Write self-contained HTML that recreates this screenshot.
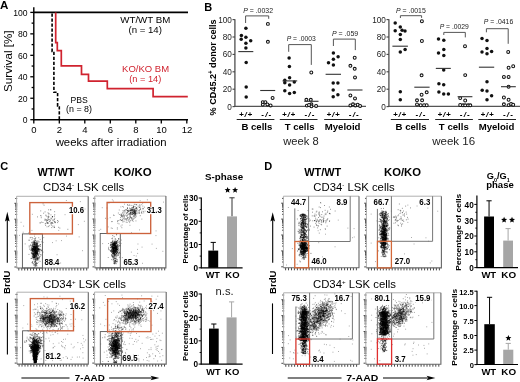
<!DOCTYPE html>
<html><head><meta charset="utf-8"><style>
html,body{margin:0;padding:0;background:#fff;}
svg{display:block;font-family:"Liberation Sans", sans-serif;filter:blur(0.3px);}
</style></head><body>
<svg width="520" height="382" viewBox="0 0 520 382">
<rect width="520" height="382" fill="#fff"/>
<text x="0.10" y="8.70" font-size="11.6" font-weight="bold">A</text>
<line x1="33.80" y1="7.30" x2="33.80" y2="120.30" stroke="#000" stroke-width="1.4"/>
<line x1="33.20" y1="119.70" x2="188.00" y2="119.70" stroke="#000" stroke-width="1.4"/>
<line x1="30.30" y1="119.70" x2="33.80" y2="119.70" stroke="#000" stroke-width="1.3"/>
<text x="27.60" y="123.20" font-size="8.6" text-anchor="end">0</text>
<line x1="31.60" y1="108.97" x2="33.80" y2="108.97" stroke="#000" stroke-width="1.3"/>
<line x1="30.30" y1="98.24" x2="33.80" y2="98.24" stroke="#000" stroke-width="1.3"/>
<text x="27.60" y="101.74" font-size="8.6" text-anchor="end">20</text>
<line x1="31.60" y1="87.51" x2="33.80" y2="87.51" stroke="#000" stroke-width="1.3"/>
<line x1="30.30" y1="76.78" x2="33.80" y2="76.78" stroke="#000" stroke-width="1.3"/>
<text x="27.60" y="80.28" font-size="8.6" text-anchor="end">40</text>
<line x1="31.60" y1="66.05" x2="33.80" y2="66.05" stroke="#000" stroke-width="1.3"/>
<line x1="30.30" y1="55.32" x2="33.80" y2="55.32" stroke="#000" stroke-width="1.3"/>
<text x="27.60" y="58.82" font-size="8.6" text-anchor="end">60</text>
<line x1="31.60" y1="44.59" x2="33.80" y2="44.59" stroke="#000" stroke-width="1.3"/>
<line x1="30.30" y1="33.86" x2="33.80" y2="33.86" stroke="#000" stroke-width="1.3"/>
<text x="27.60" y="37.36" font-size="8.6" text-anchor="end">80</text>
<line x1="31.60" y1="23.13" x2="33.80" y2="23.13" stroke="#000" stroke-width="1.3"/>
<line x1="30.30" y1="12.40" x2="33.80" y2="12.40" stroke="#000" stroke-width="1.3"/>
<text x="27.60" y="15.90" font-size="8.6" text-anchor="end">100</text>
<line x1="33.80" y1="119.70" x2="33.80" y2="123.40" stroke="#000" stroke-width="1.3"/>
<text x="34.00" y="133.20" font-size="9.5" text-anchor="middle">0</text>
<line x1="59.30" y1="119.70" x2="59.30" y2="123.40" stroke="#000" stroke-width="1.3"/>
<text x="59.50" y="133.20" font-size="9.5" text-anchor="middle">2</text>
<line x1="84.80" y1="119.70" x2="84.80" y2="123.40" stroke="#000" stroke-width="1.3"/>
<text x="85.00" y="133.20" font-size="9.5" text-anchor="middle">4</text>
<line x1="110.30" y1="119.70" x2="110.30" y2="123.40" stroke="#000" stroke-width="1.3"/>
<text x="110.50" y="133.20" font-size="9.5" text-anchor="middle">6</text>
<line x1="135.80" y1="119.70" x2="135.80" y2="123.40" stroke="#000" stroke-width="1.3"/>
<text x="136.00" y="133.20" font-size="9.5" text-anchor="middle">8</text>
<line x1="161.30" y1="119.70" x2="161.30" y2="123.40" stroke="#000" stroke-width="1.3"/>
<text x="161.50" y="133.20" font-size="9.5" text-anchor="middle">10</text>
<line x1="186.80" y1="119.70" x2="186.80" y2="123.40" stroke="#000" stroke-width="1.3"/>
<text x="187.00" y="133.20" font-size="9.5" text-anchor="middle">12</text>
<text x="111.10" y="145.60" font-size="11.4" text-anchor="middle" textLength="110.8" lengthAdjust="spacingAndGlyphs">weeks after irradiation</text>
<text x="12.00" y="61.20" font-size="10.8" text-anchor="middle" textLength="61.4" lengthAdjust="spacingAndGlyphs" transform="rotate(-90 12.00 61.20)">Survival [%]</text>
<line x1="33.80" y1="12.40" x2="188.00" y2="12.40" stroke="#000" stroke-width="1.6"/>
<path d="M55.7 12.4 V42.7 H57.3 V50.6 H61.3 V65.8 H81.5 V74.4 H88.5 V81.1 H107.3 V88.7 H153.1 V96.7 H187.8" stroke="#d0232f" stroke-width="1.7" fill="none"/>
<path d="M52.1 12.4 V51.4 H53.9 V92.3 H57.6 V105.9 H59.3 V119.7" stroke="#000" stroke-width="1.6" fill="none" stroke-dasharray="3.3 1.7" stroke-dashoffset="3.9"/>
<text x="145.30" y="23.30" font-size="9.6" text-anchor="middle" textLength="50" lengthAdjust="spacingAndGlyphs">WT/WT BM</text>
<text x="145.20" y="32.80" font-size="9.6" text-anchor="middle" textLength="33.5" lengthAdjust="spacingAndGlyphs">(n = 14)</text>
<text x="145.60" y="71.70" font-size="9.6" text-anchor="middle" fill="#d0232f" textLength="47" lengthAdjust="spacingAndGlyphs">KO/KO BM</text>
<text x="145.30" y="81.90" font-size="9.6" text-anchor="middle" fill="#d0232f" textLength="32" lengthAdjust="spacingAndGlyphs">(n = 14)</text>
<text x="79.10" y="103.00" font-size="9.1" text-anchor="middle" textLength="17.3" lengthAdjust="spacingAndGlyphs">PBS</text>
<text x="79.00" y="112.40" font-size="9.1" text-anchor="middle" textLength="26" lengthAdjust="spacingAndGlyphs">(n = 8)</text>
<text x="204.20" y="10.50" font-size="11" font-weight="bold">B</text>
<text x="216.50" y="67.40" font-size="9.6" font-weight="bold" text-anchor="middle" textLength="96" lengthAdjust="spacingAndGlyphs" transform="rotate(-90 216.50 67.40)">% CD45.2<tspan font-size="6.5" dy="-3.5">+</tspan><tspan dy="3.5"> donor cells</tspan></text>
<line x1="234.90" y1="19.20" x2="234.90" y2="107.00" stroke="#555" stroke-width="1.35"/>
<line x1="234.30" y1="106.30" x2="366.00" y2="106.30" stroke="#555" stroke-width="1.35"/>
<line x1="232.50" y1="106.60" x2="234.90" y2="106.60" stroke="#444" stroke-width="1.1"/>
<text x="231.90" y="109.60" font-size="8.2" text-anchor="end" fill="#222">0</text>
<line x1="232.50" y1="89.20" x2="234.90" y2="89.20" stroke="#444" stroke-width="1.1"/>
<text x="231.90" y="92.20" font-size="8.2" text-anchor="end" fill="#222">20</text>
<line x1="232.50" y1="71.80" x2="234.90" y2="71.80" stroke="#444" stroke-width="1.1"/>
<text x="231.90" y="74.80" font-size="8.2" text-anchor="end" fill="#222">40</text>
<line x1="232.50" y1="54.40" x2="234.90" y2="54.40" stroke="#444" stroke-width="1.1"/>
<text x="231.90" y="57.40" font-size="8.2" text-anchor="end" fill="#222">60</text>
<line x1="232.50" y1="37.00" x2="234.90" y2="37.00" stroke="#444" stroke-width="1.1"/>
<text x="231.90" y="40.00" font-size="8.2" text-anchor="end" fill="#222">80</text>
<line x1="232.50" y1="19.60" x2="234.90" y2="19.60" stroke="#444" stroke-width="1.1"/>
<text x="231.90" y="22.60" font-size="8.2" text-anchor="end" fill="#222">100</text>
<line x1="388.90" y1="19.20" x2="388.90" y2="107.00" stroke="#555" stroke-width="1.35"/>
<line x1="388.30" y1="106.30" x2="520.00" y2="106.30" stroke="#555" stroke-width="1.35"/>
<line x1="386.50" y1="106.60" x2="388.90" y2="106.60" stroke="#444" stroke-width="1.1"/>
<text x="385.90" y="109.60" font-size="8.2" text-anchor="end" fill="#222">0</text>
<line x1="386.50" y1="89.20" x2="388.90" y2="89.20" stroke="#444" stroke-width="1.1"/>
<text x="385.90" y="92.20" font-size="8.2" text-anchor="end" fill="#222">20</text>
<line x1="386.50" y1="71.80" x2="388.90" y2="71.80" stroke="#444" stroke-width="1.1"/>
<text x="385.90" y="74.80" font-size="8.2" text-anchor="end" fill="#222">40</text>
<line x1="386.50" y1="54.40" x2="388.90" y2="54.40" stroke="#444" stroke-width="1.1"/>
<text x="385.90" y="57.40" font-size="8.2" text-anchor="end" fill="#222">60</text>
<line x1="386.50" y1="37.00" x2="388.90" y2="37.00" stroke="#444" stroke-width="1.1"/>
<text x="385.90" y="40.00" font-size="8.2" text-anchor="end" fill="#222">80</text>
<line x1="386.50" y1="19.60" x2="388.90" y2="19.60" stroke="#444" stroke-width="1.1"/>
<text x="385.90" y="22.60" font-size="8.2" text-anchor="end" fill="#222">100</text>
<circle cx="245.90" cy="28.20" r="1.75" fill="#111" stroke="none" stroke-width="1"/>
<circle cx="241.40" cy="35.40" r="1.75" fill="#111" stroke="none" stroke-width="1"/>
<circle cx="241.20" cy="39.20" r="1.75" fill="#111" stroke="none" stroke-width="1"/>
<circle cx="245.90" cy="37.30" r="1.75" fill="#111" stroke="none" stroke-width="1"/>
<circle cx="250.70" cy="40.70" r="1.75" fill="#111" stroke="none" stroke-width="1"/>
<circle cx="245.90" cy="43.20" r="1.75" fill="#111" stroke="none" stroke-width="1"/>
<circle cx="245.90" cy="48.10" r="1.75" fill="#111" stroke="none" stroke-width="1"/>
<circle cx="246.20" cy="62.40" r="1.75" fill="#111" stroke="none" stroke-width="1"/>
<circle cx="246.20" cy="87.10" r="1.75" fill="#111" stroke="none" stroke-width="1"/>
<circle cx="246.20" cy="96.90" r="1.75" fill="#111" stroke="none" stroke-width="1"/>
<circle cx="267.90" cy="23.90" r="1.45" fill="#fff" stroke="#111" stroke-width="1.05"/>
<circle cx="267.90" cy="41.80" r="1.45" fill="#fff" stroke="#111" stroke-width="1.05"/>
<circle cx="272.60" cy="97.90" r="1.45" fill="#fff" stroke="#111" stroke-width="1.05"/>
<circle cx="262.80" cy="102.10" r="1.45" fill="#fff" stroke="#111" stroke-width="1.05"/>
<circle cx="265.40" cy="102.10" r="1.45" fill="#fff" stroke="#111" stroke-width="1.05"/>
<circle cx="262.80" cy="104.60" r="1.45" fill="#fff" stroke="#111" stroke-width="1.05"/>
<circle cx="267.40" cy="104.40" r="1.45" fill="#fff" stroke="#111" stroke-width="1.05"/>
<circle cx="270.60" cy="105.40" r="1.45" fill="#fff" stroke="#111" stroke-width="1.05"/>
<line x1="238.30" y1="51.60" x2="253.30" y2="51.60" stroke="#333" stroke-width="1.1"/>
<line x1="260.20" y1="90.50" x2="275.20" y2="90.50" stroke="#333" stroke-width="1.1"/>
<circle cx="289.10" cy="58.00" r="1.75" fill="#111" stroke="none" stroke-width="1"/>
<circle cx="289.40" cy="66.50" r="1.75" fill="#111" stroke="none" stroke-width="1"/>
<circle cx="289.60" cy="77.70" r="1.75" fill="#111" stroke="none" stroke-width="1"/>
<circle cx="284.80" cy="80.30" r="1.75" fill="#111" stroke="none" stroke-width="1"/>
<circle cx="284.80" cy="82.70" r="1.75" fill="#111" stroke="none" stroke-width="1"/>
<circle cx="294.30" cy="82.10" r="1.75" fill="#111" stroke="none" stroke-width="1"/>
<circle cx="289.60" cy="85.00" r="1.75" fill="#111" stroke="none" stroke-width="1"/>
<circle cx="284.80" cy="90.70" r="1.75" fill="#111" stroke="none" stroke-width="1"/>
<circle cx="289.60" cy="93.50" r="1.75" fill="#111" stroke="none" stroke-width="1"/>
<circle cx="294.30" cy="92.40" r="1.75" fill="#111" stroke="none" stroke-width="1"/>
<circle cx="311.30" cy="72.50" r="1.45" fill="#fff" stroke="#111" stroke-width="1.05"/>
<circle cx="306.40" cy="99.80" r="1.45" fill="#fff" stroke="#111" stroke-width="1.05"/>
<circle cx="310.80" cy="99.80" r="1.45" fill="#fff" stroke="#111" stroke-width="1.05"/>
<circle cx="306.90" cy="105.60" r="1.45" fill="#fff" stroke="#111" stroke-width="1.05"/>
<circle cx="311.40" cy="104.30" r="1.45" fill="#fff" stroke="#111" stroke-width="1.05"/>
<circle cx="311.40" cy="106.30" r="1.45" fill="#fff" stroke="#111" stroke-width="1.05"/>
<circle cx="316.10" cy="105.90" r="1.45" fill="#fff" stroke="#111" stroke-width="1.05"/>
<circle cx="309.00" cy="105.00" r="1.45" fill="#fff" stroke="#111" stroke-width="1.05"/>
<line x1="282.50" y1="80.90" x2="297.20" y2="80.90" stroke="#333" stroke-width="1.1"/>
<line x1="304.30" y1="101.30" x2="318.50" y2="101.30" stroke="#333" stroke-width="1.1"/>
<circle cx="333.40" cy="53.10" r="1.75" fill="#111" stroke="none" stroke-width="1"/>
<circle cx="338.10" cy="56.70" r="1.75" fill="#111" stroke="none" stroke-width="1"/>
<circle cx="333.40" cy="59.30" r="1.75" fill="#111" stroke="none" stroke-width="1"/>
<circle cx="328.50" cy="62.70" r="1.75" fill="#111" stroke="none" stroke-width="1"/>
<circle cx="333.40" cy="64.90" r="1.75" fill="#111" stroke="none" stroke-width="1"/>
<circle cx="333.20" cy="82.90" r="1.75" fill="#111" stroke="none" stroke-width="1"/>
<circle cx="337.90" cy="82.90" r="1.75" fill="#111" stroke="none" stroke-width="1"/>
<circle cx="333.20" cy="90.10" r="1.75" fill="#111" stroke="none" stroke-width="1"/>
<circle cx="337.90" cy="94.70" r="1.75" fill="#111" stroke="none" stroke-width="1"/>
<circle cx="333.20" cy="96.80" r="1.75" fill="#111" stroke="none" stroke-width="1"/>
<circle cx="354.70" cy="57.70" r="1.45" fill="#fff" stroke="#111" stroke-width="1.05"/>
<circle cx="350.40" cy="65.80" r="1.45" fill="#fff" stroke="#111" stroke-width="1.05"/>
<circle cx="354.70" cy="68.80" r="1.45" fill="#fff" stroke="#111" stroke-width="1.05"/>
<circle cx="355.00" cy="77.40" r="1.45" fill="#fff" stroke="#111" stroke-width="1.05"/>
<circle cx="350.40" cy="95.40" r="1.45" fill="#fff" stroke="#111" stroke-width="1.05"/>
<circle cx="355.00" cy="98.40" r="1.45" fill="#fff" stroke="#111" stroke-width="1.05"/>
<circle cx="350.40" cy="105.40" r="1.45" fill="#fff" stroke="#111" stroke-width="1.05"/>
<circle cx="353.00" cy="104.30" r="1.45" fill="#fff" stroke="#111" stroke-width="1.05"/>
<circle cx="355.40" cy="105.40" r="1.45" fill="#fff" stroke="#111" stroke-width="1.05"/>
<circle cx="357.70" cy="104.70" r="1.45" fill="#fff" stroke="#111" stroke-width="1.05"/>
<circle cx="360.10" cy="105.90" r="1.45" fill="#fff" stroke="#111" stroke-width="1.05"/>
<line x1="325.60" y1="74.30" x2="341.00" y2="74.30" stroke="#333" stroke-width="1.1"/>
<line x1="347.40" y1="90.00" x2="362.50" y2="90.00" stroke="#333" stroke-width="1.1"/>
<circle cx="395.20" cy="23.00" r="1.75" fill="#111" stroke="none" stroke-width="1"/>
<circle cx="400.30" cy="27.10" r="1.75" fill="#111" stroke="none" stroke-width="1"/>
<circle cx="395.20" cy="30.70" r="1.75" fill="#111" stroke="none" stroke-width="1"/>
<circle cx="402.10" cy="30.20" r="1.75" fill="#111" stroke="none" stroke-width="1"/>
<circle cx="405.00" cy="31.00" r="1.75" fill="#111" stroke="none" stroke-width="1"/>
<circle cx="400.30" cy="34.60" r="1.75" fill="#111" stroke="none" stroke-width="1"/>
<circle cx="400.30" cy="39.60" r="1.75" fill="#111" stroke="none" stroke-width="1"/>
<circle cx="400.30" cy="52.10" r="1.75" fill="#111" stroke="none" stroke-width="1"/>
<circle cx="405.10" cy="49.50" r="1.75" fill="#111" stroke="none" stroke-width="1"/>
<circle cx="400.30" cy="91.80" r="1.75" fill="#111" stroke="none" stroke-width="1"/>
<circle cx="400.30" cy="99.80" r="1.75" fill="#111" stroke="none" stroke-width="1"/>
<circle cx="421.90" cy="21.30" r="1.45" fill="#fff" stroke="#111" stroke-width="1.05"/>
<circle cx="421.90" cy="41.00" r="1.45" fill="#fff" stroke="#111" stroke-width="1.05"/>
<circle cx="421.60" cy="75.30" r="1.45" fill="#fff" stroke="#111" stroke-width="1.05"/>
<circle cx="426.70" cy="92.30" r="1.45" fill="#fff" stroke="#111" stroke-width="1.05"/>
<circle cx="421.60" cy="94.70" r="1.45" fill="#fff" stroke="#111" stroke-width="1.05"/>
<circle cx="417.00" cy="100.30" r="1.45" fill="#fff" stroke="#111" stroke-width="1.05"/>
<circle cx="422.10" cy="100.30" r="1.45" fill="#fff" stroke="#111" stroke-width="1.05"/>
<circle cx="417.00" cy="104.50" r="1.45" fill="#fff" stroke="#111" stroke-width="1.05"/>
<circle cx="420.70" cy="105.20" r="1.45" fill="#fff" stroke="#111" stroke-width="1.05"/>
<circle cx="424.10" cy="105.20" r="1.45" fill="#fff" stroke="#111" stroke-width="1.05"/>
<circle cx="426.70" cy="105.20" r="1.45" fill="#fff" stroke="#111" stroke-width="1.05"/>
<line x1="392.40" y1="46.20" x2="407.90" y2="46.20" stroke="#333" stroke-width="1.1"/>
<line x1="414.30" y1="87.20" x2="429.60" y2="87.20" stroke="#333" stroke-width="1.1"/>
<circle cx="438.50" cy="39.10" r="1.75" fill="#111" stroke="none" stroke-width="1"/>
<circle cx="443.80" cy="40.30" r="1.75" fill="#111" stroke="none" stroke-width="1"/>
<circle cx="443.80" cy="49.40" r="1.75" fill="#111" stroke="none" stroke-width="1"/>
<circle cx="438.50" cy="52.90" r="1.75" fill="#111" stroke="none" stroke-width="1"/>
<circle cx="443.80" cy="55.40" r="1.75" fill="#111" stroke="none" stroke-width="1"/>
<circle cx="443.70" cy="70.10" r="1.75" fill="#111" stroke="none" stroke-width="1"/>
<circle cx="438.90" cy="83.80" r="1.75" fill="#111" stroke="none" stroke-width="1"/>
<circle cx="443.70" cy="84.80" r="1.75" fill="#111" stroke="none" stroke-width="1"/>
<circle cx="438.90" cy="92.10" r="1.75" fill="#111" stroke="none" stroke-width="1"/>
<circle cx="443.70" cy="94.10" r="1.75" fill="#111" stroke="none" stroke-width="1"/>
<circle cx="448.40" cy="94.10" r="1.75" fill="#111" stroke="none" stroke-width="1"/>
<circle cx="465.00" cy="46.20" r="1.45" fill="#fff" stroke="#111" stroke-width="1.05"/>
<circle cx="465.20" cy="75.10" r="1.45" fill="#fff" stroke="#111" stroke-width="1.05"/>
<circle cx="460.20" cy="98.10" r="1.45" fill="#fff" stroke="#111" stroke-width="1.05"/>
<circle cx="465.20" cy="100.50" r="1.45" fill="#fff" stroke="#111" stroke-width="1.05"/>
<circle cx="460.20" cy="105.00" r="1.45" fill="#fff" stroke="#111" stroke-width="1.05"/>
<circle cx="463.00" cy="105.30" r="1.45" fill="#fff" stroke="#111" stroke-width="1.05"/>
<circle cx="465.20" cy="105.30" r="1.45" fill="#fff" stroke="#111" stroke-width="1.05"/>
<circle cx="468.10" cy="105.30" r="1.45" fill="#fff" stroke="#111" stroke-width="1.05"/>
<circle cx="470.30" cy="105.30" r="1.45" fill="#fff" stroke="#111" stroke-width="1.05"/>
<line x1="435.80" y1="68.40" x2="450.80" y2="68.40" stroke="#333" stroke-width="1.1"/>
<line x1="457.60" y1="96.70" x2="472.40" y2="96.70" stroke="#333" stroke-width="1.1"/>
<circle cx="482.00" cy="38.50" r="1.75" fill="#111" stroke="none" stroke-width="1"/>
<circle cx="487.00" cy="40.40" r="1.75" fill="#111" stroke="none" stroke-width="1"/>
<circle cx="487.00" cy="48.60" r="1.75" fill="#111" stroke="none" stroke-width="1"/>
<circle cx="482.00" cy="52.10" r="1.75" fill="#111" stroke="none" stroke-width="1"/>
<circle cx="491.60" cy="51.60" r="1.75" fill="#111" stroke="none" stroke-width="1"/>
<circle cx="487.00" cy="53.80" r="1.75" fill="#111" stroke="none" stroke-width="1"/>
<circle cx="487.00" cy="81.70" r="1.75" fill="#111" stroke="none" stroke-width="1"/>
<circle cx="482.20" cy="90.30" r="1.75" fill="#111" stroke="none" stroke-width="1"/>
<circle cx="487.00" cy="91.00" r="1.75" fill="#111" stroke="none" stroke-width="1"/>
<circle cx="491.60" cy="95.80" r="1.75" fill="#111" stroke="none" stroke-width="1"/>
<circle cx="487.00" cy="99.70" r="1.75" fill="#111" stroke="none" stroke-width="1"/>
<circle cx="508.20" cy="51.90" r="1.45" fill="#fff" stroke="#111" stroke-width="1.05"/>
<circle cx="508.60" cy="67.70" r="1.45" fill="#fff" stroke="#111" stroke-width="1.05"/>
<circle cx="513.20" cy="66.20" r="1.45" fill="#fff" stroke="#111" stroke-width="1.05"/>
<circle cx="503.90" cy="76.90" r="1.45" fill="#fff" stroke="#111" stroke-width="1.05"/>
<circle cx="508.60" cy="76.90" r="1.45" fill="#fff" stroke="#111" stroke-width="1.05"/>
<circle cx="508.60" cy="86.70" r="1.45" fill="#fff" stroke="#111" stroke-width="1.05"/>
<circle cx="503.90" cy="97.50" r="1.45" fill="#fff" stroke="#111" stroke-width="1.05"/>
<circle cx="508.60" cy="99.70" r="1.45" fill="#fff" stroke="#111" stroke-width="1.05"/>
<circle cx="503.90" cy="104.30" r="1.45" fill="#fff" stroke="#111" stroke-width="1.05"/>
<circle cx="508.60" cy="105.10" r="1.45" fill="#fff" stroke="#111" stroke-width="1.05"/>
<circle cx="511.10" cy="104.00" r="1.45" fill="#fff" stroke="#111" stroke-width="1.05"/>
<circle cx="513.20" cy="104.70" r="1.45" fill="#fff" stroke="#111" stroke-width="1.05"/>
<line x1="478.90" y1="67.20" x2="494.20" y2="67.20" stroke="#333" stroke-width="1.1"/>
<line x1="501.00" y1="86.70" x2="515.80" y2="86.70" stroke="#333" stroke-width="1.1"/>
<path d="M245.6 23.0 V15.9 H268.7 V18.8" stroke="#555" stroke-width="1.0" fill="none"/>
<text x="243.20" y="12.70" font-size="7.2" fill="#1a1a1a" textLength="29.8" lengthAdjust="spacingAndGlyphs"><tspan font-style="italic">P</tspan> = .0032</text>
<path d="M288.7 51.8 V44.6 H311.3 V64.9" stroke="#555" stroke-width="1.0" fill="none"/>
<text x="286.70" y="41.40" font-size="7.2" fill="#1a1a1a" textLength="29.2" lengthAdjust="spacingAndGlyphs"><tspan font-style="italic">P</tspan> = .0003</text>
<path d="M333.4 46.0 V39.1 H355.3 V50.1" stroke="#555" stroke-width="1.0" fill="none"/>
<text x="332.00" y="35.50" font-size="7.2" fill="#1a1a1a" textLength="26.2" lengthAdjust="spacingAndGlyphs"><tspan font-style="italic">P</tspan> = .059</text>
<path d="M400.4 18.0 V15.7 H421.6 V17.9" stroke="#555" stroke-width="1.0" fill="none"/>
<text x="396.10" y="12.70" font-size="7.2" fill="#1a1a1a" textLength="29.7" lengthAdjust="spacingAndGlyphs"><tspan font-style="italic">P</tspan> = .0015</text>
<path d="M443.8 35.0 V32.4 H465.3 V37.4" stroke="#555" stroke-width="1.0" fill="none"/>
<text x="439.70" y="28.50" font-size="7.2" fill="#1a1a1a" textLength="29.2" lengthAdjust="spacingAndGlyphs"><tspan font-style="italic">P</tspan> = .0029</text>
<path d="M486.4 32.3 V28.7 H508.2 V43.8" stroke="#555" stroke-width="1.0" fill="none"/>
<text x="483.70" y="24.40" font-size="7.2" fill="#1a1a1a" textLength="29.5" lengthAdjust="spacingAndGlyphs"><tspan font-style="italic">P</tspan> = .0416</text>
<line x1="236.70" y1="119.50" x2="274.40" y2="119.50" stroke="#222" stroke-width="1.0"/>
<text x="256.90" y="130.00" font-size="9.6" font-weight="bold" text-anchor="middle">B cells</text>
<text x="238.90" y="116.70" font-size="8.0" font-weight="bold" font-style="italic" letter-spacing="0.85">+/+</text>
<text x="261.30" y="116.70" font-size="8.0" font-weight="bold" font-style="italic" letter-spacing="1.2">-/-</text>
<line x1="279.80" y1="119.50" x2="317.50" y2="119.50" stroke="#222" stroke-width="1.0"/>
<text x="299.60" y="130.00" font-size="9.6" font-weight="bold" text-anchor="middle">T cells</text>
<text x="282.00" y="116.70" font-size="8.0" font-weight="bold" font-style="italic" letter-spacing="0.85">+/+</text>
<text x="304.40" y="116.70" font-size="8.0" font-weight="bold" font-style="italic" letter-spacing="1.2">-/-</text>
<line x1="324.20" y1="119.50" x2="361.90" y2="119.50" stroke="#222" stroke-width="1.0"/>
<text x="342.60" y="130.00" font-size="9.6" font-weight="bold" text-anchor="middle">Myeloid</text>
<text x="326.40" y="116.70" font-size="8.0" font-weight="bold" font-style="italic" letter-spacing="0.85">+/+</text>
<text x="348.80" y="116.70" font-size="8.0" font-weight="bold" font-style="italic" letter-spacing="1.2">-/-</text>
<line x1="390.80" y1="119.50" x2="429.00" y2="119.50" stroke="#222" stroke-width="1.0"/>
<text x="411.00" y="130.00" font-size="9.6" font-weight="bold" text-anchor="middle">B cells</text>
<text x="393.00" y="116.70" font-size="8.0" font-weight="bold" font-style="italic" letter-spacing="0.85">+/+</text>
<text x="415.40" y="116.70" font-size="8.0" font-weight="bold" font-style="italic" letter-spacing="1.2">-/-</text>
<line x1="435.20" y1="119.50" x2="472.90" y2="119.50" stroke="#222" stroke-width="1.0"/>
<text x="453.80" y="130.00" font-size="9.6" font-weight="bold" text-anchor="middle">T cells</text>
<text x="437.40" y="116.70" font-size="8.0" font-weight="bold" font-style="italic" letter-spacing="0.85">+/+</text>
<text x="459.80" y="116.70" font-size="8.0" font-weight="bold" font-style="italic" letter-spacing="1.2">-/-</text>
<line x1="478.30" y1="119.50" x2="516.00" y2="119.50" stroke="#222" stroke-width="1.0"/>
<text x="496.50" y="130.00" font-size="9.6" font-weight="bold" text-anchor="middle">Myeloid</text>
<text x="480.50" y="116.70" font-size="8.0" font-weight="bold" font-style="italic" letter-spacing="0.85">+/+</text>
<text x="502.90" y="116.70" font-size="8.0" font-weight="bold" font-style="italic" letter-spacing="1.2">-/-</text>
<text x="301.00" y="144.80" font-size="11" text-anchor="middle" fill="#222" textLength="35.4" lengthAdjust="spacingAndGlyphs">week 8</text>
<text x="453.70" y="144.80" font-size="11" text-anchor="middle" fill="#222" textLength="43.0" lengthAdjust="spacingAndGlyphs">week 16</text>
<text x="0.30" y="170.40" font-size="11" font-weight="bold">C</text>
<text x="56.00" y="175.80" font-size="10.4" font-weight="bold" text-anchor="middle" textLength="37" lengthAdjust="spacingAndGlyphs">WT/WT</text>
<text x="132.80" y="175.80" font-size="10.4" font-weight="bold" text-anchor="middle" textLength="37.5" lengthAdjust="spacingAndGlyphs">KO/KO</text>
<text x="43.00" y="191.20" font-size="11" textLength="81.3" lengthAdjust="spacingAndGlyphs">CD34<tspan font-size="6" dy="-4">-</tspan><tspan dy="4"> LSK cells</tspan></text>
<text x="43.00" y="287.80" font-size="11" textLength="83" lengthAdjust="spacingAndGlyphs">CD34<tspan font-size="6" dy="-4">+</tspan><tspan dy="4"> LSK cells</tspan></text>
<line x1="7.30" y1="262.80" x2="7.30" y2="219.00" stroke="#000" stroke-width="1.1"/>
<path d="M7.3 211.8 L9.6 221.5 L7.3 220 L5.0 221.5 Z" stroke="none" stroke-width="0" fill="#000"/>
<text x="10.30" y="282.20" font-size="9.6" font-weight="bold" text-anchor="middle" textLength="23.4" lengthAdjust="spacingAndGlyphs" transform="rotate(-90 10.30 282.20)">BrdU</text>
<line x1="7.40" y1="302.80" x2="7.40" y2="354.50" stroke="#000" stroke-width="1.1"/>
<line x1="21.40" y1="378.00" x2="69.50" y2="378.00" stroke="#000" stroke-width="1.1"/>
<text x="89.80" y="381.20" font-size="9.6" font-weight="bold" text-anchor="middle" textLength="30" lengthAdjust="spacingAndGlyphs">7-AAD</text>
<line x1="109.10" y1="378.00" x2="153.00" y2="378.00" stroke="#000" stroke-width="1.1"/>
<path d="M159.4 378 L150.5 375.7 L152.5 378 L150.5 380.3 Z" stroke="none" stroke-width="0" fill="#000"/>
<path d="M18.8 268.0v2.5M21.8 268.0v2.5M24.7 268.0v2.5M27.6 268.0v2.5M30.6 268.0v2.5M33.5 268.0v2.5M36.5 268.0v2.5M39.5 268.0v2.5M42.4 268.0v2.5M45.4 268.0v2.5M48.3 268.0v2.5M51.3 268.0v2.5M54.2 268.0v2.5M57.2 268.0v2.5M60.1 268.0v2.5M63.1 268.0v2.5M66.0 268.0v2.5M69.0 268.0v2.5M71.9 268.0v2.5M74.9 268.0v2.5M77.8 268.0v2.5M80.8 268.0v2.5M83.7 268.0v2.5M86.7 268.0v2.5M17.2 267.0h-2.8M17.2 262.2h-2.0M17.2 259.4h-2.0M17.2 257.4h-2.0M17.2 255.9h-2.0M17.2 254.6h-2.0M17.2 253.5h-2.0M17.2 252.6h-2.0M17.2 251.8h-2.0M17.2 251.1h-2.8M17.2 246.3h-2.0M17.2 243.5h-2.0M17.2 241.5h-2.0M17.2 239.9h-2.0M17.2 238.7h-2.0M17.2 237.6h-2.0M17.2 236.7h-2.0M17.2 235.9h-2.0M17.2 235.1h-2.8M17.2 230.3h-2.0M17.2 227.5h-2.0M17.2 225.5h-2.0M17.2 224.0h-2.0M17.2 222.7h-2.0M17.2 221.7h-2.0M17.2 220.7h-2.0M17.2 219.9h-2.0M17.2 219.2h-2.8M17.2 214.4h-2.0M17.2 211.6h-2.0M17.2 209.6h-2.0M17.2 208.1h-2.0M17.2 206.8h-2.0M17.2 205.7h-2.0M17.2 204.8h-2.0M17.2 204.0h-2.0M17.2 203.3h-2.8M17.2 198.5h-2.0" stroke="#333" stroke-width="0.9"/>
<path d="M16.6 268.0V196.3H88.2" stroke="#b0b0b0" stroke-width="1.0" fill="none"/>
<path d="M88.2 196.3V268.0H16.6" stroke="#666" stroke-width="1.1" fill="none"/>
<g stroke="#000" stroke-width="0.9" stroke-opacity="0.55"><path d="M32.6 251.9h0.9M36.6 248.7h0.9M32.4 250.3h0.9M35.7 254.5h0.9M32.6 245.8h0.9M36.1 252.2h0.9M37.6 254.0h0.9M34.6 249.5h0.9M39.4 249.5h0.9M33.4 246.4h0.9M35.0 251.0h0.9M34.2 250.3h0.9M35.3 253.0h0.9M36.8 251.3h0.9M31.6 253.0h0.9M32.2 249.9h0.9M32.1 250.5h0.9M33.4 251.3h0.9M40.7 250.3h0.9M36.3 245.7h0.9M34.3 252.9h0.9M34.6 251.8h0.9M35.0 246.9h0.9M35.8 247.6h0.9M38.2 248.7h0.9M36.0 250.5h0.9M36.5 248.3h0.9M36.6 250.1h0.9M37.1 252.7h0.9M35.1 247.7h0.9M36.2 252.2h0.9M37.8 249.1h0.9M35.8 252.3h0.9M35.3 251.3h0.9M35.1 248.3h0.9M33.0 249.1h0.9M35.9 255.9h0.9M36.6 254.3h0.9M36.2 253.0h0.9M35.1 253.3h0.9M38.0 249.3h0.9M33.6 257.6h0.9M35.2 254.0h0.9M36.4 246.4h0.9M39.2 256.9h0.9M35.1 253.2h0.9M35.0 247.3h0.9M34.6 251.8h0.9M36.8 253.1h0.9M34.9 255.4h0.9M33.4 253.4h0.9M36.8 249.4h0.9M31.6 247.2h0.9M35.2 252.4h0.9M37.6 246.9h0.9M34.8 252.8h0.9M34.5 242.0h0.9M36.3 258.8h0.9M36.6 247.2h0.9M34.1 251.3h0.9M39.3 252.7h0.9M35.0 256.1h0.9M34.7 257.2h0.9M33.6 248.8h0.9M36.1 255.6h0.9M36.0 251.6h0.9M31.5 247.9h0.9M33.7 248.6h0.9M35.9 249.3h0.9M36.2 250.8h0.9"/><path d="M34.2 250.9h0.9M35.6 253.6h0.9M33.9 249.7h0.9M32.3 256.3h0.9M37.4 249.9h0.9M33.9 246.1h0.9M35.1 251.2h0.9M38.7 251.4h0.9M33.4 241.7h0.9M37.3 251.2h0.9M31.9 251.1h0.9M31.9 263.0h0.9M36.8 252.6h0.9M34.5 242.8h0.9M34.6 244.9h0.9M35.9 242.8h0.9M33.2 254.9h0.9M37.8 246.2h0.9M32.0 253.7h0.9M36.3 246.9h0.9M33.6 248.0h0.9M32.7 248.1h0.9M37.1 253.0h0.9M38.5 250.2h0.9M34.6 247.0h0.9M34.6 245.8h0.9M31.6 253.0h0.9M37.4 253.5h0.9M37.2 251.4h0.9M33.5 250.8h0.9M34.1 246.5h0.9M31.8 245.2h0.9M34.8 251.0h0.9M33.9 255.6h0.9M35.1 252.6h0.9M37.0 247.5h0.9M31.3 253.2h0.9M33.6 255.2h0.9M35.4 254.1h0.9M36.2 243.0h0.9M36.1 248.1h0.9M33.4 248.9h0.9M36.2 253.7h0.9M36.6 244.5h0.9M33.7 241.9h0.9M34.6 252.7h0.9M33.4 251.4h0.9M35.2 254.1h0.9M33.3 247.5h0.9M33.4 256.8h0.9M36.8 250.1h0.9M35.2 250.9h0.9M35.2 249.7h0.9M34.2 246.0h0.9M33.6 256.4h0.9M35.8 250.7h0.9M34.4 250.7h0.9M35.4 248.2h0.9M35.2 251.4h0.9M33.5 247.7h0.9M33.0 246.7h0.9M36.4 242.0h0.9M34.3 248.3h0.9M33.7 250.9h0.9M36.8 250.8h0.9M34.5 248.3h0.9M34.6 253.8h0.9M34.1 246.4h0.9M32.5 246.5h0.9M32.3 254.5h0.9"/><path d="M35.4 249.6h0.9M37.4 248.1h0.9M36.2 253.4h0.9M32.0 244.9h0.9M33.1 253.8h0.9M37.1 246.1h0.9M36.7 249.1h0.9M34.1 248.5h0.9M34.2 244.0h0.9M33.0 246.1h0.9M35.7 258.0h0.9M39.7 249.3h0.9M31.7 249.0h0.9M33.1 257.6h0.9M35.8 247.9h0.9M36.5 252.4h0.9M31.9 248.6h0.9M34.4 250.6h0.9M35.0 249.3h0.9M35.1 248.4h0.9M33.2 256.0h0.9M35.4 252.1h0.9M31.9 249.9h0.9M36.3 245.9h0.9M36.8 249.1h0.9M35.5 250.0h0.9M35.2 254.8h0.9M34.1 256.1h0.9M33.4 247.1h0.9M36.1 246.7h0.9M34.1 253.8h0.9M37.0 244.1h0.9M35.7 257.3h0.9M37.0 249.6h0.9M33.7 249.4h0.9M32.7 249.5h0.9M34.5 250.0h0.9M36.9 249.7h0.9M32.2 254.3h0.9M32.9 248.9h0.9M34.6 249.3h0.9M33.0 249.6h0.9M38.7 248.3h0.9M34.6 254.5h0.9M36.1 253.2h0.9M36.4 243.4h0.9M33.2 251.0h0.9M35.7 255.2h0.9M35.6 249.6h0.9M34.9 249.7h0.9M35.2 252.9h0.9M34.2 247.6h0.9M33.3 254.4h0.9M37.1 254.1h0.9M36.3 253.5h0.9M34.8 252.9h0.9M32.9 249.8h0.9M33.5 253.1h0.9M33.8 250.1h0.9M35.5 255.4h0.9M33.4 247.1h0.9M36.3 246.5h0.9M35.6 248.4h0.9M34.6 243.9h0.9M36.1 248.7h0.9M33.2 258.0h0.9M36.1 263.1h0.9M35.5 249.2h0.9M35.0 256.3h0.9M34.8 252.1h0.9"/><path d="M35.7 247.2h0.9M35.0 248.7h0.9M32.6 253.6h0.9M36.0 250.8h0.9M33.2 243.3h0.9M35.7 250.1h0.9M31.8 250.3h0.9M32.1 250.4h0.9M35.1 251.8h0.9M35.2 251.1h0.9M32.7 249.1h0.9M33.9 249.7h0.9M35.3 252.7h0.9M37.7 241.3h0.9M35.5 249.8h0.9M38.9 253.9h0.9M31.8 251.9h0.9M33.9 254.1h0.9M32.9 250.1h0.9M34.6 250.2h0.9M33.7 243.9h0.9M35.6 254.1h0.9M34.7 246.8h0.9M35.2 252.5h0.9M34.5 250.4h0.9M37.3 246.5h0.9M33.8 243.6h0.9M33.5 247.8h0.9M33.1 248.0h0.9M38.0 249.8h0.9M34.6 258.4h0.9M34.7 244.3h0.9M35.5 247.1h0.9M37.7 246.0h0.9M33.8 244.7h0.9M35.0 246.8h0.9M34.7 249.1h0.9M33.7 253.9h0.9M36.5 250.7h0.9M33.2 246.6h0.9M35.3 259.1h0.9M34.0 247.7h0.9M33.5 246.6h0.9M33.0 249.8h0.9M37.4 250.5h0.9M33.9 244.7h0.9M35.2 250.4h0.9M32.6 246.6h0.9M34.7 254.1h0.9M35.9 251.2h0.9"/></g>
<g stroke="#000" stroke-width="0.9" stroke-opacity="0.5"><path d="M34.0 252.8h0.9M34.8 263.0h0.9M32.0 249.0h0.9M38.0 249.5h0.9M38.4 250.8h0.9M35.2 249.0h0.9M31.3 245.7h0.9M40.3 254.5h0.9M36.3 256.2h0.9M36.2 256.6h0.9M34.1 249.8h0.9M37.3 249.1h0.9M31.5 249.8h0.9M33.4 254.4h0.9M33.0 245.2h0.9M34.0 259.5h0.9M34.7 251.9h0.9M34.8 252.6h0.9M37.1 258.7h0.9M30.7 258.5h0.9M34.8 249.2h0.9M40.8 250.1h0.9M39.7 256.3h0.9M32.2 253.7h0.9M36.6 250.3h0.9M29.0 249.1h0.9M34.3 244.9h0.9M39.4 249.7h0.9M33.8 249.4h0.9M32.8 246.7h0.9M35.0 252.7h0.9M33.5 250.5h0.9M31.3 253.9h0.9M32.9 252.2h0.9M32.5 248.2h0.9M35.3 244.3h0.9M41.0 250.8h0.9M34.6 247.0h0.9M38.8 258.6h0.9M35.5 243.5h0.9M33.5 254.4h0.9M33.5 244.5h0.9M31.8 246.8h0.9M34.8 247.4h0.9M34.8 266.4h0.9M39.2 245.3h0.9M35.7 251.5h0.9M34.5 256.7h0.9M34.0 249.2h0.9M33.9 250.4h0.9M38.0 255.3h0.9M31.4 248.6h0.9M32.8 255.5h0.9M35.4 255.9h0.9M34.6 240.5h0.9M35.9 252.3h0.9M36.1 243.8h0.9M35.0 247.2h0.9M33.1 252.9h0.9M35.7 246.1h0.9M30.5 237.4h0.9M33.4 257.2h0.9M34.7 238.6h0.9M32.6 253.3h0.9M39.0 257.4h0.9M35.7 252.1h0.9M32.2 248.5h0.9M34.0 246.7h0.9M35.0 248.8h0.9M35.6 258.9h0.9"/><path d="M36.7 253.3h0.9M34.2 242.6h0.9M34.5 254.0h0.9M32.3 257.9h0.9M34.0 253.0h0.9M34.0 244.1h0.9M40.0 244.6h0.9M37.1 247.9h0.9M35.5 246.6h0.9M33.8 256.1h0.9M39.7 246.3h0.9M34.8 256.2h0.9M33.2 254.9h0.9M32.8 254.3h0.9M35.9 257.7h0.9M35.7 244.4h0.9M36.5 244.9h0.9M36.7 259.3h0.9M36.3 248.0h0.9M37.8 251.9h0.9M31.7 249.0h0.9M38.3 249.3h0.9M35.1 249.1h0.9M30.6 248.2h0.9M35.7 252.1h0.9M34.4 239.3h0.9M37.9 255.0h0.9M37.4 258.2h0.9M33.7 247.7h0.9M35.6 260.2h0.9M30.6 249.7h0.9M33.0 254.1h0.9M38.5 249.4h0.9M31.7 251.3h0.9M34.1 242.5h0.9M37.0 248.1h0.9M36.5 243.8h0.9M37.5 243.1h0.9M37.4 241.0h0.9M38.2 248.9h0.9M30.9 249.7h0.9M35.6 245.6h0.9M33.6 252.5h0.9M34.4 234.1h0.9M33.7 253.3h0.9M35.5 256.5h0.9M33.1 265.0h0.9M36.8 252.7h0.9M37.5 256.2h0.9M35.1 247.6h0.9M37.4 253.3h0.9M30.1 244.9h0.9M36.0 251.6h0.9M35.5 254.5h0.9M35.2 259.7h0.9M33.3 248.8h0.9M35.6 255.1h0.9M36.8 259.2h0.9M33.6 257.4h0.9M36.0 245.3h0.9M34.5 262.5h0.9M36.8 248.4h0.9M28.8 247.0h0.9M33.0 251.4h0.9M40.6 255.1h0.9M35.6 245.9h0.9M31.8 249.9h0.9M33.6 267.5h0.9M33.8 247.6h0.9M37.6 251.4h0.9"/><path d="M31.7 258.1h0.9M34.0 243.7h0.9M35.6 253.7h0.9M34.0 254.8h0.9M36.9 246.1h0.9M29.7 237.8h0.9M34.5 257.8h0.9M37.3 258.7h0.9M39.4 251.1h0.9M37.4 242.6h0.9M36.5 253.2h0.9M34.6 248.6h0.9M32.0 251.8h0.9M38.0 249.0h0.9M36.1 247.3h0.9M35.4 245.5h0.9M35.7 249.8h0.9M35.6 247.7h0.9M31.9 249.2h0.9M37.4 259.7h0.9M34.0 255.4h0.9M36.7 253.2h0.9M30.9 252.8h0.9M32.4 257.5h0.9M36.8 254.4h0.9M28.5 254.4h0.9M36.5 244.0h0.9M37.2 251.4h0.9M34.3 247.1h0.9M32.3 248.6h0.9M42.5 252.1h0.9M35.3 247.4h0.9M33.3 248.0h0.9M32.6 255.8h0.9M34.1 255.8h0.9M31.9 256.1h0.9M34.7 254.7h0.9M34.5 246.1h0.9M37.8 248.6h0.9M34.4 246.1h0.9M35.3 248.9h0.9M35.5 252.9h0.9M33.1 243.2h0.9M35.9 256.0h0.9M36.5 244.7h0.9M36.3 253.1h0.9M35.5 253.4h0.9M34.0 252.2h0.9M37.1 248.2h0.9M31.2 250.4h0.9M35.3 240.9h0.9M33.1 254.2h0.9M34.4 251.5h0.9M31.7 256.0h0.9M39.2 249.9h0.9M33.0 244.6h0.9M37.0 251.6h0.9M32.8 257.7h0.9M36.7 254.3h0.9M30.4 250.4h0.9M36.4 244.3h0.9M37.1 258.9h0.9M37.4 247.0h0.9M33.0 256.2h0.9M37.3 257.8h0.9M37.8 250.5h0.9M33.8 240.8h0.9M36.8 263.5h0.9M33.6 248.4h0.9M36.4 253.1h0.9"/><path d="M31.4 247.1h0.9M32.1 262.1h0.9M33.0 255.7h0.9M39.6 261.4h0.9M38.4 260.0h0.9M31.7 249.1h0.9M33.0 249.4h0.9M41.4 241.8h0.9M36.2 244.2h0.9M38.1 258.1h0.9"/></g>
<g stroke="#000" stroke-width="0.9" stroke-opacity="0.45"><path d="M33.4 249.6h0.9M35.2 247.2h0.9M36.0 241.2h0.9M33.8 242.6h0.9M37.0 243.4h0.9M42.6 242.4h0.9M33.5 240.7h0.9M32.5 238.4h0.9M31.8 245.9h0.9M35.2 242.5h0.9M36.1 246.4h0.9M37.0 245.5h0.9M33.2 242.2h0.9M32.5 242.7h0.9M32.4 241.8h0.9M34.4 242.3h0.9M34.1 241.4h0.9M39.2 241.9h0.9M31.8 243.6h0.9M31.5 239.6h0.9M35.3 237.7h0.9M24.7 243.9h0.9M38.3 237.7h0.9M32.1 244.8h0.9M28.6 240.2h0.9M31.1 242.4h0.9M28.7 245.9h0.9M34.5 244.0h0.9M34.0 236.2h0.9M34.5 238.7h0.9M35.0 240.3h0.9M34.0 242.3h0.9M37.5 245.5h0.9M31.8 242.9h0.9M39.7 244.6h0.9M32.7 242.6h0.9M33.9 246.0h0.9M35.1 244.2h0.9M42.1 238.6h0.9M31.8 237.5h0.9M29.9 245.7h0.9M35.9 248.2h0.9M28.7 240.2h0.9M39.6 246.3h0.9M37.8 245.8h0.9M35.1 243.0h0.9M35.1 245.7h0.9M34.5 244.0h0.9M39.7 239.4h0.9M32.6 244.8h0.9"/></g>
<g stroke="#000" stroke-width="0.9" stroke-opacity="0.45"><path d="M35.1 261.4h0.9M34.9 264.9h0.9M30.9 258.4h0.9M34.8 265.8h0.9M35.1 260.2h0.9M35.7 265.1h0.9M35.5 264.9h0.9M37.8 258.9h0.9M36.3 260.2h0.9M36.6 265.9h0.9M34.0 257.2h0.9M34.3 264.7h0.9M37.3 255.6h0.9M36.5 258.4h0.9M36.0 264.9h0.9M32.6 256.5h0.9M36.1 262.7h0.9M34.0 255.9h0.9M33.8 257.5h0.9M37.5 257.2h0.9M35.0 257.0h0.9M36.6 263.7h0.9M33.0 259.1h0.9M32.3 261.5h0.9M33.5 257.5h0.9M37.7 262.3h0.9M34.3 258.0h0.9M34.5 265.8h0.9M32.9 259.8h0.9M34.4 255.5h0.9M34.6 261.6h0.9M35.7 263.8h0.9M34.1 256.0h0.9M37.7 257.7h0.9M33.7 258.1h0.9M34.6 264.9h0.9M35.9 265.9h0.9M35.1 263.3h0.9M36.5 259.2h0.9M33.9 257.0h0.9M34.0 261.1h0.9M33.8 262.2h0.9M33.4 263.6h0.9M34.7 264.3h0.9M31.6 262.5h0.9M34.2 256.9h0.9M35.6 263.6h0.9M36.9 257.6h0.9M35.2 259.8h0.9M32.7 263.7h0.9M33.6 257.6h0.9M34.9 261.4h0.9M36.8 260.5h0.9M35.2 262.9h0.9M35.4 261.3h0.9M34.0 256.7h0.9M32.7 255.2h0.9M34.8 259.9h0.9M35.0 257.9h0.9M34.4 265.0h0.9"/></g>
<g stroke="#000" stroke-width="0.9" stroke-opacity="0.5"><path d="M43.2 213.2h0.9M50.5 214.9h0.9M52.4 223.5h0.9M54.1 221.5h0.9M44.6 211.9h0.9M48.8 225.7h0.9M58.2 227.3h0.9M51.5 223.1h0.9M54.0 227.5h0.9M54.2 211.7h0.9M54.7 222.7h0.9M47.0 220.5h0.9M51.1 218.8h0.9M40.2 215.6h0.9M52.6 219.4h0.9M40.8 217.7h0.9M53.5 221.0h0.9M51.8 217.4h0.9M45.9 220.1h0.9M47.5 218.8h0.9M67.4 229.3h0.9M50.2 209.7h0.9M50.0 223.0h0.9M45.6 215.7h0.9M37.1 216.9h0.9M46.2 221.1h0.9M57.0 220.5h0.9M54.9 222.0h0.9M48.4 216.5h0.9M44.8 223.9h0.9M54.3 214.7h0.9M54.1 216.2h0.9M41.2 222.1h0.9M42.5 222.5h0.9M50.6 224.0h0.9M52.3 226.1h0.9M51.4 222.5h0.9M50.9 225.2h0.9M47.3 223.4h0.9M57.8 221.3h0.9M51.9 216.5h0.9M47.9 219.4h0.9M47.6 212.8h0.9M49.3 219.5h0.9M51.3 223.2h0.9M39.7 222.7h0.9M48.6 213.8h0.9M47.5 220.2h0.9M54.3 218.3h0.9M50.4 209.9h0.9M50.4 218.2h0.9M47.1 222.6h0.9M59.4 228.1h0.9M45.2 225.4h0.9M47.7 217.6h0.9M46.3 219.8h0.9M52.5 220.5h0.9M48.3 217.3h0.9M47.3 223.1h0.9M46.6 216.6h0.9M48.3 213.9h0.9M48.2 209.8h0.9M51.7 222.4h0.9M47.9 226.6h0.9M45.0 219.9h0.9M52.1 216.5h0.9M48.2 223.0h0.9M49.8 220.2h0.9M57.2 222.6h0.9M40.3 210.9h0.9"/><path d="M54.1 219.5h0.9M43.6 205.2h0.9M51.3 227.6h0.9M42.6 203.8h0.9M52.2 216.5h0.9M47.9 216.1h0.9M44.6 219.1h0.9M54.5 222.5h0.9M46.5 223.1h0.9M48.9 221.5h0.9M44.4 220.2h0.9M53.6 227.3h0.9M49.7 221.0h0.9M46.4 222.2h0.9M53.7 226.2h0.9"/></g>
<g stroke="#000" stroke-width="0.9" stroke-opacity="0.4"><path d="M66.0 236.1h0.9M65.9 200.5h0.9M45.2 223.4h0.9M23.2 226.1h0.9M22.7 232.2h0.9M58.3 230.4h0.9M40.8 216.0h0.9M20.6 222.3h0.9M78.7 236.9h0.9M36.5 243.8h0.9M31.5 230.4h0.9M60.2 263.0h0.9M43.3 237.6h0.9M82.1 250.7h0.9M61.0 240.6h0.9M46.5 226.8h0.9M37.5 254.6h0.9M77.9 224.6h0.9M79.9 201.6h0.9M28.1 233.0h0.9M39.7 223.1h0.9M84.5 209.0h0.9M31.9 214.3h0.9M64.6 214.7h0.9M19.1 235.4h0.9M45.4 215.0h0.9M52.1 242.6h0.9M55.7 240.8h0.9M56.6 254.7h0.9M83.9 221.3h0.9"/></g>
<rect x="22.40" y="233.90" width="20.00" height="34.10" fill="none" stroke="#555" stroke-width="0.9"/>
<rect x="29.80" y="202.60" width="42.60" height="31.30" fill="none" stroke="#cc623c" stroke-width="1.35"/>
<rect x="68.70" y="206.80" width="15.70" height="7.40" fill="#fff" stroke="none" stroke-width="1"/>
<text x="69.00" y="213.40" font-size="8.5" font-weight="bold" textLength="15.0" lengthAdjust="spacingAndGlyphs">10.6</text>
<rect x="44.10" y="258.80" width="15.70" height="7.40" fill="#fff" stroke="none" stroke-width="1"/>
<text x="44.40" y="265.40" font-size="8.5" font-weight="bold" textLength="15.0" lengthAdjust="spacingAndGlyphs">88.4</text>
<path d="M96.9 267.9v2.5M99.9 267.9v2.5M102.8 267.9v2.5M105.8 267.9v2.5M108.7 267.9v2.5M111.7 267.9v2.5M114.6 267.9v2.5M117.6 267.9v2.5M120.5 267.9v2.5M123.5 267.9v2.5M126.4 267.9v2.5M129.4 267.9v2.5M132.3 267.9v2.5M135.2 267.9v2.5M138.2 267.9v2.5M141.1 267.9v2.5M144.1 267.9v2.5M147.0 267.9v2.5M150.0 267.9v2.5M152.9 267.9v2.5M155.9 267.9v2.5M158.8 267.9v2.5M161.8 267.9v2.5M164.7 267.9v2.5M95.3 266.9h-2.8M95.3 262.1h-2.0M95.3 259.3h-2.0M95.3 257.3h-2.0M95.3 255.7h-2.0M95.3 254.5h-2.0M95.3 253.4h-2.0M95.3 252.5h-2.0M95.3 251.7h-2.0M95.3 250.9h-2.8M95.3 246.1h-2.0M95.3 243.3h-2.0M95.3 241.3h-2.0M95.3 239.8h-2.0M95.3 238.5h-2.0M95.3 237.5h-2.0M95.3 236.5h-2.0M95.3 235.7h-2.0M95.3 235.0h-2.8M95.3 230.2h-2.0M95.3 227.4h-2.0M95.3 225.4h-2.0M95.3 223.8h-2.0M95.3 222.6h-2.0M95.3 221.5h-2.0M95.3 220.6h-2.0M95.3 219.8h-2.0M95.3 219.0h-2.8M95.3 214.2h-2.0M95.3 211.4h-2.0M95.3 209.4h-2.0M95.3 207.9h-2.0M95.3 206.6h-2.0M95.3 205.5h-2.0M95.3 204.6h-2.0M95.3 203.8h-2.0M95.3 203.1h-2.8M95.3 198.3h-2.0" stroke="#333" stroke-width="0.9"/>
<path d="M94.7 267.9V196.1H165.9" stroke="#b0b0b0" stroke-width="1.0" fill="none"/>
<path d="M165.9 196.1V267.9H94.7" stroke="#666" stroke-width="1.1" fill="none"/>
<g stroke="#000" stroke-width="0.9" stroke-opacity="0.6"><path d="M112.1 253.7h0.9M113.1 252.8h0.9M113.3 242.3h0.9M117.5 246.0h0.9M115.6 251.7h0.9M111.9 247.8h0.9M113.2 249.7h0.9M114.2 243.1h0.9M114.3 250.2h0.9M113.7 249.5h0.9M113.3 247.3h0.9M114.8 248.0h0.9M116.5 250.9h0.9M115.7 250.1h0.9M114.5 243.4h0.9M116.1 253.7h0.9M114.6 246.6h0.9M114.1 251.8h0.9M114.7 244.1h0.9M113.9 244.8h0.9M113.9 244.4h0.9M112.7 252.8h0.9M116.1 241.9h0.9M112.5 246.0h0.9M113.5 242.7h0.9M115.8 241.8h0.9M115.4 250.0h0.9M113.6 245.2h0.9M114.3 248.0h0.9M110.5 243.1h0.9M115.1 247.1h0.9M113.5 244.0h0.9M113.0 244.8h0.9M119.1 243.1h0.9M116.9 249.2h0.9M114.6 248.2h0.9M113.5 253.2h0.9M115.1 247.4h0.9M114.0 248.2h0.9M112.2 246.4h0.9M113.1 249.7h0.9M115.3 241.0h0.9M113.8 251.0h0.9M111.9 243.4h0.9M116.0 247.1h0.9M113.4 243.3h0.9M114.5 245.6h0.9M114.6 249.0h0.9M115.5 246.4h0.9M113.3 247.6h0.9M114.0 248.1h0.9M113.3 246.7h0.9M113.2 245.5h0.9M114.5 251.6h0.9M113.3 249.6h0.9M114.8 247.9h0.9M115.4 245.6h0.9M115.2 248.6h0.9M108.1 248.8h0.9M115.3 254.4h0.9M112.3 247.9h0.9M114.8 244.1h0.9M116.3 249.1h0.9M112.8 243.3h0.9M113.5 255.9h0.9M118.0 238.8h0.9M111.0 249.9h0.9M114.0 245.3h0.9M115.3 247.9h0.9M114.7 248.5h0.9"/><path d="M112.3 252.2h0.9M113.4 251.5h0.9M115.4 247.7h0.9M114.5 247.4h0.9M111.0 246.4h0.9M115.0 241.8h0.9M111.6 251.3h0.9M115.6 242.1h0.9M115.0 247.4h0.9M115.9 246.4h0.9M113.8 244.9h0.9M114.5 247.1h0.9M113.1 246.3h0.9M112.9 249.7h0.9M112.4 242.0h0.9M112.5 251.4h0.9M113.3 249.8h0.9M115.5 245.7h0.9M115.5 249.3h0.9M114.1 245.0h0.9M114.1 243.0h0.9M113.7 245.5h0.9M115.0 248.7h0.9M113.1 250.6h0.9M116.3 247.8h0.9M112.9 249.3h0.9M109.9 245.4h0.9M115.2 254.6h0.9M112.9 252.9h0.9M118.3 254.2h0.9M110.0 251.4h0.9M114.5 251.1h0.9M113.9 245.3h0.9M113.8 252.9h0.9M115.7 246.5h0.9M114.9 250.6h0.9M115.2 247.4h0.9M113.0 244.9h0.9M113.4 245.5h0.9M111.4 242.5h0.9M115.8 243.5h0.9M111.9 247.4h0.9M116.8 252.0h0.9M113.5 243.8h0.9M113.2 244.3h0.9M113.2 249.2h0.9M112.3 244.7h0.9M113.7 247.4h0.9M112.8 244.7h0.9M112.2 244.8h0.9M115.1 246.6h0.9M108.6 249.7h0.9M114.1 244.4h0.9M113.7 236.7h0.9M111.2 251.7h0.9M118.0 255.3h0.9M112.9 247.6h0.9M115.6 243.1h0.9M117.3 244.9h0.9M114.8 243.4h0.9M114.9 247.4h0.9M116.1 243.4h0.9M114.2 254.0h0.9M112.1 248.8h0.9M115.0 245.7h0.9M113.7 252.6h0.9M116.3 249.5h0.9M114.7 243.4h0.9M114.4 253.9h0.9M116.1 242.6h0.9"/><path d="M110.5 245.1h0.9M114.5 245.5h0.9M113.6 248.7h0.9M115.8 248.3h0.9M116.5 242.4h0.9M115.0 249.0h0.9M111.5 252.0h0.9M111.3 242.3h0.9M119.0 252.2h0.9M114.9 252.4h0.9M116.3 243.4h0.9M115.1 252.6h0.9M113.9 247.8h0.9M113.4 250.2h0.9M113.2 245.4h0.9M112.0 244.2h0.9M114.6 249.2h0.9M113.5 243.7h0.9M114.8 248.8h0.9M116.5 245.7h0.9M113.5 249.4h0.9M117.0 247.3h0.9M114.1 244.1h0.9M113.5 250.9h0.9M115.7 251.5h0.9M111.2 250.5h0.9M112.5 249.7h0.9M109.9 247.2h0.9M112.6 252.1h0.9M114.4 252.2h0.9M113.4 254.6h0.9M113.4 254.4h0.9M113.3 243.9h0.9M115.8 246.1h0.9M114.1 242.6h0.9M113.6 247.9h0.9M112.9 248.9h0.9M110.0 250.7h0.9M113.5 252.8h0.9M113.6 245.1h0.9M113.4 248.5h0.9M115.3 245.8h0.9M112.8 249.1h0.9M115.7 241.2h0.9M112.3 245.1h0.9M117.3 252.0h0.9M115.7 249.3h0.9M112.2 251.6h0.9M113.4 244.6h0.9M117.7 242.2h0.9M116.7 248.2h0.9M112.5 248.2h0.9M112.7 248.2h0.9M113.0 243.2h0.9M119.0 245.7h0.9M116.0 247.3h0.9M115.4 242.9h0.9M112.3 235.6h0.9M116.0 249.1h0.9M112.1 250.6h0.9M115.3 258.2h0.9M114.6 250.8h0.9M115.3 250.3h0.9M114.2 246.0h0.9M115.5 252.0h0.9M112.1 243.4h0.9M114.1 254.1h0.9M113.8 241.3h0.9M115.7 250.3h0.9M117.7 248.2h0.9"/><path d="M117.8 244.9h0.9M115.9 248.0h0.9M112.0 246.5h0.9M116.6 251.6h0.9M113.5 251.6h0.9M115.9 250.8h0.9M114.7 248.6h0.9M112.7 247.3h0.9M114.4 244.8h0.9M113.7 248.1h0.9M114.6 251.4h0.9M112.3 246.1h0.9M114.7 246.1h0.9M114.8 245.8h0.9M116.4 246.7h0.9M112.1 250.2h0.9M117.2 240.5h0.9M114.0 247.8h0.9M116.1 253.0h0.9M113.9 241.8h0.9M115.4 251.2h0.9M115.1 247.8h0.9M112.7 256.4h0.9M112.0 242.0h0.9M116.0 248.6h0.9M115.4 248.8h0.9M117.3 252.7h0.9M113.2 251.2h0.9M112.1 241.3h0.9M116.4 246.0h0.9M110.3 247.5h0.9M113.0 249.4h0.9M114.1 244.7h0.9M112.9 250.3h0.9M112.5 248.0h0.9M112.4 249.2h0.9M117.5 249.6h0.9M116.2 249.2h0.9M112.5 246.4h0.9M114.3 249.1h0.9M113.1 249.8h0.9M112.9 247.8h0.9M114.2 243.3h0.9M116.0 247.7h0.9M114.4 247.4h0.9M110.4 242.4h0.9M112.6 251.1h0.9M113.2 249.7h0.9M112.3 244.5h0.9M113.4 251.4h0.9M111.2 246.9h0.9M115.0 248.0h0.9M114.2 250.4h0.9M114.7 243.9h0.9M115.4 244.7h0.9M113.6 252.8h0.9M118.7 252.8h0.9M115.0 244.7h0.9M112.8 253.6h0.9M114.8 242.5h0.9M117.1 249.6h0.9M116.6 249.0h0.9M110.3 244.8h0.9M114.0 246.9h0.9M117.0 245.1h0.9M114.0 247.3h0.9M114.0 243.8h0.9M112.0 238.2h0.9M114.8 246.8h0.9M114.6 243.7h0.9"/><path d="M114.2 244.0h0.9M112.4 248.7h0.9M115.4 249.6h0.9M114.1 246.1h0.9M116.7 252.0h0.9M113.1 243.6h0.9M114.9 248.7h0.9M112.6 255.8h0.9M110.4 244.5h0.9M114.7 251.1h0.9M110.8 245.9h0.9M116.8 252.6h0.9M113.8 247.7h0.9M112.6 249.0h0.9M112.3 240.2h0.9M111.4 247.7h0.9M111.8 251.5h0.9M116.5 251.1h0.9M115.4 251.6h0.9M114.7 250.7h0.9"/></g>
<g stroke="#000" stroke-width="0.9" stroke-opacity="0.45"><path d="M115.5 253.4h0.9M111.8 245.4h0.9M111.8 253.6h0.9M115.6 244.7h0.9M111.8 245.8h0.9M116.5 248.4h0.9M113.7 245.2h0.9M114.0 257.9h0.9M112.6 247.1h0.9M118.6 253.0h0.9M111.4 255.1h0.9M111.1 252.1h0.9M108.0 243.5h0.9M116.6 245.7h0.9M112.5 249.3h0.9M114.3 246.4h0.9M112.6 259.0h0.9M118.1 250.9h0.9M111.4 246.1h0.9M113.6 251.7h0.9M118.4 246.2h0.9M114.7 246.7h0.9M114.7 245.2h0.9M115.3 255.5h0.9M113.3 247.2h0.9M114.6 241.8h0.9M118.9 241.6h0.9M113.4 244.1h0.9M118.1 246.3h0.9M113.0 259.5h0.9M114.0 244.7h0.9M114.3 250.1h0.9M112.4 248.0h0.9M113.8 253.0h0.9M116.3 253.7h0.9M114.0 253.5h0.9M113.8 255.5h0.9M115.3 246.7h0.9M117.4 240.7h0.9M111.9 244.6h0.9M114.0 242.2h0.9M111.3 238.6h0.9M114.6 244.8h0.9M119.8 253.3h0.9M111.4 256.4h0.9M114.6 255.0h0.9M111.5 255.5h0.9M117.1 246.7h0.9M112.2 246.9h0.9M115.0 262.4h0.9M118.9 257.3h0.9M113.8 247.2h0.9M115.2 247.5h0.9M113.1 247.9h0.9M116.4 248.7h0.9M114.9 247.6h0.9M113.8 247.2h0.9M117.5 250.3h0.9M118.1 248.1h0.9M117.0 241.4h0.9M113.3 248.7h0.9M112.7 248.4h0.9M112.0 248.1h0.9M112.6 249.0h0.9M113.6 243.5h0.9M113.3 249.2h0.9M111.1 249.6h0.9M117.5 247.8h0.9M115.7 252.5h0.9M112.3 256.4h0.9"/><path d="M120.6 243.4h0.9M119.7 245.1h0.9M118.0 239.0h0.9M117.2 249.8h0.9M111.1 244.5h0.9M111.7 244.1h0.9M115.3 248.0h0.9M108.0 247.3h0.9M115.5 249.5h0.9M118.6 238.9h0.9M114.9 249.2h0.9M116.1 241.6h0.9M111.0 248.1h0.9M114.5 239.0h0.9M115.2 249.0h0.9M116.2 234.6h0.9M115.6 244.1h0.9M113.1 253.4h0.9M118.6 249.9h0.9M114.0 256.3h0.9M112.1 248.2h0.9M113.0 243.6h0.9M114.8 260.3h0.9M114.9 251.8h0.9M114.2 255.3h0.9M114.8 244.2h0.9M114.6 257.0h0.9M114.1 255.7h0.9M114.1 260.3h0.9M115.0 252.7h0.9M113.6 253.7h0.9M113.7 240.9h0.9M115.1 242.4h0.9M118.0 253.4h0.9M114.4 252.9h0.9M107.8 257.5h0.9M112.7 252.7h0.9M120.8 240.1h0.9M113.3 250.9h0.9M115.4 239.7h0.9M112.0 257.3h0.9M112.8 252.1h0.9M110.9 244.0h0.9M109.7 250.5h0.9M117.2 249.6h0.9M113.6 250.4h0.9M115.5 247.4h0.9M115.7 259.8h0.9M119.9 245.9h0.9M111.1 259.6h0.9M116.8 255.8h0.9M115.8 247.8h0.9M116.8 255.2h0.9M117.3 243.0h0.9M116.9 247.1h0.9M113.4 251.0h0.9M113.4 261.9h0.9M115.7 250.5h0.9M113.8 250.4h0.9M113.7 252.3h0.9M116.5 253.7h0.9M111.2 247.2h0.9M114.5 242.3h0.9M115.3 248.3h0.9M114.5 251.2h0.9M112.8 257.7h0.9M116.9 246.0h0.9M115.5 253.2h0.9M112.4 247.1h0.9M116.1 234.8h0.9"/><path d="M111.0 250.9h0.9M115.9 243.9h0.9M116.5 261.3h0.9M114.9 248.8h0.9M114.5 243.5h0.9M115.7 250.1h0.9M116.2 257.0h0.9M114.4 250.1h0.9M115.1 258.7h0.9M110.7 249.0h0.9M112.8 249.8h0.9M116.4 249.4h0.9M116.2 250.1h0.9M112.5 245.4h0.9M110.9 250.3h0.9M113.3 253.7h0.9M116.8 244.2h0.9M111.6 252.4h0.9M112.1 250.2h0.9M115.9 246.9h0.9"/></g>
<g stroke="#000" stroke-width="0.9" stroke-opacity="0.45"><path d="M115.6 263.3h0.9M111.3 254.8h0.9M115.5 258.6h0.9M114.2 254.9h0.9M114.5 261.0h0.9M116.7 254.7h0.9M114.2 263.4h0.9M114.9 260.6h0.9M112.5 256.8h0.9M113.8 263.1h0.9M114.2 258.7h0.9M114.4 258.5h0.9M112.1 256.0h0.9M113.3 258.1h0.9M112.1 254.0h0.9M114.3 260.1h0.9M114.1 263.7h0.9M116.3 253.9h0.9M114.5 261.8h0.9M116.5 261.8h0.9M116.0 255.8h0.9M113.2 257.7h0.9M115.9 259.1h0.9M113.7 258.3h0.9M115.4 256.2h0.9M112.7 256.8h0.9M115.0 255.2h0.9M116.5 261.8h0.9M115.6 263.8h0.9M113.4 261.8h0.9M115.1 260.8h0.9M111.2 254.9h0.9M114.0 262.0h0.9M115.1 263.1h0.9M112.5 253.3h0.9M114.2 261.7h0.9M117.0 259.7h0.9M112.6 260.1h0.9M113.8 253.7h0.9M113.9 263.8h0.9M114.0 262.6h0.9M115.1 260.6h0.9M116.0 261.3h0.9M114.1 254.4h0.9M116.7 261.0h0.9M115.2 261.5h0.9M115.4 261.6h0.9M113.3 263.4h0.9M113.0 260.0h0.9M114.4 256.9h0.9"/></g>
<g stroke="#000" stroke-width="0.9" stroke-opacity="0.45"><path d="M134.4 212.9h0.9M131.5 210.6h0.9M122.6 210.5h0.9M126.9 210.3h0.9M127.6 217.8h0.9M134.2 218.2h0.9M123.0 207.1h0.9M121.7 225.0h0.9M135.3 210.5h0.9M140.0 209.1h0.9M142.6 208.3h0.9M127.0 217.9h0.9M121.4 216.1h0.9M144.6 211.2h0.9M121.7 215.6h0.9M129.8 210.9h0.9M133.1 218.2h0.9M130.4 217.6h0.9M132.2 213.9h0.9M124.4 219.8h0.9M140.2 208.9h0.9M123.4 218.3h0.9M130.8 218.4h0.9M133.7 212.3h0.9M119.6 219.9h0.9M130.7 208.5h0.9M118.8 210.0h0.9M134.7 210.7h0.9M105.0 218.3h0.9M125.2 215.1h0.9M130.3 212.5h0.9M135.6 216.5h0.9M128.3 221.1h0.9M129.0 210.7h0.9M131.2 207.7h0.9M127.7 210.3h0.9M126.8 215.9h0.9M111.6 221.5h0.9M131.9 212.5h0.9M135.4 213.7h0.9M127.2 210.7h0.9M135.5 215.4h0.9M118.9 214.5h0.9M121.1 220.3h0.9M125.7 210.2h0.9M141.3 212.3h0.9M131.7 214.5h0.9M128.6 214.6h0.9M136.7 213.7h0.9M126.5 215.5h0.9M144.0 207.2h0.9M120.1 217.6h0.9M121.4 227.7h0.9M134.7 214.9h0.9M132.7 221.3h0.9M122.3 216.2h0.9M117.4 223.2h0.9M129.4 221.5h0.9M127.9 210.3h0.9M124.7 219.0h0.9M123.8 217.1h0.9M124.5 212.8h0.9M125.7 222.1h0.9M121.8 217.9h0.9M136.0 208.9h0.9M118.6 223.9h0.9M143.0 208.8h0.9M120.9 220.5h0.9M129.6 210.6h0.9M127.0 204.9h0.9"/><path d="M123.8 210.9h0.9M120.0 219.6h0.9M131.9 220.4h0.9M109.7 217.7h0.9M123.6 221.6h0.9M137.7 212.0h0.9M130.6 210.6h0.9M126.0 213.4h0.9M110.8 228.0h0.9M135.5 220.9h0.9M139.2 213.1h0.9M136.2 204.9h0.9M122.2 220.0h0.9M127.0 208.1h0.9M129.8 208.6h0.9M129.9 220.5h0.9M121.3 214.8h0.9M134.0 212.5h0.9M131.3 210.0h0.9M127.3 204.8h0.9M128.5 219.8h0.9M121.4 215.9h0.9M135.2 217.4h0.9M138.7 207.4h0.9M126.7 222.4h0.9M126.3 216.3h0.9M123.4 213.2h0.9M107.3 218.9h0.9M113.2 215.0h0.9M122.4 222.0h0.9M135.6 213.8h0.9M125.9 209.4h0.9M133.5 209.3h0.9M129.0 218.2h0.9M128.4 214.3h0.9M122.3 220.8h0.9M133.9 215.7h0.9M142.2 203.2h0.9M130.0 216.6h0.9M132.3 214.4h0.9M133.4 206.4h0.9M129.2 219.0h0.9M129.4 213.3h0.9M136.2 204.5h0.9M132.8 219.4h0.9M127.9 211.1h0.9M133.8 210.8h0.9M123.6 216.6h0.9M117.2 220.8h0.9M120.7 214.6h0.9M135.3 212.1h0.9M131.8 219.1h0.9M141.4 219.1h0.9M125.6 219.2h0.9M117.2 221.4h0.9M139.7 207.7h0.9M133.3 216.4h0.9M128.6 211.7h0.9M141.3 204.7h0.9M131.1 217.6h0.9M131.6 220.1h0.9M141.1 212.3h0.9M143.3 212.8h0.9M120.4 215.6h0.9M131.9 214.1h0.9M116.9 227.8h0.9M117.9 213.0h0.9M133.2 213.7h0.9M141.5 211.2h0.9M132.7 216.1h0.9"/><path d="M124.2 210.3h0.9M126.3 219.4h0.9M127.7 219.9h0.9M125.6 218.5h0.9M130.0 217.4h0.9M129.9 214.8h0.9M126.3 220.4h0.9M129.6 216.2h0.9M134.8 208.6h0.9M123.5 215.8h0.9M139.5 206.4h0.9M122.1 212.3h0.9M126.9 210.4h0.9M123.6 218.2h0.9M121.6 216.6h0.9M120.9 216.0h0.9M133.8 204.3h0.9M130.3 214.8h0.9M129.4 215.2h0.9M133.0 207.5h0.9M128.9 217.0h0.9M139.7 205.1h0.9M125.3 209.7h0.9M129.7 209.5h0.9M122.4 219.6h0.9M146.9 199.8h0.9M142.4 206.1h0.9M135.0 213.8h0.9M139.2 210.1h0.9M123.6 215.7h0.9M135.9 208.3h0.9M133.0 213.0h0.9M131.2 213.6h0.9M134.4 215.9h0.9M127.7 213.2h0.9M113.6 215.5h0.9M118.3 220.5h0.9M121.7 213.7h0.9M133.9 216.9h0.9M139.1 207.4h0.9M131.7 217.9h0.9M123.5 215.1h0.9M120.6 214.2h0.9M135.3 212.6h0.9M127.1 212.5h0.9M141.4 213.5h0.9M120.5 226.1h0.9M126.8 214.3h0.9M126.2 212.8h0.9M134.7 206.4h0.9M130.1 212.5h0.9M143.1 211.4h0.9M133.2 215.1h0.9M134.4 213.1h0.9M111.4 221.7h0.9M127.5 217.7h0.9M132.3 210.9h0.9M123.2 211.9h0.9M132.1 212.8h0.9M123.2 214.6h0.9"/></g>
<g stroke="#000" stroke-width="0.9" stroke-opacity="0.5"><path d="M134.1 209.2h0.9M132.6 209.4h0.9M124.6 211.2h0.9M133.2 213.1h0.9M137.2 209.1h0.9M134.9 211.7h0.9M133.2 213.1h0.9M135.8 207.7h0.9M137.7 210.5h0.9M130.8 209.2h0.9M132.2 208.0h0.9M136.5 212.1h0.9M130.1 213.1h0.9M133.7 211.2h0.9M136.1 210.7h0.9M132.1 212.3h0.9M127.1 207.8h0.9M134.6 213.8h0.9M127.5 211.0h0.9M130.8 210.2h0.9M134.9 214.9h0.9M138.6 213.5h0.9M135.0 211.4h0.9M127.0 212.0h0.9M129.1 208.1h0.9M133.4 206.8h0.9M138.7 212.5h0.9M134.1 212.2h0.9M133.7 211.1h0.9M135.2 209.2h0.9M133.8 211.4h0.9M135.5 208.1h0.9M133.8 210.6h0.9M135.0 212.4h0.9M133.6 212.2h0.9M134.4 214.5h0.9M134.0 212.4h0.9M130.0 210.4h0.9M135.4 213.7h0.9M129.8 210.9h0.9M132.1 211.1h0.9M131.4 209.9h0.9M132.8 211.3h0.9M136.2 208.8h0.9M129.9 213.0h0.9M134.6 210.5h0.9M129.3 213.7h0.9M129.5 213.9h0.9M133.8 210.6h0.9M132.4 213.1h0.9M133.0 206.4h0.9M130.7 205.4h0.9M134.3 213.4h0.9M136.3 207.5h0.9M139.8 215.7h0.9M132.6 205.8h0.9M130.2 213.7h0.9M139.6 209.6h0.9M127.1 208.5h0.9M139.1 211.0h0.9M128.5 205.5h0.9M135.0 213.1h0.9M131.4 210.5h0.9M133.2 210.1h0.9M131.2 209.5h0.9M131.1 214.2h0.9M134.3 213.6h0.9M138.9 205.0h0.9M132.8 213.5h0.9M132.3 209.4h0.9"/><path d="M134.2 209.6h0.9M130.3 210.2h0.9M133.1 211.0h0.9M135.9 211.0h0.9M131.4 218.9h0.9M132.2 210.3h0.9M132.5 209.2h0.9M127.9 211.5h0.9M137.7 206.2h0.9M130.5 212.1h0.9M130.8 212.4h0.9M132.8 208.1h0.9M132.3 209.6h0.9M134.7 204.4h0.9M134.3 214.4h0.9M133.5 211.6h0.9M131.3 211.9h0.9M132.5 207.6h0.9M129.2 204.9h0.9M134.4 211.4h0.9"/></g>
<g stroke="#000" stroke-width="0.9" stroke-opacity="0.4"><path d="M100.3 229.3h0.9M151.6 244.1h0.9M133.6 255.5h0.9M122.2 206.5h0.9M139.7 200.7h0.9M112.9 201.0h0.9M108.5 203.2h0.9M132.6 207.5h0.9M137.2 253.4h0.9M120.4 206.9h0.9M141.6 247.1h0.9M155.5 235.6h0.9M135.8 256.0h0.9M142.0 263.3h0.9M116.7 250.1h0.9M139.1 229.9h0.9M98.7 230.4h0.9M115.1 238.7h0.9M131.1 232.7h0.9M101.8 207.7h0.9M137.5 244.0h0.9M162.4 251.3h0.9M116.9 229.1h0.9M130.9 252.1h0.9M123.6 259.8h0.9M129.5 225.3h0.9M129.2 222.6h0.9M163.0 202.1h0.9M124.0 204.2h0.9M142.1 208.9h0.9M107.7 226.9h0.9M137.1 249.4h0.9M126.9 218.5h0.9M121.9 257.6h0.9M111.9 199.8h0.9M155.6 230.9h0.9M106.6 208.0h0.9M155.9 248.4h0.9M102.2 243.6h0.9M111.9 228.4h0.9"/></g>
<rect x="100.20" y="233.50" width="20.10" height="34.40" fill="none" stroke="#555" stroke-width="0.9"/>
<rect x="107.10" y="202.40" width="43.60" height="31.10" fill="none" stroke="#cc623c" stroke-width="1.35"/>
<rect x="146.40" y="206.80" width="15.70" height="7.40" fill="#fff" stroke="none" stroke-width="1"/>
<text x="146.70" y="213.40" font-size="8.5" font-weight="bold" textLength="15.0" lengthAdjust="spacingAndGlyphs">31.3</text>
<rect x="123.10" y="258.40" width="15.70" height="7.40" fill="#fff" stroke="none" stroke-width="1"/>
<text x="123.40" y="265.00" font-size="8.5" font-weight="bold" textLength="15.0" lengthAdjust="spacingAndGlyphs">65.3</text>
<path d="M19.1 364.1v2.5M22.0 364.1v2.5M25.0 364.1v2.5M27.9 364.1v2.5M30.9 364.1v2.5M33.8 364.1v2.5M36.8 364.1v2.5M39.8 364.1v2.5M42.7 364.1v2.5M45.7 364.1v2.5M48.6 364.1v2.5M51.6 364.1v2.5M54.5 364.1v2.5M57.5 364.1v2.5M60.4 364.1v2.5M63.4 364.1v2.5M66.3 364.1v2.5M69.3 364.1v2.5M72.2 364.1v2.5M75.2 364.1v2.5M78.1 364.1v2.5M81.1 364.1v2.5M84.0 364.1v2.5M87.0 364.1v2.5M17.5 363.1h-2.8M17.5 358.3h-2.0M17.5 355.5h-2.0M17.5 353.5h-2.0M17.5 351.9h-2.0M17.5 350.7h-2.0M17.5 349.6h-2.0M17.5 348.7h-2.0M17.5 347.9h-2.0M17.5 347.1h-2.8M17.5 342.3h-2.0M17.5 339.5h-2.0M17.5 337.5h-2.0M17.5 336.0h-2.0M17.5 334.7h-2.0M17.5 333.6h-2.0M17.5 332.7h-2.0M17.5 331.9h-2.0M17.5 331.1h-2.8M17.5 326.3h-2.0M17.5 323.5h-2.0M17.5 321.5h-2.0M17.5 320.0h-2.0M17.5 318.7h-2.0M17.5 317.6h-2.0M17.5 316.7h-2.0M17.5 315.9h-2.0M17.5 315.2h-2.8M17.5 310.4h-2.0M17.5 307.5h-2.0M17.5 305.5h-2.0M17.5 304.0h-2.0M17.5 302.7h-2.0M17.5 301.7h-2.0M17.5 300.7h-2.0M17.5 299.9h-2.0M17.5 299.2h-2.8M17.5 294.4h-2.0" stroke="#333" stroke-width="0.9"/>
<path d="M16.9 364.1V292.2H88.3" stroke="#b0b0b0" stroke-width="1.0" fill="none"/>
<path d="M88.3 292.2V364.1H16.9" stroke="#666" stroke-width="1.1" fill="none"/>
<g stroke="#000" stroke-width="0.9" stroke-opacity="0.6"><path d="M34.1 344.9h0.9M37.0 344.4h0.9M37.7 349.6h0.9M35.4 346.0h0.9M33.0 342.7h0.9M38.7 342.4h0.9M35.0 346.4h0.9M32.4 343.5h0.9M32.9 351.8h0.9M35.8 349.7h0.9M40.3 348.5h0.9M38.4 344.2h0.9M32.9 349.9h0.9M38.7 342.5h0.9M37.9 346.4h0.9M37.0 348.4h0.9M39.9 343.6h0.9M34.8 349.3h0.9M34.1 347.2h0.9M34.6 340.4h0.9M33.3 348.2h0.9M33.4 340.9h0.9M33.5 345.8h0.9M36.2 346.5h0.9M36.3 342.4h0.9M33.2 343.2h0.9M33.7 346.9h0.9M38.4 344.9h0.9M37.7 348.9h0.9M31.8 343.1h0.9M35.3 341.4h0.9M39.9 339.9h0.9M31.5 347.9h0.9M32.8 347.7h0.9M32.2 348.7h0.9M33.3 347.7h0.9M37.6 341.1h0.9M32.5 340.3h0.9M31.9 348.3h0.9M34.8 348.1h0.9M38.7 348.7h0.9M36.8 344.3h0.9M33.8 346.5h0.9M37.2 348.8h0.9M35.7 344.7h0.9M34.7 350.6h0.9M35.6 351.6h0.9M33.0 348.2h0.9M35.5 347.9h0.9M32.9 346.6h0.9M34.7 344.8h0.9M31.7 341.4h0.9M34.0 347.2h0.9M35.6 346.3h0.9M35.8 341.6h0.9M37.8 345.8h0.9M32.9 344.0h0.9M37.6 346.2h0.9M30.4 351.9h0.9M30.9 350.7h0.9M37.2 342.6h0.9M38.2 349.4h0.9M37.7 347.6h0.9M35.8 346.3h0.9M33.5 346.4h0.9M38.3 345.3h0.9M40.2 341.0h0.9M35.0 341.2h0.9M30.2 346.4h0.9M34.0 344.0h0.9"/><path d="M32.1 344.9h0.9M30.6 345.0h0.9M33.5 341.9h0.9M36.0 340.1h0.9M36.1 346.4h0.9M36.3 346.0h0.9M37.0 344.8h0.9M32.0 346.8h0.9M32.8 344.5h0.9M35.2 342.9h0.9M37.6 341.0h0.9M38.2 345.5h0.9M39.5 348.9h0.9M36.7 346.5h0.9M35.2 341.5h0.9M33.4 342.8h0.9M33.0 345.2h0.9M32.8 346.0h0.9M34.2 344.2h0.9M36.0 347.0h0.9M31.3 344.7h0.9M42.8 345.7h0.9M36.1 343.0h0.9M37.5 350.2h0.9M36.5 345.2h0.9M35.0 340.0h0.9M36.5 344.7h0.9M36.0 346.7h0.9M35.5 351.9h0.9M37.4 343.7h0.9M36.6 347.5h0.9M35.0 349.8h0.9M33.9 340.4h0.9M32.0 346.8h0.9M32.3 346.1h0.9M30.9 346.8h0.9M34.2 342.9h0.9M33.4 344.8h0.9M37.4 346.3h0.9M34.4 346.1h0.9M37.3 347.0h0.9M39.6 343.5h0.9M37.1 346.0h0.9M33.2 347.4h0.9M37.1 348.5h0.9M36.2 343.0h0.9M35.4 346.8h0.9M39.4 346.0h0.9M35.3 350.3h0.9M35.1 344.3h0.9M35.7 347.9h0.9M35.3 340.6h0.9M33.8 348.6h0.9M32.9 348.2h0.9M35.4 343.3h0.9M37.1 339.2h0.9M29.3 341.0h0.9M36.3 344.8h0.9M36.6 345.4h0.9M35.3 344.1h0.9M33.9 348.6h0.9M37.0 341.7h0.9M36.4 351.6h0.9M36.9 342.8h0.9M36.9 346.3h0.9M34.1 348.5h0.9M38.2 344.1h0.9M35.2 344.5h0.9M34.9 350.4h0.9M33.8 347.3h0.9"/><path d="M35.6 345.9h0.9M31.9 347.5h0.9M32.0 347.8h0.9M34.7 346.0h0.9M33.7 343.1h0.9M32.2 345.7h0.9M34.7 346.5h0.9M34.1 347.9h0.9M35.3 346.0h0.9M34.3 345.6h0.9M36.6 343.5h0.9M31.7 346.8h0.9M36.0 345.7h0.9M35.6 341.8h0.9M32.3 345.6h0.9M34.8 342.0h0.9M36.1 340.0h0.9M38.2 342.5h0.9M33.4 342.5h0.9M31.3 344.7h0.9M29.9 344.6h0.9M35.4 344.7h0.9M34.8 341.3h0.9M30.0 341.7h0.9M37.7 346.5h0.9M30.1 350.7h0.9M36.6 348.8h0.9M37.6 349.5h0.9M30.4 345.8h0.9M32.8 351.3h0.9M36.7 345.6h0.9M34.2 339.4h0.9M35.2 343.1h0.9M38.5 347.8h0.9M34.7 344.4h0.9M37.8 344.0h0.9M37.8 346.2h0.9M34.1 346.7h0.9M39.5 340.9h0.9M36.9 347.8h0.9M34.2 349.9h0.9M36.7 347.2h0.9M32.2 347.3h0.9M31.5 347.1h0.9M40.6 343.0h0.9M39.0 342.4h0.9M35.1 347.7h0.9M31.0 346.6h0.9M32.8 343.8h0.9M37.1 345.4h0.9M36.0 345.7h0.9M35.9 350.2h0.9M35.2 344.8h0.9M35.0 347.7h0.9M36.1 339.3h0.9M34.7 346.9h0.9M41.8 343.8h0.9M34.2 342.2h0.9M34.7 340.4h0.9M32.7 345.4h0.9M30.9 344.8h0.9M33.1 349.3h0.9M39.1 351.9h0.9M35.3 347.6h0.9M41.2 343.7h0.9M39.4 342.9h0.9M37.7 341.0h0.9M33.8 345.0h0.9M34.2 339.8h0.9M35.2 344.7h0.9"/><path d="M38.9 347.3h0.9M29.1 346.0h0.9M37.7 345.3h0.9M33.0 341.5h0.9M33.9 342.8h0.9M34.2 344.6h0.9M38.3 342.7h0.9M35.8 342.3h0.9M35.6 348.7h0.9M33.4 342.1h0.9M35.0 345.7h0.9M33.2 346.8h0.9M35.1 347.6h0.9M31.2 347.8h0.9M38.3 343.2h0.9M40.2 346.3h0.9M31.4 342.4h0.9M32.9 343.7h0.9M34.2 346.5h0.9M34.3 344.6h0.9M32.3 339.5h0.9M33.0 341.9h0.9M37.2 338.4h0.9M37.9 337.1h0.9M34.4 345.6h0.9M31.9 342.7h0.9M37.2 342.4h0.9M34.6 345.7h0.9M36.6 341.8h0.9M38.4 345.1h0.9M37.6 341.4h0.9M37.8 345.3h0.9M37.0 343.7h0.9M37.2 345.7h0.9M29.8 353.0h0.9M33.1 347.0h0.9M34.4 344.2h0.9M33.9 348.3h0.9M37.4 348.4h0.9M30.5 348.0h0.9M30.8 352.5h0.9M35.9 349.0h0.9M34.9 346.0h0.9M33.0 351.5h0.9M34.0 348.9h0.9M32.7 345.1h0.9M33.8 345.3h0.9M33.5 347.5h0.9M36.7 340.8h0.9M33.7 341.7h0.9M37.8 341.8h0.9M36.1 346.0h0.9M34.7 339.8h0.9M39.5 345.2h0.9M36.7 348.7h0.9M32.2 342.6h0.9M39.5 351.4h0.9M32.7 345.3h0.9M37.4 345.1h0.9M38.4 347.4h0.9M34.7 347.6h0.9M33.6 349.4h0.9M33.1 349.5h0.9M41.7 340.3h0.9M39.5 341.2h0.9M34.7 351.1h0.9M37.8 347.6h0.9M35.9 346.1h0.9M36.1 345.0h0.9M34.1 341.9h0.9"/><path d="M39.6 345.5h0.9M40.0 347.8h0.9M36.1 342.3h0.9M34.2 345.7h0.9M34.6 344.7h0.9M28.7 344.4h0.9M34.2 344.2h0.9M34.0 340.9h0.9M32.6 350.0h0.9M32.3 344.0h0.9M32.7 345.1h0.9M33.5 351.6h0.9M32.1 349.7h0.9M33.6 346.9h0.9M41.7 345.6h0.9M34.9 337.0h0.9M34.0 344.9h0.9M35.2 346.3h0.9M31.9 342.8h0.9M37.0 344.8h0.9M35.0 347.6h0.9M35.2 346.1h0.9M32.0 345.6h0.9M30.3 350.9h0.9M32.8 350.7h0.9M33.6 345.2h0.9M38.4 346.3h0.9M35.4 344.8h0.9M34.2 343.4h0.9M32.8 340.3h0.9M34.5 343.3h0.9M38.7 352.0h0.9M40.1 342.1h0.9M34.0 345.3h0.9M30.8 350.3h0.9M36.9 346.5h0.9M40.2 347.1h0.9M34.1 346.5h0.9M33.7 347.1h0.9M31.4 347.2h0.9M34.1 344.4h0.9M33.9 345.3h0.9M30.2 347.5h0.9M34.4 351.1h0.9M34.9 348.5h0.9M34.9 345.3h0.9M31.6 344.3h0.9M33.4 338.4h0.9M34.1 343.5h0.9M35.8 348.8h0.9M34.1 349.2h0.9M38.3 348.0h0.9M34.1 346.0h0.9M39.4 350.3h0.9M38.1 340.5h0.9M28.8 351.0h0.9M36.9 349.7h0.9M36.5 344.8h0.9M36.2 345.5h0.9M39.0 348.2h0.9M32.4 343.4h0.9M37.7 348.3h0.9M35.7 346.7h0.9M31.6 343.1h0.9M36.4 340.2h0.9M36.3 347.4h0.9M36.7 348.2h0.9M40.1 346.6h0.9M32.8 340.5h0.9M28.9 346.0h0.9"/></g>
<g stroke="#000" stroke-width="0.9" stroke-opacity="0.6"><path d="M35.6 360.2h0.9M31.5 351.9h0.9M35.0 359.0h0.9M36.7 353.3h0.9M35.9 362.5h0.9M34.8 350.6h0.9M36.8 347.1h0.9M35.1 348.5h0.9M34.8 347.1h0.9M35.5 359.9h0.9M34.4 360.5h0.9M35.0 359.4h0.9M32.4 352.9h0.9M31.3 348.0h0.9M32.9 353.2h0.9M34.2 360.7h0.9M33.3 348.7h0.9M34.7 357.0h0.9M31.2 346.8h0.9M35.2 362.0h0.9M31.0 350.4h0.9M34.1 361.8h0.9M32.0 349.5h0.9M34.2 360.8h0.9M35.4 346.3h0.9M35.8 361.5h0.9M35.2 350.8h0.9M38.1 350.4h0.9M35.4 357.5h0.9M34.6 355.9h0.9M34.1 357.0h0.9M33.7 356.4h0.9M37.5 347.7h0.9M34.4 350.6h0.9M35.9 361.9h0.9M35.3 356.3h0.9M34.8 356.6h0.9M34.0 355.7h0.9M36.1 356.9h0.9M33.2 346.5h0.9M36.1 353.4h0.9M34.7 356.3h0.9M34.6 357.5h0.9M34.1 348.1h0.9M35.4 361.1h0.9M35.1 354.8h0.9M37.2 349.0h0.9M32.8 350.7h0.9M31.2 349.3h0.9M35.0 356.9h0.9M34.3 356.6h0.9M35.4 353.9h0.9M35.3 349.7h0.9M34.2 356.5h0.9M33.7 359.1h0.9M35.8 358.5h0.9M38.8 349.1h0.9M34.8 362.9h0.9M32.9 352.5h0.9M35.2 358.2h0.9M34.5 359.3h0.9M34.2 356.8h0.9M35.6 357.3h0.9M34.9 358.0h0.9M35.0 362.5h0.9M33.1 352.1h0.9M34.0 361.1h0.9M36.9 354.8h0.9M39.1 347.5h0.9M34.7 361.4h0.9"/><path d="M34.8 356.8h0.9M37.2 353.5h0.9M34.4 347.9h0.9M35.1 359.5h0.9M37.4 351.5h0.9M36.2 355.3h0.9M35.6 346.8h0.9M32.6 348.7h0.9M33.9 353.4h0.9M34.4 356.5h0.9M35.6 359.5h0.9M35.3 355.3h0.9M35.5 350.3h0.9M37.6 350.4h0.9M36.8 350.5h0.9M35.0 355.8h0.9M35.8 355.3h0.9M38.6 347.6h0.9M30.8 346.3h0.9M31.4 346.5h0.9M36.8 354.4h0.9M30.7 346.2h0.9M35.3 351.4h0.9M34.8 360.5h0.9M35.0 361.5h0.9M33.1 354.2h0.9M34.9 361.7h0.9M34.7 359.7h0.9M32.9 356.0h0.9M36.0 354.6h0.9M35.4 349.9h0.9M34.1 362.9h0.9M34.3 362.9h0.9M35.9 347.4h0.9M31.4 347.8h0.9M33.2 349.3h0.9M35.0 359.0h0.9M35.4 362.9h0.9M34.6 353.6h0.9M33.1 359.4h0.9M34.0 359.3h0.9M35.6 349.1h0.9M36.9 350.8h0.9M35.0 362.1h0.9M34.5 359.1h0.9M36.5 357.2h0.9M33.6 357.7h0.9M36.3 352.7h0.9M34.3 346.1h0.9M33.9 358.4h0.9M32.8 352.9h0.9M34.1 357.6h0.9M35.3 359.3h0.9M33.6 350.3h0.9M34.7 362.1h0.9M32.9 356.7h0.9M33.0 349.8h0.9M34.7 362.4h0.9M36.7 346.2h0.9M33.3 359.0h0.9M36.8 350.0h0.9M35.8 354.6h0.9M34.9 356.3h0.9M35.1 349.2h0.9M34.1 356.1h0.9M33.9 357.0h0.9M35.8 360.3h0.9M34.4 360.1h0.9M34.9 357.7h0.9M34.0 357.2h0.9"/><path d="M34.5 356.4h0.9M32.9 350.1h0.9M35.9 357.8h0.9M34.7 353.6h0.9M35.8 356.8h0.9M35.3 358.3h0.9M34.2 353.6h0.9M34.1 360.1h0.9M34.7 355.5h0.9M34.6 350.7h0.9M35.3 362.2h0.9M33.3 359.4h0.9M38.5 346.3h0.9M35.1 362.0h0.9M35.8 360.0h0.9M34.2 347.6h0.9M36.1 354.4h0.9M33.5 348.4h0.9M34.7 347.0h0.9M36.8 353.1h0.9M35.1 358.3h0.9M34.8 351.0h0.9M36.6 356.2h0.9M34.5 362.1h0.9M36.0 349.5h0.9M32.8 355.4h0.9M34.1 354.0h0.9M33.3 348.5h0.9M30.0 348.0h0.9M36.9 352.8h0.9M35.1 356.3h0.9M37.9 351.9h0.9M37.8 350.1h0.9M33.3 358.4h0.9M33.7 352.6h0.9M34.3 348.7h0.9M36.7 347.6h0.9M38.0 353.3h0.9M35.7 361.0h0.9M33.6 361.8h0.9M32.5 356.1h0.9M33.0 356.6h0.9M32.9 358.8h0.9M35.3 360.3h0.9M36.1 348.5h0.9M38.0 353.0h0.9M33.0 353.6h0.9M34.2 351.9h0.9M35.7 355.1h0.9M36.1 351.6h0.9M35.6 354.4h0.9M31.7 346.9h0.9M32.5 351.2h0.9M35.2 346.4h0.9M34.4 358.9h0.9M32.1 347.3h0.9M33.8 354.3h0.9M33.5 354.9h0.9M36.9 346.5h0.9M34.7 347.8h0.9M34.1 355.2h0.9M36.0 362.0h0.9M35.3 355.3h0.9M35.5 348.9h0.9M36.1 353.5h0.9M37.0 347.9h0.9M33.7 354.1h0.9M33.4 350.9h0.9M31.9 346.0h0.9M35.1 360.9h0.9"/><path d="M34.7 362.0h0.9M35.1 353.4h0.9M35.2 353.0h0.9M35.2 349.5h0.9M35.2 353.3h0.9M33.7 358.2h0.9M36.7 354.1h0.9M35.5 359.1h0.9M34.1 352.6h0.9M33.4 354.0h0.9M36.2 355.5h0.9M32.8 357.8h0.9M35.9 357.2h0.9M33.9 354.7h0.9M32.5 349.0h0.9M35.1 346.7h0.9M35.6 360.1h0.9M35.9 349.1h0.9M32.9 353.8h0.9M31.4 348.8h0.9M35.3 357.0h0.9M35.7 353.2h0.9M34.1 361.8h0.9M34.3 358.6h0.9M36.7 347.2h0.9M36.0 348.0h0.9M36.5 349.0h0.9M33.0 347.3h0.9M34.0 358.5h0.9M35.1 360.5h0.9M32.1 349.9h0.9M32.9 357.9h0.9M33.4 358.8h0.9M34.5 362.3h0.9M36.6 348.7h0.9M37.3 347.3h0.9M35.0 362.5h0.9M35.1 358.6h0.9M33.9 360.1h0.9M34.4 353.9h0.9M34.8 356.8h0.9M36.8 350.6h0.9M35.1 360.9h0.9M36.7 356.5h0.9M35.8 355.5h0.9M34.2 357.3h0.9M32.5 349.7h0.9M34.5 355.4h0.9M37.2 346.9h0.9M32.5 359.4h0.9M34.2 350.8h0.9M31.9 349.5h0.9M32.9 353.7h0.9M35.0 356.3h0.9M34.8 347.2h0.9M32.1 349.8h0.9M33.4 354.2h0.9M35.1 350.7h0.9M36.6 350.4h0.9M36.3 358.5h0.9M37.6 355.0h0.9M33.2 352.1h0.9M33.3 356.6h0.9M34.5 357.1h0.9M34.8 361.7h0.9M31.7 351.4h0.9M37.8 347.9h0.9M34.6 362.7h0.9M34.8 359.2h0.9M35.4 354.0h0.9"/><path d="M38.1 346.4h0.9M31.7 347.3h0.9M38.2 347.5h0.9M32.3 355.0h0.9M34.9 359.2h0.9M32.5 355.6h0.9M31.0 348.4h0.9M34.3 362.2h0.9M34.5 358.9h0.9M36.1 349.7h0.9M34.1 355.9h0.9M34.5 357.8h0.9M36.5 356.2h0.9M37.7 352.0h0.9M33.4 356.6h0.9M32.6 354.7h0.9M34.4 348.3h0.9M33.8 355.9h0.9M33.5 357.9h0.9M32.6 348.9h0.9M33.4 356.7h0.9M32.0 353.0h0.9M37.3 353.8h0.9M35.6 355.3h0.9M32.2 348.4h0.9M36.2 346.5h0.9M35.5 360.8h0.9M35.1 351.3h0.9M34.9 356.5h0.9M31.6 350.1h0.9M36.3 347.0h0.9M34.8 362.3h0.9M35.3 362.4h0.9M33.5 352.1h0.9M33.0 347.1h0.9M33.4 354.2h0.9M34.4 361.7h0.9M36.3 352.0h0.9M34.3 359.2h0.9M33.6 348.9h0.9M36.5 347.9h0.9M35.5 359.7h0.9M34.8 361.4h0.9M35.4 357.7h0.9M34.8 356.1h0.9M34.2 362.0h0.9M34.4 349.2h0.9M33.4 356.8h0.9M35.0 349.6h0.9M33.1 354.0h0.9M37.0 357.7h0.9M35.5 356.4h0.9M35.7 354.6h0.9M36.4 353.4h0.9M36.0 357.3h0.9M32.7 349.6h0.9M35.8 359.9h0.9M35.7 361.1h0.9M36.6 356.0h0.9M34.3 362.4h0.9M35.6 356.4h0.9M35.6 361.4h0.9M33.6 362.6h0.9M34.4 362.3h0.9M32.1 350.8h0.9M34.2 355.7h0.9M31.0 348.5h0.9M34.0 348.1h0.9M33.6 362.7h0.9M37.9 346.4h0.9"/><path d="M35.1 359.2h0.9M34.5 362.0h0.9M36.2 347.4h0.9M34.3 349.2h0.9M34.8 359.4h0.9M35.2 349.4h0.9M33.7 358.3h0.9M34.0 353.0h0.9M30.6 348.9h0.9M35.4 356.8h0.9M35.0 348.2h0.9M35.9 356.2h0.9M35.8 361.5h0.9M35.6 347.5h0.9M36.1 349.8h0.9M34.0 361.1h0.9M35.6 350.6h0.9M33.7 358.2h0.9M33.0 356.6h0.9M34.3 350.8h0.9M35.8 355.3h0.9M32.7 352.0h0.9M34.4 358.5h0.9M37.0 353.2h0.9M35.8 353.4h0.9M34.2 350.3h0.9M33.0 358.3h0.9M33.7 350.9h0.9M35.6 349.4h0.9M32.5 350.5h0.9M35.3 360.2h0.9M33.1 349.2h0.9M36.9 354.6h0.9M29.6 346.3h0.9M34.7 351.7h0.9M37.8 348.2h0.9M33.8 349.6h0.9M35.1 347.9h0.9M33.6 349.7h0.9M34.2 358.5h0.9M35.0 362.6h0.9M34.8 346.8h0.9M37.5 354.3h0.9M38.2 350.1h0.9M33.1 356.4h0.9M36.6 359.5h0.9M33.3 357.3h0.9M34.7 359.1h0.9M35.7 354.3h0.9M36.3 352.7h0.9M33.5 349.0h0.9M31.9 352.8h0.9M34.9 362.5h0.9M36.6 350.5h0.9M31.4 351.0h0.9M34.0 348.1h0.9M34.5 355.5h0.9M37.3 350.3h0.9M38.0 347.3h0.9M35.6 359.9h0.9M38.3 348.2h0.9M35.2 359.4h0.9M33.8 355.6h0.9M36.8 359.3h0.9M35.2 347.2h0.9M37.9 346.4h0.9M35.0 359.3h0.9M34.1 359.8h0.9M34.2 358.3h0.9M36.5 356.7h0.9"/><path d="M33.8 349.3h0.9M36.7 358.8h0.9M36.1 361.5h0.9M33.3 358.5h0.9M35.5 352.9h0.9M33.8 352.3h0.9M34.4 347.4h0.9M35.5 356.8h0.9M30.9 348.7h0.9M34.1 354.4h0.9M37.4 353.0h0.9M34.3 359.5h0.9M34.0 351.6h0.9M36.0 347.6h0.9M34.1 358.1h0.9M32.6 356.6h0.9M34.7 351.4h0.9M34.7 346.6h0.9M34.4 360.7h0.9M32.5 349.9h0.9M36.4 347.3h0.9M35.8 356.0h0.9M33.2 360.4h0.9M35.8 362.0h0.9M34.4 356.7h0.9M35.9 349.9h0.9M35.2 357.1h0.9M31.7 349.5h0.9M36.4 352.3h0.9M33.8 349.1h0.9"/></g>
<g stroke="#000" stroke-width="0.9" stroke-opacity="0.6"><path d="M34.2 359.0h0.9M32.8 356.8h0.9M36.8 352.4h0.9M35.0 362.0h0.9M34.4 357.4h0.9M33.3 351.1h0.9M35.9 350.4h0.9M36.7 354.6h0.9M35.1 358.7h0.9M32.6 354.7h0.9M33.1 354.8h0.9M34.7 352.2h0.9M33.1 350.3h0.9M35.8 361.8h0.9M33.0 349.0h0.9M35.5 349.2h0.9M35.4 361.5h0.9M35.5 358.0h0.9M35.5 360.5h0.9M33.8 357.5h0.9M36.1 355.6h0.9M36.2 353.7h0.9M35.3 357.6h0.9M35.5 350.4h0.9M34.2 360.0h0.9M33.6 359.7h0.9M33.8 351.8h0.9M35.6 358.9h0.9M34.0 360.6h0.9M35.6 358.9h0.9M34.4 361.9h0.9M34.6 359.3h0.9M35.8 357.2h0.9M35.9 347.4h0.9M34.5 359.2h0.9M32.1 349.5h0.9M35.5 356.9h0.9M37.3 350.2h0.9M34.0 361.2h0.9M34.1 360.7h0.9M33.7 353.2h0.9M33.7 360.7h0.9M33.7 360.3h0.9M34.2 351.8h0.9M33.0 353.2h0.9M33.3 359.0h0.9M33.2 349.4h0.9M33.8 347.3h0.9M36.5 352.8h0.9M34.1 358.1h0.9M35.5 358.5h0.9M34.7 353.4h0.9M35.0 355.3h0.9M35.3 359.4h0.9M32.5 349.9h0.9M37.4 352.8h0.9M34.5 361.5h0.9M36.9 354.5h0.9M35.0 354.5h0.9M34.6 349.7h0.9M35.5 353.4h0.9M33.3 352.5h0.9M33.7 361.4h0.9M35.8 358.7h0.9M33.1 354.5h0.9M34.6 353.0h0.9M36.4 354.2h0.9M35.7 349.7h0.9M33.9 354.7h0.9M35.0 357.2h0.9"/><path d="M34.7 347.7h0.9M36.3 353.9h0.9M34.6 361.5h0.9M35.8 348.7h0.9M33.7 350.0h0.9M34.6 359.9h0.9M33.8 361.6h0.9M35.3 355.6h0.9M35.8 355.9h0.9M35.0 358.2h0.9M36.9 351.0h0.9M36.4 355.1h0.9M34.9 359.8h0.9M32.7 351.4h0.9M35.0 353.6h0.9M34.4 359.0h0.9M35.1 355.9h0.9M36.6 349.7h0.9M34.3 357.2h0.9M34.3 357.4h0.9M36.4 356.5h0.9M35.4 352.8h0.9M33.2 357.0h0.9M33.7 356.7h0.9M33.3 351.5h0.9M35.5 359.9h0.9M35.2 356.7h0.9M34.1 356.8h0.9M35.8 358.3h0.9M34.2 360.7h0.9M35.3 349.0h0.9M35.0 356.1h0.9M34.2 355.0h0.9M34.8 357.8h0.9M34.5 359.4h0.9M34.2 348.2h0.9M34.3 357.2h0.9M34.5 354.4h0.9M34.3 361.6h0.9M34.5 352.4h0.9M36.7 349.0h0.9M37.2 350.7h0.9M36.4 348.6h0.9M37.1 351.9h0.9M36.4 353.6h0.9M34.6 361.8h0.9M32.8 347.6h0.9M34.2 352.7h0.9M34.8 354.1h0.9M35.4 355.7h0.9M34.8 358.1h0.9M34.4 348.8h0.9M34.5 353.3h0.9M35.7 351.5h0.9M33.3 356.1h0.9M35.6 355.1h0.9M35.8 359.8h0.9M34.6 357.0h0.9M34.8 361.2h0.9M35.5 352.8h0.9M35.1 359.6h0.9M35.1 353.2h0.9M33.8 354.7h0.9M33.8 360.4h0.9M33.3 358.7h0.9M34.2 354.6h0.9M34.5 355.2h0.9M32.5 351.2h0.9M33.3 350.6h0.9M36.1 358.5h0.9"/><path d="M33.6 350.9h0.9M33.3 356.5h0.9M34.1 355.9h0.9M33.1 351.7h0.9M33.0 348.6h0.9M35.9 352.3h0.9M32.7 349.4h0.9M34.1 358.9h0.9M34.7 360.5h0.9M34.6 350.2h0.9M33.9 361.1h0.9M36.4 350.8h0.9M33.4 356.7h0.9M30.8 348.0h0.9M35.5 356.0h0.9M34.8 353.1h0.9M34.8 360.7h0.9M34.7 360.3h0.9M33.6 354.6h0.9M34.4 356.6h0.9M34.2 354.8h0.9M34.5 360.6h0.9M34.6 359.4h0.9M34.1 355.2h0.9M34.4 361.1h0.9M33.7 353.9h0.9M34.0 353.7h0.9M36.0 347.4h0.9M37.1 348.4h0.9M34.2 355.2h0.9M34.3 357.9h0.9M37.1 347.8h0.9M33.8 357.3h0.9M33.5 354.6h0.9M35.4 355.1h0.9M34.7 355.5h0.9M35.3 360.1h0.9M33.6 353.1h0.9M34.1 361.5h0.9M34.6 356.1h0.9M34.0 356.9h0.9M35.6 357.8h0.9M35.9 358.0h0.9M36.6 351.8h0.9M37.1 348.6h0.9M35.8 350.1h0.9M33.0 356.8h0.9M34.7 359.9h0.9M34.9 347.2h0.9M35.1 360.3h0.9M37.6 347.0h0.9M35.4 358.5h0.9M33.1 348.7h0.9M36.5 352.6h0.9M32.9 353.1h0.9M34.1 358.8h0.9M35.6 359.4h0.9M33.6 353.7h0.9M34.4 360.7h0.9M35.2 361.3h0.9M33.4 357.3h0.9M33.2 354.1h0.9M36.2 349.3h0.9M34.0 358.1h0.9M33.7 355.2h0.9M33.9 358.8h0.9M33.1 352.7h0.9M34.3 347.3h0.9M37.6 352.7h0.9M37.1 348.4h0.9"/><path d="M33.2 352.4h0.9M32.0 347.2h0.9M35.6 357.2h0.9M34.3 358.5h0.9M33.1 354.7h0.9M34.8 350.8h0.9M34.8 360.6h0.9M35.3 352.2h0.9M34.5 356.8h0.9M35.1 359.7h0.9M34.6 357.6h0.9M35.6 357.1h0.9M35.6 353.1h0.9M34.2 358.6h0.9M34.8 348.8h0.9M35.8 353.9h0.9M36.9 347.2h0.9M35.2 357.5h0.9M32.2 351.3h0.9M35.3 361.9h0.9M35.4 357.4h0.9M36.6 349.2h0.9M34.1 347.3h0.9M34.3 356.4h0.9M34.1 348.0h0.9M33.1 355.7h0.9M36.2 352.4h0.9M37.5 349.7h0.9M34.3 360.0h0.9M35.7 360.2h0.9M35.1 361.3h0.9M34.1 361.1h0.9M34.9 358.1h0.9M36.9 350.8h0.9M35.5 349.7h0.9M33.8 351.2h0.9M35.5 358.6h0.9M33.9 350.2h0.9M33.2 351.8h0.9M33.3 355.1h0.9"/></g>
<g stroke="#000" stroke-width="0.9" stroke-opacity="0.45"><path d="M33.3 341.5h0.9M26.2 340.8h0.9M34.2 335.6h0.9M37.2 338.8h0.9M36.4 343.2h0.9M35.2 333.9h0.9M28.7 338.8h0.9M30.1 345.8h0.9M34.1 333.3h0.9M26.7 337.2h0.9M25.8 340.5h0.9M26.2 341.7h0.9M32.7 342.5h0.9M30.3 337.5h0.9M38.4 333.8h0.9M36.8 343.6h0.9M30.9 338.5h0.9M40.4 343.7h0.9M40.3 338.6h0.9M33.2 338.4h0.9M33.1 341.6h0.9M37.5 340.6h0.9M32.0 341.5h0.9M36.2 339.7h0.9M38.9 337.8h0.9M34.9 342.5h0.9M31.8 341.8h0.9M37.1 343.7h0.9M39.1 337.2h0.9M40.9 337.5h0.9M30.2 338.1h0.9M33.2 336.1h0.9M38.0 340.6h0.9M36.7 334.6h0.9M41.0 340.5h0.9M38.7 340.1h0.9M35.8 341.4h0.9M35.1 343.4h0.9M32.7 332.6h0.9M33.2 339.0h0.9M36.0 339.3h0.9M36.1 340.4h0.9M33.9 340.7h0.9M36.5 336.6h0.9M28.2 339.7h0.9M36.3 342.4h0.9M38.5 339.9h0.9M38.7 337.2h0.9M32.9 343.3h0.9M30.3 339.0h0.9M30.8 335.2h0.9M42.1 333.4h0.9M40.9 337.6h0.9M31.8 333.8h0.9M35.3 341.0h0.9M36.6 336.1h0.9M40.4 339.7h0.9M36.4 340.9h0.9M36.6 338.0h0.9M35.8 336.8h0.9M35.5 336.0h0.9M29.4 337.2h0.9M34.0 336.9h0.9M33.5 337.3h0.9M34.7 344.6h0.9M36.6 341.7h0.9M38.1 341.8h0.9M36.0 341.7h0.9M38.4 338.5h0.9M33.6 339.0h0.9"/><path d="M34.4 340.5h0.9M33.0 337.7h0.9M35.4 340.6h0.9M34.2 334.4h0.9M33.7 341.7h0.9M33.8 343.0h0.9M32.8 338.3h0.9M37.4 342.7h0.9M33.5 343.7h0.9M35.2 340.3h0.9M40.9 341.7h0.9M33.8 338.9h0.9M31.4 342.6h0.9M35.8 344.9h0.9M38.9 339.1h0.9M32.4 338.1h0.9M39.0 338.7h0.9M38.6 342.9h0.9M39.9 339.9h0.9M37.1 335.1h0.9M35.8 339.2h0.9M37.9 333.6h0.9M33.5 346.3h0.9M35.2 337.6h0.9M34.9 338.6h0.9M33.4 341.0h0.9M35.5 342.6h0.9M43.5 341.4h0.9M35.8 343.7h0.9M29.7 344.7h0.9M30.6 337.6h0.9M34.8 334.9h0.9M32.4 339.6h0.9M36.1 334.7h0.9M24.0 341.2h0.9M28.7 340.2h0.9M36.3 341.6h0.9M32.6 337.2h0.9M45.5 338.8h0.9M31.0 335.0h0.9M33.7 344.5h0.9M37.1 336.3h0.9M29.7 337.1h0.9M34.5 340.0h0.9M36.3 342.6h0.9M29.9 334.2h0.9M34.3 340.9h0.9M32.6 339.9h0.9M34.3 342.7h0.9M33.8 337.6h0.9M36.4 342.2h0.9M32.3 338.7h0.9M32.0 335.5h0.9M43.2 337.2h0.9M33.4 338.0h0.9M31.7 338.6h0.9M34.2 340.2h0.9M32.6 334.6h0.9M34.1 341.3h0.9M39.1 338.8h0.9M33.6 336.7h0.9M39.9 337.2h0.9M32.7 338.9h0.9M33.8 339.3h0.9M36.1 344.4h0.9M36.4 340.4h0.9M29.4 346.0h0.9M36.4 341.9h0.9M33.4 338.8h0.9M33.2 338.5h0.9"/><path d="M33.2 341.6h0.9M38.4 338.9h0.9M33.5 341.7h0.9M33.8 340.8h0.9M32.3 343.5h0.9M32.9 340.8h0.9M40.7 340.3h0.9M33.6 341.4h0.9M40.0 332.1h0.9M33.2 338.6h0.9"/></g>
<g stroke="#000" stroke-width="0.9" stroke-opacity="0.45"><path d="M54.8 312.8h0.9M54.4 319.3h0.9M53.1 314.7h0.9M57.2 330.2h0.9M50.6 321.3h0.9M43.9 306.3h0.9M49.4 317.8h0.9M53.7 319.3h0.9M42.2 308.7h0.9M56.1 323.3h0.9M49.1 317.6h0.9M53.8 316.8h0.9M42.5 323.4h0.9M41.9 316.4h0.9M57.3 321.3h0.9M56.1 325.5h0.9M51.0 312.6h0.9M40.0 308.6h0.9M54.1 313.0h0.9M49.1 319.1h0.9M51.8 318.8h0.9M57.2 320.7h0.9M56.0 318.8h0.9M50.0 319.4h0.9M52.6 322.3h0.9M47.0 321.2h0.9M65.8 308.5h0.9M53.5 318.5h0.9M48.6 316.1h0.9M43.1 319.3h0.9M45.7 325.2h0.9M51.7 326.3h0.9M50.5 312.7h0.9M52.3 319.8h0.9M54.8 308.8h0.9M50.3 325.0h0.9M50.3 310.0h0.9M52.3 321.0h0.9M57.9 321.7h0.9M44.1 323.3h0.9M53.9 324.2h0.9M48.8 323.1h0.9M37.7 312.1h0.9M53.3 325.8h0.9M53.1 319.7h0.9M48.9 316.9h0.9M56.3 311.5h0.9M51.4 325.3h0.9M40.2 308.4h0.9M44.1 318.3h0.9M53.0 316.5h0.9M54.4 316.8h0.9M40.5 322.4h0.9M49.9 315.9h0.9M40.3 307.1h0.9M43.7 321.4h0.9M44.5 312.5h0.9M45.3 320.9h0.9M53.3 324.2h0.9M44.8 324.8h0.9M59.1 321.3h0.9M55.9 326.4h0.9M52.1 315.2h0.9M52.9 320.6h0.9M53.9 330.4h0.9M50.1 317.8h0.9M57.1 319.4h0.9M42.6 319.6h0.9M55.7 312.2h0.9M59.8 327.8h0.9"/><path d="M43.4 319.4h0.9M52.2 321.4h0.9M51.5 321.9h0.9M45.4 317.4h0.9M49.4 320.6h0.9M61.3 323.4h0.9M43.8 319.9h0.9M61.0 328.4h0.9M59.8 319.9h0.9M54.3 319.9h0.9M43.3 318.5h0.9M47.6 313.1h0.9M49.1 317.0h0.9M48.5 321.8h0.9M43.7 318.7h0.9M52.1 320.2h0.9M51.5 319.3h0.9M40.7 309.1h0.9M46.5 316.8h0.9M44.5 315.0h0.9M47.5 326.0h0.9M49.3 322.2h0.9M53.8 319.8h0.9M55.6 316.7h0.9M48.8 313.6h0.9M49.2 322.5h0.9M44.7 318.0h0.9M48.4 318.4h0.9M47.5 319.8h0.9M42.6 318.8h0.9M59.7 314.7h0.9M54.6 316.1h0.9M46.6 326.3h0.9M53.9 321.8h0.9M59.5 322.3h0.9M49.3 308.8h0.9M54.0 326.4h0.9M47.3 313.3h0.9M39.9 320.6h0.9M35.9 319.3h0.9M54.7 317.1h0.9M43.7 317.1h0.9M59.0 314.4h0.9M45.2 320.7h0.9M46.2 324.1h0.9M45.6 313.2h0.9M41.1 317.1h0.9M56.3 319.3h0.9M46.4 311.9h0.9M51.3 315.9h0.9M63.4 314.6h0.9M41.9 312.6h0.9M50.9 321.3h0.9M51.2 323.9h0.9M53.9 316.4h0.9M59.7 316.1h0.9M51.1 319.0h0.9M56.5 319.0h0.9M51.8 310.4h0.9M49.4 319.3h0.9M58.7 311.9h0.9M42.8 321.8h0.9M63.4 320.4h0.9M37.5 310.1h0.9M47.6 314.7h0.9M52.7 323.5h0.9M54.4 315.0h0.9M45.7 317.6h0.9M52.3 321.3h0.9M47.5 323.0h0.9"/><path d="M54.0 317.7h0.9M51.0 325.7h0.9M53.6 317.7h0.9M47.9 322.7h0.9M52.1 319.5h0.9M45.6 317.3h0.9M50.8 326.4h0.9M42.3 318.7h0.9M44.4 312.4h0.9M63.2 314.2h0.9M57.0 323.7h0.9M52.6 319.2h0.9M49.6 320.8h0.9M52.1 321.3h0.9M53.6 311.9h0.9M42.4 318.0h0.9M49.6 312.9h0.9M55.4 321.2h0.9M51.6 323.4h0.9M53.5 318.5h0.9M46.3 323.4h0.9M47.0 315.3h0.9M44.3 321.3h0.9M51.4 318.1h0.9M55.4 315.6h0.9M54.7 316.8h0.9M49.0 317.8h0.9M51.1 324.8h0.9M46.3 322.9h0.9M57.1 318.6h0.9M46.1 313.5h0.9M49.5 331.1h0.9M48.8 319.2h0.9M44.3 320.2h0.9M51.4 323.1h0.9M62.1 324.0h0.9M45.0 317.8h0.9M42.3 316.4h0.9M41.6 323.0h0.9M37.1 320.3h0.9M50.6 312.1h0.9M54.4 324.6h0.9M60.2 318.4h0.9M54.3 319.9h0.9M58.3 319.3h0.9M56.4 314.8h0.9M46.0 313.7h0.9M48.8 313.2h0.9M50.7 316.3h0.9M41.7 319.1h0.9M56.5 321.4h0.9M51.8 317.8h0.9M48.8 311.7h0.9M61.3 312.3h0.9M44.6 313.8h0.9M43.5 318.9h0.9M45.5 316.0h0.9M51.9 313.6h0.9M43.3 320.2h0.9M46.9 310.5h0.9M53.3 312.7h0.9M49.7 318.7h0.9M51.5 320.0h0.9M47.4 318.4h0.9M40.1 319.1h0.9M38.7 321.0h0.9M45.5 322.1h0.9M49.4 320.8h0.9M47.1 317.4h0.9M52.6 321.6h0.9"/><path d="M47.5 306.7h0.9M50.6 321.8h0.9M57.2 318.1h0.9M56.0 303.6h0.9M47.3 315.7h0.9M61.9 318.5h0.9M64.9 319.9h0.9M47.2 315.9h0.9M44.9 318.8h0.9M50.6 314.4h0.9M60.1 324.0h0.9M48.0 320.8h0.9M48.7 316.4h0.9M44.7 315.4h0.9M60.1 326.7h0.9M49.0 317.2h0.9M56.4 315.5h0.9M54.1 312.3h0.9M52.1 322.0h0.9M54.7 325.9h0.9M56.9 317.3h0.9M41.7 307.9h0.9M43.5 317.5h0.9M46.4 330.6h0.9M52.4 320.7h0.9M50.5 317.9h0.9M52.0 323.7h0.9M50.2 322.8h0.9M58.2 320.2h0.9M54.0 320.5h0.9M56.9 323.1h0.9M51.2 324.0h0.9M57.0 320.3h0.9M42.8 325.9h0.9M51.4 322.1h0.9M51.1 317.6h0.9M43.0 318.4h0.9M48.8 321.0h0.9M48.3 318.5h0.9M54.5 319.2h0.9M46.5 320.7h0.9M48.2 314.2h0.9M43.7 314.5h0.9M46.4 308.7h0.9M41.4 315.5h0.9M47.5 317.8h0.9M53.3 314.3h0.9M59.0 321.0h0.9M35.6 317.5h0.9M44.0 320.6h0.9M60.3 313.4h0.9M50.5 314.1h0.9M41.1 320.9h0.9M54.8 316.1h0.9M47.5 313.2h0.9M45.9 317.4h0.9M48.8 321.8h0.9M51.0 318.6h0.9M50.5 321.5h0.9M53.2 313.0h0.9M48.7 320.4h0.9M45.2 312.0h0.9M43.9 312.9h0.9M48.5 317.9h0.9M53.0 310.5h0.9M52.5 322.5h0.9M65.5 318.6h0.9M54.3 311.4h0.9M56.2 326.4h0.9M51.4 316.2h0.9"/><path d="M58.7 315.2h0.9M60.4 314.8h0.9M52.7 320.3h0.9M50.9 316.2h0.9M43.8 324.3h0.9M52.5 315.0h0.9M42.1 321.5h0.9M57.9 319.0h0.9M47.2 321.0h0.9M52.8 324.3h0.9M48.9 315.6h0.9M49.4 312.8h0.9M43.3 315.8h0.9M48.8 318.9h0.9M41.4 316.5h0.9M61.5 312.0h0.9M47.6 316.4h0.9M53.5 315.5h0.9M63.3 317.3h0.9M51.3 319.5h0.9M58.0 321.2h0.9M41.6 318.3h0.9M46.2 323.5h0.9M53.0 320.5h0.9M49.3 315.5h0.9M56.0 323.1h0.9M63.2 318.5h0.9M56.5 314.5h0.9M53.1 319.0h0.9M43.5 315.5h0.9M50.5 317.7h0.9M48.1 317.3h0.9M49.8 316.8h0.9M39.8 318.5h0.9M60.0 318.6h0.9M50.7 315.1h0.9M45.0 314.2h0.9M41.9 318.2h0.9M44.4 319.6h0.9M50.4 312.5h0.9M62.8 318.0h0.9M50.6 316.7h0.9M42.9 318.0h0.9M52.9 309.7h0.9M50.0 319.2h0.9M60.5 310.9h0.9M45.6 323.2h0.9M45.4 321.1h0.9M43.9 313.2h0.9M54.2 316.6h0.9M43.4 318.3h0.9M56.7 318.7h0.9M63.0 314.0h0.9M59.5 320.6h0.9M54.9 322.2h0.9M48.1 317.2h0.9M41.9 314.9h0.9M45.5 322.6h0.9M47.0 319.9h0.9M49.3 328.7h0.9M45.0 314.2h0.9M53.5 311.2h0.9M49.9 314.3h0.9M44.7 317.3h0.9M61.8 323.3h0.9M54.6 321.0h0.9M52.7 315.9h0.9M50.7 318.2h0.9M53.4 322.6h0.9M42.9 312.4h0.9"/><path d="M58.2 314.4h0.9M56.8 331.3h0.9M55.9 320.4h0.9M49.0 319.3h0.9M55.1 332.0h0.9M54.9 318.3h0.9M59.2 319.3h0.9M57.4 320.4h0.9M51.0 322.0h0.9M48.9 315.7h0.9M49.3 318.9h0.9M47.6 321.7h0.9M51.7 320.0h0.9M47.7 319.4h0.9M53.8 317.6h0.9M48.3 319.6h0.9M51.1 316.1h0.9M54.7 320.9h0.9M60.8 314.4h0.9M42.2 319.2h0.9M60.9 323.5h0.9M49.8 315.4h0.9M51.5 316.6h0.9M45.0 318.6h0.9M45.7 317.0h0.9M45.4 317.4h0.9M52.5 319.0h0.9M51.2 314.2h0.9M41.2 317.5h0.9M49.6 321.4h0.9M41.6 321.9h0.9M49.0 313.8h0.9M46.2 316.3h0.9M57.6 317.2h0.9M51.5 314.9h0.9M41.7 314.8h0.9M40.1 316.4h0.9M48.3 325.9h0.9M46.8 323.1h0.9M53.4 322.3h0.9M50.8 318.0h0.9M52.4 323.8h0.9M44.9 312.8h0.9M46.1 312.0h0.9M47.0 316.9h0.9M45.2 317.3h0.9M56.6 319.3h0.9M56.1 318.3h0.9M50.2 312.7h0.9M56.8 320.4h0.9M58.1 318.8h0.9M46.0 327.2h0.9M43.2 309.4h0.9M54.1 314.3h0.9M42.7 319.1h0.9M44.9 325.8h0.9M61.9 328.8h0.9M46.4 322.3h0.9M45.8 316.0h0.9M48.2 317.6h0.9M51.6 317.3h0.9M57.7 313.1h0.9M51.9 311.8h0.9M52.6 323.9h0.9M58.6 321.9h0.9M50.6 315.8h0.9M47.3 319.1h0.9M45.3 312.5h0.9M57.1 321.3h0.9M52.3 316.9h0.9"/><path d="M53.6 317.0h0.9M52.1 319.0h0.9M49.9 315.8h0.9M53.6 315.4h0.9M59.0 323.2h0.9M48.3 320.5h0.9M54.6 319.1h0.9M43.1 319.3h0.9M47.6 317.6h0.9M61.8 319.7h0.9M41.4 321.1h0.9M55.8 315.5h0.9M49.5 315.6h0.9M51.4 323.7h0.9M65.1 318.8h0.9M50.6 324.7h0.9M48.3 322.4h0.9M46.0 332.1h0.9M44.9 321.4h0.9M59.3 323.6h0.9M59.1 323.4h0.9M50.0 321.7h0.9M54.9 320.0h0.9M55.0 317.9h0.9M45.0 324.4h0.9M50.9 325.8h0.9M60.9 317.7h0.9M59.5 321.2h0.9M52.2 311.4h0.9M47.3 317.5h0.9M46.3 313.3h0.9M39.8 318.5h0.9M52.0 322.6h0.9M41.3 311.3h0.9M61.8 319.0h0.9M49.2 323.0h0.9M43.3 317.4h0.9M54.6 320.9h0.9M54.8 317.2h0.9M58.6 313.1h0.9M36.8 316.8h0.9M50.5 318.6h0.9M37.6 312.0h0.9M47.7 322.2h0.9M56.6 326.3h0.9M42.5 315.8h0.9M39.5 312.6h0.9M42.4 317.5h0.9M44.7 319.5h0.9M57.9 318.0h0.9M47.2 318.5h0.9M48.6 317.5h0.9M45.8 318.8h0.9M46.5 320.3h0.9M50.7 323.2h0.9M52.9 321.1h0.9M49.2 316.6h0.9M53.1 315.2h0.9M52.1 325.9h0.9M45.7 321.2h0.9M53.3 318.9h0.9M56.0 317.1h0.9M42.6 320.3h0.9M52.5 320.1h0.9M55.0 314.4h0.9M44.8 326.0h0.9M48.1 323.0h0.9M52.2 310.6h0.9M46.6 330.3h0.9M50.8 321.9h0.9"/><path d="M42.3 317.6h0.9M43.4 316.9h0.9M50.5 315.5h0.9M41.7 320.6h0.9M53.1 316.8h0.9M45.7 322.1h0.9M48.9 323.6h0.9M53.6 317.7h0.9M55.6 311.2h0.9M44.3 318.5h0.9M55.1 322.6h0.9M52.9 315.4h0.9M49.4 326.6h0.9M53.8 323.5h0.9M50.4 313.6h0.9M47.6 324.0h0.9M45.2 323.7h0.9M52.7 311.4h0.9M50.1 316.5h0.9M48.6 324.8h0.9M41.7 311.2h0.9M47.8 319.0h0.9M51.3 319.3h0.9M44.7 317.3h0.9M62.0 321.7h0.9M54.6 320.5h0.9M51.1 312.3h0.9M52.6 329.6h0.9M39.5 320.4h0.9M42.3 321.0h0.9M51.6 318.3h0.9M42.6 315.7h0.9M57.4 318.0h0.9M49.5 320.9h0.9M46.4 317.5h0.9M41.0 326.7h0.9M51.3 321.4h0.9M46.4 313.9h0.9M54.0 316.8h0.9M50.0 314.2h0.9M62.7 319.2h0.9M51.6 322.6h0.9M43.2 318.9h0.9M42.2 314.5h0.9M54.7 324.0h0.9M52.4 314.9h0.9M49.2 321.8h0.9M47.4 317.1h0.9M50.9 322.2h0.9M46.1 311.8h0.9M46.5 317.7h0.9M48.5 319.7h0.9M56.1 319.0h0.9M52.0 316.0h0.9M49.2 320.9h0.9M43.0 322.3h0.9M44.8 317.0h0.9M52.9 321.3h0.9M50.1 316.0h0.9M60.7 319.0h0.9M49.9 318.9h0.9M50.5 317.5h0.9M46.4 313.9h0.9M43.2 321.1h0.9M59.3 320.1h0.9M50.6 317.7h0.9M47.5 326.5h0.9M50.8 320.9h0.9M55.6 306.8h0.9M53.5 318.7h0.9"/><path d="M50.3 319.1h0.9M53.5 321.5h0.9M59.1 317.5h0.9M52.2 322.7h0.9M46.5 317.6h0.9M53.2 319.8h0.9M49.2 319.7h0.9M65.1 317.9h0.9M43.6 318.9h0.9M39.3 315.1h0.9M38.7 322.9h0.9M54.2 318.0h0.9M36.9 312.6h0.9M43.7 330.6h0.9M41.1 317.9h0.9M54.5 321.4h0.9M47.5 316.0h0.9M55.4 318.2h0.9M40.5 314.9h0.9M46.2 324.5h0.9M48.6 311.2h0.9M47.5 322.0h0.9M44.2 315.9h0.9M42.3 319.0h0.9M49.9 316.2h0.9M50.4 320.8h0.9M45.8 318.0h0.9M53.3 317.6h0.9M40.3 320.3h0.9M49.2 320.3h0.9M50.8 325.3h0.9M41.5 326.4h0.9M52.5 321.8h0.9M44.5 318.3h0.9M48.9 320.5h0.9M40.1 317.6h0.9M38.3 326.8h0.9M45.7 315.5h0.9M46.6 320.9h0.9M55.1 321.7h0.9M39.6 316.2h0.9M51.0 319.2h0.9M54.3 316.7h0.9M47.8 309.8h0.9M49.0 321.2h0.9M50.6 315.1h0.9M49.4 318.6h0.9M44.3 315.9h0.9M50.7 321.4h0.9M60.8 315.4h0.9M47.8 321.9h0.9M46.9 321.7h0.9M38.8 325.1h0.9M55.2 319.4h0.9M42.1 316.3h0.9M45.1 324.2h0.9M46.7 319.4h0.9M53.0 317.3h0.9M45.9 308.9h0.9M54.4 325.2h0.9M50.6 314.8h0.9M52.4 317.6h0.9M33.7 316.0h0.9M38.0 316.4h0.9M42.9 321.7h0.9M40.6 318.5h0.9M48.8 311.8h0.9M49.9 315.7h0.9M43.8 311.9h0.9M49.6 315.9h0.9"/><path d="M48.8 318.3h0.9M57.9 318.1h0.9M49.9 324.4h0.9M46.9 323.4h0.9M52.3 310.6h0.9M58.2 318.5h0.9M42.9 316.9h0.9M50.6 319.6h0.9M61.7 312.1h0.9M51.5 316.3h0.9M47.0 316.4h0.9M45.2 325.1h0.9M50.5 318.4h0.9M51.4 312.1h0.9M48.6 316.2h0.9M44.0 323.9h0.9M50.7 321.2h0.9M46.2 318.7h0.9M49.4 321.1h0.9M50.3 320.6h0.9"/></g>
<g stroke="#000" stroke-width="0.9" stroke-opacity="0.4"><path d="M43.5 321.0h0.9M52.9 321.7h0.9M47.2 319.7h0.9M49.0 320.3h0.9M49.4 315.5h0.9M45.4 318.9h0.9M40.8 303.3h0.9M48.7 316.1h0.9M51.3 322.1h0.9M52.2 317.1h0.9M50.8 308.5h0.9M53.9 313.5h0.9M43.2 320.9h0.9M44.4 312.6h0.9M47.3 312.3h0.9M55.6 312.3h0.9M48.6 324.7h0.9M51.7 332.0h0.9M57.5 320.9h0.9M39.8 321.4h0.9M59.2 324.7h0.9M54.0 322.5h0.9M48.5 320.7h0.9M52.5 318.8h0.9M59.7 314.1h0.9M59.4 315.9h0.9M41.4 316.1h0.9M42.9 316.5h0.9M54.4 326.0h0.9M55.7 303.2h0.9M58.8 314.8h0.9M52.6 326.1h0.9M58.0 329.3h0.9M50.0 312.8h0.9M42.3 329.3h0.9M46.7 319.3h0.9M45.6 312.9h0.9M61.4 327.4h0.9M51.0 322.5h0.9M43.7 317.3h0.9M45.3 323.9h0.9M59.4 315.9h0.9M36.0 322.2h0.9M65.7 313.9h0.9M64.0 321.4h0.9M51.7 309.5h0.9M48.0 309.8h0.9M54.6 332.3h0.9M51.3 314.5h0.9M44.6 317.4h0.9M50.7 327.0h0.9M50.4 319.2h0.9M41.5 312.4h0.9M51.3 318.0h0.9M48.2 321.3h0.9M62.1 314.0h0.9M54.9 324.5h0.9M45.5 310.6h0.9M39.8 318.7h0.9M50.4 320.7h0.9M54.9 324.9h0.9M60.0 329.1h0.9M49.4 319.5h0.9M42.5 311.1h0.9M49.4 312.1h0.9M60.1 314.8h0.9M62.7 315.3h0.9M48.4 324.8h0.9M52.8 327.0h0.9M42.9 322.4h0.9"/><path d="M46.4 321.1h0.9M38.8 312.7h0.9M47.2 321.0h0.9M41.3 312.5h0.9M35.4 314.2h0.9M62.4 315.9h0.9M34.3 309.2h0.9M40.8 315.1h0.9M51.6 323.8h0.9M45.6 321.8h0.9M48.9 322.3h0.9M57.8 323.8h0.9M36.4 321.8h0.9M46.8 304.8h0.9M53.0 317.3h0.9M39.7 306.4h0.9M53.5 320.5h0.9M54.7 319.5h0.9M65.2 315.7h0.9M50.2 319.1h0.9M62.2 327.0h0.9M45.1 325.2h0.9M44.4 323.0h0.9M37.2 307.0h0.9M57.4 321.6h0.9M46.5 308.1h0.9M45.2 314.8h0.9M55.4 319.8h0.9M33.9 312.7h0.9M40.5 313.7h0.9M39.8 324.5h0.9M58.6 318.0h0.9M43.6 312.4h0.9M49.3 331.6h0.9M57.2 322.0h0.9M59.0 315.7h0.9M45.5 320.9h0.9M40.5 325.0h0.9M45.1 310.7h0.9M57.0 317.4h0.9M47.3 326.6h0.9M61.0 315.5h0.9M59.1 310.5h0.9M61.0 320.6h0.9M50.0 327.6h0.9M53.1 308.3h0.9M52.5 324.2h0.9M57.9 328.6h0.9M46.8 311.1h0.9M37.2 314.7h0.9M44.9 319.3h0.9M62.9 316.7h0.9M39.4 318.0h0.9M51.3 322.9h0.9M60.8 322.4h0.9M52.1 314.5h0.9M52.6 324.8h0.9M46.9 328.2h0.9M49.8 323.2h0.9M36.6 324.3h0.9M48.8 315.6h0.9M51.4 320.2h0.9M44.0 310.6h0.9M53.0 323.1h0.9M51.2 317.2h0.9M48.0 307.3h0.9M45.7 314.0h0.9M48.5 305.1h0.9M39.3 314.9h0.9M34.9 309.3h0.9"/><path d="M61.4 318.0h0.9M45.6 318.5h0.9M41.3 318.5h0.9M45.7 312.1h0.9M50.0 322.6h0.9M49.7 310.8h0.9M50.3 314.8h0.9M45.9 319.3h0.9M53.2 323.8h0.9M46.6 333.0h0.9M57.3 323.6h0.9M63.6 326.5h0.9M62.2 326.7h0.9M46.7 323.5h0.9M58.9 324.1h0.9M60.4 323.3h0.9M43.4 317.1h0.9M42.3 310.5h0.9M65.9 325.1h0.9M59.9 311.8h0.9M56.2 316.6h0.9M55.6 323.6h0.9M60.2 314.9h0.9M60.0 325.7h0.9M52.9 312.6h0.9M40.1 308.2h0.9M37.2 322.5h0.9M37.0 313.2h0.9M52.3 316.0h0.9M53.7 326.3h0.9M45.8 322.4h0.9M58.4 319.3h0.9M57.9 319.1h0.9M51.4 324.4h0.9M48.2 317.7h0.9M54.4 325.3h0.9M41.6 324.9h0.9M51.7 320.3h0.9M61.1 314.2h0.9M43.0 311.7h0.9M51.3 321.9h0.9M38.3 320.8h0.9M40.5 319.5h0.9M66.8 326.8h0.9M50.2 324.6h0.9M56.3 305.5h0.9M43.8 323.0h0.9M54.6 313.1h0.9M53.8 321.7h0.9M49.4 319.0h0.9M65.3 324.7h0.9M57.3 309.5h0.9M47.3 323.6h0.9M52.1 318.0h0.9M42.8 320.4h0.9M49.2 309.5h0.9M70.5 319.6h0.9M35.7 309.2h0.9M45.3 315.9h0.9M43.4 317.9h0.9"/></g>
<g stroke="#000" stroke-width="0.9" stroke-opacity="0.4"><path d="M80.0 348.9h0.9M26.7 338.8h0.9M62.5 346.9h0.9M29.6 334.4h0.9M27.2 324.1h0.9M43.9 319.5h0.9M47.0 330.0h0.9M27.3 330.8h0.9M25.0 342.2h0.9M22.4 328.0h0.9M20.2 347.6h0.9M82.2 345.2h0.9M50.1 326.5h0.9M69.8 301.1h0.9M43.5 327.7h0.9M31.4 326.2h0.9M43.2 305.2h0.9M58.9 324.8h0.9M28.3 331.3h0.9M34.9 333.5h0.9M41.1 343.4h0.9M59.5 296.2h0.9M42.2 346.1h0.9M42.2 346.9h0.9M76.9 357.1h0.9M69.6 324.1h0.9M51.7 301.7h0.9M39.4 313.3h0.9M72.7 347.8h0.9M61.6 346.4h0.9M48.4 338.2h0.9M43.5 296.9h0.9M54.5 353.9h0.9M52.8 355.6h0.9M45.5 312.8h0.9M30.5 324.4h0.9M40.4 303.3h0.9M40.6 358.9h0.9M71.5 323.8h0.9M35.5 328.8h0.9M42.0 336.9h0.9M38.5 337.0h0.9M70.6 314.5h0.9M34.6 333.4h0.9M57.8 354.2h0.9M73.6 326.5h0.9M52.6 348.0h0.9M58.0 304.0h0.9M45.2 303.6h0.9M64.2 347.5h0.9M62.0 299.6h0.9M46.7 297.2h0.9M65.1 345.7h0.9M33.2 343.2h0.9M23.3 305.6h0.9M81.2 310.3h0.9M62.8 357.7h0.9M70.6 326.1h0.9M48.3 322.5h0.9M30.2 347.8h0.9M54.3 346.4h0.9M51.6 311.6h0.9M37.0 303.8h0.9M67.5 329.0h0.9M45.4 360.4h0.9M44.1 319.5h0.9M34.7 314.3h0.9M36.4 329.7h0.9M47.7 327.0h0.9M75.1 319.2h0.9"/><path d="M60.1 329.7h0.9M82.5 335.4h0.9M81.4 319.8h0.9M32.8 309.7h0.9M74.1 303.5h0.9M39.2 352.0h0.9M24.1 342.4h0.9M45.9 310.7h0.9M82.4 352.7h0.9M34.0 304.7h0.9"/></g>
<g stroke="#000" stroke-width="0.9" stroke-opacity="0.4"><path d="M67.3 334.2h0.9M83.7 341.8h0.9M57.3 333.7h0.9M64.5 348.8h0.9M49.3 353.0h0.9M65.6 356.6h0.9M82.6 358.1h0.9M62.4 342.4h0.9M70.8 344.2h0.9M63.1 339.4h0.9M50.3 335.1h0.9M70.6 359.4h0.9M85.2 340.0h0.9M52.6 334.6h0.9M48.4 356.6h0.9M58.5 343.1h0.9M52.2 353.0h0.9M52.0 360.6h0.9M45.0 359.8h0.9M61.2 345.3h0.9M65.1 339.1h0.9M82.5 347.6h0.9M66.9 358.2h0.9M71.8 357.2h0.9M49.0 341.0h0.9M52.9 347.4h0.9M55.0 358.9h0.9M52.8 343.7h0.9M61.0 341.5h0.9M73.8 346.8h0.9M77.4 342.6h0.9M79.1 357.0h0.9M60.9 360.1h0.9M83.0 338.7h0.9M67.1 358.1h0.9M53.6 358.0h0.9M56.7 356.6h0.9M59.8 360.3h0.9M80.8 343.4h0.9M44.5 350.6h0.9"/></g>
<rect x="22.60" y="330.80" width="21.20" height="33.30" fill="none" stroke="#555" stroke-width="0.9"/>
<rect x="30.30" y="298.60" width="43.20" height="32.20" fill="none" stroke="#cc623c" stroke-width="1.35"/>
<rect x="69.50" y="302.20" width="16.00" height="7.40" fill="#fff" stroke="none" stroke-width="1"/>
<text x="69.80" y="308.80" font-size="8.5" font-weight="bold" textLength="15.3" lengthAdjust="spacingAndGlyphs">16.2</text>
<rect x="45.20" y="352.80" width="16.00" height="7.40" fill="#fff" stroke="none" stroke-width="1"/>
<text x="45.50" y="359.40" font-size="8.5" font-weight="bold" textLength="15.3" lengthAdjust="spacingAndGlyphs">81.2</text>
<path d="M96.7 364.1v2.5M99.7 364.1v2.5M102.6 364.1v2.5M105.6 364.1v2.5M108.5 364.1v2.5M111.5 364.1v2.5M114.4 364.1v2.5M117.4 364.1v2.5M120.3 364.1v2.5M123.3 364.1v2.5M126.2 364.1v2.5M129.2 364.1v2.5M132.1 364.1v2.5M135.1 364.1v2.5M138.0 364.1v2.5M140.9 364.1v2.5M143.9 364.1v2.5M146.8 364.1v2.5M149.8 364.1v2.5M152.7 364.1v2.5M155.7 364.1v2.5M158.6 364.1v2.5M161.6 364.1v2.5M164.5 364.1v2.5M95.1 363.1h-2.8M95.1 358.3h-2.0M95.1 355.5h-2.0M95.1 353.5h-2.0M95.1 351.9h-2.0M95.1 350.6h-2.0M95.1 349.6h-2.0M95.1 348.7h-2.0M95.1 347.8h-2.0M95.1 347.1h-2.8M95.1 342.3h-2.0M95.1 339.5h-2.0M95.1 337.5h-2.0M95.1 335.9h-2.0M95.1 334.6h-2.0M95.1 333.6h-2.0M95.1 332.7h-2.0M95.1 331.8h-2.0M95.1 331.1h-2.8M95.1 326.3h-2.0M95.1 323.5h-2.0M95.1 321.5h-2.0M95.1 319.9h-2.0M95.1 318.6h-2.0M95.1 317.6h-2.0M95.1 316.7h-2.0M95.1 315.8h-2.0M95.1 315.1h-2.8M95.1 310.3h-2.0M95.1 307.5h-2.0M95.1 305.5h-2.0M95.1 303.9h-2.0M95.1 302.6h-2.0M95.1 301.6h-2.0M95.1 300.7h-2.0M95.1 299.8h-2.0M95.1 299.1h-2.8M95.1 294.3h-2.0" stroke="#333" stroke-width="0.9"/>
<path d="M94.5 364.1V292.1H166.2" stroke="#b0b0b0" stroke-width="1.0" fill="none"/>
<path d="M166.2 292.1V364.1H94.5" stroke="#666" stroke-width="1.1" fill="none"/>
<g stroke="#000" stroke-width="0.9" stroke-opacity="0.6"><path d="M112.8 344.4h0.9M117.1 343.6h0.9M113.0 345.4h0.9M114.4 340.3h0.9M118.5 354.7h0.9M114.6 348.5h0.9M114.3 341.3h0.9M115.7 341.4h0.9M110.9 343.6h0.9M115.9 344.0h0.9M117.1 349.4h0.9M117.4 352.7h0.9M113.5 349.6h0.9M116.6 347.9h0.9M113.5 348.7h0.9M115.3 349.6h0.9M114.6 343.7h0.9M111.0 345.8h0.9M119.6 347.2h0.9M114.9 342.6h0.9M115.7 346.6h0.9M115.3 345.0h0.9M112.1 342.2h0.9M113.3 341.8h0.9M112.0 347.6h0.9M114.9 343.9h0.9M114.4 351.3h0.9M111.7 349.2h0.9M109.5 353.5h0.9M116.1 356.1h0.9M119.5 346.9h0.9M116.5 348.3h0.9M109.7 350.6h0.9M116.9 350.1h0.9M115.6 340.9h0.9M113.1 328.9h0.9M115.4 342.7h0.9M113.3 351.2h0.9M114.8 333.1h0.9M117.4 339.5h0.9M111.6 341.4h0.9M118.0 340.0h0.9M115.7 348.9h0.9M109.2 352.6h0.9M112.9 353.8h0.9M113.7 352.9h0.9M120.2 336.0h0.9M111.6 343.3h0.9M117.3 353.8h0.9M115.1 348.3h0.9M116.8 341.7h0.9M113.2 346.7h0.9M118.3 342.8h0.9M116.5 342.6h0.9M111.7 346.7h0.9M115.2 346.5h0.9M112.8 343.6h0.9M117.2 339.5h0.9M113.1 340.8h0.9M115.0 352.1h0.9M113.8 342.9h0.9M113.8 346.4h0.9M113.5 341.7h0.9M115.6 353.1h0.9M115.3 342.9h0.9M118.2 346.3h0.9M115.9 345.4h0.9M115.9 340.1h0.9M114.7 345.3h0.9M114.2 346.8h0.9"/><path d="M122.1 341.6h0.9M114.0 340.0h0.9M115.0 343.6h0.9M117.4 345.6h0.9M114.4 346.3h0.9M120.0 351.1h0.9M115.8 351.1h0.9M114.2 338.6h0.9M111.1 348.5h0.9M115.7 343.3h0.9M112.2 350.0h0.9M113.6 340.4h0.9M116.7 346.7h0.9M111.5 353.2h0.9M113.3 343.6h0.9M112.8 344.4h0.9M118.7 344.5h0.9M116.7 342.9h0.9M117.9 351.9h0.9M116.9 354.2h0.9M115.4 336.9h0.9M111.4 343.1h0.9M116.9 346.7h0.9M115.5 347.1h0.9M113.9 345.7h0.9M113.3 346.1h0.9M116.6 353.7h0.9M118.5 345.5h0.9M113.6 344.1h0.9M109.9 350.4h0.9M117.1 348.0h0.9M114.9 349.3h0.9M117.3 352.1h0.9M110.8 357.4h0.9M113.0 352.5h0.9M111.9 351.9h0.9M121.7 350.9h0.9M114.9 353.5h0.9M114.6 346.8h0.9M113.5 345.4h0.9M115.2 342.9h0.9M117.9 347.8h0.9M111.6 342.6h0.9M114.6 344.6h0.9M118.7 341.3h0.9M114.8 345.5h0.9M114.4 349.0h0.9M116.3 343.5h0.9M113.4 347.9h0.9M114.6 343.7h0.9M110.5 347.6h0.9M113.6 348.5h0.9M113.1 345.8h0.9M114.1 337.7h0.9M114.9 347.5h0.9M114.5 346.5h0.9M118.6 336.7h0.9M112.2 342.9h0.9M112.7 343.7h0.9M111.3 344.4h0.9M116.1 342.9h0.9M116.5 350.0h0.9M116.9 347.2h0.9M109.7 345.4h0.9M108.3 338.9h0.9M116.4 333.0h0.9M116.5 343.2h0.9M116.5 352.4h0.9M114.6 341.3h0.9M116.4 340.0h0.9"/><path d="M114.9 345.7h0.9M117.6 338.0h0.9M115.3 354.8h0.9M114.4 354.9h0.9M117.2 338.5h0.9M116.2 347.7h0.9M113.0 345.0h0.9M110.0 354.0h0.9M116.1 344.6h0.9M117.0 353.0h0.9M114.5 345.7h0.9M116.4 345.3h0.9M119.4 350.9h0.9M115.4 344.1h0.9M109.3 340.9h0.9M120.5 345.7h0.9M118.0 336.8h0.9M111.5 350.3h0.9M117.8 339.3h0.9M110.7 341.0h0.9M115.1 335.6h0.9M119.2 340.8h0.9M115.7 349.9h0.9M114.6 346.0h0.9M113.7 355.1h0.9M117.8 345.2h0.9M113.5 345.8h0.9M108.9 343.5h0.9M113.4 352.3h0.9M116.0 341.4h0.9M111.1 349.0h0.9M115.8 349.8h0.9M114.9 347.7h0.9M115.0 354.7h0.9M114.8 341.3h0.9M117.2 349.6h0.9M114.0 352.3h0.9M116.3 342.6h0.9M112.5 353.6h0.9M117.3 340.5h0.9M111.8 355.0h0.9M121.9 351.3h0.9M114.6 344.4h0.9M117.0 353.2h0.9M115.9 345.2h0.9M111.0 339.8h0.9M111.8 336.9h0.9M116.0 344.0h0.9M119.5 350.9h0.9M114.9 355.4h0.9M117.3 344.8h0.9M115.0 342.9h0.9M113.5 345.8h0.9M113.8 344.2h0.9M114.3 346.5h0.9M118.4 345.1h0.9M113.8 348.8h0.9M115.4 340.8h0.9M114.1 345.5h0.9M112.9 349.9h0.9M115.7 343.4h0.9M117.9 347.7h0.9M114.9 347.3h0.9M117.1 349.3h0.9M113.0 347.6h0.9M114.6 344.6h0.9M114.0 351.2h0.9M115.0 358.0h0.9M113.3 350.3h0.9M117.8 344.3h0.9"/><path d="M115.1 351.2h0.9M119.7 345.5h0.9M114.4 347.7h0.9M116.8 344.2h0.9M117.2 348.3h0.9M115.0 341.6h0.9M116.8 335.8h0.9M112.3 337.6h0.9M113.9 345.0h0.9M113.9 342.8h0.9M116.8 336.8h0.9M110.8 347.5h0.9M118.0 347.8h0.9M111.7 337.3h0.9M116.4 347.3h0.9M115.0 339.7h0.9M108.2 349.8h0.9M119.5 350.0h0.9M116.3 348.2h0.9M114.3 344.7h0.9M115.0 342.1h0.9M115.8 340.0h0.9M114.6 354.1h0.9M118.8 342.0h0.9M117.1 348.8h0.9M117.4 348.1h0.9M114.2 351.5h0.9M117.7 340.4h0.9M115.0 344.5h0.9M112.1 346.4h0.9M114.0 336.5h0.9M120.0 346.4h0.9M114.5 347.0h0.9M112.4 342.1h0.9M119.3 344.0h0.9M110.4 347.6h0.9M117.2 342.5h0.9M113.2 352.1h0.9M117.2 340.1h0.9M113.7 344.1h0.9M114.3 339.8h0.9M114.3 341.0h0.9M116.7 346.8h0.9M113.5 344.5h0.9M113.6 350.2h0.9M116.1 348.9h0.9M109.3 349.2h0.9M114.6 343.9h0.9M111.1 351.3h0.9M118.9 346.0h0.9M114.4 342.6h0.9M117.0 346.3h0.9M113.0 352.0h0.9M116.2 347.3h0.9M114.7 344.7h0.9M112.7 343.5h0.9M113.4 350.1h0.9M112.3 352.9h0.9M117.7 343.0h0.9M112.8 337.9h0.9M117.1 349.3h0.9M119.1 347.3h0.9M115.9 344.5h0.9M111.6 349.0h0.9M113.9 345.7h0.9M112.8 348.3h0.9M110.4 340.2h0.9M117.7 348.7h0.9M112.3 347.1h0.9M115.8 350.7h0.9"/><path d="M117.7 350.7h0.9M113.3 355.0h0.9M114.9 349.2h0.9M116.4 352.9h0.9M117.6 338.2h0.9M111.1 345.3h0.9M112.8 350.5h0.9M118.8 352.1h0.9M112.1 348.4h0.9M117.3 349.3h0.9M117.3 358.5h0.9M117.0 347.9h0.9M116.3 347.5h0.9M113.8 346.0h0.9M112.5 341.4h0.9M115.0 341.8h0.9M113.2 342.9h0.9M111.9 333.4h0.9M116.5 352.3h0.9M115.4 342.7h0.9M117.8 347.7h0.9M111.2 345.6h0.9M115.0 341.9h0.9M116.2 339.2h0.9M114.9 349.3h0.9M109.9 348.7h0.9M117.1 342.0h0.9M111.8 345.0h0.9M114.8 345.0h0.9M114.0 340.7h0.9M110.1 342.5h0.9M117.2 349.5h0.9M116.7 345.0h0.9M113.2 343.5h0.9M115.2 339.5h0.9M115.7 347.9h0.9M113.2 350.1h0.9M116.6 335.5h0.9M113.7 345.4h0.9M108.8 348.8h0.9M117.3 348.3h0.9M114.4 352.6h0.9M115.0 347.4h0.9M116.0 351.2h0.9M110.4 350.2h0.9M115.7 352.5h0.9M115.3 345.5h0.9M113.0 346.2h0.9M113.3 348.3h0.9M114.9 342.5h0.9M116.6 345.7h0.9M113.8 352.3h0.9M115.9 348.0h0.9M112.9 351.9h0.9M116.3 340.5h0.9M114.0 351.8h0.9M117.3 345.5h0.9M115.4 346.8h0.9M108.7 349.3h0.9M118.5 343.4h0.9M115.1 350.4h0.9M115.4 350.8h0.9M114.9 344.9h0.9M113.0 345.6h0.9M111.4 340.5h0.9M115.0 341.8h0.9M115.1 345.5h0.9M114.4 348.5h0.9M113.6 341.2h0.9M114.1 345.1h0.9"/><path d="M118.2 350.6h0.9M111.3 337.7h0.9M111.6 348.5h0.9M110.0 350.1h0.9M113.9 351.1h0.9M115.4 341.7h0.9M113.7 346.8h0.9M117.8 344.7h0.9M113.3 346.5h0.9M112.8 348.3h0.9M115.8 350.0h0.9M112.5 351.2h0.9M122.1 352.4h0.9M115.0 345.5h0.9M110.7 348.1h0.9M120.1 348.5h0.9M115.8 345.7h0.9M111.8 356.8h0.9M113.9 353.3h0.9M114.9 345.6h0.9M112.5 346.6h0.9M115.3 344.3h0.9M114.5 345.1h0.9M112.5 342.7h0.9M121.7 340.0h0.9M116.6 339.6h0.9M112.3 350.3h0.9M111.0 349.5h0.9M118.6 345.0h0.9M116.8 350.7h0.9M109.4 344.1h0.9M113.7 350.2h0.9M113.6 340.1h0.9M111.3 346.2h0.9M114.9 348.0h0.9M111.9 348.2h0.9M114.5 341.4h0.9M111.4 356.0h0.9M116.3 344.3h0.9M116.3 342.7h0.9M119.2 348.6h0.9M108.9 344.2h0.9M114.1 346.5h0.9M111.7 350.5h0.9M115.2 352.7h0.9M115.3 352.8h0.9M118.9 346.5h0.9M115.5 350.4h0.9M116.0 345.6h0.9M120.9 351.5h0.9M116.1 340.5h0.9M112.0 345.2h0.9M111.8 339.3h0.9M116.4 349.3h0.9M113.3 345.9h0.9M117.7 350.2h0.9M119.5 345.2h0.9M113.8 349.8h0.9M119.6 345.3h0.9M113.9 344.9h0.9M117.7 351.6h0.9M112.2 351.0h0.9M116.8 352.0h0.9M113.5 345.8h0.9M116.2 348.5h0.9M112.3 349.6h0.9M116.4 345.0h0.9M115.9 351.3h0.9M114.8 346.5h0.9M112.1 345.8h0.9"/><path d="M113.0 341.5h0.9M117.3 348.2h0.9M115.7 347.0h0.9M118.4 338.2h0.9M118.9 344.0h0.9M112.5 342.4h0.9M112.5 345.4h0.9M116.8 342.3h0.9M116.9 343.7h0.9M114.8 352.6h0.9M113.9 340.9h0.9M115.0 347.9h0.9M113.9 344.2h0.9M116.4 341.8h0.9M114.5 342.4h0.9M116.4 344.1h0.9M115.7 345.9h0.9M114.6 342.1h0.9M118.1 343.7h0.9M114.5 340.2h0.9M115.0 342.3h0.9M112.0 350.7h0.9M116.8 347.4h0.9M115.3 348.7h0.9M114.8 347.0h0.9M112.3 344.3h0.9M114.4 334.3h0.9M111.7 342.1h0.9M120.1 338.8h0.9M109.9 349.2h0.9M112.2 348.3h0.9M114.7 353.6h0.9M114.8 350.0h0.9M114.4 346.3h0.9M114.8 345.8h0.9M118.5 353.3h0.9M114.9 345.1h0.9M115.3 350.7h0.9M116.7 346.4h0.9M110.7 356.7h0.9M118.6 348.3h0.9M115.7 352.3h0.9M119.1 346.6h0.9M115.6 345.2h0.9M119.9 344.4h0.9M113.7 350.9h0.9M116.4 346.1h0.9M117.0 347.5h0.9M114.8 347.7h0.9M116.3 347.1h0.9M116.1 346.9h0.9M116.2 341.9h0.9M119.2 350.8h0.9M115.7 348.9h0.9M119.6 348.4h0.9M111.6 348.0h0.9M109.7 345.3h0.9M118.6 341.2h0.9M110.9 344.6h0.9M115.9 355.0h0.9M114.2 345.9h0.9M111.8 355.8h0.9M114.5 348.2h0.9M117.5 345.6h0.9M112.6 344.0h0.9M114.7 350.0h0.9M117.5 343.8h0.9M114.0 339.8h0.9M115.0 356.0h0.9M116.0 344.8h0.9"/><path d="M118.8 348.2h0.9M117.9 353.5h0.9M111.7 346.4h0.9M114.3 351.8h0.9M114.6 346.8h0.9M109.6 344.0h0.9M113.3 341.5h0.9M115.3 344.8h0.9M115.4 350.3h0.9M115.9 346.3h0.9"/></g>
<g stroke="#000" stroke-width="0.9" stroke-opacity="0.5"><path d="M116.0 339.5h0.9M113.6 343.1h0.9M121.3 338.6h0.9M113.6 350.2h0.9M113.2 350.9h0.9M111.0 353.1h0.9M115.6 332.6h0.9M110.1 338.5h0.9M114.0 344.4h0.9M116.0 350.7h0.9M116.9 349.6h0.9M112.1 337.1h0.9M110.7 349.1h0.9M111.5 338.8h0.9M111.9 349.2h0.9M110.4 345.3h0.9M117.3 351.9h0.9M109.0 346.4h0.9M112.9 362.5h0.9M114.0 337.6h0.9M112.7 346.5h0.9M113.2 351.2h0.9M113.5 346.9h0.9M126.4 349.4h0.9M117.7 346.8h0.9M106.6 357.5h0.9M113.3 351.0h0.9M110.0 347.4h0.9M118.5 339.5h0.9M121.3 352.9h0.9M116.1 344.8h0.9M118.0 333.5h0.9M119.1 333.8h0.9M113.1 355.2h0.9M115.9 334.4h0.9M109.2 338.3h0.9M113.0 341.1h0.9M118.1 344.3h0.9M120.8 355.3h0.9M110.6 354.9h0.9M119.3 339.1h0.9M113.7 341.2h0.9M111.4 346.2h0.9M115.9 341.2h0.9M109.3 350.7h0.9M119.3 354.0h0.9M110.0 343.2h0.9M113.7 342.1h0.9M118.4 340.7h0.9M113.8 348.9h0.9M115.0 348.2h0.9M114.3 349.9h0.9M115.9 346.9h0.9M116.7 349.2h0.9M117.2 349.6h0.9M116.4 348.9h0.9M111.9 343.4h0.9M113.8 342.2h0.9M113.2 342.2h0.9M112.5 348.7h0.9M125.0 359.0h0.9M114.8 347.0h0.9M113.9 345.0h0.9M116.8 349.3h0.9M115.8 352.5h0.9M113.3 351.3h0.9M115.4 340.2h0.9M119.1 340.6h0.9M117.5 341.9h0.9M112.5 353.8h0.9"/><path d="M116.2 346.5h0.9M112.2 335.5h0.9M113.1 345.4h0.9M117.8 346.4h0.9M118.2 343.0h0.9M117.9 351.9h0.9M114.0 351.9h0.9M120.5 337.7h0.9M110.4 342.2h0.9M112.9 340.4h0.9M115.3 337.7h0.9M120.9 345.9h0.9M115.5 345.3h0.9M112.9 347.3h0.9M114.3 348.9h0.9M117.3 341.2h0.9M108.8 342.2h0.9M115.6 333.5h0.9M116.3 347.2h0.9M110.3 347.9h0.9M117.9 345.9h0.9M116.4 350.2h0.9M118.8 354.1h0.9M112.3 345.1h0.9M114.9 340.1h0.9M115.2 348.9h0.9M115.9 334.5h0.9M112.7 330.6h0.9M115.1 346.3h0.9M117.5 352.2h0.9M111.6 345.9h0.9M115.4 351.5h0.9M118.7 345.3h0.9M109.9 351.6h0.9M114.1 334.9h0.9M115.4 341.0h0.9M114.9 354.2h0.9M114.6 341.4h0.9M116.2 344.7h0.9M115.2 352.9h0.9M115.6 349.6h0.9M114.6 347.3h0.9M111.4 341.6h0.9M118.3 354.9h0.9M111.2 350.8h0.9M117.8 341.4h0.9M117.2 350.2h0.9M118.9 357.7h0.9M114.9 349.0h0.9M111.9 348.3h0.9M114.9 345.2h0.9M115.3 352.1h0.9M118.0 351.4h0.9M120.9 337.4h0.9M114.4 346.0h0.9M113.5 343.7h0.9M110.2 344.5h0.9M119.0 343.7h0.9M114.8 349.3h0.9M114.8 340.4h0.9M113.2 354.0h0.9M112.6 338.7h0.9M121.3 347.4h0.9M111.2 335.4h0.9M112.4 338.2h0.9M114.4 352.4h0.9M117.5 344.2h0.9M117.0 343.8h0.9M106.3 351.0h0.9M112.2 340.4h0.9"/><path d="M118.2 346.9h0.9M117.8 352.7h0.9M117.4 345.8h0.9M121.8 340.2h0.9M118.1 358.5h0.9M114.3 342.7h0.9M117.7 353.5h0.9M116.8 342.5h0.9M115.4 337.3h0.9M118.5 353.8h0.9M114.3 350.3h0.9M113.9 347.0h0.9M115.4 345.2h0.9M124.7 344.6h0.9M118.3 340.9h0.9M115.8 346.3h0.9M112.1 351.8h0.9M117.5 354.9h0.9M116.3 340.1h0.9M117.7 348.5h0.9M121.1 331.6h0.9M114.4 347.2h0.9M118.4 339.1h0.9M118.7 348.4h0.9M108.0 361.5h0.9M107.7 340.0h0.9M112.1 349.5h0.9M113.4 346.0h0.9M112.4 349.7h0.9M117.7 357.6h0.9M109.9 341.9h0.9M112.9 343.7h0.9M114.4 350.6h0.9M112.8 342.5h0.9M119.1 355.3h0.9M121.2 359.5h0.9M112.4 355.1h0.9M117.3 346.0h0.9M117.0 342.5h0.9M111.2 344.9h0.9M109.8 344.0h0.9M115.2 340.2h0.9M112.4 334.0h0.9M111.0 346.0h0.9M112.7 347.4h0.9M112.7 343.3h0.9M109.3 357.2h0.9M114.1 352.2h0.9M112.3 339.1h0.9M115.8 343.8h0.9M114.6 350.5h0.9M116.9 351.6h0.9M115.6 334.3h0.9M116.5 356.2h0.9M116.2 353.1h0.9M116.5 349.9h0.9M116.9 337.0h0.9M107.7 347.0h0.9M117.0 350.0h0.9M114.0 343.5h0.9M111.4 348.7h0.9M116.0 351.2h0.9M114.5 354.6h0.9M112.5 353.6h0.9M112.2 355.6h0.9M118.2 340.3h0.9M116.7 340.2h0.9M121.1 353.5h0.9M115.2 348.9h0.9M114.8 343.6h0.9"/><path d="M111.2 346.1h0.9M118.3 348.8h0.9M118.8 353.1h0.9M116.7 340.8h0.9M111.6 344.1h0.9M107.5 336.6h0.9M115.2 355.2h0.9M122.3 347.7h0.9M118.2 348.9h0.9M111.9 352.6h0.9M114.8 350.6h0.9M108.6 344.5h0.9M118.2 345.2h0.9M114.9 352.2h0.9M119.9 355.4h0.9M115.4 343.1h0.9M118.2 342.5h0.9M110.8 341.4h0.9M114.8 342.0h0.9M112.2 353.0h0.9M111.1 338.9h0.9M115.1 350.7h0.9M113.2 340.4h0.9M123.2 344.0h0.9M124.0 342.0h0.9M119.4 338.9h0.9M120.6 350.2h0.9M115.9 343.1h0.9M120.4 355.5h0.9M115.3 348.3h0.9M112.8 351.2h0.9M114.1 350.5h0.9M108.5 349.9h0.9M118.6 348.1h0.9M120.5 342.1h0.9M119.1 348.0h0.9M115.5 350.0h0.9M119.8 335.7h0.9M115.4 346.5h0.9M117.9 347.1h0.9"/></g>
<g stroke="#000" stroke-width="0.9" stroke-opacity="0.45"><path d="M118.0 356.1h0.9M117.2 357.1h0.9M115.9 362.8h0.9M115.5 353.2h0.9M115.2 362.7h0.9M114.2 355.9h0.9M113.9 362.7h0.9M113.9 358.7h0.9M115.2 357.2h0.9M114.2 358.3h0.9M115.8 362.0h0.9M115.1 356.6h0.9M115.8 358.6h0.9M112.3 352.9h0.9M115.6 362.5h0.9M118.5 353.2h0.9M113.6 353.2h0.9M113.7 361.3h0.9M115.6 352.7h0.9M115.3 356.9h0.9M116.0 353.8h0.9M116.0 360.6h0.9M113.8 360.7h0.9M115.9 354.9h0.9M113.2 359.6h0.9M117.3 353.3h0.9M114.6 354.5h0.9M114.8 361.9h0.9M114.3 361.2h0.9M115.1 356.2h0.9M113.6 355.8h0.9M116.7 353.6h0.9M115.9 352.7h0.9M115.3 354.2h0.9M115.4 356.6h0.9M115.5 358.4h0.9M114.4 358.2h0.9M117.3 357.9h0.9M116.6 354.3h0.9M112.6 353.5h0.9M116.2 357.5h0.9M115.1 361.8h0.9M114.3 356.3h0.9M114.8 356.9h0.9M115.9 361.6h0.9M114.2 362.8h0.9M116.3 362.8h0.9M117.3 354.7h0.9M113.7 358.6h0.9M115.0 354.2h0.9M115.5 362.8h0.9M113.9 361.0h0.9M112.9 359.7h0.9M116.4 361.3h0.9M116.4 355.7h0.9M113.8 354.4h0.9M115.0 361.8h0.9M113.7 357.8h0.9M114.9 353.7h0.9M114.3 363.0h0.9M113.2 362.0h0.9M117.7 357.0h0.9M115.1 358.7h0.9M114.5 352.1h0.9M111.7 355.4h0.9M114.0 354.2h0.9M115.0 352.8h0.9M114.8 354.3h0.9M114.1 362.4h0.9M115.6 354.0h0.9"/><path d="M114.8 356.8h0.9M116.0 357.0h0.9M116.7 356.6h0.9M114.4 352.5h0.9M114.2 352.7h0.9M112.9 358.5h0.9M114.6 362.5h0.9M115.9 356.5h0.9M115.9 362.5h0.9M113.7 360.2h0.9"/></g>
<g stroke="#000" stroke-width="0.9" stroke-opacity="0.45"><path d="M113.2 339.1h0.9M115.6 339.9h0.9M115.4 332.2h0.9M116.1 334.3h0.9M115.9 331.4h0.9M117.4 333.2h0.9M113.3 338.8h0.9M113.9 333.6h0.9M119.9 335.2h0.9M118.1 335.9h0.9M108.5 335.6h0.9M116.1 335.7h0.9M120.5 331.2h0.9M112.2 338.1h0.9M118.7 338.7h0.9M111.4 337.2h0.9M116.5 341.5h0.9M122.3 337.6h0.9M117.0 338.4h0.9M114.4 337.1h0.9M116.1 336.6h0.9M117.1 336.3h0.9M112.8 339.5h0.9M118.0 334.0h0.9M116.8 333.7h0.9M115.9 334.1h0.9M112.6 337.5h0.9M111.6 338.4h0.9M120.3 335.5h0.9M112.1 337.4h0.9M113.9 331.8h0.9M122.3 334.8h0.9M121.1 338.8h0.9M117.1 337.4h0.9M113.6 338.1h0.9M112.7 337.4h0.9M111.7 336.3h0.9M104.8 334.6h0.9M116.0 336.5h0.9M115.8 337.7h0.9M120.8 334.7h0.9M102.2 337.7h0.9M115.5 336.2h0.9M117.2 340.9h0.9M115.8 333.5h0.9M117.3 334.2h0.9M109.5 333.1h0.9M114.8 332.1h0.9M113.4 337.6h0.9M106.8 339.8h0.9M121.7 335.7h0.9M114.4 335.5h0.9M104.4 336.8h0.9M109.5 335.7h0.9M111.0 333.6h0.9M112.2 333.1h0.9M107.1 339.7h0.9M110.9 338.8h0.9M117.3 335.3h0.9M114.9 336.3h0.9M116.5 337.4h0.9M113.7 336.1h0.9M118.2 333.8h0.9M108.9 330.0h0.9M113.4 339.0h0.9M121.9 334.4h0.9M115.3 333.6h0.9M115.1 335.6h0.9M117.8 338.5h0.9M116.2 336.4h0.9"/><path d="M117.7 335.6h0.9M119.1 340.5h0.9M117.6 341.2h0.9M112.5 337.6h0.9M115.6 334.0h0.9M115.8 335.7h0.9M116.3 336.6h0.9M117.1 335.3h0.9M114.7 338.9h0.9M119.2 336.7h0.9M108.7 338.9h0.9M116.9 333.0h0.9M107.9 331.5h0.9M109.2 341.4h0.9M113.2 335.7h0.9M117.3 340.5h0.9M115.2 336.0h0.9M118.3 340.1h0.9M115.6 334.6h0.9M111.0 338.7h0.9M111.4 334.5h0.9M107.2 332.6h0.9M116.8 334.5h0.9M117.3 335.7h0.9M112.8 338.9h0.9M115.1 335.2h0.9M119.9 333.3h0.9M110.8 336.2h0.9M114.6 330.7h0.9M113.6 335.4h0.9"/></g>
<g stroke="#000" stroke-width="0.9" stroke-opacity="0.45"><path d="M128.0 315.8h0.9M121.1 317.2h0.9M138.3 323.1h0.9M125.6 318.9h0.9M128.3 308.7h0.9M132.6 311.5h0.9M129.5 311.6h0.9M135.2 313.8h0.9M135.0 315.4h0.9M135.1 314.7h0.9M126.2 317.8h0.9M130.6 315.1h0.9M133.5 315.1h0.9M129.1 312.6h0.9M127.7 313.8h0.9M136.6 310.9h0.9M134.2 321.3h0.9M125.0 315.5h0.9M134.4 313.6h0.9M129.7 317.8h0.9M132.1 315.6h0.9M126.6 319.9h0.9M143.3 312.8h0.9M135.0 312.4h0.9M139.4 315.9h0.9M134.0 314.2h0.9M127.4 315.9h0.9M134.7 307.4h0.9M133.3 307.4h0.9M141.1 314.6h0.9M135.4 311.5h0.9M142.6 315.5h0.9M133.3 314.0h0.9M128.2 313.6h0.9M131.0 310.1h0.9M138.7 308.1h0.9M135.0 319.4h0.9M134.1 316.0h0.9M130.4 310.8h0.9M142.2 308.3h0.9M135.0 310.2h0.9M135.7 317.0h0.9M139.1 314.3h0.9M132.9 313.4h0.9M132.9 314.4h0.9M137.2 313.6h0.9M131.7 323.7h0.9M126.4 315.6h0.9M146.2 308.6h0.9M140.5 314.9h0.9M138.5 316.9h0.9M124.8 318.9h0.9M131.0 309.0h0.9M135.4 310.5h0.9M131.8 315.9h0.9M124.7 318.3h0.9M136.9 314.8h0.9M137.7 314.0h0.9M140.9 312.4h0.9M133.9 317.3h0.9M135.3 308.5h0.9M131.1 319.3h0.9M129.9 309.1h0.9M135.1 310.7h0.9M139.6 311.7h0.9M119.7 310.8h0.9M126.9 312.3h0.9M134.3 314.8h0.9M137.6 311.1h0.9M130.0 316.3h0.9"/><path d="M135.3 317.7h0.9M124.6 315.9h0.9M135.0 316.5h0.9M131.0 315.7h0.9M123.4 311.3h0.9M138.8 310.8h0.9M134.4 323.0h0.9M123.9 311.3h0.9M133.4 315.7h0.9M133.4 315.1h0.9M126.1 313.8h0.9M137.9 310.0h0.9M131.5 314.6h0.9M137.5 311.6h0.9M139.8 315.2h0.9M134.1 313.6h0.9M129.1 310.2h0.9M136.7 314.2h0.9M137.1 317.2h0.9M127.9 315.4h0.9M129.0 307.6h0.9M137.9 314.6h0.9M133.1 319.3h0.9M126.5 319.5h0.9M129.9 316.1h0.9M133.0 311.3h0.9M124.8 319.2h0.9M130.3 316.2h0.9M130.1 315.6h0.9M131.6 314.4h0.9M137.1 320.7h0.9M127.3 312.7h0.9M134.7 313.1h0.9M132.2 317.6h0.9M132.6 310.6h0.9M137.3 314.9h0.9M135.1 315.0h0.9M122.7 320.1h0.9M128.6 319.4h0.9M126.1 315.4h0.9M134.2 312.2h0.9M135.0 316.5h0.9M129.7 317.3h0.9M133.1 317.1h0.9M128.3 312.5h0.9M130.1 312.8h0.9M130.5 316.9h0.9M134.6 311.5h0.9M131.6 316.5h0.9M128.5 313.5h0.9M130.2 311.1h0.9M127.1 312.0h0.9M136.2 312.9h0.9M134.6 312.3h0.9M124.6 313.1h0.9M137.2 314.6h0.9M129.8 316.0h0.9M132.5 312.6h0.9M129.3 316.0h0.9M130.3 308.7h0.9M134.2 309.7h0.9M123.1 309.9h0.9M121.0 320.2h0.9M131.1 318.6h0.9M134.3 313.2h0.9M124.2 317.3h0.9M131.4 314.1h0.9M125.1 320.2h0.9M128.0 316.2h0.9M132.5 321.1h0.9"/><path d="M141.4 315.7h0.9M131.2 319.1h0.9M137.3 307.9h0.9M132.9 312.0h0.9M139.6 320.2h0.9M128.3 313.6h0.9M128.1 317.1h0.9M137.5 308.4h0.9M124.1 317.7h0.9M133.9 311.4h0.9M134.9 318.8h0.9M140.8 316.1h0.9M129.3 318.1h0.9M135.5 312.4h0.9M140.7 319.5h0.9M144.6 314.2h0.9M130.9 314.0h0.9M133.3 311.4h0.9M125.3 322.0h0.9M136.8 316.1h0.9M138.2 312.1h0.9M131.1 314.1h0.9M140.3 313.7h0.9M134.2 312.9h0.9M135.2 316.8h0.9M132.8 313.2h0.9M143.0 310.3h0.9M128.8 317.7h0.9M127.3 311.3h0.9M135.2 318.0h0.9M145.1 321.3h0.9M135.3 321.9h0.9M126.2 314.5h0.9M124.6 320.7h0.9M129.6 315.7h0.9M130.7 315.7h0.9M131.0 317.5h0.9M138.4 312.9h0.9M132.5 313.7h0.9M128.4 321.2h0.9M122.2 308.4h0.9M123.7 320.1h0.9M136.0 318.6h0.9M126.5 314.5h0.9M143.8 308.7h0.9M121.7 309.9h0.9M131.1 318.1h0.9M137.2 313.7h0.9M134.5 314.2h0.9M130.5 320.1h0.9M133.3 313.9h0.9M132.9 315.3h0.9M135.2 318.7h0.9M132.7 316.5h0.9M131.1 312.7h0.9M143.2 312.3h0.9M142.2 308.3h0.9M142.1 309.6h0.9M132.4 315.0h0.9M132.9 314.7h0.9M128.9 318.1h0.9M131.2 310.7h0.9M137.3 316.2h0.9M129.2 309.9h0.9M138.2 314.8h0.9M131.9 312.1h0.9M126.6 320.5h0.9M135.0 311.6h0.9M136.1 315.5h0.9M133.6 307.9h0.9"/><path d="M135.6 317.1h0.9M126.9 317.1h0.9M131.6 315.5h0.9M127.2 318.1h0.9M132.8 314.3h0.9M134.4 310.5h0.9M135.2 321.2h0.9M136.3 314.3h0.9M127.9 315.8h0.9M132.5 313.5h0.9M130.0 314.5h0.9M136.3 314.7h0.9M134.7 315.6h0.9M119.5 325.0h0.9M136.7 313.8h0.9M132.8 318.5h0.9M135.8 320.4h0.9M124.9 315.8h0.9M129.0 315.9h0.9M134.6 316.1h0.9M127.7 317.8h0.9M138.1 315.0h0.9M133.4 320.5h0.9M137.9 312.5h0.9M139.1 316.0h0.9M127.7 312.6h0.9M122.9 312.3h0.9M132.9 318.2h0.9M132.5 313.0h0.9M131.2 312.3h0.9M130.4 321.7h0.9M133.3 310.4h0.9M132.3 312.0h0.9M127.0 311.7h0.9M142.5 310.5h0.9M128.5 314.4h0.9M138.6 322.7h0.9M136.0 316.2h0.9M130.9 314.1h0.9M140.2 311.5h0.9M136.3 310.8h0.9M132.1 314.1h0.9M137.5 307.2h0.9M124.4 315.3h0.9M133.4 317.7h0.9M125.0 319.1h0.9M135.9 313.7h0.9M140.2 311.9h0.9M138.6 319.5h0.9M132.1 315.5h0.9M130.3 315.7h0.9M135.4 312.7h0.9M132.6 316.1h0.9M126.0 315.5h0.9M133.6 320.7h0.9M135.4 313.3h0.9M132.2 317.2h0.9M127.4 316.9h0.9M128.3 318.9h0.9M138.5 311.2h0.9M137.1 317.4h0.9M126.2 313.9h0.9M132.3 318.4h0.9M129.1 319.4h0.9M138.4 313.8h0.9M131.3 315.8h0.9M135.2 316.6h0.9M125.2 313.1h0.9M124.7 319.9h0.9M137.7 313.8h0.9"/><path d="M136.3 310.3h0.9M132.8 316.6h0.9M124.3 315.6h0.9M126.5 318.9h0.9M132.2 313.4h0.9M127.1 319.0h0.9M133.5 312.5h0.9M129.7 311.8h0.9M139.1 312.5h0.9M142.2 312.6h0.9M127.8 314.1h0.9M132.1 317.6h0.9M145.9 320.9h0.9M136.3 309.1h0.9M141.1 321.3h0.9M124.9 314.4h0.9M135.0 322.9h0.9M138.0 315.0h0.9M120.5 319.6h0.9M126.1 313.0h0.9M125.1 317.5h0.9M143.5 314.9h0.9M137.6 311.7h0.9M126.2 316.4h0.9M123.6 312.1h0.9M133.3 310.8h0.9M135.4 323.4h0.9M137.4 319.8h0.9M128.3 314.2h0.9M132.5 316.7h0.9M126.6 312.4h0.9M138.3 316.8h0.9M142.4 320.4h0.9M135.0 312.0h0.9M129.2 311.3h0.9M137.6 318.3h0.9M140.8 312.2h0.9M139.6 312.1h0.9M133.0 312.5h0.9M135.2 315.3h0.9M133.2 306.0h0.9M135.1 318.2h0.9M137.9 309.5h0.9M121.6 320.6h0.9M132.8 313.2h0.9M126.9 312.3h0.9M126.6 312.2h0.9M135.1 307.7h0.9M142.0 319.0h0.9M123.1 316.1h0.9M133.6 318.1h0.9M115.6 320.9h0.9M140.7 311.8h0.9M130.4 318.5h0.9M134.5 321.4h0.9M126.1 310.1h0.9M131.6 315.0h0.9M129.9 317.3h0.9M128.9 317.1h0.9M126.3 321.5h0.9M137.3 315.0h0.9M128.2 313.6h0.9M127.5 309.4h0.9M127.2 319.7h0.9M130.7 318.6h0.9M133.5 312.7h0.9M126.3 313.7h0.9M132.8 311.6h0.9M128.7 310.6h0.9M140.2 308.0h0.9"/><path d="M135.2 309.7h0.9M130.5 321.9h0.9M128.4 316.6h0.9M126.5 322.1h0.9M139.6 320.0h0.9M128.4 308.7h0.9M125.7 309.1h0.9M138.9 315.1h0.9M131.4 311.4h0.9M134.9 313.3h0.9M129.6 315.8h0.9M126.7 309.1h0.9M138.3 321.1h0.9M121.8 317.4h0.9M124.1 312.8h0.9M130.4 318.4h0.9M123.0 321.0h0.9M132.4 321.2h0.9M127.7 306.2h0.9M136.7 310.0h0.9M146.1 315.0h0.9M138.2 309.9h0.9M131.8 315.4h0.9M122.3 309.8h0.9M133.4 316.5h0.9M129.8 322.6h0.9M140.4 306.2h0.9M129.0 310.1h0.9M126.3 313.0h0.9M121.5 316.7h0.9M139.4 319.4h0.9M123.0 316.3h0.9M135.2 312.5h0.9M142.1 316.5h0.9M139.7 314.5h0.9M135.9 317.4h0.9M126.9 308.1h0.9M132.6 310.5h0.9M137.6 309.8h0.9M135.1 309.1h0.9M143.4 314.7h0.9M125.7 315.0h0.9M133.1 304.6h0.9M126.1 316.3h0.9M127.6 313.4h0.9M140.5 318.8h0.9M133.3 316.2h0.9M141.4 315.4h0.9M124.0 316.0h0.9M125.4 311.8h0.9M132.6 314.3h0.9M131.8 317.6h0.9M131.0 315.5h0.9M136.4 312.2h0.9M130.9 313.4h0.9M125.9 311.7h0.9M134.9 314.7h0.9M124.2 318.0h0.9M136.4 318.0h0.9M139.2 314.5h0.9M135.6 313.5h0.9M126.6 314.6h0.9M134.9 315.4h0.9M128.8 312.0h0.9M128.9 313.1h0.9M130.7 316.7h0.9M131.6 305.8h0.9M136.4 312.3h0.9M143.2 321.0h0.9M137.9 313.2h0.9"/><path d="M131.9 308.8h0.9M140.4 312.1h0.9M138.0 315.6h0.9M142.9 314.5h0.9M132.6 312.5h0.9M123.1 317.0h0.9M128.4 318.8h0.9M139.1 315.2h0.9M145.1 315.2h0.9M137.0 311.3h0.9M136.2 314.0h0.9M140.5 313.7h0.9M120.2 319.0h0.9M138.8 309.3h0.9M132.3 316.1h0.9M136.9 310.5h0.9M128.0 312.9h0.9M129.7 312.4h0.9M133.6 309.0h0.9M134.7 310.5h0.9M129.4 312.1h0.9M136.8 314.9h0.9M129.4 316.2h0.9M126.8 315.8h0.9M133.4 314.7h0.9M125.3 316.5h0.9M135.5 315.8h0.9M129.8 318.8h0.9M142.5 318.6h0.9M134.0 321.1h0.9M128.2 308.0h0.9M127.7 312.2h0.9M129.0 314.2h0.9M134.2 313.2h0.9M126.8 313.7h0.9M135.1 310.4h0.9M124.4 313.3h0.9M130.5 327.8h0.9M133.9 312.0h0.9M130.6 312.1h0.9M136.5 322.9h0.9M134.9 312.1h0.9M133.6 325.0h0.9M127.5 312.3h0.9M129.7 313.0h0.9M119.5 311.4h0.9M130.8 317.7h0.9M126.8 310.4h0.9M130.6 309.3h0.9M121.8 315.4h0.9M134.3 312.6h0.9M134.8 316.4h0.9M136.7 313.2h0.9M135.2 312.1h0.9M133.5 317.8h0.9M141.9 315.5h0.9M129.8 312.5h0.9M126.0 318.1h0.9M139.2 311.0h0.9M130.0 314.1h0.9M124.2 310.3h0.9M135.3 311.6h0.9M135.6 315.7h0.9M140.1 311.3h0.9M140.3 312.2h0.9M132.6 319.6h0.9M129.7 310.2h0.9M136.3 313.0h0.9M123.8 320.3h0.9M128.6 317.9h0.9"/><path d="M132.0 311.4h0.9M133.0 309.0h0.9M138.6 310.1h0.9M132.7 324.1h0.9M131.1 314.6h0.9M125.0 321.2h0.9M133.7 315.3h0.9M124.4 313.5h0.9M131.6 312.8h0.9M128.8 306.0h0.9M126.4 323.4h0.9M134.4 317.7h0.9M125.7 320.0h0.9M129.6 313.3h0.9M133.4 313.9h0.9M136.0 310.0h0.9M133.0 309.8h0.9M145.3 307.4h0.9M140.0 318.8h0.9M131.1 314.0h0.9M131.6 316.4h0.9M135.6 316.1h0.9M136.6 315.5h0.9M127.6 317.3h0.9M129.2 310.5h0.9M134.4 313.5h0.9M118.0 318.7h0.9M132.5 316.3h0.9M125.3 314.1h0.9M129.0 314.5h0.9M138.6 310.3h0.9M130.3 313.1h0.9M134.3 308.1h0.9M136.0 311.8h0.9M140.1 318.7h0.9M130.6 312.1h0.9M130.0 311.9h0.9M137.7 321.8h0.9M125.5 311.8h0.9M133.2 315.3h0.9M134.8 309.3h0.9M136.8 312.8h0.9M135.8 313.4h0.9M124.7 318.6h0.9M131.2 312.3h0.9M124.8 313.4h0.9M139.1 318.8h0.9M136.3 312.0h0.9M133.2 315.3h0.9M129.1 313.3h0.9M133.6 310.6h0.9M131.0 310.2h0.9M128.9 312.7h0.9M134.5 316.5h0.9M128.5 315.2h0.9M140.5 305.3h0.9M131.6 308.7h0.9M139.2 315.9h0.9M135.1 315.6h0.9M123.3 319.8h0.9M130.9 313.9h0.9M124.2 315.3h0.9M123.2 309.0h0.9M145.4 312.6h0.9M145.0 319.4h0.9M139.5 306.1h0.9M141.6 314.2h0.9M129.2 323.0h0.9M137.2 317.5h0.9M126.5 313.7h0.9"/><path d="M136.0 313.9h0.9M121.7 316.0h0.9M132.1 313.3h0.9M134.2 312.3h0.9M139.9 307.2h0.9M128.4 317.0h0.9M137.8 320.5h0.9M138.1 309.4h0.9M137.3 312.7h0.9M140.2 317.8h0.9M127.6 313.7h0.9M133.4 309.7h0.9M124.0 313.6h0.9M136.5 319.8h0.9M135.0 315.1h0.9M130.2 320.1h0.9M124.8 317.2h0.9M138.4 319.6h0.9M127.9 311.0h0.9M130.4 317.8h0.9M135.0 314.2h0.9M137.5 314.0h0.9M131.4 321.4h0.9M130.4 315.9h0.9M128.5 316.8h0.9M129.1 317.6h0.9M131.2 314.4h0.9M145.2 316.2h0.9M137.7 312.6h0.9M130.7 317.8h0.9M137.2 315.8h0.9M138.7 305.5h0.9M132.9 319.0h0.9M136.1 318.9h0.9M127.3 317.0h0.9M128.1 308.6h0.9M142.1 316.6h0.9M141.0 311.2h0.9M132.1 311.8h0.9M139.4 311.8h0.9M129.3 313.2h0.9M129.8 312.2h0.9M142.6 309.4h0.9M127.6 309.5h0.9M138.9 310.5h0.9M136.6 319.9h0.9M134.7 321.7h0.9M129.2 324.7h0.9M137.3 308.4h0.9M135.9 312.8h0.9M140.6 308.8h0.9M137.8 308.1h0.9M135.6 307.5h0.9M118.8 317.3h0.9M125.7 319.6h0.9M133.0 311.9h0.9M138.3 321.5h0.9M130.1 311.9h0.9M132.8 309.8h0.9M130.3 310.5h0.9M141.0 309.4h0.9M140.0 318.3h0.9M130.7 314.2h0.9M127.1 321.2h0.9M129.4 315.6h0.9M129.9 314.7h0.9M135.8 316.2h0.9M138.6 314.2h0.9M135.7 308.0h0.9M130.3 307.3h0.9"/><path d="M137.4 314.1h0.9M125.3 312.5h0.9M134.6 320.1h0.9M129.5 316.2h0.9M125.5 324.5h0.9M125.9 318.1h0.9M131.7 311.4h0.9M139.3 321.9h0.9M137.9 314.4h0.9M138.1 311.6h0.9M130.3 310.1h0.9M130.0 313.4h0.9M133.5 311.4h0.9M129.6 304.2h0.9M141.1 317.4h0.9M135.3 314.9h0.9M125.4 309.9h0.9M130.3 312.6h0.9M134.6 311.9h0.9M119.2 318.3h0.9M129.3 316.5h0.9M131.5 317.3h0.9M136.2 312.1h0.9M133.9 314.6h0.9M132.6 309.2h0.9M128.8 314.7h0.9M130.7 306.3h0.9M136.7 314.1h0.9M130.9 311.0h0.9M128.1 314.8h0.9M140.0 318.7h0.9M132.5 314.8h0.9M133.6 317.5h0.9M138.3 317.4h0.9M132.2 318.5h0.9M121.7 310.9h0.9M134.9 317.5h0.9M128.1 318.6h0.9M131.1 313.9h0.9M132.0 312.7h0.9M138.1 312.3h0.9M128.5 317.8h0.9M126.1 314.7h0.9M127.9 314.3h0.9M123.9 313.3h0.9M123.1 316.0h0.9M133.3 310.4h0.9M124.4 311.6h0.9M127.4 320.6h0.9M136.5 311.2h0.9M136.6 315.3h0.9M125.7 308.4h0.9M128.4 309.5h0.9M128.1 312.4h0.9M134.1 307.0h0.9M143.1 311.6h0.9M126.7 311.5h0.9M126.7 319.3h0.9M127.4 304.9h0.9M127.9 316.8h0.9M125.9 314.5h0.9M139.7 317.2h0.9M125.8 317.9h0.9M132.3 312.9h0.9M143.3 310.6h0.9M136.1 312.4h0.9M128.3 309.0h0.9M135.0 315.2h0.9M141.7 310.3h0.9M139.5 311.9h0.9"/></g>
<g stroke="#000" stroke-width="0.9" stroke-opacity="0.4"><path d="M118.1 320.9h0.9M137.7 315.1h0.9M140.7 326.5h0.9M143.9 317.3h0.9M122.2 328.9h0.9M132.5 315.1h0.9M119.3 322.3h0.9M146.4 318.9h0.9M121.4 320.2h0.9M126.4 321.0h0.9M146.0 305.8h0.9M132.5 315.3h0.9M132.5 315.5h0.9M121.2 327.3h0.9M127.0 315.8h0.9M139.6 321.1h0.9M139.2 312.5h0.9M127.1 322.4h0.9M123.9 312.5h0.9M120.9 315.3h0.9M116.7 315.9h0.9M125.1 323.6h0.9M120.2 317.9h0.9M125.5 313.4h0.9M119.6 318.6h0.9M135.5 317.1h0.9M117.2 325.9h0.9M130.3 317.1h0.9M116.6 317.2h0.9M146.3 317.3h0.9M129.0 329.9h0.9M140.6 314.7h0.9M121.4 313.3h0.9M128.3 314.2h0.9M135.3 312.3h0.9M138.9 309.4h0.9M115.0 326.6h0.9M120.9 320.3h0.9M135.1 318.0h0.9M140.6 320.4h0.9M130.0 317.8h0.9M142.0 316.2h0.9M138.2 321.1h0.9M124.3 321.8h0.9M155.9 308.8h0.9M137.9 304.9h0.9M127.5 315.7h0.9M134.5 318.2h0.9M118.0 312.3h0.9M128.9 314.0h0.9M127.7 319.0h0.9M129.7 326.3h0.9M132.7 319.6h0.9M122.7 326.9h0.9M140.1 317.5h0.9M128.3 320.6h0.9M140.1 322.3h0.9M124.2 323.8h0.9M129.9 313.8h0.9M127.1 322.8h0.9M146.5 313.7h0.9M125.3 319.1h0.9M126.1 310.7h0.9M141.0 310.7h0.9M126.9 318.6h0.9M127.9 322.5h0.9M120.1 311.5h0.9M132.3 317.0h0.9M119.5 323.5h0.9M132.0 308.1h0.9"/><path d="M132.0 320.7h0.9M136.3 312.7h0.9M128.1 317.5h0.9M134.4 312.8h0.9M128.9 315.9h0.9M128.6 313.4h0.9M133.2 323.0h0.9M142.0 315.7h0.9M133.1 317.7h0.9M133.3 311.1h0.9M114.5 328.4h0.9M153.2 310.6h0.9M138.1 318.4h0.9M141.8 310.1h0.9M131.6 329.7h0.9M150.0 308.8h0.9M130.4 316.1h0.9M147.7 320.5h0.9M123.0 321.9h0.9M128.9 310.3h0.9M125.6 323.7h0.9M111.3 329.4h0.9M136.3 322.2h0.9M112.6 323.6h0.9M122.2 310.0h0.9M122.9 320.6h0.9M129.7 333.4h0.9M140.4 325.0h0.9M136.3 318.5h0.9M130.9 332.9h0.9M127.0 311.6h0.9M134.3 317.1h0.9M130.5 310.3h0.9M122.9 318.1h0.9M126.5 320.3h0.9M142.9 318.4h0.9M133.9 315.3h0.9M117.6 321.6h0.9M130.1 313.9h0.9M123.1 323.3h0.9M135.3 316.7h0.9M137.3 308.0h0.9M129.1 326.1h0.9M126.9 319.9h0.9M127.8 320.3h0.9M121.0 310.6h0.9M138.1 319.7h0.9M138.7 311.3h0.9M132.1 316.7h0.9M111.0 312.4h0.9M134.3 327.1h0.9M125.4 328.3h0.9M120.5 322.8h0.9M127.0 311.6h0.9M137.7 313.0h0.9M134.2 322.6h0.9M123.9 314.7h0.9M128.9 317.5h0.9M146.1 319.5h0.9M124.3 319.5h0.9M128.2 317.5h0.9M138.5 320.0h0.9M127.1 322.9h0.9M138.9 320.0h0.9M124.8 327.5h0.9M143.4 311.2h0.9M137.9 321.4h0.9M134.7 321.6h0.9M128.0 316.8h0.9M158.1 331.2h0.9"/><path d="M117.7 332.6h0.9M136.8 317.5h0.9M138.4 324.9h0.9M131.2 320.6h0.9M142.7 311.0h0.9M117.0 322.6h0.9M143.9 313.9h0.9M133.9 314.9h0.9M129.8 317.3h0.9M149.5 305.8h0.9M124.5 311.0h0.9M133.0 329.8h0.9M111.5 303.8h0.9M135.6 316.6h0.9M129.1 318.4h0.9M129.9 316.0h0.9M126.3 319.0h0.9M125.0 316.2h0.9M136.0 321.2h0.9M139.0 323.4h0.9M132.9 328.5h0.9M134.7 318.7h0.9M111.0 327.1h0.9M134.0 316.7h0.9M115.8 318.1h0.9M121.0 318.5h0.9M132.6 317.1h0.9M128.6 317.2h0.9M148.6 309.8h0.9M135.4 312.1h0.9"/></g>
<g stroke="#000" stroke-width="0.9" stroke-opacity="0.45"><path d="M118.1 333.0h0.9M116.0 328.7h0.9M115.6 334.0h0.9M120.0 331.6h0.9M118.7 332.7h0.9M115.2 330.9h0.9M112.5 333.4h0.9M117.2 327.4h0.9M123.0 328.9h0.9M120.7 327.2h0.9M117.7 332.5h0.9M117.0 327.1h0.9M120.8 327.9h0.9M114.5 328.3h0.9M124.0 326.4h0.9M114.4 332.0h0.9M117.5 327.0h0.9M125.3 329.5h0.9M115.7 331.1h0.9M117.8 338.6h0.9M120.2 327.8h0.9M117.6 328.6h0.9M116.9 331.6h0.9M125.0 322.3h0.9M119.0 331.0h0.9M119.0 332.6h0.9M122.0 329.4h0.9M117.1 332.5h0.9M117.0 326.8h0.9M118.3 329.7h0.9M117.4 328.1h0.9M119.7 332.9h0.9M116.9 325.9h0.9M115.0 328.1h0.9M119.5 331.0h0.9M117.7 324.6h0.9M115.2 332.4h0.9M121.0 331.7h0.9M121.8 329.2h0.9M117.5 325.3h0.9M119.1 328.0h0.9M115.6 326.8h0.9M115.1 330.8h0.9M119.4 333.7h0.9M119.2 328.1h0.9M121.2 330.1h0.9M112.7 328.9h0.9M114.8 324.3h0.9M115.8 333.0h0.9M124.2 327.5h0.9M120.7 331.8h0.9M119.9 335.7h0.9M118.5 327.0h0.9M114.9 325.9h0.9M118.8 322.1h0.9M122.1 322.9h0.9M114.9 326.9h0.9M117.6 327.5h0.9M118.0 335.1h0.9M117.7 331.4h0.9"/></g>
<g stroke="#000" stroke-width="0.9" stroke-opacity="0.4"><path d="M120.5 350.1h0.9M122.1 297.7h0.9M137.7 340.3h0.9M147.4 336.8h0.9M102.9 302.4h0.9M130.4 361.4h0.9M155.7 333.3h0.9M112.3 345.8h0.9M141.2 295.8h0.9M100.3 344.0h0.9M157.8 346.0h0.9M117.4 303.9h0.9M108.8 325.0h0.9M160.5 319.2h0.9M139.3 302.1h0.9M106.9 325.7h0.9M125.2 315.4h0.9M142.3 309.1h0.9M113.4 320.2h0.9M143.6 319.9h0.9M107.6 361.3h0.9M135.6 318.5h0.9M121.5 295.1h0.9M137.1 298.9h0.9M150.0 339.5h0.9M119.3 343.9h0.9M117.6 327.0h0.9M141.9 306.8h0.9M127.7 332.9h0.9M148.5 361.0h0.9M118.6 342.2h0.9M104.3 325.7h0.9M127.4 318.7h0.9M132.2 315.0h0.9M108.5 336.3h0.9M124.9 352.4h0.9M159.3 353.2h0.9M114.1 319.5h0.9M115.1 317.2h0.9M113.3 310.9h0.9M102.3 361.5h0.9M145.2 311.7h0.9M151.5 325.2h0.9M135.4 339.3h0.9M151.4 301.7h0.9M149.4 321.2h0.9M100.2 324.1h0.9M145.7 318.1h0.9M143.7 301.0h0.9M145.8 337.8h0.9M99.3 307.8h0.9M103.8 352.2h0.9M136.3 341.9h0.9M104.4 305.3h0.9M157.3 296.2h0.9M109.7 336.0h0.9M131.3 331.2h0.9M140.1 348.7h0.9M122.8 333.1h0.9M106.7 355.0h0.9M155.7 299.2h0.9M115.8 301.6h0.9M132.9 302.5h0.9M136.1 320.2h0.9M104.8 295.5h0.9M110.6 334.7h0.9M105.5 319.3h0.9M121.3 329.3h0.9M162.4 355.7h0.9M138.5 360.9h0.9"/><path d="M104.5 337.7h0.9M151.4 296.1h0.9M160.5 340.6h0.9M160.5 310.9h0.9M108.7 340.4h0.9M108.5 333.8h0.9M119.0 305.4h0.9M110.9 354.2h0.9M108.2 301.4h0.9M124.3 309.7h0.9M132.7 344.4h0.9M159.5 340.1h0.9M118.4 312.6h0.9M126.8 314.4h0.9M134.7 324.6h0.9M155.5 347.1h0.9M138.4 359.0h0.9M157.1 313.4h0.9M154.9 355.6h0.9M149.0 356.1h0.9"/></g>
<g stroke="#000" stroke-width="0.9" stroke-opacity="0.4"><path d="M124.1 360.1h0.9M149.6 337.6h0.9M153.4 358.7h0.9M146.7 360.5h0.9M150.6 349.6h0.9M157.2 361.0h0.9M156.7 348.5h0.9M151.0 339.4h0.9M129.9 335.3h0.9M137.7 355.4h0.9M149.8 356.1h0.9M134.0 341.5h0.9M158.8 335.6h0.9M159.6 356.7h0.9M135.6 356.7h0.9M161.6 349.4h0.9M154.5 336.1h0.9M161.9 333.2h0.9M148.8 354.6h0.9M152.5 339.3h0.9M147.5 338.1h0.9M133.1 354.6h0.9M156.5 338.4h0.9M155.6 349.3h0.9M141.7 343.3h0.9M148.5 349.6h0.9M127.6 359.8h0.9M158.1 351.5h0.9M146.1 357.5h0.9M146.9 352.8h0.9M138.8 336.4h0.9M161.2 360.3h0.9M152.3 353.8h0.9M125.8 355.1h0.9M156.1 341.7h0.9M136.1 333.5h0.9M143.0 359.8h0.9M156.7 346.4h0.9M161.1 349.6h0.9M128.8 343.8h0.9M156.7 350.4h0.9M129.3 338.2h0.9M150.6 347.8h0.9M131.7 338.4h0.9M127.2 358.0h0.9M155.1 356.3h0.9M152.4 334.1h0.9M125.2 353.4h0.9M148.5 356.9h0.9M154.4 344.8h0.9"/></g>
<rect x="100.30" y="331.60" width="21.00" height="32.50" fill="none" stroke="#555" stroke-width="0.9"/>
<rect x="107.60" y="298.80" width="43.40" height="32.80" fill="none" stroke="#cc623c" stroke-width="1.35"/>
<rect x="148.10" y="302.40" width="16.00" height="7.40" fill="#fff" stroke="none" stroke-width="1"/>
<text x="148.40" y="309.00" font-size="8.5" font-weight="bold" textLength="15.3" lengthAdjust="spacingAndGlyphs">27.4</text>
<rect x="122.00" y="354.40" width="16.00" height="7.40" fill="#fff" stroke="none" stroke-width="1"/>
<text x="122.30" y="361.00" font-size="8.5" font-weight="bold" textLength="15.3" lengthAdjust="spacingAndGlyphs">69.5</text>
<line x1="213.25" y1="250.60" x2="213.25" y2="242.40" stroke="#000" stroke-width="1.0"/>
<line x1="210.65" y1="242.40" x2="215.85" y2="242.40" stroke="#000" stroke-width="1.0"/>
<rect x="208.30" y="250.60" width="9.90" height="17.20" fill="#000" stroke="none" stroke-width="1"/>
<line x1="232.00" y1="216.40" x2="232.00" y2="197.80" stroke="#333" stroke-width="1.0"/>
<line x1="229.40" y1="197.80" x2="234.60" y2="197.80" stroke="#333" stroke-width="1.0"/>
<rect x="227.00" y="216.40" width="10.00" height="51.40" fill="#a6a6a6" stroke="none" stroke-width="1"/>
<line x1="201.30" y1="197.50" x2="201.30" y2="268.30" stroke="#000" stroke-width="1.2"/>
<line x1="200.80" y1="267.80" x2="242.60" y2="267.80" stroke="#000" stroke-width="1.2"/>
<line x1="198.70" y1="267.80" x2="201.30" y2="267.80" stroke="#000" stroke-width="1.0"/>
<text x="198.10" y="271.10" font-size="8.2" font-weight="bold" text-anchor="end">0</text>
<line x1="198.70" y1="244.50" x2="201.30" y2="244.50" stroke="#000" stroke-width="1.0"/>
<text x="198.10" y="247.80" font-size="8.2" font-weight="bold" text-anchor="end">10</text>
<line x1="198.70" y1="221.30" x2="201.30" y2="221.30" stroke="#000" stroke-width="1.0"/>
<text x="198.10" y="224.60" font-size="8.2" font-weight="bold" text-anchor="end">20</text>
<line x1="198.70" y1="198.00" x2="201.30" y2="198.00" stroke="#000" stroke-width="1.0"/>
<text x="198.10" y="201.30" font-size="8.2" font-weight="bold" text-anchor="end">30</text>
<line x1="199.70" y1="256.10" x2="201.30" y2="256.10" stroke="#000" stroke-width="0.9"/>
<line x1="199.70" y1="232.90" x2="201.30" y2="232.90" stroke="#000" stroke-width="0.9"/>
<line x1="199.70" y1="209.60" x2="201.30" y2="209.60" stroke="#000" stroke-width="0.9"/>
<text x="212.80" y="278.30" font-size="9.6" font-weight="bold" text-anchor="middle" textLength="14.2" lengthAdjust="spacingAndGlyphs">WT</text>
<text x="232.40" y="278.30" font-size="9.6" font-weight="bold" text-anchor="middle" textLength="14.2" lengthAdjust="spacingAndGlyphs">KO</text>
<line x1="213.85" y1="328.60" x2="213.85" y2="324.00" stroke="#000" stroke-width="1.0"/>
<line x1="211.25" y1="324.00" x2="216.45" y2="324.00" stroke="#000" stroke-width="1.0"/>
<rect x="209.00" y="328.60" width="9.70" height="35.50" fill="#000" stroke="none" stroke-width="1"/>
<line x1="231.60" y1="317.40" x2="231.60" y2="301.90" stroke="#a6a6a6" stroke-width="1.0"/>
<line x1="229.00" y1="301.90" x2="234.20" y2="301.90" stroke="#a6a6a6" stroke-width="1.0"/>
<rect x="226.60" y="317.40" width="10.00" height="46.70" fill="#a6a6a6" stroke="none" stroke-width="1"/>
<line x1="201.20" y1="293.50" x2="201.20" y2="364.60" stroke="#000" stroke-width="1.2"/>
<line x1="200.70" y1="364.10" x2="242.60" y2="364.10" stroke="#000" stroke-width="1.2"/>
<line x1="198.60" y1="364.10" x2="201.20" y2="364.10" stroke="#000" stroke-width="1.0"/>
<text x="198.00" y="367.40" font-size="8.2" font-weight="bold" text-anchor="end">0</text>
<line x1="198.60" y1="340.80" x2="201.20" y2="340.80" stroke="#000" stroke-width="1.0"/>
<text x="198.00" y="344.10" font-size="8.2" font-weight="bold" text-anchor="end">10</text>
<line x1="198.60" y1="317.40" x2="201.20" y2="317.40" stroke="#000" stroke-width="1.0"/>
<text x="198.00" y="320.70" font-size="8.2" font-weight="bold" text-anchor="end">20</text>
<line x1="198.60" y1="294.00" x2="201.20" y2="294.00" stroke="#000" stroke-width="1.0"/>
<text x="198.00" y="297.30" font-size="8.2" font-weight="bold" text-anchor="end">30</text>
<line x1="199.60" y1="352.50" x2="201.20" y2="352.50" stroke="#000" stroke-width="0.9"/>
<line x1="199.60" y1="329.10" x2="201.20" y2="329.10" stroke="#000" stroke-width="0.9"/>
<line x1="199.60" y1="305.70" x2="201.20" y2="305.70" stroke="#000" stroke-width="0.9"/>
<text x="213.40" y="374.50" font-size="9.6" font-weight="bold" text-anchor="middle" textLength="14.2" lengthAdjust="spacingAndGlyphs">WT</text>
<text x="232.20" y="374.50" font-size="9.6" font-weight="bold" text-anchor="middle" textLength="14.2" lengthAdjust="spacingAndGlyphs">KO</text>
<text x="187.60" y="229.00" font-size="7.6" font-weight="bold" text-anchor="middle" textLength="69" lengthAdjust="spacingAndGlyphs" transform="rotate(-90 187.60 229.00)">Percentage of cells</text>
<text x="187.60" y="326.00" font-size="7.6" font-weight="bold" text-anchor="middle" textLength="70" lengthAdjust="spacingAndGlyphs" transform="rotate(-90 187.60 326.00)">Percentage of cells</text>
<text x="224.10" y="180.30" font-size="9.6" font-weight="bold" text-anchor="middle" textLength="38" lengthAdjust="spacingAndGlyphs">S-phase</text>
<polygon points="227.60,186.95 228.42,188.97 230.60,189.13 228.93,190.53 229.45,192.65 227.60,191.50 225.75,192.65 226.27,190.53 224.60,189.13 226.78,188.97" fill="#000"/>
<polygon points="235.10,186.95 235.92,188.97 238.10,189.13 236.43,190.53 236.95,192.65 235.10,191.50 233.25,192.65 233.77,190.53 232.10,189.13 234.28,188.97" fill="#000"/>
<text x="224.60" y="294.70" font-size="10" text-anchor="middle" fill="#222" textLength="18" lengthAdjust="spacingAndGlyphs">n.s.</text>
<text x="264.30" y="170.40" font-size="11" font-weight="bold">D</text>
<text x="322.80" y="175.80" font-size="10.4" font-weight="bold" text-anchor="middle" textLength="37" lengthAdjust="spacingAndGlyphs">WT/WT</text>
<text x="402.50" y="175.90" font-size="10.4" font-weight="bold" text-anchor="middle" textLength="37" lengthAdjust="spacingAndGlyphs">KO/KO</text>
<text x="313.30" y="191.20" font-size="11" textLength="81.3" lengthAdjust="spacingAndGlyphs">CD34<tspan font-size="6" dy="-4">-</tspan><tspan dy="4"> LSK cells</tspan></text>
<text x="313.00" y="287.80" font-size="11" textLength="83" lengthAdjust="spacingAndGlyphs">CD34<tspan font-size="6" dy="-4">+</tspan><tspan dy="4"> LSK cells</tspan></text>
<line x1="272.70" y1="262.80" x2="272.70" y2="219.00" stroke="#000" stroke-width="1.1"/>
<path d="M272.7 212.2 L275.0 221.5 L272.7 220 L270.4 221.5 Z" stroke="none" stroke-width="0" fill="#000"/>
<text x="275.80" y="282.20" font-size="9.6" font-weight="bold" text-anchor="middle" textLength="23.4" lengthAdjust="spacingAndGlyphs" transform="rotate(-90 275.80 282.20)">BrdU</text>
<line x1="272.50" y1="303.40" x2="272.50" y2="354.00" stroke="#000" stroke-width="1.1"/>
<line x1="287.70" y1="378.00" x2="341.50" y2="378.00" stroke="#000" stroke-width="1.1"/>
<text x="362.30" y="381.40" font-size="9.8" font-weight="bold" text-anchor="middle" textLength="32" lengthAdjust="spacingAndGlyphs">7-AAD</text>
<line x1="383.00" y1="378.00" x2="429.00" y2="378.00" stroke="#000" stroke-width="1.1"/>
<path d="M435.4 378 L426.5 375.7 L428.5 378 L426.5 380.3 Z" stroke="none" stroke-width="0" fill="#000"/>
<path d="M285.6 267.8v2.5M288.5 267.8v2.5M291.5 267.8v2.5M294.4 267.8v2.5M297.4 267.8v2.5M300.3 267.8v2.5M303.3 267.8v2.5M306.2 267.8v2.5M309.2 267.8v2.5M312.1 267.8v2.5M315.1 267.8v2.5M318.0 267.8v2.5M321.0 267.8v2.5M323.9 267.8v2.5M326.9 267.8v2.5M329.8 267.8v2.5M332.8 267.8v2.5M335.7 267.8v2.5M338.7 267.8v2.5M341.6 267.8v2.5M344.6 267.8v2.5M347.5 267.8v2.5M350.5 267.8v2.5M353.4 267.8v2.5M356.4 267.8v2.5M284.0 266.8h-2.8M284.0 262.0h-2.0M284.0 259.2h-2.0M284.0 257.2h-2.0M284.0 255.7h-2.0M284.0 254.4h-2.0M284.0 253.4h-2.0M284.0 252.4h-2.0M284.0 251.6h-2.0M284.0 250.9h-2.8M284.0 246.1h-2.0M284.0 243.3h-2.0M284.0 241.3h-2.0M284.0 239.8h-2.0M284.0 238.5h-2.0M284.0 237.4h-2.0M284.0 236.5h-2.0M284.0 235.7h-2.0M284.0 235.0h-2.8M284.0 230.2h-2.0M284.0 227.4h-2.0M284.0 225.4h-2.0M284.0 223.9h-2.0M284.0 222.6h-2.0M284.0 221.5h-2.0M284.0 220.6h-2.0M284.0 219.8h-2.0M284.0 219.1h-2.8M284.0 214.3h-2.0M284.0 211.5h-2.0M284.0 209.5h-2.0M284.0 207.9h-2.0M284.0 206.7h-2.0M284.0 205.6h-2.0M284.0 204.7h-2.0M284.0 203.9h-2.0M284.0 203.2h-2.8M284.0 198.4h-2.0" stroke="#333" stroke-width="0.9"/>
<path d="M283.4 267.8V196.2H359.0" stroke="#b0b0b0" stroke-width="1.0" fill="none"/>
<path d="M359.0 196.2V267.8H283.4" stroke="#666" stroke-width="1.1" fill="none"/>
<g stroke="#000" stroke-width="0.9" stroke-opacity="0.5"><path d="M303.5 228.9h0.9M302.7 228.9h0.9M300.1 226.7h0.9M302.9 223.8h0.9M302.6 217.4h0.9M298.4 225.6h0.9M304.3 234.7h0.9M300.7 234.8h0.9M301.4 222.2h0.9M304.5 225.1h0.9M304.8 217.5h0.9M304.3 219.1h0.9M301.8 226.6h0.9M304.5 222.6h0.9M303.9 236.1h0.9M303.1 214.3h0.9M301.5 217.6h0.9M301.5 236.2h0.9M300.3 218.5h0.9M306.4 225.9h0.9M298.8 222.8h0.9M300.7 233.9h0.9M305.5 224.1h0.9M298.6 222.2h0.9M304.4 222.2h0.9M301.9 215.8h0.9M302.7 221.5h0.9M301.6 227.5h0.9M300.5 216.5h0.9M303.9 215.8h0.9M303.1 227.9h0.9M305.0 230.3h0.9M300.9 214.3h0.9M303.8 237.6h0.9M305.8 226.7h0.9M300.0 234.9h0.9M303.8 226.4h0.9M304.0 216.2h0.9M300.4 215.7h0.9M304.1 230.9h0.9M303.2 232.5h0.9M303.8 214.8h0.9M302.1 226.0h0.9M306.1 232.2h0.9M302.8 221.8h0.9M305.3 234.6h0.9M302.6 235.3h0.9M299.8 230.0h0.9M302.8 214.6h0.9M302.6 214.5h0.9M302.0 219.6h0.9M306.1 230.8h0.9M303.3 219.3h0.9M302.8 226.7h0.9M305.1 233.8h0.9M304.6 220.6h0.9M306.0 227.2h0.9M303.4 228.0h0.9M303.4 224.4h0.9M303.7 223.1h0.9M302.1 223.1h0.9M304.1 225.1h0.9M302.1 221.4h0.9M301.4 214.5h0.9M304.7 217.5h0.9M303.0 225.2h0.9M300.1 221.3h0.9M301.8 225.1h0.9M303.0 228.0h0.9M302.8 220.2h0.9"/><path d="M299.8 216.5h0.9M301.7 228.4h0.9M299.0 232.5h0.9M305.6 230.5h0.9M303.8 234.3h0.9M304.0 230.9h0.9M302.4 219.2h0.9M300.3 237.4h0.9M301.2 225.3h0.9M302.6 235.3h0.9M306.4 218.6h0.9M305.9 237.1h0.9M303.8 221.8h0.9M304.4 219.5h0.9M301.7 225.0h0.9M301.3 227.5h0.9M302.3 222.9h0.9M301.1 220.7h0.9M300.2 224.2h0.9M302.7 238.0h0.9M301.8 222.6h0.9M302.5 232.6h0.9M301.4 232.6h0.9M303.0 217.0h0.9M303.1 223.7h0.9M306.6 224.3h0.9M304.2 236.1h0.9M301.1 216.3h0.9M298.0 231.4h0.9M308.9 229.3h0.9M302.2 230.2h0.9M303.1 216.9h0.9M302.9 224.3h0.9M303.0 234.2h0.9M300.8 224.6h0.9M297.5 231.3h0.9M302.1 223.4h0.9M304.2 223.0h0.9M304.2 216.0h0.9M303.8 222.2h0.9M305.1 233.3h0.9M305.8 219.2h0.9M301.7 214.4h0.9M302.3 219.3h0.9M303.1 228.2h0.9M304.1 232.6h0.9M304.0 233.3h0.9M301.9 223.4h0.9M302.6 225.0h0.9M304.4 226.0h0.9M301.2 216.8h0.9M302.7 237.7h0.9M305.3 223.0h0.9M303.2 229.0h0.9M302.0 235.3h0.9M301.9 221.6h0.9M302.5 220.7h0.9M300.6 224.1h0.9M302.9 233.2h0.9M301.1 218.0h0.9M301.8 218.5h0.9M304.0 219.2h0.9M301.2 214.9h0.9M302.0 227.3h0.9M304.8 237.0h0.9M302.3 222.3h0.9M302.4 231.1h0.9M304.2 228.5h0.9M300.0 219.1h0.9M302.6 220.5h0.9"/><path d="M302.2 214.1h0.9M303.4 230.3h0.9M305.2 215.5h0.9M304.8 236.8h0.9M304.4 229.6h0.9M303.5 221.4h0.9M300.7 230.5h0.9M306.0 227.7h0.9M302.2 215.4h0.9M303.8 233.0h0.9M302.5 215.5h0.9M301.4 235.3h0.9M305.4 217.0h0.9M303.7 217.8h0.9M304.4 217.2h0.9M299.3 233.4h0.9M302.8 233.8h0.9M300.9 235.4h0.9M305.4 219.5h0.9M299.7 236.1h0.9M305.1 222.9h0.9M302.1 222.7h0.9M300.1 218.4h0.9M300.9 229.6h0.9M307.1 217.0h0.9M303.1 230.6h0.9M303.6 216.9h0.9M300.1 214.7h0.9M305.1 217.5h0.9M301.3 235.6h0.9M304.3 220.4h0.9M305.6 231.2h0.9M301.5 223.1h0.9M304.0 230.1h0.9M305.7 236.5h0.9M303.6 237.6h0.9M303.8 219.9h0.9M303.6 232.5h0.9M304.3 233.4h0.9M303.0 230.3h0.9M301.3 220.7h0.9M299.6 237.9h0.9M303.6 218.8h0.9M301.7 227.7h0.9M304.3 219.6h0.9M304.0 214.7h0.9M303.5 228.6h0.9M301.1 230.2h0.9M299.6 215.2h0.9M303.7 227.9h0.9M302.5 222.5h0.9M305.9 234.7h0.9M304.6 223.6h0.9M302.5 214.1h0.9M302.0 219.2h0.9M300.4 231.5h0.9M305.0 220.7h0.9M301.4 234.5h0.9M303.2 231.9h0.9M303.3 226.2h0.9M302.0 220.2h0.9M300.3 236.5h0.9M304.0 234.5h0.9M300.7 218.6h0.9M303.5 214.6h0.9M301.8 224.9h0.9M300.8 222.6h0.9M300.2 236.7h0.9M302.7 229.2h0.9M302.1 220.8h0.9"/><path d="M302.3 215.9h0.9M300.0 236.8h0.9M300.9 225.9h0.9M304.7 236.3h0.9M301.5 232.4h0.9M302.7 214.1h0.9M305.0 224.6h0.9M298.5 223.8h0.9M305.9 216.2h0.9M303.8 233.3h0.9M301.2 231.8h0.9M305.5 231.0h0.9M299.1 230.9h0.9M300.3 232.5h0.9M298.5 223.7h0.9M301.5 227.2h0.9M304.6 237.5h0.9M304.0 214.9h0.9M303.0 215.2h0.9M305.8 216.1h0.9M303.6 217.0h0.9M301.0 222.6h0.9M302.1 237.3h0.9M304.2 233.4h0.9M299.9 233.0h0.9M302.8 222.9h0.9M306.5 223.4h0.9M303.8 215.9h0.9M301.8 228.1h0.9M296.9 219.0h0.9M308.7 230.5h0.9M303.7 232.1h0.9M304.5 235.2h0.9M306.4 227.2h0.9M303.0 217.6h0.9M305.3 216.0h0.9M307.9 219.0h0.9M300.2 229.9h0.9M303.7 235.6h0.9M301.8 227.5h0.9M305.0 221.7h0.9M307.1 224.4h0.9M304.5 233.5h0.9M302.5 215.4h0.9M300.9 229.6h0.9M302.7 214.7h0.9M305.1 219.4h0.9M302.9 237.8h0.9M303.1 216.5h0.9M303.9 227.8h0.9M303.3 237.8h0.9M302.6 238.0h0.9M301.4 232.0h0.9M302.7 226.6h0.9M303.8 215.1h0.9M301.3 224.6h0.9M303.7 229.5h0.9M298.1 233.0h0.9M303.1 236.2h0.9M299.6 225.8h0.9M303.7 217.8h0.9M300.0 215.4h0.9M304.4 229.5h0.9M298.5 229.2h0.9M301.4 223.4h0.9M302.1 215.7h0.9M300.7 224.7h0.9M302.7 232.6h0.9M303.6 220.4h0.9M304.9 224.4h0.9"/><path d="M305.2 215.0h0.9M302.9 236.3h0.9M301.2 236.8h0.9M302.6 215.5h0.9M303.0 220.1h0.9M304.9 226.9h0.9M304.0 235.6h0.9M300.5 226.0h0.9M305.9 235.4h0.9M301.7 228.9h0.9M303.1 218.7h0.9M307.0 230.4h0.9M302.8 222.2h0.9M302.0 215.1h0.9M304.7 226.7h0.9M301.3 237.5h0.9M303.5 218.1h0.9M304.2 223.7h0.9M301.6 237.5h0.9M302.7 232.5h0.9M304.1 235.6h0.9M302.6 231.7h0.9M302.7 234.8h0.9M302.7 215.1h0.9M305.4 237.3h0.9M303.1 227.0h0.9M302.8 218.6h0.9M303.2 226.0h0.9M303.1 234.0h0.9M304.3 214.1h0.9M303.1 223.4h0.9M301.1 234.8h0.9M302.7 214.1h0.9M302.5 216.9h0.9M305.0 232.5h0.9M300.6 226.1h0.9M303.6 237.8h0.9M304.7 225.0h0.9M300.7 237.9h0.9M302.5 231.8h0.9M299.4 215.6h0.9M300.1 236.7h0.9M300.9 224.3h0.9M303.2 224.9h0.9M302.8 220.1h0.9M303.2 217.9h0.9M302.3 229.0h0.9M303.3 219.7h0.9M304.7 229.7h0.9M302.9 225.4h0.9M302.6 222.0h0.9M303.1 231.6h0.9M305.2 221.7h0.9M304.4 233.5h0.9M302.1 214.8h0.9M301.7 227.9h0.9M300.9 233.2h0.9M300.7 216.5h0.9M301.3 235.8h0.9M302.7 221.6h0.9M303.1 227.4h0.9M303.5 225.3h0.9M304.2 236.7h0.9M304.7 226.3h0.9M303.6 235.0h0.9M301.6 217.7h0.9M303.9 215.2h0.9M303.2 231.7h0.9M301.9 228.4h0.9M306.7 227.0h0.9"/><path d="M306.4 221.1h0.9M301.4 232.0h0.9M302.7 219.4h0.9M303.7 231.1h0.9M302.6 228.3h0.9M303.1 223.5h0.9M300.8 223.6h0.9M305.6 223.4h0.9M303.1 224.5h0.9M303.4 221.1h0.9M305.2 230.7h0.9M301.1 230.5h0.9M299.7 231.6h0.9M304.4 229.7h0.9M300.8 219.2h0.9M300.9 223.7h0.9M304.6 219.5h0.9M300.6 227.7h0.9M300.3 238.0h0.9M302.1 231.1h0.9M303.4 234.7h0.9M301.2 230.0h0.9M301.9 230.7h0.9M301.8 225.0h0.9M303.7 223.8h0.9M302.2 216.9h0.9M303.7 237.4h0.9M305.2 234.2h0.9M305.3 218.9h0.9M301.6 226.9h0.9M301.2 234.4h0.9M300.7 220.6h0.9M302.7 227.9h0.9M306.1 231.4h0.9M300.5 223.7h0.9M304.8 223.8h0.9M300.6 222.4h0.9M305.4 236.5h0.9M301.5 216.7h0.9M302.0 218.7h0.9M305.7 219.3h0.9M301.9 237.8h0.9M305.0 216.2h0.9M303.2 237.4h0.9M303.4 215.3h0.9M305.6 218.1h0.9M302.9 222.2h0.9M303.0 224.0h0.9M302.9 226.8h0.9M305.2 225.6h0.9M300.1 237.2h0.9M305.4 234.6h0.9M304.9 214.6h0.9M302.1 220.4h0.9M301.2 226.0h0.9M302.6 231.8h0.9M301.3 216.0h0.9M305.1 223.4h0.9M302.5 222.1h0.9M300.7 228.0h0.9M303.9 225.8h0.9M303.4 223.3h0.9M302.3 214.8h0.9M305.5 226.4h0.9M303.1 223.6h0.9M303.4 221.8h0.9M301.7 214.3h0.9M305.2 226.5h0.9M300.6 215.1h0.9M300.4 215.3h0.9"/></g>
<g stroke="#000" stroke-width="0.9" stroke-opacity="0.65"><path d="M304.1 247.5h0.9M302.1 246.6h0.9M302.1 243.8h0.9M303.4 242.1h0.9M304.7 245.0h0.9M305.1 242.2h0.9M301.4 254.5h0.9M306.2 247.7h0.9M306.2 248.8h0.9M304.1 248.0h0.9M306.3 250.8h0.9M300.8 247.1h0.9M299.8 245.0h0.9M302.8 249.6h0.9M305.0 245.0h0.9M303.3 251.5h0.9M303.3 244.2h0.9M302.8 252.7h0.9M303.4 247.4h0.9M303.2 248.6h0.9M303.1 251.6h0.9M306.1 247.9h0.9M300.2 251.6h0.9M303.7 246.8h0.9M298.9 249.2h0.9M304.1 233.8h0.9M304.4 257.5h0.9M306.4 248.2h0.9M302.8 244.0h0.9M306.5 249.5h0.9M302.0 241.1h0.9M304.5 245.0h0.9M307.2 250.7h0.9M303.6 249.1h0.9M304.0 242.6h0.9M304.3 251.3h0.9M302.2 244.9h0.9M304.1 245.8h0.9M305.8 250.1h0.9M305.4 247.8h0.9M303.1 252.4h0.9M304.3 248.7h0.9M306.1 243.5h0.9M300.1 245.3h0.9M304.0 250.9h0.9M302.8 244.8h0.9M302.1 246.2h0.9M302.4 252.2h0.9M308.4 246.1h0.9M303.4 245.4h0.9M303.8 243.6h0.9M303.0 243.9h0.9M303.0 243.9h0.9M304.8 242.1h0.9M306.1 247.2h0.9M300.8 240.9h0.9M301.7 240.1h0.9M303.2 255.3h0.9M303.0 249.4h0.9M303.6 245.8h0.9M306.9 248.5h0.9M300.7 246.9h0.9M300.8 245.8h0.9M303.6 252.0h0.9M303.7 243.7h0.9M303.6 248.3h0.9M301.9 246.0h0.9M305.6 257.2h0.9M304.2 243.5h0.9M305.0 243.7h0.9"/><path d="M301.8 245.9h0.9M299.8 261.8h0.9M303.9 246.8h0.9M304.6 241.7h0.9M297.9 248.7h0.9M304.7 246.2h0.9M301.8 248.0h0.9M302.0 251.7h0.9M303.1 249.7h0.9M299.7 243.1h0.9M301.7 248.3h0.9M301.4 243.8h0.9M300.7 245.1h0.9M299.9 241.6h0.9M304.2 249.4h0.9M306.6 251.4h0.9M305.9 248.9h0.9M301.8 242.9h0.9M304.8 250.8h0.9M301.4 250.8h0.9M303.5 248.4h0.9M301.4 237.9h0.9M300.6 245.2h0.9M304.7 245.5h0.9M305.7 241.5h0.9M306.6 247.8h0.9M302.1 244.7h0.9M305.1 242.3h0.9M300.8 246.5h0.9M304.5 245.7h0.9M302.7 251.2h0.9M303.2 246.6h0.9M306.7 253.5h0.9M301.4 242.4h0.9M300.9 249.0h0.9M304.4 245.3h0.9M302.9 243.4h0.9M303.7 250.6h0.9M300.5 243.9h0.9M304.8 247.7h0.9M302.7 245.9h0.9M297.9 241.4h0.9M302.5 245.4h0.9M301.6 245.4h0.9M303.1 241.6h0.9M303.2 246.6h0.9M303.2 247.8h0.9M304.7 255.0h0.9M298.6 255.1h0.9M303.4 249.5h0.9M302.6 247.8h0.9M302.4 246.3h0.9M307.3 248.4h0.9M301.2 251.5h0.9M302.8 242.0h0.9M300.5 249.9h0.9M303.2 249.3h0.9M300.1 240.9h0.9M302.8 249.0h0.9M302.3 251.9h0.9M302.9 242.2h0.9M304.3 249.3h0.9M304.1 247.7h0.9M300.3 248.6h0.9M302.6 240.2h0.9M303.2 246.1h0.9M301.8 249.1h0.9M301.8 242.3h0.9M305.8 248.0h0.9M305.4 251.2h0.9"/><path d="M303.8 252.3h0.9M299.3 245.6h0.9M307.0 241.2h0.9M299.5 244.4h0.9M302.1 243.7h0.9M302.7 244.1h0.9M303.7 245.8h0.9M304.5 245.5h0.9M302.4 247.7h0.9M301.0 245.4h0.9M304.2 244.6h0.9M305.0 245.3h0.9M303.1 247.7h0.9M303.5 246.6h0.9M299.5 246.5h0.9M308.1 239.0h0.9M302.1 244.2h0.9M304.0 242.6h0.9M302.6 244.9h0.9M300.2 246.5h0.9M305.7 247.1h0.9M303.0 245.6h0.9M302.2 240.0h0.9M303.2 249.4h0.9M299.4 238.6h0.9M303.6 253.6h0.9M306.0 248.0h0.9M301.1 254.3h0.9M303.2 243.1h0.9M301.1 251.9h0.9M303.1 250.4h0.9M301.1 248.5h0.9M301.7 250.7h0.9M300.0 250.8h0.9M301.4 245.2h0.9M300.8 252.7h0.9M303.0 246.6h0.9M301.7 244.7h0.9M303.1 245.9h0.9M302.7 247.7h0.9M305.3 249.2h0.9M303.5 246.9h0.9M301.4 249.9h0.9M300.7 244.1h0.9M305.8 238.4h0.9M302.5 246.8h0.9M303.9 250.5h0.9M303.7 259.4h0.9M301.8 243.7h0.9M301.5 248.2h0.9M305.8 248.5h0.9M302.9 249.3h0.9M304.7 252.4h0.9M299.9 247.3h0.9M305.5 247.6h0.9M300.9 249.5h0.9M302.2 247.7h0.9M307.8 244.7h0.9M302.4 249.2h0.9M301.7 248.5h0.9M301.3 248.4h0.9M299.1 254.9h0.9M305.4 247.3h0.9M306.9 248.0h0.9M303.3 243.2h0.9M303.6 244.3h0.9M301.7 234.9h0.9M303.9 248.6h0.9M304.6 241.5h0.9M303.2 239.3h0.9"/><path d="M304.8 244.5h0.9M301.4 242.7h0.9M301.6 249.5h0.9M301.3 241.6h0.9M305.4 239.7h0.9M302.6 246.6h0.9M302.5 249.9h0.9M302.3 247.4h0.9M302.8 253.6h0.9M304.1 252.0h0.9M304.3 243.4h0.9M302.9 247.6h0.9M302.5 239.7h0.9M303.3 244.5h0.9M303.9 245.1h0.9M304.1 242.1h0.9M301.0 245.7h0.9M304.5 243.6h0.9M301.8 242.3h0.9M298.2 249.4h0.9M302.1 239.4h0.9M304.0 247.2h0.9M307.2 249.3h0.9M305.2 248.2h0.9M306.8 247.6h0.9M304.7 247.6h0.9M302.0 240.6h0.9M305.6 249.4h0.9M306.6 243.0h0.9M298.1 249.7h0.9M298.4 245.1h0.9M301.0 243.2h0.9M299.3 243.0h0.9M300.1 246.5h0.9M301.6 247.2h0.9M299.6 256.0h0.9M306.3 248.1h0.9M304.5 252.5h0.9M301.1 246.7h0.9M306.9 236.4h0.9M304.4 248.3h0.9M302.5 249.2h0.9M304.0 244.4h0.9M304.2 245.5h0.9M305.2 248.5h0.9M301.9 254.9h0.9M302.5 248.1h0.9M302.7 251.5h0.9M301.7 243.3h0.9M304.2 240.0h0.9M302.9 249.5h0.9M306.6 240.3h0.9M300.2 243.6h0.9M304.2 250.1h0.9M302.2 251.8h0.9M301.9 248.5h0.9M302.7 254.0h0.9M306.0 251.5h0.9M302.1 239.9h0.9M302.3 244.4h0.9M301.8 243.5h0.9M302.4 248.6h0.9M305.7 251.0h0.9M306.3 237.8h0.9M304.6 257.0h0.9M305.4 250.1h0.9M305.1 246.1h0.9M302.7 244.5h0.9M302.2 245.6h0.9M301.9 253.2h0.9"/><path d="M304.5 250.7h0.9M306.7 247.9h0.9M305.3 243.7h0.9M304.0 249.7h0.9M300.8 249.8h0.9M303.4 244.6h0.9M306.1 247.3h0.9M303.1 250.4h0.9M302.1 240.7h0.9M305.0 251.3h0.9M302.1 247.9h0.9M303.3 247.9h0.9M305.4 247.4h0.9M304.8 250.4h0.9M302.7 248.3h0.9M302.5 246.2h0.9M305.9 243.4h0.9M304.8 246.1h0.9M302.3 247.4h0.9M302.1 240.0h0.9M305.5 250.0h0.9M302.4 241.4h0.9M301.3 254.1h0.9M301.4 243.9h0.9M307.3 238.1h0.9M301.0 242.6h0.9M302.1 237.8h0.9M303.6 241.1h0.9M300.5 248.1h0.9M301.3 248.5h0.9M301.7 253.7h0.9M300.9 247.9h0.9M301.0 252.7h0.9M299.5 245.3h0.9M303.6 245.0h0.9M302.9 244.6h0.9M302.2 247.9h0.9M307.1 248.8h0.9M304.2 244.1h0.9M301.5 247.1h0.9M301.9 253.8h0.9M303.3 253.5h0.9M302.8 251.7h0.9M300.3 254.3h0.9M300.8 247.7h0.9M303.0 246.2h0.9M304.9 242.9h0.9M304.3 240.1h0.9M300.3 250.1h0.9M306.0 242.4h0.9M304.4 245.3h0.9M306.6 248.4h0.9M307.0 245.1h0.9M307.2 244.2h0.9M306.8 249.8h0.9M300.3 251.4h0.9M303.7 250.6h0.9M301.5 245.1h0.9M300.7 253.7h0.9M303.2 236.6h0.9M304.9 247.5h0.9M308.8 245.6h0.9M304.3 245.1h0.9M297.0 251.0h0.9M302.2 250.0h0.9M303.4 237.0h0.9M303.1 250.6h0.9M305.3 251.0h0.9M302.2 241.5h0.9M304.1 242.2h0.9"/><path d="M306.1 246.0h0.9M304.9 248.3h0.9M305.1 248.6h0.9M304.2 247.7h0.9M301.7 239.8h0.9M299.9 251.9h0.9M301.9 248.6h0.9M299.4 245.1h0.9M307.9 255.4h0.9M304.7 247.9h0.9M304.8 255.9h0.9M300.9 247.0h0.9M302.3 234.2h0.9M303.6 251.3h0.9M302.1 242.1h0.9M306.2 244.3h0.9M302.8 244.7h0.9M302.8 247.7h0.9M305.1 248.6h0.9M307.8 241.9h0.9M303.9 246.0h0.9M308.2 239.8h0.9M303.2 251.0h0.9M301.7 247.0h0.9M303.6 248.8h0.9M303.7 241.9h0.9M305.0 236.4h0.9M301.3 243.1h0.9M303.0 247.5h0.9M310.5 253.4h0.9M303.2 248.1h0.9M306.3 249.3h0.9M303.0 238.3h0.9M298.9 249.0h0.9M305.6 246.4h0.9M308.6 248.2h0.9M300.9 248.9h0.9M301.1 252.2h0.9M302.5 245.0h0.9M303.2 253.2h0.9M300.3 252.4h0.9M306.7 250.6h0.9M303.3 251.1h0.9M302.2 243.4h0.9M305.8 240.3h0.9M304.1 244.6h0.9M302.6 246.8h0.9M302.2 252.5h0.9M301.7 242.0h0.9M300.5 247.0h0.9M303.6 246.6h0.9M303.6 241.9h0.9M304.0 250.5h0.9M300.2 245.6h0.9M303.3 245.3h0.9M301.6 244.0h0.9M301.1 253.8h0.9M300.6 242.2h0.9M300.1 247.5h0.9M301.2 249.4h0.9M303.5 248.4h0.9M304.8 246.7h0.9M302.4 247.1h0.9M305.3 242.9h0.9M302.7 253.9h0.9M304.0 252.3h0.9M304.7 239.3h0.9M302.5 241.2h0.9M303.8 246.3h0.9M304.8 247.9h0.9"/><path d="M302.5 251.7h0.9M300.5 239.4h0.9M305.2 248.6h0.9M304.6 242.7h0.9M304.7 249.6h0.9M303.3 246.9h0.9M302.9 248.7h0.9M300.4 252.6h0.9M301.3 242.2h0.9M305.8 246.5h0.9M299.9 247.5h0.9M302.1 248.5h0.9M300.7 246.4h0.9M302.4 253.9h0.9M301.2 251.3h0.9M305.2 248.4h0.9M302.7 249.0h0.9M301.6 251.3h0.9M299.7 252.8h0.9M302.4 244.2h0.9M303.8 254.1h0.9M303.1 255.6h0.9M303.0 248.4h0.9M300.5 246.7h0.9M303.0 244.2h0.9M300.4 244.4h0.9M304.0 249.8h0.9M306.9 237.9h0.9M307.0 250.7h0.9M303.2 252.3h0.9M303.9 239.7h0.9M304.7 240.7h0.9M304.8 241.2h0.9M299.7 250.8h0.9M302.2 243.9h0.9M307.0 246.9h0.9M306.5 245.6h0.9M303.0 237.9h0.9M305.9 244.8h0.9M305.3 243.8h0.9M299.3 248.0h0.9M305.4 236.7h0.9M300.8 252.1h0.9M306.6 245.0h0.9M303.8 249.3h0.9M304.1 241.8h0.9M305.5 254.1h0.9M303.5 247.3h0.9M302.0 249.0h0.9M304.6 244.2h0.9M299.7 240.4h0.9M304.3 247.4h0.9M302.5 237.4h0.9M300.1 253.9h0.9M301.2 242.3h0.9M305.3 252.1h0.9M302.1 247.4h0.9M304.2 248.8h0.9M302.2 246.7h0.9M304.4 253.3h0.9M304.1 238.8h0.9M301.2 242.5h0.9M304.8 253.1h0.9M304.2 241.3h0.9M302.5 246.2h0.9M305.0 247.5h0.9M304.8 244.6h0.9M307.2 241.1h0.9M303.0 251.2h0.9M304.9 241.6h0.9"/><path d="M301.8 245.0h0.9M305.0 250.4h0.9M300.1 245.4h0.9M303.6 251.1h0.9M304.5 252.2h0.9M302.3 243.6h0.9M303.6 247.8h0.9M308.2 246.7h0.9M302.9 242.0h0.9M303.7 244.6h0.9M304.5 246.0h0.9M301.5 242.5h0.9M301.9 246.3h0.9M297.5 243.3h0.9M303.0 240.6h0.9M304.5 245.0h0.9M304.5 247.5h0.9M302.4 252.0h0.9M305.0 241.1h0.9M302.7 240.6h0.9M301.9 245.9h0.9M302.1 245.5h0.9M304.2 251.3h0.9M304.3 250.6h0.9M301.9 244.8h0.9M305.2 244.1h0.9M304.2 247.0h0.9M304.4 251.5h0.9M303.5 244.2h0.9M301.6 254.2h0.9"/></g>
<g stroke="#000" stroke-width="0.9" stroke-opacity="0.45"><path d="M302.8 257.6h0.9M301.5 258.9h0.9M303.4 256.8h0.9M304.1 258.7h0.9M304.6 252.2h0.9M301.3 256.0h0.9M305.4 251.0h0.9M303.0 257.2h0.9M303.9 254.6h0.9M305.7 255.2h0.9M303.5 252.0h0.9M301.3 256.1h0.9M302.6 253.5h0.9M304.2 256.0h0.9M302.4 255.6h0.9M303.7 253.2h0.9M303.7 255.0h0.9M303.4 257.8h0.9M302.4 253.1h0.9M303.3 254.7h0.9M305.0 251.4h0.9M303.5 254.3h0.9M302.2 255.3h0.9M303.5 257.9h0.9M304.7 257.7h0.9M304.8 256.4h0.9M302.2 257.9h0.9M302.9 257.9h0.9M303.1 256.5h0.9M304.4 251.6h0.9M304.6 253.4h0.9M302.9 254.6h0.9M302.2 257.7h0.9M303.6 254.3h0.9M302.6 253.1h0.9M305.5 250.0h0.9M304.3 251.7h0.9M303.4 254.3h0.9M305.2 251.7h0.9M303.1 258.9h0.9"/></g>
<g stroke="#000" stroke-width="0.9" stroke-opacity="0.5"><path d="M323.5 220.7h0.9M320.6 224.3h0.9M307.5 218.7h0.9M323.1 221.6h0.9M325.4 220.7h0.9M318.0 226.0h0.9M314.6 216.1h0.9M329.2 213.6h0.9M327.3 211.0h0.9M318.7 223.4h0.9M308.7 218.9h0.9M305.2 215.7h0.9M318.0 217.5h0.9M324.7 210.3h0.9M328.9 213.3h0.9M312.3 220.8h0.9M322.9 221.8h0.9M322.1 211.8h0.9M307.4 229.6h0.9M319.8 219.6h0.9M325.6 221.7h0.9M311.8 209.0h0.9M307.5 210.6h0.9M322.4 217.2h0.9M318.8 212.0h0.9M319.3 215.0h0.9M318.3 221.1h0.9M318.9 221.2h0.9M317.5 225.7h0.9M329.7 213.8h0.9M319.5 216.5h0.9M316.0 224.8h0.9M320.1 202.6h0.9M326.2 220.0h0.9M309.8 220.2h0.9M316.8 219.3h0.9M318.8 233.1h0.9M325.1 229.2h0.9M325.5 214.6h0.9M326.7 226.1h0.9M316.1 221.2h0.9M323.0 220.6h0.9M324.0 205.5h0.9M325.3 222.8h0.9M317.2 227.9h0.9M319.9 229.7h0.9M320.9 220.6h0.9M323.1 219.8h0.9M327.1 212.2h0.9M314.5 214.1h0.9M324.7 214.1h0.9M321.3 214.6h0.9M313.6 215.9h0.9M318.4 214.3h0.9M327.1 219.8h0.9M323.3 218.0h0.9M318.7 207.0h0.9M318.8 213.1h0.9M323.6 216.0h0.9M320.1 207.6h0.9M323.3 218.7h0.9M304.7 217.6h0.9M314.3 220.6h0.9M334.7 211.0h0.9M329.0 221.4h0.9M316.4 211.2h0.9M314.0 220.5h0.9M318.0 221.9h0.9M320.9 217.2h0.9M318.6 220.7h0.9"/><path d="M315.2 218.2h0.9M314.3 220.7h0.9M322.7 222.1h0.9M318.4 213.0h0.9M315.7 222.0h0.9M315.3 219.9h0.9M320.9 222.3h0.9M313.6 227.1h0.9M310.1 226.1h0.9M321.2 224.8h0.9M316.8 220.4h0.9M314.2 216.0h0.9M309.2 221.1h0.9M316.3 225.5h0.9M330.0 209.3h0.9M327.3 218.7h0.9M312.5 209.1h0.9M319.2 215.3h0.9M325.6 213.2h0.9M328.9 207.0h0.9M319.5 219.7h0.9M329.2 220.8h0.9M316.3 221.7h0.9M321.6 219.8h0.9M315.9 215.0h0.9M312.0 212.2h0.9M320.9 221.2h0.9M315.3 223.6h0.9M311.8 215.9h0.9M315.8 212.0h0.9"/></g>
<g stroke="#000" stroke-width="0.9" stroke-opacity="0.4"><path d="M317.7 230.7h0.9M320.4 203.0h0.9M337.8 220.1h0.9M353.8 237.0h0.9M296.7 264.3h0.9M352.0 237.7h0.9M286.0 265.0h0.9M347.4 228.1h0.9M322.1 256.9h0.9M287.9 207.5h0.9M291.9 248.6h0.9M299.3 260.9h0.9M306.6 215.8h0.9M353.6 228.6h0.9M299.6 242.4h0.9M318.3 242.7h0.9M299.1 230.1h0.9M297.6 210.5h0.9M299.1 254.1h0.9M303.8 204.7h0.9M307.2 225.0h0.9M334.6 246.8h0.9M325.1 234.2h0.9M324.7 228.8h0.9M300.5 200.8h0.9"/></g>
<line x1="294.80" y1="208.40" x2="294.80" y2="241.50" stroke="#777" stroke-width="1.0"/>
<path d="M308.6 196.2 V241.5 H350.2 V196.2" stroke="#777" stroke-width="1.0" fill="none"/>
<rect x="294.80" y="241.50" width="13.80" height="26.30" fill="none" stroke="#d2683a" stroke-width="1.3"/>
<rect x="290.60" y="198.40" width="16.00" height="7.40" fill="#fff" stroke="none" stroke-width="1"/>
<text x="290.90" y="205.00" font-size="8.5" font-weight="bold" textLength="15.3" lengthAdjust="spacingAndGlyphs">44.7</text>
<rect x="336.20" y="198.40" width="11.70" height="7.40" fill="#fff" stroke="none" stroke-width="1"/>
<text x="336.50" y="205.00" font-size="8.5" font-weight="bold" textLength="11.0" lengthAdjust="spacingAndGlyphs">8.9</text>
<rect x="311.10" y="257.80" width="16.00" height="7.40" fill="#fff" stroke="none" stroke-width="1"/>
<text x="311.40" y="264.40" font-size="8.5" font-weight="bold" textLength="15.3" lengthAdjust="spacingAndGlyphs">46.0</text>
<path d="M368.6 267.9v2.5M371.5 267.9v2.5M374.5 267.9v2.5M377.4 267.9v2.5M380.4 267.9v2.5M383.3 267.9v2.5M386.3 267.9v2.5M389.2 267.9v2.5M392.2 267.9v2.5M395.1 267.9v2.5M398.1 267.9v2.5M401.0 267.9v2.5M404.0 267.9v2.5M406.9 267.9v2.5M409.9 267.9v2.5M412.8 267.9v2.5M415.8 267.9v2.5M418.7 267.9v2.5M421.7 267.9v2.5M424.6 267.9v2.5M427.6 267.9v2.5M430.5 267.9v2.5M433.5 267.9v2.5M436.4 267.9v2.5M439.4 267.9v2.5M367.0 266.9h-2.8M367.0 262.1h-2.0M367.0 259.3h-2.0M367.0 257.3h-2.0M367.0 255.8h-2.0M367.0 254.5h-2.0M367.0 253.4h-2.0M367.0 252.5h-2.0M367.0 251.7h-2.0M367.0 251.0h-2.8M367.0 246.2h-2.0M367.0 243.4h-2.0M367.0 241.4h-2.0M367.0 239.8h-2.0M367.0 238.6h-2.0M367.0 237.5h-2.0M367.0 236.6h-2.0M367.0 235.8h-2.0M367.0 235.0h-2.8M367.0 230.2h-2.0M367.0 227.4h-2.0M367.0 225.4h-2.0M367.0 223.9h-2.0M367.0 222.6h-2.0M367.0 221.6h-2.0M367.0 220.6h-2.0M367.0 219.8h-2.0M367.0 219.1h-2.8M367.0 214.3h-2.0M367.0 211.5h-2.0M367.0 209.5h-2.0M367.0 208.0h-2.0M367.0 206.7h-2.0M367.0 205.6h-2.0M367.0 204.7h-2.0M367.0 203.9h-2.0M367.0 203.2h-2.8M367.0 198.4h-2.0" stroke="#333" stroke-width="0.9"/>
<path d="M366.4 267.9V196.2H441.4" stroke="#b0b0b0" stroke-width="1.0" fill="none"/>
<path d="M441.4 196.2V267.9H366.4" stroke="#666" stroke-width="1.1" fill="none"/>
<g stroke="#000" stroke-width="0.9" stroke-opacity="0.55"><path d="M382.2 241.7h0.9M385.2 233.1h0.9M385.5 230.5h0.9M384.0 241.0h0.9M384.6 232.2h0.9M380.8 228.6h0.9M382.2 237.0h0.9M383.9 233.9h0.9M380.5 235.1h0.9M384.6 243.1h0.9M385.6 214.4h0.9M387.1 248.2h0.9M385.7 234.1h0.9M382.9 222.6h0.9M383.4 242.3h0.9M384.6 233.1h0.9M384.0 224.0h0.9M379.9 234.6h0.9M381.3 231.4h0.9M385.6 227.0h0.9M381.5 232.0h0.9M382.5 229.8h0.9M384.2 230.9h0.9M385.1 245.0h0.9M380.8 208.6h0.9M382.5 216.4h0.9M381.3 241.5h0.9M383.3 231.1h0.9M382.9 239.3h0.9M386.6 218.5h0.9M385.7 230.6h0.9M380.5 221.9h0.9M383.8 233.8h0.9M381.7 238.7h0.9M383.1 234.8h0.9M381.2 230.3h0.9M387.1 218.9h0.9M384.1 230.4h0.9M385.0 236.6h0.9M385.5 233.5h0.9M380.1 241.7h0.9M387.6 224.4h0.9M382.7 235.3h0.9M380.8 232.5h0.9M384.2 231.5h0.9M383.3 239.0h0.9M383.2 242.3h0.9M382.9 225.5h0.9M385.4 237.6h0.9M380.8 222.1h0.9M383.3 238.0h0.9M383.1 228.5h0.9M383.2 242.0h0.9M379.9 227.5h0.9M381.9 235.1h0.9M386.6 241.7h0.9M384.0 229.4h0.9M385.9 229.1h0.9M382.2 236.9h0.9M385.0 239.0h0.9M380.6 228.5h0.9M383.0 233.3h0.9M383.9 221.8h0.9M380.9 222.5h0.9M380.7 245.5h0.9M383.7 215.6h0.9M381.7 232.3h0.9M385.3 243.7h0.9M385.2 223.0h0.9M384.6 222.9h0.9"/><path d="M384.3 230.4h0.9M386.4 225.7h0.9M386.0 238.0h0.9M381.2 220.1h0.9M384.1 234.9h0.9M381.1 234.7h0.9M380.1 243.3h0.9M381.9 234.6h0.9M382.7 237.3h0.9M385.1 218.5h0.9M384.5 232.6h0.9M382.2 237.5h0.9M384.6 239.2h0.9M379.9 234.2h0.9M382.9 231.3h0.9M387.1 235.9h0.9M386.0 226.0h0.9M383.0 224.9h0.9M383.1 230.0h0.9M385.8 225.9h0.9M386.1 226.8h0.9M387.4 227.7h0.9M382.5 233.6h0.9M383.5 226.5h0.9M385.3 236.8h0.9M385.8 221.0h0.9M385.8 216.2h0.9M384.3 228.3h0.9M382.3 235.2h0.9M381.8 227.0h0.9M381.9 240.0h0.9M385.8 231.8h0.9M383.9 227.2h0.9M385.8 238.5h0.9M382.6 223.6h0.9M386.2 222.6h0.9M384.9 240.8h0.9M380.7 234.6h0.9M384.9 240.2h0.9M386.6 225.8h0.9M384.7 235.5h0.9M386.3 234.8h0.9M384.8 222.3h0.9M384.5 232.2h0.9M384.6 221.7h0.9M382.4 233.1h0.9M382.3 240.6h0.9M385.3 229.8h0.9M386.4 235.5h0.9M384.8 234.9h0.9M387.4 225.7h0.9M385.8 236.8h0.9M382.2 237.7h0.9M383.5 226.3h0.9M383.2 233.4h0.9M382.7 225.2h0.9M383.9 231.7h0.9M382.2 225.0h0.9M381.7 227.0h0.9M385.6 235.6h0.9M382.0 231.8h0.9M383.3 234.5h0.9M384.5 217.4h0.9M381.3 234.0h0.9M383.1 238.3h0.9M382.1 216.0h0.9M388.7 245.7h0.9M382.9 243.5h0.9M382.7 225.1h0.9M385.2 214.3h0.9"/><path d="M381.4 220.5h0.9M386.7 222.0h0.9M383.9 232.5h0.9M384.2 234.4h0.9M385.7 234.7h0.9M382.7 232.8h0.9M384.3 236.0h0.9M386.2 229.9h0.9M382.6 213.8h0.9M384.8 230.0h0.9M385.4 223.5h0.9M383.4 226.0h0.9M381.9 222.1h0.9M383.3 226.4h0.9M385.3 235.5h0.9M385.0 228.4h0.9M384.8 230.3h0.9M381.1 224.3h0.9M383.5 236.9h0.9M381.2 247.0h0.9M383.6 225.8h0.9M384.0 228.1h0.9M384.0 218.8h0.9M384.8 234.7h0.9M388.3 230.3h0.9M384.5 243.8h0.9M382.3 238.9h0.9M384.3 227.1h0.9M382.0 250.6h0.9M383.9 237.7h0.9M384.6 215.7h0.9M383.6 229.2h0.9M386.5 239.1h0.9M381.4 231.5h0.9M379.1 233.0h0.9M383.2 241.0h0.9M385.7 223.3h0.9M384.5 230.3h0.9M383.5 231.4h0.9M383.4 241.4h0.9M383.2 252.0h0.9M379.6 227.6h0.9M383.2 225.5h0.9M379.2 219.0h0.9M383.8 224.0h0.9M387.8 228.5h0.9M384.3 222.9h0.9M381.5 244.3h0.9M381.5 231.5h0.9M384.5 231.1h0.9M385.4 241.0h0.9M383.4 238.4h0.9M386.1 234.2h0.9M386.9 224.9h0.9M386.8 225.8h0.9M384.4 236.8h0.9M385.5 256.4h0.9M383.5 241.2h0.9M380.0 234.8h0.9M380.5 212.4h0.9M381.6 239.9h0.9M383.7 230.2h0.9M383.1 223.1h0.9M381.9 232.6h0.9M378.4 237.8h0.9M383.2 230.0h0.9M382.5 241.0h0.9M382.9 240.1h0.9M381.3 233.8h0.9M384.9 234.4h0.9"/><path d="M383.2 221.8h0.9M386.5 219.6h0.9M386.8 248.5h0.9M381.9 237.0h0.9M386.2 220.9h0.9M382.2 245.2h0.9M385.8 241.9h0.9M382.8 229.2h0.9M382.2 214.4h0.9M383.6 246.9h0.9M384.4 241.0h0.9M383.1 222.3h0.9M382.2 215.5h0.9M382.0 215.2h0.9M383.8 244.5h0.9M382.8 232.6h0.9M383.5 230.7h0.9M383.0 234.3h0.9M379.6 232.8h0.9M380.0 233.8h0.9M380.9 233.8h0.9M383.8 235.1h0.9M382.2 229.5h0.9M383.6 226.3h0.9M381.8 239.3h0.9M382.8 233.4h0.9M382.8 225.1h0.9M386.9 226.1h0.9M383.9 233.1h0.9M384.7 236.1h0.9M380.8 234.1h0.9M381.4 230.0h0.9M385.0 214.6h0.9M385.1 236.5h0.9M381.0 242.8h0.9M385.7 226.7h0.9M381.5 237.4h0.9M382.3 214.5h0.9M382.3 234.1h0.9M386.0 225.9h0.9M383.3 230.7h0.9M383.3 229.8h0.9M385.3 234.4h0.9M385.9 217.5h0.9M385.7 224.4h0.9M381.7 232.7h0.9M384.6 240.0h0.9M381.6 233.9h0.9M385.7 221.1h0.9M387.1 230.0h0.9M380.0 226.6h0.9M385.2 229.7h0.9M385.1 235.6h0.9M383.1 218.9h0.9M384.3 221.2h0.9M384.7 235.3h0.9M383.5 235.1h0.9M384.3 226.4h0.9M380.3 214.9h0.9M383.4 246.7h0.9M382.4 225.9h0.9M381.7 231.8h0.9M383.4 231.7h0.9M383.7 213.4h0.9M379.3 234.8h0.9M384.2 224.9h0.9M383.8 237.1h0.9M380.4 231.4h0.9M382.9 227.6h0.9M382.6 211.6h0.9"/><path d="M384.0 234.4h0.9M382.1 231.1h0.9M382.6 228.2h0.9M384.6 227.5h0.9M388.3 235.4h0.9M381.0 235.0h0.9M385.3 212.4h0.9M385.0 225.4h0.9M383.1 227.9h0.9M380.5 227.9h0.9M383.4 229.3h0.9M381.1 229.7h0.9M383.5 222.4h0.9M385.5 232.7h0.9M385.4 229.0h0.9M384.1 242.4h0.9M384.5 229.6h0.9M383.0 237.3h0.9M383.8 225.9h0.9M382.5 236.9h0.9M381.9 230.9h0.9M384.3 215.2h0.9M385.6 228.8h0.9M382.3 238.2h0.9M383.4 231.8h0.9M385.0 237.6h0.9M384.0 235.6h0.9M381.5 225.5h0.9M385.4 229.7h0.9M382.2 241.2h0.9M386.1 235.0h0.9M383.5 242.8h0.9M382.9 223.5h0.9M383.8 228.2h0.9M384.3 225.2h0.9M386.8 230.7h0.9M384.9 238.0h0.9M389.1 227.9h0.9M383.0 235.3h0.9M384.9 234.4h0.9M384.4 241.8h0.9M386.0 239.1h0.9M379.2 228.2h0.9M382.0 226.3h0.9M382.7 247.4h0.9M384.4 221.6h0.9M384.1 238.3h0.9M386.5 231.0h0.9M383.1 223.6h0.9M383.4 229.3h0.9M381.0 223.7h0.9M387.4 239.9h0.9M380.7 243.0h0.9M385.4 218.9h0.9M383.4 233.9h0.9M378.9 226.1h0.9M382.6 239.3h0.9M382.5 233.4h0.9M384.5 221.3h0.9M380.8 236.3h0.9M384.8 238.4h0.9M383.4 224.8h0.9M380.0 247.0h0.9M379.9 231.5h0.9M383.8 216.9h0.9M383.3 235.2h0.9M384.5 225.2h0.9M382.2 228.8h0.9M383.9 230.8h0.9M376.6 220.9h0.9"/><path d="M382.2 227.8h0.9M384.4 223.1h0.9M379.9 230.7h0.9M384.3 236.5h0.9M385.8 236.0h0.9M383.6 240.0h0.9M384.9 215.5h0.9M387.8 233.2h0.9M383.3 227.0h0.9M382.7 221.9h0.9M384.6 226.7h0.9M384.3 218.8h0.9M385.4 236.8h0.9M385.5 235.6h0.9M385.0 232.0h0.9M384.5 239.3h0.9M384.0 220.7h0.9M383.9 232.9h0.9M387.6 234.0h0.9M381.2 226.7h0.9M383.4 248.2h0.9M385.1 228.6h0.9M382.1 239.6h0.9M383.8 234.5h0.9M382.5 231.7h0.9M386.8 242.9h0.9M384.1 226.6h0.9M383.1 219.5h0.9M384.5 222.0h0.9M384.1 228.5h0.9M384.7 240.0h0.9M384.4 235.6h0.9M383.5 217.9h0.9M384.0 240.5h0.9M385.5 231.3h0.9M386.6 221.6h0.9M385.9 233.6h0.9M384.0 234.8h0.9M387.0 223.8h0.9M385.9 234.5h0.9M383.4 230.8h0.9M381.7 230.3h0.9M385.1 236.4h0.9M383.1 241.4h0.9M382.8 231.7h0.9M386.0 225.5h0.9M383.9 238.0h0.9M386.1 238.0h0.9M380.7 242.9h0.9M382.4 239.0h0.9M383.0 234.1h0.9M381.0 246.4h0.9M383.1 245.5h0.9M384.9 237.1h0.9M380.5 226.0h0.9M385.3 233.1h0.9M383.8 245.0h0.9M384.1 227.9h0.9M383.1 224.3h0.9M384.1 234.7h0.9M383.1 229.8h0.9M383.4 233.1h0.9M385.1 230.6h0.9M382.5 225.2h0.9M383.0 227.5h0.9M384.2 226.0h0.9M382.9 243.5h0.9M382.5 220.2h0.9M382.3 229.7h0.9M383.5 236.0h0.9"/><path d="M384.6 234.6h0.9M381.3 242.5h0.9M382.4 228.4h0.9M383.5 235.0h0.9M383.6 220.6h0.9M385.6 222.8h0.9M381.5 230.6h0.9M383.6 231.6h0.9M382.1 226.2h0.9M382.1 228.1h0.9M384.4 237.0h0.9M385.5 238.2h0.9M379.3 225.7h0.9M381.6 233.8h0.9M381.4 233.6h0.9M386.1 226.3h0.9M383.4 239.1h0.9M381.9 227.5h0.9M385.3 228.5h0.9M385.3 221.7h0.9M384.5 234.3h0.9M380.8 226.7h0.9M382.5 235.4h0.9M382.4 231.7h0.9M381.2 245.2h0.9M385.3 234.2h0.9M382.8 232.5h0.9M380.6 231.3h0.9M379.2 224.9h0.9M383.6 245.3h0.9M385.4 238.9h0.9M387.1 232.0h0.9M385.0 228.5h0.9M384.7 232.0h0.9M379.1 230.0h0.9M386.8 223.1h0.9M384.7 243.0h0.9M383.2 233.5h0.9M382.5 224.0h0.9M385.4 230.4h0.9M382.6 238.1h0.9M384.9 237.3h0.9M387.8 229.0h0.9M383.9 226.5h0.9M382.8 237.8h0.9M384.7 232.8h0.9M385.3 226.2h0.9M382.6 233.5h0.9M383.0 208.4h0.9M384.2 238.3h0.9M382.6 217.3h0.9M386.1 233.2h0.9M384.0 233.3h0.9M383.9 225.4h0.9M382.9 235.0h0.9M382.3 228.2h0.9M384.7 230.1h0.9M383.5 226.3h0.9M385.8 226.3h0.9M380.6 219.9h0.9M383.7 229.7h0.9M383.8 233.4h0.9M385.0 243.5h0.9M383.1 227.1h0.9M381.7 240.7h0.9M378.4 230.1h0.9M386.8 219.0h0.9M382.1 232.1h0.9M385.0 238.6h0.9M382.7 234.0h0.9"/><path d="M384.3 229.5h0.9M384.1 227.5h0.9M383.4 232.5h0.9M385.1 227.1h0.9M383.6 232.7h0.9M382.6 233.1h0.9M382.9 235.4h0.9M383.3 234.3h0.9M382.7 229.3h0.9M380.9 217.7h0.9M386.6 243.4h0.9M382.8 237.0h0.9M379.1 234.7h0.9M383.1 222.2h0.9M385.0 239.4h0.9M382.9 232.9h0.9M383.6 220.8h0.9M381.6 215.7h0.9M381.9 227.3h0.9M382.1 223.8h0.9M383.7 232.0h0.9M383.4 229.5h0.9M382.8 224.9h0.9M386.7 230.0h0.9M384.2 238.7h0.9M381.0 228.7h0.9M385.0 228.6h0.9M384.9 237.5h0.9M383.7 240.9h0.9M385.8 230.5h0.9M385.6 239.4h0.9M383.2 221.3h0.9M384.0 236.8h0.9M381.4 220.9h0.9M384.4 237.2h0.9M383.7 231.5h0.9M382.5 228.1h0.9M386.5 217.0h0.9M381.7 237.8h0.9M384.8 231.0h0.9M382.9 233.6h0.9M384.0 230.4h0.9M381.9 227.9h0.9M389.4 228.0h0.9M388.9 229.4h0.9M384.1 235.3h0.9M382.1 233.4h0.9M384.9 222.9h0.9M382.5 223.6h0.9M385.1 228.1h0.9M385.2 236.7h0.9M382.2 228.1h0.9M380.3 241.6h0.9M383.9 225.3h0.9M384.3 234.9h0.9M384.5 222.2h0.9M384.9 232.0h0.9M385.9 235.1h0.9M380.4 227.8h0.9M380.9 233.5h0.9M383.2 233.8h0.9M386.5 218.7h0.9M384.6 242.0h0.9M383.4 228.7h0.9M384.0 223.0h0.9M384.7 240.1h0.9M384.9 223.9h0.9M384.7 229.2h0.9M383.8 226.4h0.9M387.3 223.4h0.9"/><path d="M383.2 244.0h0.9M383.6 233.4h0.9M386.4 233.6h0.9M385.8 233.1h0.9M382.5 231.8h0.9M382.1 228.7h0.9M384.2 226.5h0.9M379.5 229.5h0.9M384.0 225.6h0.9M383.1 226.1h0.9M384.5 229.1h0.9M385.5 234.7h0.9M381.5 231.8h0.9M383.2 232.0h0.9M383.4 219.6h0.9M382.5 245.8h0.9M383.1 234.9h0.9M383.9 232.5h0.9M383.3 229.3h0.9M386.1 239.2h0.9M383.3 227.6h0.9M380.3 247.7h0.9M385.0 224.8h0.9M381.2 216.0h0.9M381.2 233.2h0.9M383.3 223.6h0.9M385.9 229.3h0.9M380.9 230.4h0.9M382.3 254.8h0.9M385.7 243.3h0.9M384.7 239.0h0.9M385.7 222.5h0.9M382.2 228.6h0.9M382.5 234.5h0.9M380.9 234.4h0.9M384.8 232.4h0.9M387.5 225.4h0.9M383.4 243.4h0.9M384.9 217.7h0.9M382.8 231.5h0.9M382.1 224.6h0.9M380.7 236.5h0.9M382.7 238.8h0.9M386.1 224.2h0.9M384.0 225.6h0.9M381.7 234.9h0.9M385.2 226.1h0.9M383.8 248.0h0.9M383.7 235.5h0.9M383.9 238.3h0.9M382.2 234.3h0.9M383.7 218.6h0.9M385.2 244.1h0.9M384.0 229.6h0.9M384.4 222.0h0.9M381.0 244.7h0.9M384.4 230.2h0.9M383.7 229.9h0.9M382.5 232.2h0.9M385.9 235.4h0.9"/></g>
<g stroke="#000" stroke-width="0.9" stroke-opacity="0.6"><path d="M384.4 244.2h0.9M381.7 244.2h0.9M383.5 241.7h0.9M381.4 236.3h0.9M385.0 239.0h0.9M384.1 251.8h0.9M384.2 238.7h0.9M382.7 244.5h0.9M384.7 236.0h0.9M384.0 243.3h0.9M382.7 246.0h0.9M383.9 240.7h0.9M383.7 235.8h0.9M381.8 247.1h0.9M385.6 249.0h0.9M385.7 238.4h0.9M386.3 246.5h0.9M380.8 236.1h0.9M383.8 234.8h0.9M385.4 243.8h0.9M382.7 247.4h0.9M382.8 245.4h0.9M379.7 240.3h0.9M380.4 238.3h0.9M383.1 244.5h0.9M380.9 240.5h0.9M384.1 239.0h0.9M379.7 242.7h0.9M383.7 245.2h0.9M384.4 247.4h0.9M384.2 235.2h0.9M384.2 246.4h0.9M384.1 248.3h0.9M384.2 241.7h0.9M381.6 237.8h0.9M385.0 248.0h0.9M383.9 241.4h0.9M383.0 242.0h0.9M383.6 240.0h0.9M383.9 244.3h0.9M387.5 244.5h0.9M383.5 241.5h0.9M381.9 243.3h0.9M382.2 247.9h0.9M381.7 245.5h0.9M386.7 238.6h0.9M381.2 248.1h0.9M383.5 251.5h0.9M383.7 238.8h0.9M386.1 240.5h0.9M385.5 247.3h0.9M386.8 243.8h0.9M383.0 237.2h0.9M381.8 244.8h0.9M385.9 237.5h0.9M383.5 242.8h0.9M382.3 233.7h0.9M381.8 245.2h0.9M384.7 244.5h0.9M384.9 238.3h0.9M380.4 238.9h0.9M386.7 237.7h0.9M383.3 239.6h0.9M385.3 237.9h0.9M382.7 237.0h0.9M384.4 243.3h0.9M383.0 241.6h0.9M383.2 240.4h0.9M387.8 247.4h0.9M385.1 243.6h0.9"/><path d="M381.1 246.5h0.9M384.5 244.2h0.9M384.2 248.2h0.9M387.7 239.9h0.9M384.5 243.0h0.9M383.2 242.3h0.9M382.3 245.3h0.9M384.9 251.6h0.9M380.3 243.1h0.9M382.9 254.9h0.9M383.9 242.5h0.9M381.8 237.8h0.9M380.5 238.0h0.9M385.4 249.7h0.9M378.6 242.3h0.9M382.8 245.3h0.9M380.0 238.9h0.9M384.5 247.5h0.9M382.5 234.8h0.9M383.1 246.4h0.9M382.8 240.7h0.9M384.5 243.3h0.9M380.9 247.6h0.9M384.6 239.7h0.9M386.1 247.6h0.9M389.0 249.7h0.9M383.8 240.0h0.9M384.2 244.8h0.9M384.6 240.6h0.9M381.0 238.7h0.9M384.1 246.4h0.9M383.3 247.2h0.9M384.3 241.1h0.9M384.2 241.0h0.9M382.0 241.9h0.9M383.7 245.6h0.9M383.0 233.1h0.9M384.2 245.4h0.9M382.8 242.7h0.9M381.3 237.3h0.9M385.4 244.1h0.9M384.8 241.0h0.9M385.5 243.8h0.9M380.7 241.2h0.9M383.0 243.3h0.9M381.9 238.9h0.9M381.6 242.8h0.9M385.0 245.8h0.9M386.3 248.8h0.9M383.6 239.8h0.9M383.0 239.8h0.9M382.5 240.1h0.9M383.4 237.4h0.9M382.3 251.4h0.9M377.8 250.9h0.9M383.0 243.3h0.9M382.9 241.7h0.9M384.9 241.2h0.9M382.3 242.9h0.9M382.5 242.7h0.9M384.6 244.6h0.9M383.8 236.8h0.9M384.5 247.8h0.9M382.6 244.8h0.9M384.9 247.3h0.9M385.1 244.0h0.9M385.1 239.4h0.9M385.0 241.7h0.9M381.9 236.7h0.9M381.4 243.5h0.9"/><path d="M380.2 241.1h0.9M382.3 242.7h0.9M381.3 243.8h0.9M381.9 243.6h0.9M385.0 238.6h0.9M384.4 243.6h0.9M385.8 231.5h0.9M384.8 240.3h0.9M385.0 242.9h0.9M384.0 241.4h0.9M384.3 252.0h0.9M382.3 243.5h0.9M384.3 250.0h0.9M383.2 245.4h0.9M381.3 245.7h0.9M382.8 236.8h0.9M383.4 245.1h0.9M382.0 240.4h0.9M383.1 240.6h0.9M384.4 239.2h0.9M384.8 240.4h0.9M387.8 238.4h0.9M385.4 239.7h0.9M383.9 241.8h0.9M383.0 239.1h0.9M384.3 246.9h0.9M381.5 237.0h0.9M386.7 238.7h0.9M381.7 244.3h0.9M384.0 249.2h0.9M383.8 249.2h0.9M384.6 243.9h0.9M381.1 245.3h0.9M379.9 246.3h0.9M387.3 245.2h0.9M385.5 244.1h0.9M381.8 243.9h0.9M380.6 246.4h0.9M382.0 241.8h0.9M381.7 250.0h0.9M383.6 245.2h0.9M383.0 243.5h0.9M382.5 239.5h0.9M382.5 248.1h0.9M382.7 243.1h0.9M387.3 244.9h0.9M385.4 242.3h0.9M384.7 247.0h0.9M383.0 247.8h0.9M385.8 234.3h0.9M387.5 246.5h0.9M386.5 251.7h0.9M385.3 244.0h0.9M385.8 239.9h0.9M380.6 242.2h0.9M384.8 240.1h0.9M385.6 238.0h0.9M382.7 250.6h0.9M382.9 246.7h0.9M381.2 241.3h0.9M386.1 236.4h0.9M383.0 237.2h0.9M383.6 237.0h0.9M382.5 240.9h0.9M381.5 243.5h0.9M385.3 242.4h0.9M382.3 250.1h0.9M386.1 241.4h0.9M383.7 241.0h0.9M383.0 242.1h0.9"/><path d="M383.3 235.7h0.9M380.7 243.7h0.9M382.4 244.5h0.9M381.0 247.5h0.9M384.0 240.3h0.9M383.2 245.6h0.9M382.8 243.3h0.9M385.5 243.3h0.9M384.7 239.5h0.9M384.4 243.0h0.9"/></g>
<g stroke="#000" stroke-width="0.9" stroke-opacity="0.5"><path d="M387.9 213.5h0.9M382.8 212.0h0.9M381.6 214.6h0.9M381.8 217.5h0.9M383.9 220.4h0.9M381.0 215.6h0.9M380.7 212.4h0.9M381.1 213.9h0.9M383.4 212.0h0.9M382.7 220.1h0.9M383.7 215.3h0.9M385.3 220.8h0.9M384.2 219.1h0.9M381.6 214.3h0.9M383.0 213.9h0.9M386.0 213.3h0.9M384.6 221.2h0.9M386.8 215.0h0.9M382.4 213.4h0.9M382.6 221.5h0.9M384.3 217.9h0.9M380.2 219.5h0.9M384.5 216.2h0.9M385.7 214.7h0.9M382.4 215.5h0.9M380.1 219.4h0.9M379.9 221.2h0.9M384.1 220.6h0.9M383.5 215.3h0.9M382.6 216.7h0.9M380.1 215.8h0.9M388.0 220.5h0.9M383.8 221.0h0.9M385.2 213.0h0.9M379.4 215.1h0.9M380.0 215.6h0.9M383.0 219.0h0.9M382.4 213.6h0.9M385.1 218.9h0.9M385.7 212.5h0.9M385.4 211.2h0.9M383.3 219.1h0.9M383.2 219.1h0.9M378.6 221.5h0.9M388.1 215.3h0.9M386.3 218.0h0.9M383.1 221.5h0.9M380.7 213.5h0.9M383.1 217.3h0.9M388.8 219.7h0.9M386.0 212.0h0.9M385.2 211.6h0.9M385.8 221.7h0.9M384.8 221.1h0.9M386.0 215.6h0.9M382.2 212.5h0.9M382.7 220.8h0.9M380.8 217.6h0.9M384.4 211.6h0.9M384.8 213.5h0.9M385.8 220.9h0.9M380.8 213.6h0.9M386.3 214.7h0.9M384.4 221.2h0.9M379.6 221.4h0.9M385.2 216.7h0.9M381.5 211.0h0.9M387.8 216.6h0.9M383.0 218.0h0.9M382.1 212.7h0.9"/><path d="M380.1 215.6h0.9M384.9 217.4h0.9M384.3 215.9h0.9M384.0 213.8h0.9M384.4 217.5h0.9M384.1 216.0h0.9M379.9 213.7h0.9M382.0 214.5h0.9M383.0 211.3h0.9M384.5 217.0h0.9M383.2 212.2h0.9M383.3 219.6h0.9M382.6 217.9h0.9M380.8 221.8h0.9M384.1 217.8h0.9M384.9 215.9h0.9M381.6 213.1h0.9M380.4 213.6h0.9M381.4 212.5h0.9M384.6 216.6h0.9M383.7 220.5h0.9M384.1 219.9h0.9M381.6 221.6h0.9M386.3 219.9h0.9M383.0 214.7h0.9M385.9 212.4h0.9M386.1 217.1h0.9M381.6 211.1h0.9M383.7 217.3h0.9M384.6 216.6h0.9M382.0 212.9h0.9M382.2 217.2h0.9M384.6 221.6h0.9M384.3 213.7h0.9M384.7 214.5h0.9M382.6 218.3h0.9M382.2 216.4h0.9M386.5 218.0h0.9M387.1 220.2h0.9M379.2 213.6h0.9M382.5 220.3h0.9M384.7 212.3h0.9M383.4 216.2h0.9M387.0 214.2h0.9M384.8 213.4h0.9M386.5 217.7h0.9M382.2 217.9h0.9M386.8 216.5h0.9M380.0 220.3h0.9M382.2 217.6h0.9M384.8 214.2h0.9M384.4 220.4h0.9M383.6 218.9h0.9M382.0 217.9h0.9M383.4 216.0h0.9M384.8 213.8h0.9M381.3 213.7h0.9M384.2 215.7h0.9M381.0 216.9h0.9M383.8 218.9h0.9"/></g>
<g stroke="#000" stroke-width="0.9" stroke-opacity="0.45"><path d="M384.2 250.2h0.9M382.8 256.0h0.9M384.5 249.6h0.9M383.8 252.0h0.9M382.7 252.7h0.9M386.8 252.8h0.9M382.5 254.5h0.9M382.1 253.1h0.9M385.6 252.2h0.9M385.2 255.1h0.9M384.1 254.3h0.9M385.0 247.0h0.9M382.1 253.0h0.9M383.5 256.8h0.9M383.7 250.3h0.9M381.6 252.9h0.9M383.2 251.1h0.9M381.6 247.2h0.9M386.2 252.0h0.9M382.7 248.5h0.9M383.9 256.2h0.9M383.8 253.4h0.9M381.2 252.7h0.9M382.2 250.7h0.9M384.2 248.9h0.9M385.4 248.3h0.9M383.9 250.4h0.9M384.7 256.8h0.9M384.9 254.2h0.9M385.4 255.8h0.9M382.0 254.9h0.9M383.9 253.5h0.9M383.6 252.3h0.9M383.2 256.5h0.9M383.1 254.8h0.9M382.2 256.2h0.9M381.5 251.6h0.9M383.2 253.2h0.9M384.0 256.3h0.9M383.3 250.5h0.9M384.9 256.2h0.9M383.2 249.2h0.9M383.7 256.6h0.9M383.8 253.2h0.9M383.2 251.5h0.9M383.6 254.3h0.9M381.9 249.7h0.9M384.4 249.6h0.9M382.3 247.3h0.9M382.9 251.5h0.9M384.0 247.4h0.9M380.8 256.4h0.9M382.7 251.7h0.9M382.6 250.0h0.9M384.7 247.5h0.9M383.0 250.5h0.9M382.9 252.1h0.9M382.5 252.5h0.9M382.9 247.7h0.9M386.8 249.3h0.9"/></g>
<g stroke="#000" stroke-width="0.9" stroke-opacity="0.5"><path d="M394.4 216.9h0.9M399.3 219.3h0.9M403.6 215.0h0.9M400.3 210.5h0.9M405.2 206.1h0.9M398.2 214.9h0.9M396.6 221.6h0.9M401.1 226.1h0.9M399.7 210.3h0.9M406.2 214.1h0.9M402.2 223.9h0.9M407.6 219.1h0.9M396.4 220.3h0.9M401.9 208.3h0.9M396.0 218.1h0.9M404.0 213.8h0.9M398.9 204.0h0.9M410.1 207.9h0.9M401.0 224.7h0.9M393.5 223.2h0.9M395.3 216.1h0.9M392.9 217.3h0.9M400.4 218.7h0.9M404.1 216.1h0.9M393.5 216.7h0.9M390.9 211.1h0.9M397.8 220.4h0.9M396.1 217.1h0.9M402.5 215.0h0.9M396.8 220.6h0.9M400.8 219.9h0.9M394.4 217.5h0.9M401.8 212.8h0.9M402.2 220.4h0.9M394.8 220.6h0.9M400.3 223.2h0.9M391.1 217.2h0.9M403.3 221.4h0.9M400.5 216.8h0.9M397.4 225.1h0.9M402.6 220.0h0.9M402.0 212.4h0.9M407.1 217.4h0.9M403.0 211.0h0.9M405.9 219.8h0.9M405.7 212.1h0.9M388.6 217.2h0.9M400.2 211.9h0.9M397.7 209.7h0.9M399.6 213.5h0.9M394.9 219.3h0.9M395.1 222.8h0.9M397.5 215.8h0.9M398.0 225.7h0.9M400.8 218.2h0.9"/></g>
<g stroke="#000" stroke-width="0.9" stroke-opacity="0.4"><path d="M416.6 206.0h0.9M404.1 253.9h0.9M370.7 243.1h0.9M378.8 214.6h0.9M425.5 237.8h0.9M437.3 211.2h0.9M381.9 211.4h0.9M427.4 208.1h0.9M413.6 244.0h0.9M375.0 261.6h0.9M429.8 262.9h0.9M407.4 205.1h0.9M395.4 219.5h0.9M411.1 237.5h0.9M428.0 241.2h0.9M407.4 222.4h0.9M370.7 214.1h0.9M419.1 204.5h0.9M388.3 204.8h0.9M431.4 261.0h0.9"/></g>
<line x1="377.40" y1="208.90" x2="377.40" y2="241.30" stroke="#777" stroke-width="1.0"/>
<path d="M391.4 196.2 V241.3 H432.6 V196.2" stroke="#777" stroke-width="1.0" fill="none"/>
<rect x="377.40" y="241.30" width="14.00" height="26.60" fill="none" stroke="#d2683a" stroke-width="1.3"/>
<rect x="373.30" y="198.40" width="16.00" height="7.40" fill="#fff" stroke="none" stroke-width="1"/>
<text x="373.60" y="205.00" font-size="8.5" font-weight="bold" textLength="15.3" lengthAdjust="spacingAndGlyphs">66.7</text>
<rect x="419.00" y="198.40" width="11.70" height="7.40" fill="#fff" stroke="none" stroke-width="1"/>
<text x="419.30" y="205.00" font-size="8.5" font-weight="bold" textLength="11.0" lengthAdjust="spacingAndGlyphs">6.3</text>
<rect x="394.50" y="257.80" width="16.00" height="7.40" fill="#fff" stroke="none" stroke-width="1"/>
<text x="394.80" y="264.40" font-size="8.5" font-weight="bold" textLength="15.3" lengthAdjust="spacingAndGlyphs">27.0</text>
<path d="M285.8 364.3v2.5M288.8 364.3v2.5M291.7 364.3v2.5M294.6 364.3v2.5M297.6 364.3v2.5M300.5 364.3v2.5M303.5 364.3v2.5M306.4 364.3v2.5M309.4 364.3v2.5M312.3 364.3v2.5M315.3 364.3v2.5M318.2 364.3v2.5M321.2 364.3v2.5M324.1 364.3v2.5M327.1 364.3v2.5M330.0 364.3v2.5M333.0 364.3v2.5M335.9 364.3v2.5M338.9 364.3v2.5M341.8 364.3v2.5M344.8 364.3v2.5M347.7 364.3v2.5M350.7 364.3v2.5M353.6 364.3v2.5M356.6 364.3v2.5M284.2 363.3h-2.8M284.2 358.5h-2.0M284.2 355.7h-2.0M284.2 353.7h-2.0M284.2 352.2h-2.0M284.2 350.9h-2.0M284.2 349.9h-2.0M284.2 349.0h-2.0M284.2 348.1h-2.0M284.2 347.4h-2.8M284.2 342.6h-2.0M284.2 339.8h-2.0M284.2 337.8h-2.0M284.2 336.3h-2.0M284.2 335.0h-2.0M284.2 334.0h-2.0M284.2 333.1h-2.0M284.2 332.2h-2.0M284.2 331.5h-2.8M284.2 326.7h-2.0M284.2 323.9h-2.0M284.2 322.0h-2.0M284.2 320.4h-2.0M284.2 319.2h-2.0M284.2 318.1h-2.0M284.2 317.2h-2.0M284.2 316.4h-2.0M284.2 315.6h-2.8M284.2 310.9h-2.0M284.2 308.1h-2.0M284.2 306.1h-2.0M284.2 304.5h-2.0M284.2 303.3h-2.0M284.2 302.2h-2.0M284.2 301.3h-2.0M284.2 300.5h-2.0M284.2 299.7h-2.8M284.2 295.0h-2.0" stroke="#333" stroke-width="0.9"/>
<path d="M283.6 364.3V292.8H359.2" stroke="#b0b0b0" stroke-width="1.0" fill="none"/>
<path d="M359.2 292.8V364.3H283.6" stroke="#666" stroke-width="1.1" fill="none"/>
<g stroke="#000" stroke-width="0.9" stroke-opacity="0.6"><path d="M302.1 334.1h0.9M299.1 340.1h0.9M303.6 318.6h0.9M304.1 313.6h0.9M306.3 330.6h0.9M304.3 331.7h0.9M303.6 320.2h0.9M302.1 315.9h0.9M303.0 318.7h0.9M307.3 319.8h0.9M304.8 331.8h0.9M304.6 318.7h0.9M303.3 336.0h0.9M304.7 313.5h0.9M305.8 328.7h0.9M306.6 314.7h0.9M304.7 321.0h0.9M300.5 312.4h0.9M304.6 329.6h0.9M301.4 329.7h0.9M300.4 319.2h0.9M304.1 316.2h0.9M304.9 319.6h0.9M301.6 319.3h0.9M304.7 321.5h0.9M302.0 312.4h0.9M303.2 337.7h0.9M301.9 327.3h0.9M304.6 340.9h0.9M305.4 333.5h0.9M303.4 336.5h0.9M302.2 313.6h0.9M299.5 316.3h0.9M305.1 328.9h0.9M300.1 331.6h0.9M302.3 333.8h0.9M302.0 335.5h0.9M301.4 327.8h0.9M304.6 314.4h0.9M307.5 332.0h0.9M298.2 313.5h0.9M303.3 326.9h0.9M299.8 331.8h0.9M306.8 329.6h0.9M302.2 317.2h0.9M301.3 339.7h0.9M302.5 318.5h0.9M305.9 313.0h0.9M303.4 329.1h0.9M303.0 340.6h0.9M303.7 329.9h0.9M304.0 317.7h0.9M301.9 331.2h0.9M304.4 335.1h0.9M302.9 337.0h0.9M299.1 337.3h0.9M302.9 329.3h0.9M302.1 317.0h0.9M304.2 326.2h0.9M301.9 317.2h0.9M303.1 325.5h0.9M304.5 327.2h0.9M308.4 329.3h0.9M305.6 338.8h0.9M304.1 323.3h0.9M304.3 326.0h0.9M305.0 314.6h0.9M305.5 326.5h0.9M304.0 329.1h0.9M301.0 317.0h0.9"/><path d="M305.8 328.7h0.9M301.7 321.7h0.9M304.1 330.4h0.9M302.9 327.4h0.9M307.3 331.8h0.9M308.5 319.3h0.9M302.4 328.0h0.9M302.6 318.2h0.9M298.5 311.9h0.9M301.5 336.5h0.9M303.6 320.5h0.9M301.7 327.7h0.9M305.1 324.3h0.9M302.9 338.0h0.9M304.4 338.1h0.9M300.2 330.4h0.9M305.3 312.8h0.9M303.2 328.0h0.9M307.7 335.9h0.9M301.2 331.9h0.9M300.2 311.7h0.9M305.0 318.0h0.9M299.0 317.9h0.9M304.5 314.2h0.9M301.6 340.5h0.9M300.4 331.6h0.9M301.5 329.1h0.9M304.2 335.1h0.9M305.0 320.5h0.9M302.6 331.4h0.9M300.4 335.0h0.9M300.8 325.9h0.9M304.8 320.9h0.9M302.8 339.7h0.9M305.0 333.3h0.9M306.7 311.8h0.9M303.6 314.1h0.9M302.2 312.7h0.9M306.2 327.8h0.9M303.4 333.8h0.9M303.7 315.1h0.9M303.7 312.4h0.9M307.5 313.3h0.9M307.4 316.9h0.9M306.3 311.5h0.9M303.8 334.6h0.9M303.3 328.4h0.9M301.8 331.4h0.9M307.3 323.8h0.9M309.8 325.6h0.9M308.0 339.1h0.9M300.7 315.3h0.9M305.0 315.0h0.9M297.7 313.2h0.9M303.6 337.9h0.9M306.7 335.6h0.9M303.1 327.7h0.9M303.9 334.5h0.9M303.6 328.3h0.9M304.1 324.5h0.9M304.3 314.2h0.9M303.5 312.5h0.9M305.9 332.5h0.9M302.7 315.2h0.9M303.3 319.8h0.9M301.7 318.2h0.9M303.5 338.6h0.9M306.3 316.3h0.9M305.7 317.0h0.9M305.8 335.0h0.9"/><path d="M304.6 311.6h0.9M300.6 339.4h0.9M303.8 338.3h0.9M304.9 323.0h0.9M307.5 328.8h0.9M301.9 329.4h0.9M306.8 336.9h0.9M306.5 322.7h0.9M305.6 324.6h0.9M303.0 311.0h0.9M305.8 318.5h0.9M305.7 324.6h0.9M302.5 325.6h0.9M307.8 337.4h0.9M303.2 312.4h0.9M303.2 316.0h0.9M301.6 328.1h0.9M305.5 325.9h0.9M305.6 338.9h0.9M301.8 312.6h0.9M304.8 320.4h0.9M304.2 335.0h0.9M301.3 334.1h0.9M307.2 322.4h0.9M304.7 311.5h0.9M300.5 338.3h0.9M308.2 320.0h0.9M304.7 323.9h0.9M304.2 329.8h0.9M297.6 318.5h0.9M301.5 316.4h0.9M303.3 335.3h0.9M299.2 336.3h0.9M303.8 323.4h0.9M302.8 336.5h0.9M310.7 339.6h0.9M304.0 322.9h0.9M302.4 339.3h0.9M303.7 333.8h0.9M301.0 320.2h0.9M304.4 340.2h0.9M307.8 329.5h0.9M302.2 336.7h0.9M303.9 325.6h0.9M307.8 318.2h0.9M302.8 319.9h0.9M304.0 323.3h0.9M304.3 325.8h0.9M305.1 328.1h0.9M305.0 321.2h0.9M306.7 332.4h0.9M306.8 336.0h0.9M301.8 325.2h0.9M304.3 317.5h0.9M306.0 319.4h0.9M300.5 334.9h0.9M302.3 334.5h0.9M301.6 315.0h0.9M303.5 331.9h0.9M302.3 328.0h0.9M307.8 332.0h0.9M303.7 323.5h0.9M310.3 314.0h0.9M307.9 331.7h0.9M308.2 338.9h0.9M301.9 314.0h0.9M307.0 326.7h0.9M301.3 332.6h0.9M307.3 317.4h0.9M304.7 311.4h0.9"/><path d="M300.7 328.0h0.9M302.7 330.1h0.9M298.4 338.6h0.9M303.2 333.7h0.9M302.3 328.4h0.9M303.9 334.2h0.9M308.1 312.5h0.9M304.3 313.7h0.9M306.2 318.6h0.9M300.6 323.6h0.9M298.9 328.6h0.9M303.7 330.4h0.9M301.4 312.2h0.9M300.7 315.2h0.9M303.8 322.5h0.9M305.6 319.4h0.9M302.5 317.8h0.9M299.7 317.7h0.9M304.4 316.7h0.9M305.0 336.7h0.9M300.7 340.1h0.9M301.4 334.7h0.9M304.8 330.9h0.9M303.2 314.3h0.9M304.4 324.1h0.9M300.5 326.8h0.9M300.3 319.9h0.9M305.5 327.2h0.9M301.6 339.2h0.9M304.7 340.5h0.9M306.1 335.7h0.9M302.5 334.5h0.9M305.5 324.9h0.9M305.1 314.2h0.9M305.8 328.5h0.9M301.0 323.9h0.9M301.8 328.4h0.9M302.2 333.7h0.9M302.7 313.5h0.9M306.4 339.6h0.9M299.7 326.1h0.9M303.0 317.6h0.9M302.8 323.4h0.9M304.3 336.7h0.9M301.3 326.5h0.9M304.5 330.9h0.9M303.1 327.2h0.9M300.9 326.9h0.9M298.5 323.5h0.9M305.2 339.7h0.9M300.1 336.8h0.9M301.4 332.0h0.9M303.5 334.6h0.9M302.2 340.8h0.9M301.1 325.5h0.9M301.5 329.3h0.9M301.5 328.2h0.9M303.6 337.6h0.9M305.8 317.9h0.9M307.3 331.3h0.9M300.6 328.5h0.9M308.2 334.1h0.9M302.4 332.3h0.9M302.7 317.8h0.9M302.8 328.1h0.9M302.1 326.6h0.9M302.6 329.6h0.9M302.5 324.8h0.9M301.5 336.2h0.9M304.0 322.1h0.9"/><path d="M298.0 339.5h0.9M302.0 329.0h0.9M306.2 332.9h0.9M305.8 339.2h0.9M305.8 333.8h0.9M305.8 313.6h0.9M303.0 315.8h0.9M300.4 324.0h0.9M304.3 334.6h0.9M301.8 333.5h0.9M306.2 330.1h0.9M303.7 332.3h0.9M302.4 337.2h0.9M299.2 323.1h0.9M307.4 322.1h0.9M301.0 325.3h0.9M304.3 327.9h0.9M300.7 333.7h0.9M301.0 332.4h0.9M308.9 336.9h0.9M301.0 316.5h0.9M299.9 320.3h0.9M303.3 337.8h0.9M306.0 328.0h0.9M305.1 317.5h0.9M303.3 325.0h0.9M302.1 323.5h0.9M304.1 324.4h0.9M305.6 335.6h0.9M301.7 332.3h0.9M298.1 323.2h0.9M303.6 317.3h0.9M304.5 320.7h0.9M307.6 338.1h0.9M306.5 311.2h0.9M301.3 323.2h0.9M310.1 313.8h0.9M305.0 325.3h0.9M304.8 312.4h0.9M304.3 313.9h0.9M302.9 316.1h0.9M302.9 337.9h0.9M304.8 325.4h0.9M303.0 331.7h0.9M301.3 328.8h0.9M302.1 324.5h0.9M303.1 311.4h0.9M302.1 323.1h0.9M303.8 325.7h0.9M306.8 318.7h0.9M302.1 339.8h0.9M307.8 312.5h0.9M307.4 326.5h0.9M305.0 333.1h0.9M303.0 334.5h0.9M303.6 327.6h0.9M307.1 336.2h0.9M302.7 324.3h0.9M302.4 314.5h0.9M304.9 320.2h0.9M301.4 312.8h0.9M304.6 317.1h0.9M305.0 334.8h0.9M296.8 330.8h0.9M306.7 331.5h0.9M305.3 334.4h0.9M302.6 337.0h0.9M302.7 311.4h0.9M304.2 334.4h0.9M303.3 318.4h0.9"/><path d="M301.8 335.9h0.9M306.0 320.3h0.9M303.8 324.2h0.9M303.3 317.7h0.9M303.2 325.3h0.9M300.6 313.5h0.9M304.8 321.9h0.9M306.7 317.9h0.9M305.1 317.5h0.9M303.0 339.2h0.9M305.8 316.9h0.9M304.3 311.9h0.9M304.1 339.9h0.9M306.2 324.5h0.9M305.6 338.7h0.9M302.4 335.7h0.9M303.8 336.3h0.9M301.3 335.9h0.9M301.3 315.0h0.9M304.0 322.8h0.9M304.9 334.1h0.9M302.7 338.0h0.9M304.8 314.6h0.9M305.3 339.2h0.9M303.9 337.8h0.9M303.0 316.4h0.9M305.6 314.1h0.9M303.2 316.1h0.9M306.4 326.0h0.9M304.6 338.1h0.9M302.8 333.1h0.9M306.5 329.1h0.9M302.8 333.3h0.9M308.6 311.0h0.9M303.5 329.9h0.9M304.8 323.7h0.9M307.0 321.8h0.9M304.9 333.3h0.9M303.8 337.7h0.9M301.9 336.5h0.9M299.5 315.3h0.9M305.5 314.5h0.9M303.5 316.8h0.9M305.8 327.3h0.9M304.4 327.9h0.9M302.9 319.3h0.9M306.2 338.8h0.9M304.5 323.6h0.9M301.4 322.1h0.9M304.3 321.2h0.9M307.9 311.4h0.9M303.1 336.4h0.9M300.5 331.3h0.9M303.7 334.9h0.9M304.9 322.4h0.9M301.5 323.4h0.9M303.4 320.7h0.9M304.8 322.3h0.9M302.6 322.4h0.9M302.5 338.9h0.9M305.7 340.7h0.9M301.8 321.0h0.9M300.0 326.1h0.9M305.8 329.0h0.9M302.7 337.1h0.9M303.7 326.1h0.9M305.2 334.8h0.9M299.5 316.3h0.9M299.9 329.3h0.9M302.1 312.8h0.9"/><path d="M301.5 316.3h0.9M303.7 338.2h0.9M304.2 333.2h0.9M301.4 330.1h0.9M302.8 331.0h0.9M305.6 320.7h0.9M301.5 334.8h0.9M301.0 319.3h0.9M303.2 320.3h0.9M301.8 314.4h0.9M309.1 328.4h0.9M301.0 317.3h0.9M305.9 316.4h0.9M304.1 324.3h0.9M306.1 340.7h0.9M307.4 336.1h0.9M305.8 336.1h0.9M303.2 333.1h0.9M300.2 340.7h0.9M310.0 332.5h0.9M301.6 321.7h0.9M305.4 323.1h0.9M302.5 330.8h0.9M304.0 322.3h0.9M301.6 314.0h0.9M305.8 311.1h0.9M305.0 332.8h0.9M303.1 328.2h0.9M305.0 311.7h0.9M305.1 311.4h0.9M302.3 311.2h0.9M305.6 331.7h0.9M301.4 331.5h0.9M305.2 323.2h0.9M302.7 315.4h0.9M305.7 338.2h0.9M304.3 340.3h0.9M301.0 338.8h0.9M305.1 311.7h0.9M304.8 320.5h0.9M306.1 334.9h0.9M303.4 336.5h0.9M304.6 321.2h0.9M301.1 324.9h0.9M305.8 328.0h0.9M306.0 336.5h0.9M303.0 329.8h0.9M305.8 313.6h0.9M302.8 312.6h0.9M299.7 313.7h0.9M304.5 320.1h0.9M299.9 330.6h0.9M302.4 330.7h0.9M304.8 323.5h0.9M304.0 338.4h0.9M306.0 319.2h0.9M300.5 328.6h0.9M298.4 330.2h0.9M306.6 325.3h0.9M304.9 337.4h0.9M304.2 336.4h0.9M303.3 315.7h0.9M305.6 334.0h0.9M300.7 318.3h0.9M301.9 334.1h0.9M308.8 331.8h0.9M303.8 323.3h0.9M302.2 316.5h0.9M304.3 311.0h0.9M304.4 339.0h0.9"/><path d="M303.0 324.5h0.9M303.9 314.9h0.9M299.5 319.6h0.9M303.3 323.8h0.9M305.6 340.7h0.9M303.7 315.7h0.9M302.3 331.0h0.9M302.8 335.2h0.9M305.9 327.4h0.9M304.1 315.1h0.9M300.5 336.3h0.9M301.4 315.2h0.9M306.5 315.8h0.9M304.7 331.1h0.9M301.1 331.0h0.9M303.2 313.4h0.9M300.8 337.8h0.9M301.0 318.9h0.9M306.7 329.4h0.9M303.2 333.7h0.9M304.4 326.2h0.9M303.7 323.1h0.9M303.5 333.9h0.9M302.3 334.4h0.9M304.5 314.4h0.9M300.4 322.4h0.9M303.7 316.0h0.9M308.2 313.1h0.9M300.4 335.3h0.9M301.1 324.0h0.9M306.1 330.9h0.9M305.4 315.0h0.9M306.9 311.8h0.9M303.3 322.9h0.9M302.4 311.6h0.9M303.1 322.4h0.9M303.6 338.2h0.9M300.2 332.0h0.9M307.0 332.1h0.9M303.6 332.5h0.9M309.3 324.9h0.9M305.1 321.9h0.9M304.8 318.7h0.9M305.5 318.3h0.9M302.5 324.8h0.9M304.7 332.7h0.9M308.9 336.2h0.9M306.1 323.2h0.9M300.2 316.4h0.9M302.2 316.5h0.9M302.5 318.8h0.9M302.6 320.0h0.9M307.7 335.0h0.9M305.3 340.8h0.9M302.1 318.3h0.9M301.4 327.7h0.9M307.9 323.8h0.9M303.3 319.4h0.9M300.7 337.9h0.9M301.5 319.3h0.9M303.4 335.3h0.9M304.3 324.8h0.9M304.0 334.4h0.9M302.0 326.3h0.9M305.1 329.0h0.9M304.0 317.8h0.9M303.7 340.5h0.9M300.8 314.9h0.9M305.3 325.2h0.9M300.3 340.7h0.9"/><path d="M301.3 323.7h0.9M302.9 329.3h0.9M302.4 324.6h0.9M297.0 330.7h0.9M306.2 312.7h0.9M304.1 340.4h0.9M302.8 328.2h0.9M297.9 327.1h0.9M302.9 329.1h0.9M303.1 322.2h0.9M304.0 325.8h0.9M303.1 321.0h0.9M300.7 327.7h0.9M304.2 322.8h0.9M301.2 317.4h0.9M301.7 312.8h0.9M301.3 325.7h0.9M299.0 337.7h0.9M303.8 332.3h0.9M300.8 330.2h0.9M304.7 332.2h0.9M298.7 312.5h0.9M305.6 338.5h0.9M306.1 315.6h0.9M305.9 324.7h0.9M310.1 313.8h0.9M306.4 335.7h0.9M302.7 325.6h0.9M304.3 316.8h0.9M299.8 337.0h0.9M305.2 317.7h0.9M302.5 326.8h0.9M299.7 336.0h0.9M299.7 339.7h0.9M305.0 334.5h0.9M305.6 316.1h0.9M306.9 329.1h0.9M303.8 317.5h0.9M303.5 328.1h0.9M306.2 334.0h0.9M308.9 318.4h0.9M304.7 339.3h0.9M305.9 334.9h0.9M306.9 336.7h0.9M304.3 311.9h0.9M301.8 322.6h0.9M302.3 318.5h0.9M308.4 339.5h0.9M302.7 331.7h0.9M303.6 313.1h0.9M301.0 316.3h0.9M301.5 320.8h0.9M302.4 314.4h0.9M301.1 322.1h0.9M301.9 324.9h0.9M303.5 319.8h0.9M304.5 330.4h0.9M305.7 340.4h0.9M302.7 337.5h0.9M300.2 317.7h0.9M300.0 324.2h0.9M301.2 329.0h0.9M305.7 313.7h0.9M302.0 313.8h0.9M301.0 329.1h0.9M298.5 319.8h0.9M302.4 322.2h0.9M300.7 319.2h0.9M298.0 338.4h0.9M300.1 313.8h0.9"/><path d="M307.1 321.0h0.9M308.6 340.4h0.9M307.5 322.9h0.9M302.9 338.3h0.9M305.3 335.5h0.9M303.8 326.4h0.9M309.2 324.5h0.9M301.2 323.9h0.9M301.1 328.5h0.9M307.8 319.0h0.9M305.5 322.9h0.9M303.2 315.5h0.9M302.5 327.4h0.9M299.1 319.8h0.9M300.6 320.3h0.9M308.8 335.9h0.9M305.4 325.6h0.9M303.0 326.6h0.9M298.5 333.9h0.9M307.1 312.9h0.9M305.9 316.9h0.9M306.0 313.4h0.9M307.5 313.4h0.9M305.8 339.2h0.9M301.9 338.6h0.9M302.5 336.4h0.9M303.2 334.2h0.9M305.8 314.7h0.9M304.0 328.1h0.9M301.6 319.7h0.9M295.8 321.2h0.9M305.2 333.6h0.9M305.8 314.5h0.9M305.4 319.9h0.9M304.2 314.7h0.9M306.0 329.9h0.9M301.3 327.8h0.9M301.9 332.1h0.9M303.9 314.0h0.9M303.7 311.8h0.9M301.1 314.2h0.9M309.9 321.2h0.9M303.4 334.9h0.9M304.9 340.8h0.9M301.2 337.7h0.9M302.2 336.4h0.9M305.2 324.0h0.9M303.0 331.5h0.9M306.0 312.2h0.9M302.5 337.7h0.9M301.1 315.8h0.9M303.6 328.2h0.9M302.2 327.5h0.9M299.6 332.3h0.9M304.6 319.9h0.9M306.1 312.2h0.9M307.0 333.6h0.9M303.8 316.7h0.9M302.4 330.7h0.9M303.8 330.1h0.9M300.2 321.0h0.9M307.7 323.9h0.9M305.0 321.9h0.9M301.4 326.6h0.9M306.1 330.3h0.9M303.8 328.3h0.9M304.8 316.6h0.9M301.3 324.5h0.9M302.2 336.5h0.9M301.0 340.3h0.9"/><path d="M301.7 316.8h0.9M301.5 325.7h0.9M306.1 331.9h0.9M303.4 313.5h0.9M301.4 315.1h0.9M300.6 328.5h0.9M310.0 321.0h0.9M299.6 317.5h0.9M305.4 336.0h0.9M305.2 339.5h0.9M303.0 338.9h0.9M303.2 315.4h0.9M307.3 327.7h0.9M304.2 331.4h0.9M304.8 329.8h0.9M302.5 315.1h0.9M305.0 330.9h0.9M304.6 320.2h0.9M306.3 321.5h0.9M302.9 331.6h0.9M305.7 335.6h0.9M307.1 315.3h0.9M305.2 339.5h0.9M302.7 317.1h0.9M303.9 336.6h0.9M304.0 316.0h0.9M299.9 314.2h0.9M305.4 315.6h0.9M305.6 330.3h0.9M302.7 315.6h0.9M304.9 318.9h0.9M301.8 328.1h0.9M298.1 328.3h0.9M304.9 317.7h0.9M303.4 335.7h0.9M305.7 320.3h0.9M305.1 328.1h0.9M304.8 324.0h0.9M304.5 326.7h0.9M308.5 319.1h0.9M304.0 327.7h0.9M304.8 332.6h0.9M302.2 317.5h0.9M302.5 318.3h0.9M299.6 332.9h0.9M305.6 331.9h0.9M301.6 334.4h0.9M304.2 329.9h0.9M303.6 323.0h0.9M304.0 317.3h0.9M301.8 324.0h0.9M307.1 328.4h0.9M304.0 312.8h0.9M304.0 319.8h0.9M302.3 334.7h0.9M300.2 325.0h0.9M307.5 316.0h0.9M300.8 320.7h0.9M305.7 328.0h0.9M305.0 312.5h0.9M306.1 314.4h0.9M305.4 329.4h0.9M304.6 323.7h0.9M303.3 337.9h0.9M300.3 337.2h0.9M308.1 315.3h0.9M305.6 313.0h0.9M306.4 322.8h0.9M297.9 336.3h0.9M302.6 323.6h0.9"/><path d="M301.8 317.8h0.9M304.4 323.5h0.9M307.3 335.1h0.9M300.0 337.6h0.9M305.1 332.1h0.9M304.3 318.2h0.9M302.2 336.6h0.9M306.6 339.1h0.9M303.9 319.2h0.9M300.7 319.5h0.9M305.3 322.4h0.9M302.1 327.1h0.9M302.4 311.4h0.9M306.4 316.0h0.9M304.9 333.4h0.9M305.2 341.0h0.9M298.5 335.6h0.9M307.2 337.6h0.9M304.2 312.2h0.9M303.7 337.3h0.9M306.7 312.0h0.9M303.8 333.5h0.9M306.4 335.6h0.9M303.4 324.9h0.9M304.1 320.3h0.9M302.7 314.4h0.9M303.2 316.1h0.9M299.4 323.1h0.9M302.8 318.4h0.9M303.7 318.0h0.9M306.0 315.2h0.9M302.8 339.7h0.9M301.6 316.0h0.9M305.6 340.6h0.9M308.4 315.5h0.9M303.3 338.9h0.9M299.6 319.4h0.9M301.4 333.0h0.9M302.0 330.4h0.9M304.5 331.7h0.9M307.1 324.8h0.9M307.2 313.5h0.9M302.0 324.5h0.9M296.1 331.0h0.9M305.3 315.2h0.9M301.9 333.1h0.9M302.5 338.6h0.9M302.3 314.7h0.9M301.9 312.4h0.9M303.7 336.4h0.9M306.4 336.4h0.9M305.0 312.4h0.9M301.4 316.4h0.9M303.1 318.5h0.9M302.9 320.7h0.9M305.7 325.8h0.9M306.7 340.9h0.9M299.8 312.6h0.9M307.0 335.9h0.9M298.8 338.0h0.9M308.7 318.0h0.9M304.1 313.5h0.9M304.2 330.7h0.9M307.9 323.9h0.9M303.8 316.7h0.9M305.0 323.1h0.9M309.2 316.3h0.9M304.3 325.8h0.9M302.9 333.1h0.9M304.9 336.9h0.9"/><path d="M303.3 324.0h0.9M302.1 322.3h0.9M301.2 315.1h0.9M307.8 340.8h0.9M303.0 320.1h0.9M302.1 322.1h0.9M302.6 316.5h0.9M301.8 327.7h0.9M303.5 318.1h0.9M301.8 320.2h0.9M302.8 320.9h0.9M301.7 337.5h0.9M307.4 314.3h0.9M302.4 337.3h0.9M307.9 325.9h0.9M300.6 337.8h0.9M301.2 336.9h0.9M306.2 333.6h0.9M306.6 326.9h0.9M305.8 340.7h0.9M304.4 325.5h0.9M305.9 320.7h0.9M301.5 329.0h0.9M304.8 333.9h0.9M304.8 331.6h0.9M304.5 338.8h0.9M307.5 329.7h0.9M307.1 335.4h0.9M301.4 328.3h0.9M303.9 329.5h0.9M308.1 325.5h0.9M302.5 322.6h0.9M301.5 317.5h0.9M306.8 328.9h0.9M300.8 317.4h0.9M304.7 323.1h0.9M303.4 314.1h0.9M306.1 338.2h0.9M298.4 331.6h0.9M305.1 334.4h0.9M304.5 323.5h0.9M304.4 332.3h0.9M301.4 322.0h0.9M303.2 335.7h0.9M307.5 330.8h0.9M302.2 331.1h0.9M305.9 340.0h0.9M299.0 339.3h0.9M300.2 340.2h0.9M306.1 322.4h0.9M303.7 313.8h0.9M303.7 340.6h0.9M305.3 338.5h0.9M309.2 324.9h0.9M305.2 340.4h0.9M303.8 313.0h0.9M298.5 333.5h0.9M301.6 323.0h0.9M302.3 329.6h0.9M302.8 311.9h0.9M301.4 338.7h0.9M304.3 322.5h0.9M303.4 314.8h0.9M301.0 338.4h0.9M305.5 339.6h0.9M303.7 337.0h0.9M300.9 317.1h0.9M304.9 330.6h0.9M303.4 315.6h0.9M303.5 325.6h0.9"/><path d="M303.7 340.1h0.9M300.6 317.8h0.9M302.7 340.1h0.9M301.0 328.6h0.9M302.5 321.1h0.9M302.5 312.9h0.9M304.2 334.3h0.9M300.8 327.7h0.9M299.0 323.2h0.9M305.1 313.4h0.9M306.2 311.7h0.9M304.4 333.2h0.9M300.9 337.9h0.9M304.7 317.7h0.9M303.3 312.9h0.9M306.4 317.6h0.9M302.7 331.8h0.9M300.7 334.6h0.9M304.3 314.7h0.9M301.6 339.7h0.9M301.0 331.1h0.9M301.7 339.0h0.9M299.8 312.3h0.9M305.1 324.2h0.9M301.0 337.1h0.9M302.2 338.8h0.9M301.8 318.1h0.9M302.4 337.3h0.9M306.3 339.8h0.9M300.0 325.9h0.9M304.1 333.9h0.9M306.3 340.5h0.9M303.6 314.8h0.9M304.6 334.4h0.9M306.8 324.8h0.9M297.9 311.2h0.9M302.4 334.8h0.9M307.0 329.0h0.9M302.7 336.1h0.9M302.4 318.2h0.9M303.0 320.8h0.9M305.5 321.4h0.9M301.8 316.9h0.9M303.9 311.3h0.9M303.0 323.1h0.9M304.0 327.5h0.9M300.4 338.4h0.9M304.7 331.8h0.9M300.7 326.3h0.9M304.7 325.5h0.9M306.2 337.0h0.9M304.2 323.3h0.9M302.7 334.5h0.9M303.3 339.8h0.9M301.4 335.7h0.9M303.2 325.8h0.9M305.5 339.9h0.9M302.1 337.2h0.9M300.9 320.5h0.9M304.8 320.0h0.9M299.1 331.7h0.9M302.5 333.2h0.9M305.3 319.5h0.9M306.3 315.9h0.9M301.8 318.5h0.9M305.6 318.8h0.9M300.9 340.7h0.9M303.0 328.6h0.9M305.1 326.2h0.9M303.4 319.0h0.9"/><path d="M302.5 335.4h0.9M304.2 327.1h0.9M307.3 312.4h0.9M304.1 324.0h0.9M304.3 333.9h0.9M304.7 330.7h0.9M304.5 318.9h0.9M302.2 339.2h0.9M305.2 315.7h0.9M301.2 333.6h0.9M304.9 339.8h0.9M300.6 335.8h0.9M303.8 332.1h0.9M307.3 336.4h0.9M302.7 331.1h0.9M304.9 334.9h0.9M302.7 317.8h0.9M305.5 311.3h0.9M299.6 326.4h0.9M306.7 323.5h0.9M302.8 335.6h0.9M295.4 316.1h0.9M303.6 336.7h0.9M305.7 313.6h0.9M305.0 339.7h0.9M302.8 339.7h0.9M308.2 314.0h0.9M305.6 336.7h0.9M299.9 328.7h0.9M299.4 339.3h0.9M303.6 332.9h0.9M304.4 314.3h0.9M303.9 327.6h0.9M310.3 319.4h0.9M298.7 331.1h0.9M302.9 340.9h0.9M305.8 326.4h0.9M303.8 318.2h0.9M305.7 326.5h0.9M301.7 326.0h0.9M305.9 321.9h0.9M305.2 334.7h0.9M306.7 331.4h0.9M304.9 318.7h0.9M304.5 313.3h0.9M302.0 313.2h0.9M301.3 338.9h0.9M304.7 329.1h0.9M303.3 320.9h0.9M307.8 331.8h0.9M303.4 339.5h0.9M303.6 326.5h0.9M300.7 340.1h0.9M302.3 327.5h0.9M307.4 317.7h0.9M302.3 332.9h0.9M303.9 315.0h0.9M305.1 314.5h0.9M305.2 326.6h0.9M306.8 325.9h0.9M302.8 332.0h0.9M305.9 332.6h0.9M304.5 328.4h0.9M303.2 327.2h0.9M299.1 318.8h0.9M305.1 337.0h0.9M306.9 326.5h0.9M304.9 332.9h0.9M305.2 333.6h0.9M300.8 319.6h0.9"/><path d="M303.7 319.5h0.9M305.6 319.0h0.9M300.4 314.5h0.9M302.7 332.5h0.9M303.1 319.5h0.9M302.7 329.5h0.9M301.7 326.1h0.9M304.7 317.7h0.9M305.6 336.4h0.9M301.5 326.1h0.9M306.9 326.9h0.9M303.1 312.3h0.9M302.9 336.2h0.9M304.0 333.8h0.9M304.0 323.9h0.9M304.4 312.3h0.9M301.9 321.3h0.9M299.5 315.9h0.9M303.2 317.6h0.9M307.5 331.0h0.9M302.3 324.5h0.9M302.5 314.9h0.9M303.1 331.3h0.9M303.8 332.8h0.9M302.2 319.3h0.9M301.9 333.3h0.9M306.6 324.4h0.9M302.0 315.8h0.9M302.7 311.5h0.9M303.1 324.5h0.9M305.4 316.4h0.9M302.9 324.2h0.9M304.3 337.9h0.9M306.2 312.4h0.9M305.4 318.7h0.9M302.4 320.8h0.9M302.9 336.4h0.9M306.3 323.3h0.9M303.7 321.0h0.9M305.5 324.3h0.9M303.3 323.7h0.9M301.6 319.6h0.9M302.7 319.9h0.9M308.5 311.5h0.9M302.3 336.4h0.9M309.5 312.2h0.9M300.7 331.8h0.9M303.2 339.7h0.9M305.1 339.6h0.9M302.8 319.7h0.9M300.2 338.0h0.9M304.9 326.2h0.9M301.6 328.6h0.9M299.6 325.1h0.9M304.5 312.2h0.9M308.0 340.0h0.9M301.6 328.3h0.9M304.1 328.8h0.9M302.7 325.9h0.9M304.1 319.8h0.9M301.1 331.2h0.9M306.5 320.3h0.9M302.6 336.3h0.9M302.6 339.0h0.9M305.8 322.4h0.9M302.7 340.7h0.9M299.2 337.7h0.9M302.8 332.8h0.9M299.8 331.4h0.9M307.8 334.5h0.9"/><path d="M303.5 331.6h0.9M301.7 313.8h0.9M302.9 339.8h0.9M305.1 337.7h0.9M305.7 330.6h0.9M304.8 313.0h0.9M305.2 339.2h0.9M304.7 331.0h0.9M304.4 328.6h0.9M305.8 322.6h0.9M306.3 329.5h0.9M303.8 329.7h0.9M301.1 332.0h0.9M301.3 320.9h0.9M304.0 321.0h0.9M301.6 330.5h0.9M304.7 328.9h0.9M303.2 329.0h0.9M302.6 316.7h0.9M302.5 328.1h0.9M305.1 321.1h0.9M307.0 322.1h0.9M302.9 328.6h0.9M302.6 336.8h0.9M303.2 327.7h0.9M303.9 312.9h0.9M300.6 322.9h0.9M301.6 322.5h0.9M302.6 324.0h0.9M299.7 337.2h0.9M302.3 336.1h0.9M306.7 326.2h0.9M308.9 325.0h0.9M301.8 327.4h0.9M305.3 335.0h0.9M303.7 336.2h0.9M305.5 339.1h0.9M298.0 337.9h0.9M307.8 311.7h0.9M305.3 340.3h0.9M301.0 321.5h0.9M305.8 323.2h0.9M304.7 331.4h0.9M307.7 337.3h0.9M307.1 314.5h0.9M299.3 333.3h0.9M300.7 336.6h0.9M308.6 328.1h0.9M305.6 317.8h0.9M303.4 316.6h0.9M303.7 339.8h0.9M306.0 317.7h0.9M305.1 329.3h0.9M305.9 323.5h0.9M304.4 313.3h0.9M306.9 337.4h0.9M305.1 335.8h0.9M303.8 323.0h0.9M301.8 337.0h0.9M305.4 321.3h0.9M302.8 316.7h0.9M304.7 319.9h0.9M306.5 325.6h0.9M302.8 340.5h0.9M306.2 329.9h0.9M300.4 331.7h0.9M304.9 340.1h0.9M301.4 311.0h0.9M302.3 337.2h0.9M309.0 338.0h0.9"/><path d="M303.1 338.4h0.9M301.2 326.1h0.9M307.9 338.4h0.9M303.0 335.8h0.9M307.8 325.2h0.9M302.1 315.4h0.9M306.1 340.5h0.9M304.3 312.2h0.9M306.5 326.7h0.9M306.9 339.2h0.9"/></g>
<g stroke="#000" stroke-width="0.9" stroke-opacity="0.55"><path d="M303.6 314.4h0.9M306.0 313.1h0.9M306.5 311.9h0.9M301.6 303.8h0.9M301.8 309.5h0.9M304.2 311.9h0.9M301.4 310.0h0.9M297.7 312.6h0.9M304.2 309.9h0.9M303.1 312.4h0.9M301.9 310.4h0.9M302.2 311.6h0.9M305.6 306.5h0.9M300.8 309.1h0.9M302.2 310.7h0.9M303.7 308.5h0.9M305.8 311.7h0.9M302.2 309.5h0.9M304.5 313.5h0.9M304.6 307.9h0.9M302.7 312.7h0.9M304.2 312.5h0.9M302.2 308.1h0.9M303.5 310.7h0.9M304.5 308.7h0.9M306.2 309.9h0.9M301.0 309.6h0.9M302.6 314.8h0.9M301.9 307.3h0.9M304.1 311.0h0.9M302.9 308.9h0.9M302.7 311.9h0.9M304.0 309.6h0.9M298.8 308.1h0.9M299.6 309.5h0.9M301.4 308.0h0.9M302.2 311.4h0.9M305.8 308.9h0.9M301.3 311.4h0.9M304.0 306.1h0.9M300.7 312.9h0.9M303.9 306.9h0.9M305.2 309.8h0.9M305.7 311.9h0.9M300.5 304.6h0.9M302.8 306.6h0.9M304.2 312.7h0.9M304.2 312.1h0.9M303.6 314.1h0.9M308.2 307.4h0.9M302.7 314.2h0.9M301.9 306.6h0.9M304.1 313.9h0.9M304.1 313.4h0.9M300.2 310.6h0.9M301.1 313.9h0.9M303.2 313.6h0.9M303.0 312.6h0.9M304.5 308.2h0.9M304.1 308.6h0.9M303.7 311.0h0.9M303.9 312.9h0.9M305.1 310.0h0.9M301.5 313.4h0.9M300.4 311.3h0.9M303.2 307.1h0.9M301.1 308.4h0.9M305.5 310.9h0.9M305.9 309.1h0.9M302.5 310.0h0.9"/><path d="M305.0 313.0h0.9M302.8 313.1h0.9M305.4 314.8h0.9M303.9 308.7h0.9M303.7 312.2h0.9M304.7 309.5h0.9M300.5 306.1h0.9M304.5 309.1h0.9M305.8 307.6h0.9M303.4 313.8h0.9M304.3 309.4h0.9M305.7 315.9h0.9M304.5 309.3h0.9M304.1 306.6h0.9M305.7 303.1h0.9M301.5 311.6h0.9M304.2 309.8h0.9M300.4 308.2h0.9M303.2 311.9h0.9M303.1 305.5h0.9M306.0 312.8h0.9M304.7 306.0h0.9M303.3 309.9h0.9M302.4 307.4h0.9M303.5 310.8h0.9M304.3 312.2h0.9M304.6 308.0h0.9M300.8 307.1h0.9M302.8 309.9h0.9M303.0 313.0h0.9M303.5 308.4h0.9M304.0 305.2h0.9M301.6 308.5h0.9M303.3 307.5h0.9M305.5 310.8h0.9M303.1 312.3h0.9M307.6 310.2h0.9M303.1 309.9h0.9M299.9 308.0h0.9M303.6 311.0h0.9M305.0 310.6h0.9M304.1 308.6h0.9M302.9 309.8h0.9M305.6 308.0h0.9M301.9 310.3h0.9M302.2 309.3h0.9M303.0 311.5h0.9M301.7 307.6h0.9M303.8 308.0h0.9M304.1 306.9h0.9M307.1 311.2h0.9M296.5 307.2h0.9M302.8 312.4h0.9M306.0 309.3h0.9M298.3 308.0h0.9M304.2 310.2h0.9M302.5 311.1h0.9M300.2 313.7h0.9M304.4 309.1h0.9M307.0 305.1h0.9M305.5 312.2h0.9M306.3 309.8h0.9M304.8 308.8h0.9M304.2 309.8h0.9M304.1 310.9h0.9M304.7 312.9h0.9M302.1 306.7h0.9M303.3 307.3h0.9M305.2 309.6h0.9M302.3 313.0h0.9"/><path d="M304.9 313.7h0.9M303.5 309.6h0.9M302.7 313.4h0.9M304.9 310.4h0.9M304.8 312.7h0.9M306.9 309.0h0.9M304.6 310.0h0.9M302.7 308.0h0.9M305.5 307.4h0.9M303.2 311.3h0.9"/></g>
<g stroke="#000" stroke-width="0.9" stroke-opacity="0.55"><path d="M306.3 349.8h0.9M306.6 341.7h0.9M304.8 339.0h0.9M303.0 340.1h0.9M305.1 351.4h0.9M303.2 343.7h0.9M303.3 341.5h0.9M304.0 341.9h0.9M302.9 352.3h0.9M303.3 340.7h0.9M303.5 353.4h0.9M304.7 350.8h0.9M302.3 338.3h0.9M302.1 342.9h0.9M303.8 342.3h0.9M300.0 345.1h0.9M303.3 338.7h0.9M302.8 347.0h0.9M303.3 353.7h0.9M305.6 352.7h0.9M303.7 353.1h0.9M302.5 346.2h0.9M302.5 340.4h0.9M304.0 346.2h0.9M302.5 350.7h0.9M305.1 352.6h0.9M301.7 352.2h0.9M302.2 343.2h0.9M304.3 344.6h0.9M299.8 343.6h0.9M303.2 343.6h0.9M303.6 338.1h0.9M303.7 342.2h0.9M306.3 345.0h0.9M304.7 345.7h0.9M306.0 345.3h0.9M303.0 346.7h0.9M304.4 343.3h0.9M302.9 341.1h0.9M301.5 345.9h0.9M303.9 345.7h0.9M301.3 352.6h0.9M301.4 351.1h0.9M302.4 339.4h0.9M304.6 341.4h0.9M302.7 351.8h0.9M301.2 348.0h0.9M301.1 349.8h0.9M304.1 351.9h0.9M302.8 344.1h0.9M304.9 345.5h0.9M301.5 339.2h0.9M303.3 342.1h0.9M304.1 346.4h0.9M305.4 342.3h0.9M304.4 353.2h0.9M303.0 345.4h0.9M304.7 342.4h0.9M303.2 344.1h0.9M303.2 352.8h0.9M303.4 345.6h0.9M302.1 352.0h0.9M302.4 350.7h0.9M304.2 339.5h0.9M300.9 346.1h0.9M304.0 347.7h0.9M304.9 342.3h0.9M303.7 345.3h0.9M301.0 338.1h0.9M304.4 350.4h0.9"/><path d="M305.3 341.3h0.9M302.9 345.9h0.9M303.1 349.5h0.9M303.4 350.2h0.9M302.8 348.3h0.9M304.3 353.7h0.9M305.3 344.1h0.9M305.1 349.5h0.9M303.6 341.0h0.9M304.7 342.0h0.9M304.8 353.6h0.9M303.7 342.6h0.9M303.5 353.2h0.9M304.3 345.3h0.9M301.5 350.0h0.9M303.8 345.2h0.9M303.3 352.2h0.9M303.6 341.1h0.9M304.2 347.6h0.9M303.6 346.5h0.9M303.2 352.4h0.9M302.0 353.1h0.9M302.1 349.7h0.9M302.1 344.9h0.9M302.4 344.1h0.9M305.8 347.2h0.9M303.3 349.0h0.9M301.6 340.5h0.9M301.4 343.5h0.9M302.9 341.5h0.9M298.6 344.4h0.9M303.6 340.5h0.9M304.4 343.3h0.9M302.8 346.4h0.9M305.6 346.8h0.9M300.4 347.2h0.9M304.5 345.8h0.9M303.1 344.3h0.9M302.2 347.7h0.9M305.7 340.2h0.9M305.1 353.7h0.9M306.2 339.0h0.9M304.8 351.4h0.9M305.4 344.3h0.9M301.7 346.7h0.9M306.9 348.8h0.9M306.6 338.9h0.9M303.6 345.6h0.9M302.3 353.1h0.9M302.6 339.5h0.9M302.4 349.3h0.9M307.2 351.6h0.9M304.5 351.3h0.9M305.9 340.9h0.9M301.9 349.4h0.9M306.6 338.7h0.9M305.8 340.5h0.9M302.2 344.3h0.9M303.8 338.3h0.9M305.1 345.9h0.9M305.4 348.3h0.9M306.4 338.1h0.9M301.7 352.3h0.9M304.8 348.8h0.9M303.1 343.6h0.9M300.7 352.1h0.9M302.4 350.5h0.9M306.2 345.5h0.9M305.6 349.6h0.9M304.5 342.6h0.9"/><path d="M303.6 346.6h0.9M302.2 342.6h0.9M302.0 350.0h0.9M305.3 343.3h0.9M302.4 349.2h0.9M301.9 343.5h0.9M303.8 343.8h0.9M300.2 343.0h0.9M302.0 343.4h0.9M305.4 353.5h0.9M303.9 340.0h0.9M302.6 350.5h0.9M300.4 348.6h0.9M304.5 342.1h0.9M304.5 346.4h0.9M305.2 345.1h0.9M303.3 348.5h0.9M302.6 339.1h0.9M303.8 343.5h0.9M304.9 348.2h0.9M302.3 349.7h0.9M301.0 345.9h0.9M306.2 346.4h0.9M305.4 344.1h0.9M304.6 340.6h0.9M304.0 343.1h0.9M306.8 353.0h0.9M302.7 343.0h0.9M304.4 341.3h0.9M304.5 347.3h0.9M303.3 345.9h0.9M306.8 346.1h0.9M304.9 351.9h0.9M302.0 344.4h0.9M302.5 353.2h0.9M304.4 342.2h0.9M301.4 345.9h0.9M302.1 344.2h0.9M304.3 339.3h0.9M301.1 338.2h0.9M303.7 349.3h0.9M301.3 342.5h0.9M305.7 344.2h0.9M302.7 346.0h0.9M303.2 353.4h0.9M304.5 349.5h0.9M303.6 346.7h0.9M307.6 349.5h0.9M303.0 339.1h0.9M303.0 340.7h0.9M304.1 345.7h0.9M303.0 339.5h0.9M304.8 349.8h0.9M304.7 351.1h0.9M302.8 341.3h0.9M303.5 342.7h0.9M303.1 341.2h0.9M305.5 341.0h0.9M303.1 350.7h0.9M303.1 348.8h0.9M306.1 340.8h0.9M306.0 348.6h0.9M305.0 339.8h0.9M303.3 339.1h0.9M304.3 346.6h0.9M305.5 343.1h0.9M303.2 351.9h0.9M305.2 351.2h0.9M303.4 349.4h0.9M301.7 344.0h0.9"/><path d="M303.2 348.5h0.9M302.4 348.4h0.9M305.3 338.6h0.9M304.7 338.7h0.9M300.7 339.7h0.9M303.9 341.7h0.9M303.1 338.5h0.9M304.2 351.5h0.9M304.8 348.9h0.9M305.1 342.0h0.9"/></g>
<g stroke="#000" stroke-width="0.9" stroke-opacity="0.45"><path d="M319.9 323.6h0.9M325.4 303.4h0.9M321.6 308.0h0.9M322.3 305.2h0.9M325.0 311.0h0.9M325.8 305.7h0.9M313.6 316.6h0.9M323.4 313.4h0.9M322.6 309.7h0.9M321.1 312.5h0.9M323.2 312.4h0.9M312.3 317.7h0.9M331.5 302.3h0.9M326.0 307.7h0.9M321.1 310.8h0.9M314.8 310.8h0.9M318.6 321.6h0.9M331.8 304.0h0.9M307.7 320.9h0.9M323.0 304.0h0.9M327.7 300.0h0.9M322.5 310.1h0.9M325.4 310.8h0.9M324.9 317.1h0.9M321.7 320.4h0.9M319.7 318.1h0.9M319.5 323.3h0.9M312.5 311.0h0.9M316.7 320.9h0.9M324.9 320.3h0.9M323.3 304.0h0.9M313.9 317.2h0.9M322.9 316.4h0.9M320.5 312.8h0.9M322.9 310.6h0.9M317.2 320.1h0.9M320.0 314.4h0.9M310.7 326.2h0.9M318.2 318.9h0.9M320.3 319.5h0.9M318.5 316.1h0.9M322.0 313.9h0.9M315.3 316.7h0.9M318.3 307.9h0.9M316.1 318.6h0.9M340.8 303.6h0.9M314.5 311.7h0.9M329.8 310.1h0.9M331.3 310.1h0.9M324.4 325.5h0.9M326.4 315.6h0.9M315.3 326.3h0.9M316.4 307.8h0.9M325.3 315.0h0.9M331.7 308.4h0.9M319.7 322.0h0.9M326.6 312.9h0.9M328.5 313.6h0.9M314.9 314.1h0.9M325.8 308.5h0.9M319.3 323.9h0.9M321.7 327.9h0.9M324.9 313.5h0.9M315.9 313.8h0.9M312.9 321.4h0.9M327.3 315.6h0.9M326.7 315.1h0.9M329.4 316.4h0.9M316.7 318.9h0.9M314.5 309.6h0.9"/><path d="M316.6 313.1h0.9M323.9 302.5h0.9M321.0 309.6h0.9M315.2 311.2h0.9M331.7 309.8h0.9M314.7 295.7h0.9M320.1 322.9h0.9M331.8 301.5h0.9M326.3 312.2h0.9M328.4 314.3h0.9M312.5 318.7h0.9M323.7 320.9h0.9M319.1 316.1h0.9M314.4 321.0h0.9M315.9 307.7h0.9M323.5 313.9h0.9M316.9 315.6h0.9M322.5 302.3h0.9M317.9 328.8h0.9M328.7 312.0h0.9M317.6 305.1h0.9M317.1 315.4h0.9M312.7 318.5h0.9M319.9 311.0h0.9M319.7 318.0h0.9M317.9 321.6h0.9M334.8 307.6h0.9M313.8 310.5h0.9M317.5 310.7h0.9M317.6 323.2h0.9M330.0 308.2h0.9M326.3 321.0h0.9M323.9 309.7h0.9M318.4 314.2h0.9M317.2 319.3h0.9M328.4 313.8h0.9M316.9 311.6h0.9M320.2 308.5h0.9M311.4 323.0h0.9M313.6 323.6h0.9M318.8 312.6h0.9M318.1 321.1h0.9M315.9 314.1h0.9M315.1 317.2h0.9M309.9 319.6h0.9M326.9 317.2h0.9M304.4 329.1h0.9M319.9 320.5h0.9M326.4 309.4h0.9M318.2 320.8h0.9M330.5 301.4h0.9M320.1 317.6h0.9M323.7 318.2h0.9M313.4 327.0h0.9M310.1 327.5h0.9M323.4 321.0h0.9M317.2 314.8h0.9M313.0 321.6h0.9M322.7 307.4h0.9M319.4 317.1h0.9M315.9 309.4h0.9M332.2 313.1h0.9M319.5 324.3h0.9M315.0 317.8h0.9M312.2 326.7h0.9M326.4 318.1h0.9M322.4 312.9h0.9M320.6 315.0h0.9M314.7 312.2h0.9M322.0 307.4h0.9"/><path d="M316.1 322.4h0.9M313.8 319.1h0.9M328.4 312.6h0.9M320.1 309.4h0.9M323.4 316.6h0.9M326.6 312.4h0.9M324.6 319.6h0.9M324.2 306.8h0.9M314.6 318.6h0.9M320.6 322.7h0.9M327.6 304.4h0.9M319.1 311.6h0.9M316.0 307.6h0.9M321.1 318.2h0.9M322.9 305.9h0.9M324.6 315.9h0.9M320.6 315.2h0.9M326.4 310.5h0.9M318.9 312.2h0.9M315.6 325.9h0.9M317.3 309.1h0.9M311.0 315.5h0.9M331.9 310.2h0.9M326.4 303.4h0.9M328.5 314.4h0.9M324.3 311.5h0.9M319.5 313.2h0.9M323.7 314.4h0.9M334.4 305.7h0.9M324.7 313.0h0.9M317.2 317.9h0.9M321.3 316.5h0.9M315.1 321.9h0.9M318.0 314.9h0.9M313.4 314.4h0.9M312.2 324.6h0.9M324.5 311.3h0.9M318.3 315.5h0.9M320.9 309.5h0.9M318.5 313.7h0.9M321.8 319.0h0.9M325.8 304.3h0.9M329.5 313.6h0.9M326.3 320.6h0.9M323.1 316.2h0.9M318.7 313.4h0.9M320.4 319.6h0.9M313.3 317.1h0.9M320.9 318.2h0.9M325.1 300.1h0.9M317.9 303.3h0.9M317.7 320.0h0.9M323.3 316.4h0.9M321.2 305.8h0.9M331.6 313.6h0.9M331.4 307.6h0.9M320.6 314.2h0.9M322.6 315.3h0.9M325.8 315.9h0.9M324.6 313.6h0.9M327.5 316.1h0.9M313.6 325.3h0.9M320.1 324.2h0.9M321.8 316.9h0.9M317.9 312.9h0.9M320.5 307.4h0.9M331.5 315.5h0.9M325.9 310.9h0.9M319.1 312.0h0.9M314.8 328.0h0.9"/><path d="M317.0 318.5h0.9M323.9 299.4h0.9M320.8 319.4h0.9M328.4 319.4h0.9M313.8 329.9h0.9M324.3 304.5h0.9M314.8 323.0h0.9M324.8 313.6h0.9M327.3 310.1h0.9M327.6 313.9h0.9M319.2 323.1h0.9M326.9 302.4h0.9M332.8 316.1h0.9M321.3 313.1h0.9M318.1 313.4h0.9M318.6 315.0h0.9M325.7 302.3h0.9M318.0 318.5h0.9M323.7 306.4h0.9M324.7 307.6h0.9M325.5 314.0h0.9M317.1 320.3h0.9M326.4 314.3h0.9M322.3 311.5h0.9M324.7 308.3h0.9M314.7 320.8h0.9M323.2 311.9h0.9M325.3 311.8h0.9M324.1 315.1h0.9M326.2 317.7h0.9M322.2 313.0h0.9M325.6 307.3h0.9M320.2 316.4h0.9M317.3 312.1h0.9M319.2 318.1h0.9M320.3 314.3h0.9M321.3 312.9h0.9M327.5 300.7h0.9M329.8 310.7h0.9M318.3 321.0h0.9M319.6 314.9h0.9M324.7 311.4h0.9M323.5 313.2h0.9M319.5 315.4h0.9M329.6 307.1h0.9M326.6 318.3h0.9M310.5 321.8h0.9M322.0 303.3h0.9M320.3 319.1h0.9M319.1 320.7h0.9M323.9 317.0h0.9M322.0 318.7h0.9M324.4 294.9h0.9M318.7 316.0h0.9M325.3 306.9h0.9M319.4 320.7h0.9M319.6 316.1h0.9M317.9 316.6h0.9M314.9 319.3h0.9M323.3 313.6h0.9M325.8 304.6h0.9M311.1 320.8h0.9M313.8 320.4h0.9M329.0 307.3h0.9M315.6 322.5h0.9M322.2 302.4h0.9M326.3 313.9h0.9M322.5 311.9h0.9M329.3 309.4h0.9M332.0 308.3h0.9"/><path d="M315.7 317.0h0.9M326.4 310.2h0.9M320.6 317.6h0.9M312.8 311.7h0.9M327.9 307.1h0.9M317.0 309.3h0.9M325.6 305.7h0.9M315.3 315.0h0.9M318.0 317.1h0.9M320.1 325.5h0.9M328.8 305.8h0.9M326.9 316.9h0.9M323.3 313.8h0.9M329.4 306.2h0.9M329.9 315.5h0.9M327.4 308.7h0.9M316.4 315.1h0.9M315.4 314.1h0.9M326.0 308.4h0.9M327.1 305.8h0.9M315.0 313.3h0.9M328.9 311.0h0.9M323.0 313.2h0.9M320.5 311.3h0.9M320.4 306.7h0.9M327.8 316.4h0.9M312.3 316.7h0.9M319.5 312.6h0.9M323.0 311.5h0.9M315.5 309.0h0.9M321.6 301.5h0.9M315.6 330.7h0.9M317.5 320.3h0.9M320.1 310.6h0.9M322.6 317.1h0.9M327.6 304.2h0.9M325.7 310.3h0.9M318.5 318.7h0.9M323.9 317.8h0.9M324.4 313.5h0.9M324.9 311.9h0.9M309.3 320.9h0.9M322.7 304.7h0.9M320.2 317.0h0.9M316.7 329.0h0.9M326.9 305.2h0.9M322.0 312.1h0.9M319.5 318.6h0.9M331.4 306.6h0.9M322.8 314.2h0.9M325.9 309.9h0.9M323.7 322.2h0.9M318.4 321.5h0.9M312.5 315.3h0.9M322.9 316.0h0.9M320.6 309.7h0.9M314.4 310.1h0.9M318.5 310.3h0.9M307.4 328.7h0.9M324.0 316.6h0.9M320.8 317.1h0.9M318.2 319.2h0.9M333.1 318.1h0.9M319.6 316.9h0.9M325.6 308.3h0.9M317.8 308.7h0.9M317.9 323.4h0.9M318.6 334.1h0.9M330.9 307.0h0.9M326.2 311.1h0.9"/><path d="M322.6 311.0h0.9M326.0 305.7h0.9M317.3 321.4h0.9M331.1 310.0h0.9M312.9 308.2h0.9M315.9 317.9h0.9M322.8 314.1h0.9M330.4 306.1h0.9M320.3 312.5h0.9M320.3 312.1h0.9M322.8 310.1h0.9M311.5 316.9h0.9M322.6 315.2h0.9M319.5 317.0h0.9M318.8 310.1h0.9M308.3 321.8h0.9M311.5 312.1h0.9M323.8 320.9h0.9M323.2 320.6h0.9M314.3 316.0h0.9M318.0 316.6h0.9M324.5 305.8h0.9M321.1 313.0h0.9M325.0 324.3h0.9M319.2 313.7h0.9M330.5 301.2h0.9M318.2 310.4h0.9M319.9 316.9h0.9M308.7 334.8h0.9M317.3 313.1h0.9M314.4 320.0h0.9M328.6 323.9h0.9M314.0 328.2h0.9M316.2 319.0h0.9M314.0 317.7h0.9M329.8 313.4h0.9M327.7 309.1h0.9M322.7 314.4h0.9M321.4 313.5h0.9M310.6 322.2h0.9M316.9 318.0h0.9M313.5 317.1h0.9M319.4 326.6h0.9M323.5 314.3h0.9M315.6 314.4h0.9M322.4 310.4h0.9M318.1 311.4h0.9M320.3 321.9h0.9M325.5 305.8h0.9M327.3 320.7h0.9M315.3 309.2h0.9M318.8 322.0h0.9M329.5 310.4h0.9M316.3 313.0h0.9M314.3 321.3h0.9M322.5 310.6h0.9M326.1 311.0h0.9M315.3 315.5h0.9M322.6 307.5h0.9M320.2 316.7h0.9M310.1 314.4h0.9M324.3 311.8h0.9M314.8 306.7h0.9M323.1 312.2h0.9M319.5 304.6h0.9M325.1 313.4h0.9M319.6 316.0h0.9M323.4 306.2h0.9M315.0 312.4h0.9M317.3 319.1h0.9"/><path d="M327.5 311.9h0.9M324.6 315.1h0.9M323.5 308.6h0.9M324.8 318.2h0.9M310.8 322.1h0.9M323.2 315.2h0.9M315.7 316.8h0.9M323.5 319.8h0.9M328.4 301.9h0.9M330.1 315.0h0.9M328.8 319.5h0.9M320.7 319.3h0.9M313.7 315.6h0.9M323.7 313.2h0.9M323.8 307.5h0.9M315.3 321.9h0.9M322.5 310.9h0.9M327.5 317.6h0.9M321.1 325.1h0.9M322.6 309.0h0.9M332.2 302.1h0.9M320.2 316.8h0.9M317.9 322.9h0.9M321.7 320.1h0.9M320.9 311.5h0.9M319.8 319.7h0.9M325.4 314.9h0.9M331.1 311.6h0.9M319.7 325.6h0.9M325.0 320.7h0.9M318.9 318.8h0.9M329.0 311.5h0.9M321.0 321.2h0.9M318.4 316.2h0.9M319.6 313.9h0.9M314.8 324.7h0.9M312.7 321.9h0.9M318.4 312.8h0.9M311.1 315.3h0.9M321.7 304.1h0.9M322.4 305.3h0.9M323.6 316.3h0.9M329.3 316.2h0.9M316.1 321.4h0.9M318.9 308.1h0.9M327.0 310.7h0.9M322.3 316.6h0.9M316.8 322.1h0.9M324.5 307.9h0.9M317.1 311.8h0.9M322.6 308.0h0.9M333.7 313.3h0.9M320.3 318.2h0.9M321.6 316.7h0.9M312.7 318.5h0.9M320.3 313.4h0.9M318.7 319.2h0.9M313.4 328.0h0.9M315.6 326.0h0.9M320.2 306.5h0.9M314.3 322.8h0.9M327.4 301.9h0.9M316.9 321.5h0.9M318.7 310.6h0.9M328.0 311.4h0.9M312.3 311.6h0.9M323.6 308.3h0.9M330.2 305.4h0.9M322.7 316.7h0.9M324.0 312.0h0.9"/><path d="M315.9 317.4h0.9M301.8 331.7h0.9M325.9 317.8h0.9M326.3 307.6h0.9M319.2 324.2h0.9M324.7 310.6h0.9M328.9 298.8h0.9M322.3 320.5h0.9M322.9 312.2h0.9M329.8 304.5h0.9M322.5 318.5h0.9M314.2 312.1h0.9M325.5 310.6h0.9M321.5 308.5h0.9M309.3 329.6h0.9M326.6 311.9h0.9M313.3 321.7h0.9M329.9 314.4h0.9M319.7 313.4h0.9M319.0 314.2h0.9M322.2 315.7h0.9M317.2 322.0h0.9M315.5 305.8h0.9M318.6 308.3h0.9M321.2 314.2h0.9M323.1 320.0h0.9M326.5 315.6h0.9M326.6 313.0h0.9M316.0 304.8h0.9M328.1 315.0h0.9M320.3 310.5h0.9M312.9 318.0h0.9M322.3 313.4h0.9M323.6 311.2h0.9M314.6 322.6h0.9M317.6 309.9h0.9M320.5 319.2h0.9M321.6 325.9h0.9M313.6 327.6h0.9M324.4 319.0h0.9M323.2 315.5h0.9M324.8 316.5h0.9M326.6 311.2h0.9M322.1 315.6h0.9M317.3 316.0h0.9M319.6 305.1h0.9M318.0 314.4h0.9M316.6 320.4h0.9M322.6 309.1h0.9M322.6 322.6h0.9M313.7 312.6h0.9M323.9 308.8h0.9M320.0 312.9h0.9M320.0 315.8h0.9M321.3 319.9h0.9M321.7 310.2h0.9M326.3 310.4h0.9M322.3 311.4h0.9M319.3 319.9h0.9M328.2 306.4h0.9M316.3 319.6h0.9M312.6 311.8h0.9M323.2 312.3h0.9M317.7 318.0h0.9M309.6 328.0h0.9M317.7 317.4h0.9M323.1 315.3h0.9M325.6 310.6h0.9M335.6 302.8h0.9M318.3 307.5h0.9"/><path d="M318.6 313.3h0.9M325.0 313.1h0.9M324.4 316.2h0.9M328.0 308.0h0.9M320.7 319.3h0.9M320.2 316.7h0.9M318.7 310.6h0.9M318.5 317.7h0.9M322.3 318.0h0.9M325.9 309.1h0.9M318.1 311.0h0.9M311.9 319.0h0.9M321.4 313.3h0.9M324.4 308.7h0.9M311.9 323.3h0.9M323.5 304.8h0.9M322.9 320.7h0.9M327.1 314.6h0.9M318.0 310.3h0.9M317.7 314.4h0.9M318.4 314.5h0.9M328.2 316.7h0.9M318.0 318.7h0.9M322.1 305.1h0.9M324.2 307.5h0.9M318.5 317.3h0.9M314.3 314.1h0.9M319.7 320.2h0.9M324.0 311.8h0.9M321.0 316.7h0.9M329.7 313.1h0.9M321.5 319.4h0.9M324.1 311.4h0.9M317.2 321.8h0.9M315.3 312.3h0.9M322.2 311.0h0.9M321.8 314.6h0.9M319.6 320.8h0.9M326.5 321.6h0.9M314.7 321.3h0.9M318.8 313.0h0.9M316.2 314.8h0.9M315.4 309.9h0.9M317.7 318.4h0.9M322.2 323.4h0.9M321.0 312.4h0.9M309.9 328.1h0.9M321.9 321.8h0.9M320.1 306.4h0.9M327.7 317.5h0.9M329.6 315.9h0.9M313.4 314.2h0.9M319.7 323.9h0.9M317.1 321.6h0.9M341.1 310.9h0.9M324.0 319.8h0.9M319.8 317.8h0.9M320.6 312.6h0.9M313.9 324.9h0.9M318.5 323.3h0.9M328.1 314.0h0.9M315.8 313.5h0.9M319.6 305.3h0.9M317.8 312.7h0.9M330.0 305.3h0.9M326.7 304.7h0.9M320.7 311.4h0.9M326.1 310.4h0.9M322.9 313.7h0.9M321.8 315.1h0.9"/><path d="M323.5 317.2h0.9M324.3 317.0h0.9M322.3 315.2h0.9M315.8 320.6h0.9M317.8 314.9h0.9M322.8 310.7h0.9M314.1 318.1h0.9M321.7 308.0h0.9M323.3 305.9h0.9M311.4 318.9h0.9M327.9 306.3h0.9M321.5 315.5h0.9M332.5 304.0h0.9M310.7 326.4h0.9M325.3 311.4h0.9M319.1 309.4h0.9M323.4 313.7h0.9M320.8 307.8h0.9M319.0 316.9h0.9M323.2 315.4h0.9M317.6 309.6h0.9M321.1 320.1h0.9M321.0 308.2h0.9M318.7 322.0h0.9M318.9 308.0h0.9M327.1 322.2h0.9M315.7 325.5h0.9M319.3 309.9h0.9M322.7 324.4h0.9M319.5 312.0h0.9M318.7 313.8h0.9M326.7 304.3h0.9M317.4 307.6h0.9M325.8 309.5h0.9M314.2 322.1h0.9M316.3 322.2h0.9M319.8 302.0h0.9M328.8 301.6h0.9M322.9 310.8h0.9M325.5 310.2h0.9M321.3 310.3h0.9M315.6 318.3h0.9M319.5 310.3h0.9M322.2 312.7h0.9M324.1 318.8h0.9M314.6 319.2h0.9M320.8 319.8h0.9M329.6 308.0h0.9M311.6 330.2h0.9M325.1 311.3h0.9M318.2 319.1h0.9M327.1 310.5h0.9M330.7 310.4h0.9M327.4 309.2h0.9M325.5 301.5h0.9M326.6 317.8h0.9M325.7 305.3h0.9M316.6 328.9h0.9M319.6 320.6h0.9M323.7 313.5h0.9M320.7 315.7h0.9M323.6 315.7h0.9M334.4 294.0h0.9M317.9 313.7h0.9M321.0 306.9h0.9M317.0 306.9h0.9M311.0 325.6h0.9M316.1 315.8h0.9M316.0 328.5h0.9M325.5 321.8h0.9"/></g>
<g stroke="#000" stroke-width="0.9" stroke-opacity="0.4"><path d="M319.8 315.6h0.9M322.6 311.5h0.9M325.9 322.3h0.9M324.1 307.4h0.9M329.3 301.6h0.9M315.4 329.7h0.9M321.3 306.6h0.9M313.5 311.2h0.9M327.4 317.5h0.9M320.4 313.2h0.9M319.0 324.3h0.9M325.0 326.4h0.9M316.4 321.9h0.9M322.3 303.8h0.9M331.8 318.1h0.9M323.8 315.2h0.9M307.4 317.2h0.9M322.0 332.1h0.9M328.7 301.8h0.9M319.9 322.2h0.9M316.0 307.5h0.9M313.8 304.2h0.9M322.8 311.2h0.9M330.5 311.9h0.9M320.0 312.7h0.9M317.7 330.4h0.9M326.2 304.9h0.9M325.7 310.8h0.9M316.4 319.0h0.9M329.8 307.5h0.9M320.8 310.2h0.9M313.2 298.4h0.9M331.9 310.7h0.9M301.9 325.4h0.9M316.7 320.8h0.9M318.3 326.1h0.9M330.8 312.4h0.9M305.9 301.6h0.9M320.6 319.1h0.9M317.8 321.1h0.9M320.2 316.6h0.9M318.9 320.9h0.9M307.9 324.8h0.9M313.6 310.5h0.9M324.6 320.3h0.9M316.1 304.7h0.9M328.5 319.2h0.9M334.9 304.0h0.9M314.8 334.6h0.9M330.9 303.9h0.9M320.2 300.4h0.9M320.4 322.2h0.9M314.2 323.3h0.9M325.3 319.0h0.9M326.5 295.1h0.9M317.5 308.8h0.9M325.6 325.3h0.9M325.3 334.7h0.9M324.9 298.4h0.9M318.4 316.9h0.9M323.2 320.3h0.9M310.4 319.1h0.9M324.4 310.8h0.9M315.7 310.8h0.9M295.8 324.0h0.9M312.7 324.8h0.9M307.7 329.5h0.9M316.0 323.7h0.9M329.2 314.0h0.9M315.9 330.9h0.9"/><path d="M321.1 304.2h0.9M327.6 303.9h0.9M314.1 315.5h0.9M321.9 315.4h0.9M309.8 310.5h0.9M324.4 322.2h0.9M315.0 332.4h0.9M319.1 312.6h0.9M313.7 329.2h0.9M322.4 309.9h0.9M312.2 308.7h0.9M320.9 311.0h0.9M325.2 325.3h0.9M309.0 329.7h0.9M327.0 304.5h0.9M315.5 313.9h0.9M325.8 303.7h0.9M331.2 321.6h0.9M326.0 308.9h0.9M331.7 312.8h0.9M331.8 314.4h0.9M319.9 316.2h0.9M327.9 320.1h0.9M318.1 332.7h0.9M321.7 319.8h0.9M327.0 326.0h0.9M312.4 304.4h0.9M316.3 310.3h0.9M328.0 316.9h0.9M320.6 306.5h0.9M322.7 315.1h0.9M318.7 312.4h0.9M323.0 315.8h0.9M326.8 315.8h0.9M330.3 327.1h0.9M332.2 318.4h0.9M314.0 317.7h0.9M333.6 319.8h0.9M322.1 315.5h0.9M309.4 317.9h0.9M315.4 318.1h0.9M318.2 325.2h0.9M322.2 311.9h0.9M305.5 323.1h0.9M320.8 310.6h0.9M327.7 319.6h0.9M325.5 309.4h0.9M311.9 335.2h0.9M327.1 306.1h0.9M322.6 303.2h0.9M298.5 329.2h0.9M324.8 308.4h0.9M332.9 316.1h0.9M316.0 317.6h0.9M310.7 315.4h0.9M323.1 320.3h0.9M322.6 311.7h0.9M307.2 313.1h0.9M329.3 317.7h0.9M312.7 319.4h0.9M314.2 313.0h0.9M323.1 322.3h0.9M315.2 324.5h0.9M321.2 310.5h0.9M332.8 306.9h0.9M323.5 311.9h0.9M327.6 311.7h0.9M316.8 322.8h0.9M324.5 310.9h0.9M325.8 323.4h0.9"/><path d="M314.9 302.7h0.9M312.3 314.0h0.9M333.7 303.3h0.9M312.7 320.2h0.9M310.0 316.2h0.9M329.4 310.0h0.9M317.1 321.0h0.9M318.5 306.1h0.9M328.3 301.6h0.9M313.3 308.1h0.9M314.9 317.6h0.9M333.0 308.6h0.9M335.6 309.1h0.9M309.5 325.3h0.9M329.9 302.1h0.9M317.7 309.2h0.9M328.8 308.3h0.9M310.9 317.1h0.9M328.9 318.5h0.9M321.6 308.0h0.9M326.1 320.3h0.9M315.0 315.2h0.9M324.6 320.2h0.9M324.7 321.2h0.9M329.6 316.4h0.9M324.1 303.5h0.9M320.1 308.3h0.9M319.8 320.8h0.9M320.9 309.1h0.9M331.2 321.3h0.9M321.8 321.7h0.9M308.8 318.3h0.9M333.2 322.1h0.9M328.0 298.9h0.9M324.3 304.8h0.9M320.6 324.1h0.9M321.5 319.5h0.9M320.2 304.2h0.9M313.5 315.8h0.9M312.6 325.0h0.9M321.8 310.4h0.9M330.9 325.4h0.9M330.2 316.4h0.9M332.1 314.4h0.9M313.9 322.0h0.9M318.3 317.7h0.9M303.7 321.0h0.9M336.0 309.6h0.9M316.0 314.2h0.9M320.7 333.2h0.9M322.8 325.2h0.9M316.7 321.6h0.9M311.6 331.8h0.9M318.5 314.6h0.9M321.5 331.4h0.9M312.1 324.3h0.9M313.1 321.1h0.9M311.8 329.1h0.9M334.4 307.1h0.9M304.6 311.3h0.9"/></g>
<g stroke="#000" stroke-width="0.9" stroke-opacity="0.45"><path d="M309.5 328.8h0.9M312.6 324.0h0.9M311.8 328.0h0.9M315.9 328.3h0.9M313.7 327.6h0.9M310.4 322.3h0.9M311.9 325.3h0.9M313.6 323.1h0.9M313.2 326.6h0.9M315.2 328.4h0.9M314.3 327.0h0.9M308.3 323.6h0.9M313.3 326.4h0.9M309.9 332.1h0.9M316.5 324.4h0.9M317.2 319.0h0.9M316.3 326.8h0.9M311.6 322.2h0.9M314.0 322.8h0.9M313.0 324.0h0.9M316.5 318.1h0.9M314.9 326.0h0.9M315.6 329.8h0.9M304.6 326.1h0.9M310.2 325.4h0.9M312.9 328.8h0.9M315.8 322.3h0.9M319.2 327.1h0.9M314.3 324.1h0.9M311.8 332.8h0.9M309.9 329.5h0.9M316.3 329.6h0.9M313.9 326.3h0.9M308.1 322.1h0.9M313.5 327.9h0.9M315.7 329.5h0.9M314.7 326.1h0.9M317.8 327.4h0.9M314.7 333.5h0.9M312.3 323.0h0.9M315.3 326.1h0.9M316.2 322.4h0.9M311.2 328.7h0.9M313.9 323.7h0.9M315.7 325.5h0.9M313.1 328.4h0.9M317.5 330.1h0.9M309.9 321.5h0.9M312.9 319.5h0.9M312.8 326.0h0.9M314.7 324.8h0.9M310.7 324.9h0.9M312.4 335.3h0.9M320.9 323.7h0.9M315.4 327.2h0.9M314.0 327.0h0.9M310.2 326.4h0.9M312.4 325.8h0.9M311.1 329.5h0.9M312.6 321.2h0.9M315.1 326.9h0.9M311.3 324.1h0.9M312.9 331.7h0.9M316.0 321.2h0.9M310.5 319.5h0.9M314.1 325.3h0.9M311.4 327.8h0.9M312.4 335.2h0.9M315.7 327.1h0.9M319.1 325.6h0.9"/><path d="M309.0 317.0h0.9M320.5 326.6h0.9M316.4 326.9h0.9M311.6 325.6h0.9M313.1 317.6h0.9M308.2 323.1h0.9M313.5 328.9h0.9M315.2 332.7h0.9M311.8 318.5h0.9M313.9 326.3h0.9M317.5 327.2h0.9M314.1 324.0h0.9M311.7 332.6h0.9M311.9 317.8h0.9M313.0 325.9h0.9M309.9 320.4h0.9M311.9 318.3h0.9M312.7 325.2h0.9M310.9 322.7h0.9M310.8 325.9h0.9M313.8 323.5h0.9M309.5 332.3h0.9M310.3 325.3h0.9M308.5 329.6h0.9M313.2 326.6h0.9M317.3 327.3h0.9M317.7 327.8h0.9M319.3 328.5h0.9M309.3 331.4h0.9M313.7 322.8h0.9M313.4 327.8h0.9M312.7 329.6h0.9M311.6 322.5h0.9M308.9 324.9h0.9M312.7 325.1h0.9M314.4 327.6h0.9M311.3 324.9h0.9M314.4 323.8h0.9M310.8 329.7h0.9M311.4 321.3h0.9M314.6 328.1h0.9M317.0 322.9h0.9M312.8 323.4h0.9M312.4 330.3h0.9M314.6 314.9h0.9M313.9 329.1h0.9M317.6 327.8h0.9M312.4 326.5h0.9M305.3 328.2h0.9M314.3 319.6h0.9"/></g>
<g stroke="#000" stroke-width="0.9" stroke-opacity="0.4"><path d="M326.0 344.7h0.9M292.9 358.8h0.9M348.3 336.5h0.9M323.5 353.0h0.9M294.4 350.1h0.9M320.7 317.8h0.9M332.2 313.1h0.9M345.6 298.8h0.9M304.1 313.3h0.9M338.0 351.5h0.9M300.5 308.4h0.9M316.0 336.2h0.9M288.0 335.6h0.9M309.3 321.8h0.9M295.4 328.0h0.9M351.7 361.2h0.9M348.8 326.0h0.9M308.1 353.9h0.9M350.4 339.1h0.9M309.2 303.0h0.9M303.9 321.6h0.9M342.1 297.3h0.9M329.5 345.2h0.9M332.5 352.2h0.9M319.1 350.1h0.9M289.7 339.9h0.9M350.2 360.3h0.9M287.9 343.7h0.9M323.9 344.3h0.9M333.0 326.3h0.9M319.8 352.1h0.9M296.2 337.2h0.9M352.5 340.0h0.9M351.9 344.0h0.9M289.8 351.8h0.9M301.7 355.7h0.9M318.3 350.8h0.9M299.7 306.3h0.9M293.6 353.1h0.9M306.8 326.7h0.9M289.3 358.0h0.9M333.8 347.6h0.9M339.6 339.1h0.9M344.6 313.6h0.9M323.5 333.4h0.9M297.3 353.1h0.9M327.3 303.9h0.9M325.7 334.9h0.9M304.7 355.7h0.9M333.9 361.4h0.9M303.6 347.8h0.9M299.8 317.6h0.9M350.7 296.5h0.9M329.6 313.2h0.9M310.2 357.0h0.9M316.3 336.5h0.9M293.1 352.6h0.9M320.4 311.4h0.9M325.5 318.3h0.9M303.4 324.9h0.9"/></g>
<line x1="295.90" y1="306.50" x2="295.90" y2="339.00" stroke="#777" stroke-width="1.0"/>
<path d="M309.6 292.8 V339.0 H352.4 V292.8" stroke="#777" stroke-width="1.0" fill="none"/>
<rect x="295.90" y="339.00" width="13.70" height="25.30" fill="none" stroke="#d63a30" stroke-width="1.3"/>
<rect x="291.20" y="294.80" width="16.00" height="7.40" fill="#fff" stroke="none" stroke-width="1"/>
<text x="291.50" y="301.40" font-size="8.5" font-weight="bold" textLength="15.3" lengthAdjust="spacingAndGlyphs">75.3</text>
<rect x="334.10" y="294.80" width="16.00" height="7.40" fill="#fff" stroke="none" stroke-width="1"/>
<text x="334.40" y="301.40" font-size="8.5" font-weight="bold" textLength="15.3" lengthAdjust="spacingAndGlyphs">16.7</text>
<rect x="312.40" y="355.80" width="11.70" height="7.40" fill="#fff" stroke="none" stroke-width="1"/>
<text x="312.70" y="362.40" font-size="8.5" font-weight="bold" textLength="11.0" lengthAdjust="spacingAndGlyphs">8.4</text>
<path d="M368.0 364.2v2.5M370.9 364.2v2.5M373.9 364.2v2.5M376.8 364.2v2.5M379.8 364.2v2.5M382.7 364.2v2.5M385.7 364.2v2.5M388.6 364.2v2.5M391.6 364.2v2.5M394.5 364.2v2.5M397.5 364.2v2.5M400.4 364.2v2.5M403.4 364.2v2.5M406.3 364.2v2.5M409.3 364.2v2.5M412.2 364.2v2.5M415.2 364.2v2.5M418.1 364.2v2.5M421.1 364.2v2.5M424.0 364.2v2.5M427.0 364.2v2.5M429.9 364.2v2.5M432.9 364.2v2.5M435.8 364.2v2.5M438.8 364.2v2.5M366.4 363.2h-2.8M366.4 358.4h-2.0M366.4 355.6h-2.0M366.4 353.6h-2.0M366.4 352.1h-2.0M366.4 350.9h-2.0M366.4 349.8h-2.0M366.4 348.9h-2.0M366.4 348.1h-2.0M366.4 347.3h-2.8M366.4 342.6h-2.0M366.4 339.8h-2.0M366.4 337.8h-2.0M366.4 336.2h-2.0M366.4 335.0h-2.0M366.4 333.9h-2.0M366.4 333.0h-2.0M366.4 332.2h-2.0M366.4 331.5h-2.8M366.4 326.7h-2.0M366.4 323.9h-2.0M366.4 321.9h-2.0M366.4 320.4h-2.0M366.4 319.1h-2.0M366.4 318.1h-2.0M366.4 317.1h-2.0M366.4 316.3h-2.0M366.4 315.6h-2.8M366.4 310.8h-2.0M366.4 308.0h-2.0M366.4 306.0h-2.0M366.4 304.5h-2.0M366.4 303.3h-2.0M366.4 302.2h-2.0M366.4 301.3h-2.0M366.4 300.5h-2.0M366.4 299.7h-2.8M366.4 295.0h-2.0" stroke="#333" stroke-width="0.9"/>
<path d="M365.8 364.2V292.8H440.9" stroke="#b0b0b0" stroke-width="1.0" fill="none"/>
<path d="M440.9 292.8V364.2H365.8" stroke="#666" stroke-width="1.1" fill="none"/>
<g stroke="#000" stroke-width="0.9" stroke-opacity="0.6"><path d="M383.3 333.4h0.9M385.4 330.2h0.9M383.2 315.5h0.9M384.9 313.8h0.9M383.2 322.2h0.9M380.1 324.3h0.9M378.1 316.3h0.9M376.4 313.1h0.9M385.0 327.8h0.9M385.3 317.1h0.9M385.9 317.4h0.9M381.4 331.2h0.9M388.5 321.7h0.9M382.3 319.0h0.9M382.6 321.9h0.9M383.5 327.8h0.9M385.7 320.5h0.9M384.3 323.5h0.9M383.3 317.4h0.9M385.6 332.2h0.9M385.5 332.9h0.9M387.6 328.4h0.9M384.7 322.4h0.9M382.4 323.4h0.9M381.4 320.1h0.9M385.4 319.6h0.9M380.5 321.1h0.9M378.5 329.0h0.9M385.6 315.5h0.9M386.3 329.6h0.9M379.9 323.8h0.9M383.2 316.2h0.9M382.6 331.3h0.9M384.3 325.0h0.9M385.3 327.3h0.9M382.1 323.2h0.9M386.9 329.5h0.9M386.3 331.4h0.9M387.5 325.7h0.9M379.2 313.5h0.9M382.9 328.5h0.9M388.6 322.3h0.9M387.5 323.7h0.9M385.0 328.8h0.9M380.8 321.5h0.9M387.8 313.8h0.9M376.0 329.8h0.9M379.2 312.7h0.9M383.5 319.9h0.9M382.7 320.0h0.9M383.1 316.3h0.9M386.9 313.2h0.9M380.7 314.2h0.9M383.8 319.0h0.9M381.0 327.9h0.9M381.6 330.8h0.9M381.0 324.7h0.9M379.4 328.8h0.9M382.9 324.1h0.9M384.6 315.8h0.9M385.5 320.7h0.9M382.9 322.4h0.9M381.4 325.8h0.9M393.3 322.5h0.9M381.8 316.1h0.9M384.9 334.5h0.9M385.6 333.7h0.9M385.1 315.4h0.9M380.9 314.2h0.9M387.2 322.2h0.9"/><path d="M380.3 319.5h0.9M386.7 327.5h0.9M381.0 314.0h0.9M384.5 325.0h0.9M386.9 326.1h0.9M383.4 318.0h0.9M385.7 321.9h0.9M384.1 317.5h0.9M385.2 321.6h0.9M383.7 317.0h0.9M389.3 316.3h0.9M380.6 314.4h0.9M379.5 319.2h0.9M384.7 321.2h0.9M387.4 324.1h0.9M380.9 312.6h0.9M387.1 333.4h0.9M384.6 324.4h0.9M378.3 322.5h0.9M385.6 327.4h0.9M383.4 323.6h0.9M383.5 325.2h0.9M387.5 327.6h0.9M385.6 322.7h0.9M385.8 318.7h0.9M386.2 317.3h0.9M384.9 314.7h0.9M380.3 332.0h0.9M383.6 316.4h0.9M383.9 318.6h0.9M382.3 316.3h0.9M384.5 325.9h0.9M387.1 321.5h0.9M380.1 316.8h0.9M384.2 322.1h0.9M381.6 313.5h0.9M379.5 320.8h0.9M388.2 320.8h0.9M384.2 334.7h0.9M384.9 317.2h0.9M387.5 333.5h0.9M379.6 333.2h0.9M383.4 327.0h0.9M385.3 324.6h0.9M382.5 332.5h0.9M382.3 319.5h0.9M383.3 312.2h0.9M390.4 321.8h0.9M378.4 327.6h0.9M378.8 323.3h0.9M382.3 327.7h0.9M383.6 324.7h0.9M380.8 316.2h0.9M382.2 313.2h0.9M383.7 321.1h0.9M386.2 328.3h0.9M388.8 313.8h0.9M387.5 327.6h0.9M382.9 312.0h0.9M381.9 318.8h0.9M383.9 323.3h0.9M384.9 332.8h0.9M379.1 323.6h0.9M389.0 323.0h0.9M381.9 321.1h0.9M381.6 321.3h0.9M386.0 330.1h0.9M383.7 327.2h0.9M378.0 315.2h0.9M382.6 313.9h0.9"/><path d="M382.3 334.4h0.9M384.6 312.2h0.9M382.3 327.8h0.9M382.6 321.4h0.9M385.5 318.7h0.9M380.1 328.9h0.9M384.3 327.4h0.9M383.3 331.8h0.9M376.0 331.7h0.9M388.5 316.6h0.9M380.1 329.0h0.9M385.5 315.3h0.9M383.5 332.2h0.9M381.6 319.3h0.9M384.5 334.1h0.9M384.1 330.5h0.9M385.9 327.7h0.9M381.8 322.3h0.9M380.1 330.0h0.9M376.9 315.1h0.9M382.0 326.0h0.9M383.2 321.4h0.9M386.9 333.7h0.9M382.1 317.0h0.9M381.5 331.9h0.9M382.4 314.8h0.9M384.6 330.6h0.9M384.5 323.6h0.9M382.2 332.2h0.9M385.3 323.8h0.9M382.7 329.7h0.9M380.5 331.1h0.9M379.8 331.4h0.9M383.5 322.1h0.9M387.3 325.4h0.9M384.1 334.0h0.9M382.4 334.6h0.9M387.4 333.4h0.9M385.4 312.1h0.9M382.7 321.0h0.9M381.5 321.8h0.9M386.8 314.5h0.9M386.9 332.4h0.9M388.2 332.9h0.9M384.9 325.3h0.9M382.2 314.5h0.9M386.2 327.7h0.9M386.5 313.2h0.9M385.7 322.8h0.9M383.1 325.1h0.9M381.1 319.3h0.9M384.0 334.3h0.9M382.1 331.6h0.9M384.7 313.8h0.9M382.5 324.9h0.9M383.1 321.3h0.9M386.0 333.3h0.9M384.5 326.4h0.9M385.3 329.9h0.9M383.8 333.2h0.9M384.5 318.8h0.9M385.3 317.3h0.9M386.0 332.7h0.9M384.1 330.8h0.9M384.0 331.8h0.9M380.8 324.8h0.9M387.5 329.0h0.9M384.0 323.6h0.9M380.8 327.3h0.9M381.0 318.5h0.9"/><path d="M382.9 322.4h0.9M383.7 317.0h0.9M382.8 328.0h0.9M385.8 314.1h0.9M381.5 327.0h0.9M384.0 313.0h0.9M380.1 324.3h0.9M382.6 332.3h0.9M380.0 328.6h0.9M383.5 323.4h0.9M384.4 313.2h0.9M388.1 325.2h0.9M379.2 332.6h0.9M380.5 321.4h0.9M385.4 320.9h0.9M383.3 327.0h0.9M380.5 332.5h0.9M384.7 333.6h0.9M379.7 314.3h0.9M379.9 326.7h0.9M385.7 326.0h0.9M385.1 315.3h0.9M385.5 328.8h0.9M384.0 317.6h0.9M387.8 315.8h0.9M387.6 327.2h0.9M383.7 321.2h0.9M383.7 334.1h0.9M384.3 314.3h0.9M383.2 327.7h0.9M384.1 330.7h0.9M382.3 323.9h0.9M383.7 332.3h0.9M382.2 319.7h0.9M382.0 329.4h0.9M390.1 315.0h0.9M381.0 321.4h0.9M382.6 330.8h0.9M384.9 323.9h0.9M385.7 324.8h0.9M379.4 328.2h0.9M385.7 320.3h0.9M385.3 315.2h0.9M381.1 328.7h0.9M384.8 319.7h0.9M383.7 318.8h0.9M385.5 325.4h0.9M382.4 325.3h0.9M386.5 333.9h0.9M383.0 322.9h0.9M380.8 324.5h0.9M384.8 325.5h0.9M382.3 314.0h0.9M384.5 314.7h0.9M385.6 321.3h0.9M382.1 332.6h0.9M389.4 331.0h0.9M383.8 322.1h0.9M385.2 326.7h0.9M384.4 325.2h0.9M385.4 322.7h0.9M384.4 315.7h0.9M384.5 333.8h0.9M383.8 319.1h0.9M384.3 316.0h0.9M381.0 334.8h0.9M381.6 312.5h0.9M385.7 312.4h0.9M384.2 317.9h0.9M385.6 318.5h0.9"/><path d="M382.5 319.6h0.9M384.8 313.6h0.9M381.0 325.8h0.9M384.3 320.4h0.9M385.3 315.4h0.9M382.1 334.8h0.9M381.3 332.1h0.9M382.3 314.0h0.9M380.5 325.5h0.9M381.5 313.4h0.9M385.2 333.2h0.9M378.8 324.7h0.9M386.3 322.6h0.9M382.7 318.3h0.9M386.4 312.7h0.9M380.3 330.6h0.9M386.3 313.1h0.9M387.0 326.1h0.9M384.2 316.5h0.9M382.8 331.2h0.9M381.3 321.9h0.9M386.4 330.0h0.9M385.7 320.0h0.9M386.6 318.7h0.9M383.0 314.4h0.9M385.3 315.1h0.9M385.4 334.7h0.9M377.7 323.9h0.9M383.7 321.7h0.9M385.6 329.1h0.9M385.0 327.6h0.9M384.9 323.1h0.9M381.6 329.2h0.9M384.8 314.7h0.9M383.0 317.7h0.9M379.3 332.6h0.9M385.4 330.7h0.9M384.2 322.7h0.9M385.0 322.2h0.9M384.8 313.3h0.9M382.2 330.2h0.9M384.7 324.7h0.9M388.4 333.2h0.9M382.6 330.6h0.9M382.5 325.4h0.9M385.3 316.5h0.9M382.4 315.1h0.9M382.8 323.7h0.9M383.3 317.5h0.9M383.4 323.0h0.9M385.9 319.1h0.9M386.3 330.5h0.9M379.6 329.3h0.9M382.1 333.7h0.9M381.3 319.3h0.9M382.9 329.5h0.9M385.2 325.0h0.9M381.5 321.1h0.9M385.4 324.6h0.9M381.6 330.5h0.9M381.4 333.8h0.9M381.9 318.0h0.9M383.8 333.5h0.9M382.7 329.0h0.9M381.5 334.9h0.9M388.4 315.9h0.9M386.7 333.0h0.9M378.6 317.5h0.9M387.0 324.2h0.9M384.3 320.5h0.9"/><path d="M383.4 332.8h0.9M384.0 324.4h0.9M386.1 319.2h0.9M380.5 329.6h0.9M381.0 312.1h0.9M383.5 331.3h0.9M383.7 321.4h0.9M388.7 331.2h0.9M387.0 317.0h0.9M384.9 325.5h0.9M384.8 327.7h0.9M383.7 325.6h0.9M387.4 327.9h0.9M384.2 333.2h0.9M379.2 314.1h0.9M384.3 325.5h0.9M382.3 332.5h0.9M386.2 327.7h0.9M382.9 325.2h0.9M383.8 316.4h0.9M383.9 314.8h0.9M380.8 315.9h0.9M380.9 315.2h0.9M384.4 330.4h0.9M385.7 331.7h0.9M384.4 322.3h0.9M382.9 331.2h0.9M385.0 318.2h0.9M385.9 313.9h0.9M384.9 316.7h0.9M382.2 313.6h0.9M384.6 331.7h0.9M385.8 323.5h0.9M383.0 326.2h0.9M383.2 334.9h0.9M383.7 315.4h0.9M387.8 326.2h0.9M382.1 315.8h0.9M385.0 332.1h0.9M383.0 319.6h0.9M379.9 330.3h0.9M383.4 327.3h0.9M383.9 313.2h0.9M383.9 322.3h0.9M380.4 313.3h0.9M387.2 318.9h0.9M380.4 332.9h0.9M388.8 317.7h0.9M382.2 313.8h0.9M385.6 320.7h0.9M380.9 320.2h0.9M384.8 316.0h0.9M382.9 314.6h0.9M384.6 322.5h0.9M385.0 318.3h0.9M379.8 315.7h0.9M383.8 317.6h0.9M383.6 324.1h0.9M387.9 329.5h0.9M386.7 319.5h0.9M385.4 321.6h0.9M387.2 331.1h0.9M382.8 327.2h0.9M386.0 322.8h0.9M383.5 334.4h0.9M382.0 324.5h0.9M384.2 334.4h0.9M381.0 321.2h0.9M384.1 334.8h0.9M387.3 331.4h0.9"/><path d="M382.8 322.0h0.9M383.4 331.6h0.9M385.2 320.3h0.9M383.8 319.4h0.9M378.3 316.2h0.9M383.5 316.1h0.9M383.6 315.3h0.9M384.7 326.5h0.9M384.3 315.9h0.9M379.1 334.4h0.9M386.0 313.6h0.9M384.6 318.1h0.9M383.0 312.4h0.9M382.5 321.4h0.9M385.9 315.7h0.9M381.7 316.7h0.9M383.7 326.9h0.9M377.5 318.3h0.9M383.2 330.3h0.9M379.5 326.3h0.9M382.5 323.6h0.9M385.5 316.9h0.9M380.9 329.2h0.9M380.6 312.3h0.9M386.0 323.5h0.9M385.8 328.1h0.9M385.3 320.0h0.9M386.7 328.5h0.9M385.6 319.5h0.9M385.2 327.7h0.9M381.2 315.8h0.9M384.0 314.6h0.9M384.4 313.4h0.9M380.5 318.6h0.9M379.7 324.8h0.9M384.4 333.7h0.9M386.0 327.8h0.9M375.6 317.5h0.9M388.3 312.8h0.9M377.1 324.1h0.9M380.0 326.9h0.9M382.2 315.9h0.9M381.1 312.3h0.9M387.5 327.9h0.9M385.9 320.0h0.9M388.5 331.7h0.9M383.2 319.4h0.9M382.7 322.3h0.9M384.3 315.0h0.9M385.2 328.5h0.9M382.5 332.0h0.9M384.6 313.0h0.9M384.8 319.8h0.9M386.0 329.1h0.9M383.1 334.7h0.9M378.4 318.4h0.9M385.7 318.9h0.9M385.7 329.1h0.9M385.9 326.8h0.9M382.9 312.9h0.9M383.9 318.9h0.9M387.5 316.6h0.9M379.2 312.3h0.9M381.7 316.7h0.9M381.1 329.7h0.9M382.5 324.1h0.9M381.6 323.9h0.9M379.9 313.6h0.9M385.2 316.1h0.9M386.6 315.2h0.9"/><path d="M381.0 320.8h0.9M386.2 316.9h0.9M381.6 313.0h0.9M384.9 328.7h0.9M384.2 318.4h0.9M382.6 325.2h0.9M383.5 322.7h0.9M381.6 333.7h0.9M382.8 313.9h0.9M384.3 334.6h0.9M382.4 323.1h0.9M380.1 333.1h0.9M386.5 312.9h0.9M383.2 331.8h0.9M386.5 321.3h0.9M386.2 323.3h0.9M384.6 314.9h0.9M381.6 312.7h0.9M388.8 313.1h0.9M382.0 325.1h0.9M383.2 328.5h0.9M383.2 334.7h0.9M383.4 326.8h0.9M382.0 329.3h0.9M388.1 333.6h0.9M380.1 319.1h0.9M386.5 325.2h0.9M382.3 322.1h0.9M385.5 314.0h0.9M384.2 333.1h0.9M385.2 322.5h0.9M383.5 334.3h0.9M389.6 321.8h0.9M380.0 322.8h0.9M382.3 325.9h0.9M384.6 313.7h0.9M380.7 317.1h0.9M380.6 328.9h0.9M379.4 334.7h0.9M386.7 322.2h0.9M380.7 323.4h0.9M385.9 317.6h0.9M383.5 333.7h0.9M380.8 316.1h0.9M385.2 314.5h0.9M384.4 323.6h0.9M380.4 323.2h0.9M378.8 325.7h0.9M382.7 320.4h0.9M384.1 326.2h0.9M381.2 318.3h0.9M387.1 325.0h0.9M380.1 316.1h0.9M380.9 332.8h0.9M383.8 312.6h0.9M385.6 316.7h0.9M384.4 319.3h0.9M386.6 313.9h0.9M382.7 325.9h0.9M382.5 329.2h0.9M386.3 316.7h0.9M385.8 315.1h0.9M385.2 331.0h0.9M385.6 324.2h0.9M383.5 331.9h0.9M387.1 312.5h0.9M382.0 317.5h0.9M383.6 317.4h0.9M388.2 335.0h0.9M381.4 328.7h0.9"/><path d="M386.3 331.5h0.9M380.7 326.7h0.9M382.0 312.6h0.9M386.9 322.8h0.9M385.3 320.6h0.9M387.5 330.3h0.9M383.4 330.4h0.9M378.9 327.6h0.9M378.7 320.4h0.9M382.1 320.8h0.9M381.7 315.7h0.9M381.4 318.5h0.9M386.8 327.9h0.9M381.9 312.3h0.9M385.6 329.2h0.9M382.5 312.3h0.9M383.6 324.3h0.9M383.8 325.2h0.9M380.2 326.7h0.9M383.8 323.4h0.9M388.1 329.9h0.9M381.9 324.7h0.9M385.0 324.7h0.9M383.0 332.2h0.9M382.8 319.3h0.9M384.0 323.7h0.9M380.2 330.9h0.9M383.3 327.3h0.9M379.3 326.3h0.9M388.7 316.6h0.9M381.6 319.6h0.9M384.0 331.9h0.9M386.1 328.5h0.9M382.9 316.3h0.9M385.3 324.8h0.9M381.2 321.3h0.9M381.4 314.2h0.9M383.9 318.7h0.9M377.4 330.8h0.9M384.6 313.9h0.9M382.2 332.1h0.9M382.1 313.2h0.9M380.5 316.1h0.9M385.9 319.2h0.9M388.1 313.2h0.9M383.0 323.9h0.9M385.7 316.6h0.9M384.5 329.3h0.9M386.6 333.8h0.9M383.2 321.8h0.9M381.7 316.2h0.9M387.4 320.1h0.9M382.3 327.0h0.9M382.5 333.6h0.9M391.2 319.4h0.9M384.5 333.1h0.9M387.6 312.0h0.9M381.3 325.2h0.9M390.0 331.8h0.9M387.0 329.4h0.9M384.0 331.9h0.9M381.4 327.2h0.9M381.6 313.1h0.9M380.1 322.7h0.9M384.7 322.5h0.9M386.1 316.7h0.9M383.4 312.4h0.9M384.7 333.4h0.9M389.8 315.4h0.9M389.5 314.0h0.9"/><path d="M388.4 323.3h0.9M386.2 330.9h0.9M380.0 315.0h0.9M385.4 325.0h0.9M388.2 316.0h0.9M381.0 323.8h0.9M385.2 330.0h0.9M387.2 332.2h0.9M383.0 315.6h0.9M389.5 319.0h0.9M382.1 329.7h0.9M380.3 331.4h0.9M383.0 329.9h0.9M386.0 325.2h0.9M379.7 317.3h0.9M383.7 314.2h0.9M381.8 333.0h0.9M383.6 313.4h0.9M385.6 325.0h0.9M382.8 316.0h0.9M387.6 315.8h0.9M384.8 318.4h0.9M380.0 334.6h0.9M381.9 321.2h0.9M380.3 330.6h0.9M386.5 321.5h0.9M384.7 314.0h0.9M383.7 322.1h0.9M384.0 323.2h0.9M383.1 319.9h0.9M382.5 314.1h0.9M382.7 327.2h0.9M382.7 319.1h0.9M380.2 332.0h0.9M380.8 317.4h0.9M384.8 328.0h0.9M382.4 323.4h0.9M382.0 322.7h0.9M382.7 319.3h0.9M387.5 325.8h0.9M382.2 332.4h0.9M384.9 322.3h0.9M387.3 322.3h0.9M380.5 329.4h0.9M381.0 314.7h0.9M384.3 332.7h0.9M382.9 331.2h0.9M381.3 333.4h0.9M380.2 328.7h0.9M381.0 330.0h0.9M386.5 315.4h0.9M385.9 328.5h0.9M386.4 320.4h0.9M386.4 332.3h0.9M386.1 324.3h0.9M382.1 324.2h0.9M385.0 330.6h0.9M384.5 323.6h0.9M383.0 331.3h0.9M384.4 319.6h0.9M385.5 328.5h0.9M387.0 315.0h0.9M386.7 333.3h0.9M383.9 328.6h0.9M386.3 322.8h0.9M381.6 322.1h0.9M388.3 312.2h0.9M381.5 321.3h0.9M382.1 328.0h0.9M381.6 325.3h0.9"/><path d="M381.6 321.3h0.9M383.1 316.5h0.9M381.8 315.0h0.9M384.8 313.6h0.9M383.8 312.3h0.9M381.7 319.3h0.9M386.6 320.0h0.9M386.1 322.0h0.9M381.2 313.0h0.9M383.9 318.4h0.9M381.6 316.8h0.9M379.8 332.1h0.9M388.2 326.7h0.9M383.8 325.1h0.9M385.3 326.4h0.9M386.2 322.4h0.9M380.9 333.2h0.9M382.3 317.3h0.9M380.1 322.3h0.9M379.3 324.0h0.9M387.0 318.4h0.9M389.2 315.2h0.9M383.1 326.8h0.9M384.7 317.8h0.9M383.8 332.4h0.9M386.0 326.4h0.9M384.6 315.9h0.9M386.2 316.7h0.9M385.1 320.1h0.9M381.2 330.7h0.9M386.1 319.5h0.9M380.8 321.2h0.9M382.3 327.1h0.9M378.9 331.7h0.9M390.5 319.8h0.9M383.8 314.5h0.9M379.8 322.8h0.9M384.2 313.8h0.9M384.5 334.9h0.9M386.6 322.7h0.9M385.3 313.8h0.9M384.3 320.5h0.9M381.4 329.5h0.9M384.9 332.7h0.9M383.4 331.2h0.9M385.9 331.5h0.9M382.6 312.3h0.9M382.8 322.6h0.9M384.5 314.0h0.9M383.3 324.4h0.9M383.4 333.4h0.9M383.6 322.0h0.9M380.4 320.2h0.9M390.8 322.5h0.9M383.0 324.7h0.9M383.9 313.8h0.9M382.2 316.0h0.9M381.5 319.3h0.9M387.0 332.5h0.9M380.9 319.2h0.9M382.5 313.6h0.9M382.6 321.2h0.9M384.0 324.4h0.9M386.6 324.1h0.9M380.7 322.8h0.9M381.2 318.5h0.9M383.4 331.9h0.9M388.6 316.8h0.9M381.0 321.4h0.9M381.8 321.7h0.9"/><path d="M389.7 330.8h0.9M386.4 316.3h0.9M380.0 314.1h0.9M381.7 321.2h0.9M385.4 327.9h0.9M383.5 314.0h0.9M389.7 329.1h0.9M383.8 321.4h0.9M382.2 328.6h0.9M383.0 334.3h0.9M384.3 327.1h0.9M383.8 313.9h0.9M384.1 325.7h0.9M384.3 318.3h0.9M381.1 328.8h0.9M387.0 332.6h0.9M380.9 332.2h0.9M387.6 332.4h0.9M384.2 332.0h0.9M381.5 316.1h0.9M381.7 318.4h0.9M384.8 321.9h0.9M384.4 316.0h0.9M382.7 329.3h0.9M382.7 328.0h0.9M382.8 328.6h0.9M386.9 316.5h0.9M382.9 315.3h0.9M384.1 319.0h0.9M380.0 315.5h0.9M380.3 317.3h0.9M383.2 331.4h0.9M386.6 317.2h0.9M382.9 334.2h0.9M381.2 334.8h0.9M383.0 316.4h0.9M383.3 331.6h0.9M386.7 332.0h0.9M381.8 325.1h0.9M385.3 318.0h0.9M387.1 326.8h0.9M385.0 335.0h0.9M387.4 315.1h0.9M382.1 322.4h0.9M388.1 332.3h0.9M383.8 314.4h0.9M388.3 324.2h0.9M383.7 320.0h0.9M384.9 314.4h0.9M382.7 318.5h0.9M386.8 312.0h0.9M387.0 324.3h0.9M389.4 315.2h0.9M384.7 329.2h0.9M385.2 316.5h0.9M384.6 332.5h0.9M383.2 320.6h0.9M380.7 323.1h0.9M389.1 320.9h0.9M387.3 322.0h0.9M379.9 312.8h0.9M383.0 330.7h0.9M384.7 313.7h0.9M385.8 330.7h0.9M382.4 322.1h0.9M383.9 331.0h0.9M381.1 328.0h0.9M388.1 316.0h0.9M378.3 315.8h0.9M379.2 314.0h0.9"/><path d="M385.1 331.6h0.9M384.9 316.3h0.9M382.9 312.5h0.9M385.2 323.5h0.9M386.9 315.7h0.9M384.1 318.2h0.9M383.2 329.0h0.9M382.8 314.6h0.9M382.4 319.7h0.9M382.4 325.4h0.9M383.1 325.1h0.9M384.6 324.0h0.9M383.8 333.2h0.9M383.4 331.7h0.9M384.4 329.9h0.9M382.8 319.7h0.9M384.9 327.0h0.9M388.4 321.2h0.9M380.1 312.2h0.9M388.9 320.5h0.9M380.5 318.6h0.9M386.2 325.2h0.9M389.6 332.1h0.9M388.5 326.1h0.9M382.0 328.2h0.9M384.3 332.0h0.9M380.4 321.3h0.9M386.2 317.6h0.9M382.7 315.2h0.9M383.4 323.0h0.9M387.0 324.0h0.9M378.4 315.9h0.9M382.4 333.0h0.9M383.4 322.5h0.9M379.6 318.9h0.9M384.9 312.6h0.9M384.4 333.3h0.9M382.0 318.1h0.9M383.0 329.1h0.9M386.0 320.9h0.9M383.5 323.8h0.9M385.8 329.7h0.9M385.1 321.1h0.9M377.0 327.2h0.9M385.6 332.3h0.9M389.2 325.5h0.9M387.7 317.7h0.9M382.1 330.2h0.9M385.7 334.4h0.9M385.0 331.1h0.9M387.3 324.9h0.9M390.5 326.8h0.9M382.5 312.1h0.9M385.8 313.4h0.9M384.3 330.2h0.9M380.8 328.2h0.9M388.3 320.6h0.9M383.9 315.0h0.9M388.3 315.8h0.9M381.0 328.9h0.9M383.5 315.1h0.9M380.6 331.9h0.9M388.3 322.9h0.9M383.6 327.3h0.9M383.1 313.3h0.9M386.1 313.5h0.9M387.1 328.5h0.9M385.8 333.9h0.9M381.1 330.8h0.9M386.9 314.9h0.9"/><path d="M385.6 318.9h0.9M384.5 330.0h0.9M383.8 328.5h0.9M382.9 313.9h0.9M381.9 334.2h0.9M388.8 332.4h0.9M382.6 319.3h0.9M382.6 322.1h0.9M385.5 327.5h0.9M387.1 332.5h0.9M383.3 333.1h0.9M385.9 334.2h0.9M385.0 326.5h0.9M389.4 329.1h0.9M385.2 321.7h0.9M384.8 328.4h0.9M382.3 317.1h0.9M380.1 312.3h0.9M380.7 312.2h0.9M385.9 315.4h0.9M384.9 318.1h0.9M386.1 321.0h0.9M381.5 318.0h0.9M382.3 312.9h0.9M382.3 332.0h0.9M382.4 325.9h0.9M389.3 327.8h0.9M383.6 320.0h0.9M383.0 331.1h0.9M384.2 325.9h0.9M382.8 324.6h0.9M385.0 326.5h0.9M381.1 322.7h0.9M382.3 326.5h0.9M384.5 318.0h0.9M383.7 330.6h0.9M387.1 327.0h0.9M376.8 333.6h0.9M386.6 325.2h0.9M386.1 326.6h0.9M385.9 314.5h0.9M382.9 323.8h0.9M385.2 332.4h0.9M381.8 324.3h0.9M383.4 322.4h0.9M387.0 312.4h0.9M384.5 314.8h0.9M387.4 331.4h0.9M386.1 323.9h0.9M378.7 334.8h0.9M380.6 328.8h0.9M385.0 334.6h0.9M382.2 324.0h0.9M381.9 318.3h0.9M381.3 333.1h0.9M387.1 318.0h0.9M383.3 313.9h0.9M380.9 328.4h0.9M382.6 316.3h0.9M382.2 320.0h0.9M384.7 332.1h0.9M384.0 317.0h0.9M386.0 331.2h0.9M383.0 316.9h0.9M384.5 334.9h0.9M383.9 315.4h0.9M383.3 332.7h0.9M386.3 333.7h0.9M386.8 325.9h0.9M386.4 322.9h0.9"/><path d="M387.0 330.8h0.9M389.4 330.0h0.9M380.9 312.9h0.9M384.5 316.6h0.9M383.6 331.6h0.9M383.2 325.2h0.9M383.5 323.5h0.9M386.8 314.1h0.9M381.0 331.9h0.9M380.0 334.2h0.9M386.2 327.4h0.9M381.6 323.7h0.9M385.3 325.8h0.9M388.3 318.6h0.9M388.4 324.8h0.9M381.2 325.5h0.9M387.1 325.7h0.9M385.0 320.5h0.9M384.3 326.0h0.9M384.0 314.9h0.9M384.4 329.8h0.9M380.6 320.4h0.9M383.2 334.3h0.9M387.3 320.9h0.9M383.5 319.2h0.9M384.2 331.6h0.9M380.6 323.9h0.9M384.4 326.4h0.9M381.7 316.9h0.9M387.7 320.5h0.9M387.3 313.5h0.9M388.5 328.0h0.9M384.7 326.5h0.9M389.5 331.4h0.9M383.8 331.9h0.9M379.7 313.0h0.9M384.7 333.5h0.9M387.9 322.8h0.9M384.8 318.9h0.9M382.2 323.6h0.9M380.8 328.1h0.9M382.8 322.5h0.9M383.3 334.1h0.9M383.7 328.0h0.9M378.7 334.2h0.9M384.8 323.7h0.9M386.8 320.7h0.9M387.8 320.5h0.9M382.6 313.3h0.9M386.0 324.7h0.9M384.0 333.0h0.9M380.0 323.5h0.9M384.7 330.4h0.9M381.6 322.0h0.9M382.6 325.0h0.9M380.6 325.6h0.9M383.4 327.6h0.9M384.8 324.7h0.9M382.6 323.8h0.9M384.2 332.6h0.9M385.2 332.9h0.9M380.0 327.9h0.9M384.9 332.9h0.9M380.5 313.6h0.9M385.5 333.3h0.9M384.5 317.8h0.9M386.8 315.0h0.9M385.8 314.1h0.9M383.6 331.0h0.9M383.9 315.3h0.9"/><path d="M379.9 334.5h0.9M385.0 323.8h0.9M381.3 323.9h0.9M383.1 317.9h0.9M381.8 323.7h0.9M384.2 329.7h0.9M382.4 323.8h0.9M386.2 328.9h0.9M386.2 326.6h0.9M387.4 331.2h0.9M384.3 325.4h0.9M385.5 329.1h0.9M382.7 322.2h0.9M383.6 313.4h0.9M385.2 325.1h0.9M384.2 313.0h0.9M378.7 313.7h0.9M386.9 330.8h0.9M382.5 329.7h0.9M382.8 318.5h0.9M384.4 324.2h0.9M382.9 331.2h0.9M380.7 324.8h0.9M386.6 314.5h0.9M385.8 323.1h0.9M384.0 319.3h0.9M387.4 322.5h0.9M379.7 318.7h0.9M382.8 331.2h0.9M387.7 323.8h0.9M383.3 315.7h0.9M384.1 327.0h0.9M381.2 325.6h0.9M382.5 314.1h0.9M385.8 325.0h0.9M387.5 327.3h0.9M385.3 324.3h0.9M379.2 332.7h0.9M382.9 330.4h0.9M385.0 326.5h0.9M382.4 328.7h0.9M382.8 315.1h0.9M386.1 330.9h0.9M380.4 327.6h0.9M384.1 324.1h0.9M383.2 327.7h0.9M384.5 327.1h0.9M380.5 314.7h0.9M383.5 327.9h0.9M385.2 316.3h0.9M383.8 321.2h0.9M386.2 324.9h0.9M379.4 320.1h0.9M382.1 323.9h0.9M379.9 331.8h0.9M383.3 316.6h0.9M379.9 318.9h0.9M385.4 322.8h0.9M384.5 331.1h0.9M383.0 312.9h0.9M381.7 312.0h0.9M383.2 318.3h0.9M387.5 315.4h0.9M385.3 328.0h0.9M379.6 314.5h0.9M382.7 320.7h0.9M384.6 314.6h0.9M379.9 320.4h0.9M379.7 324.0h0.9M384.6 332.1h0.9"/><path d="M381.8 326.2h0.9M383.0 318.9h0.9M382.2 331.5h0.9M379.6 325.2h0.9M379.3 330.2h0.9M383.5 328.6h0.9M384.8 317.0h0.9M382.0 322.1h0.9M387.2 327.5h0.9M384.5 331.7h0.9M384.9 320.2h0.9M378.5 314.9h0.9M384.3 327.5h0.9M385.6 317.3h0.9M385.6 323.2h0.9M386.3 331.2h0.9M380.1 320.1h0.9M388.1 328.4h0.9M384.5 317.6h0.9M383.5 325.9h0.9M379.5 333.0h0.9M385.7 329.2h0.9M380.1 329.8h0.9M382.0 333.6h0.9M383.3 317.4h0.9M382.8 324.1h0.9M380.5 333.5h0.9M378.4 312.3h0.9M389.8 322.7h0.9M381.7 324.4h0.9"/></g>
<g stroke="#000" stroke-width="0.9" stroke-opacity="0.55"><path d="M381.9 313.2h0.9M383.5 308.1h0.9M386.2 311.4h0.9M381.4 311.4h0.9M385.2 315.3h0.9M388.3 308.0h0.9M384.3 312.4h0.9M386.9 311.2h0.9M385.5 312.5h0.9M383.7 311.7h0.9M381.3 308.3h0.9M383.4 309.1h0.9M382.8 309.2h0.9M380.0 309.0h0.9M386.6 312.7h0.9M383.6 315.2h0.9M383.1 311.8h0.9M382.7 308.0h0.9M382.3 309.5h0.9M377.7 310.0h0.9M381.4 312.3h0.9M386.2 308.4h0.9M383.9 314.7h0.9M385.8 315.0h0.9M384.0 306.5h0.9M383.0 308.6h0.9M382.3 311.3h0.9M384.4 310.5h0.9M382.8 312.8h0.9M382.8 309.1h0.9M383.8 312.0h0.9M384.8 318.7h0.9M387.4 314.7h0.9M384.5 308.5h0.9M387.1 308.7h0.9M385.4 317.7h0.9M382.6 314.5h0.9M384.6 314.9h0.9M382.6 315.3h0.9M384.8 310.5h0.9M384.9 308.3h0.9M387.3 312.2h0.9M383.1 311.3h0.9M383.2 307.2h0.9M381.6 310.4h0.9M381.7 314.3h0.9M382.0 306.4h0.9M383.3 315.5h0.9M383.6 312.2h0.9M385.0 309.6h0.9M382.1 305.3h0.9M385.3 310.0h0.9M384.1 311.1h0.9M384.6 308.9h0.9M384.8 315.5h0.9M379.1 310.9h0.9M382.4 309.8h0.9M383.8 310.9h0.9M382.7 309.3h0.9M384.2 313.1h0.9M382.0 309.6h0.9M384.4 308.7h0.9M384.1 313.3h0.9M385.5 309.9h0.9M385.8 305.5h0.9M383.4 312.6h0.9M384.4 313.2h0.9M382.4 313.4h0.9M386.1 312.4h0.9M379.5 308.4h0.9"/><path d="M383.7 311.5h0.9M384.5 311.7h0.9M388.1 312.5h0.9M384.5 310.2h0.9M384.8 311.5h0.9M389.1 316.0h0.9M381.2 309.4h0.9M380.1 310.5h0.9M384.7 310.8h0.9M385.7 308.0h0.9M388.5 311.4h0.9M382.6 309.0h0.9M384.9 309.6h0.9M388.3 310.1h0.9M385.3 311.3h0.9M383.0 314.7h0.9M384.1 307.9h0.9M383.8 308.7h0.9M382.1 313.0h0.9M382.0 311.3h0.9M380.0 307.4h0.9M383.1 309.1h0.9M382.8 312.8h0.9M378.7 315.8h0.9M381.3 313.5h0.9M385.9 311.3h0.9M382.5 310.8h0.9M383.2 309.2h0.9M383.1 308.9h0.9M381.9 312.9h0.9M382.7 309.7h0.9M383.8 312.4h0.9M381.8 313.0h0.9M385.1 312.8h0.9M388.0 305.8h0.9M380.0 309.3h0.9M383.9 311.0h0.9M383.3 315.1h0.9M382.2 311.1h0.9M384.8 311.5h0.9M383.9 312.2h0.9M385.3 312.2h0.9M383.3 307.1h0.9M384.1 306.8h0.9M382.9 311.5h0.9M382.5 311.8h0.9M384.0 308.2h0.9M381.1 315.6h0.9M383.8 316.3h0.9M387.5 311.6h0.9M382.9 310.4h0.9M382.8 311.0h0.9M383.6 309.0h0.9M386.5 307.7h0.9M381.4 312.3h0.9M381.0 307.1h0.9M381.5 309.1h0.9M383.9 312.8h0.9M378.1 311.3h0.9M384.7 311.1h0.9M379.2 312.7h0.9M381.1 307.0h0.9M382.7 312.9h0.9M382.0 310.1h0.9M379.0 310.7h0.9M382.0 311.3h0.9M382.9 313.5h0.9M383.6 307.6h0.9M384.5 306.6h0.9M382.7 313.1h0.9"/><path d="M386.5 312.5h0.9M379.7 314.9h0.9M384.7 315.0h0.9M384.1 312.6h0.9M384.1 312.4h0.9M384.5 310.1h0.9M382.2 314.7h0.9M386.0 309.5h0.9M382.2 312.3h0.9M384.5 311.9h0.9"/></g>
<g stroke="#000" stroke-width="0.9" stroke-opacity="0.5"><path d="M382.2 341.4h0.9M381.5 338.7h0.9M380.5 340.6h0.9M385.1 340.3h0.9M384.9 349.1h0.9M386.0 339.3h0.9M385.6 343.0h0.9M384.4 345.0h0.9M380.7 340.4h0.9M382.9 338.5h0.9M380.9 345.4h0.9M385.7 350.6h0.9M383.1 350.2h0.9M386.3 339.3h0.9M383.8 350.9h0.9M383.5 341.3h0.9M385.0 347.6h0.9M383.2 339.2h0.9M382.8 338.0h0.9M380.4 348.9h0.9M385.4 343.6h0.9M385.1 349.4h0.9M385.7 335.2h0.9M382.2 349.3h0.9M384.5 339.7h0.9M384.8 338.6h0.9M383.1 334.4h0.9M383.9 351.2h0.9M381.4 336.5h0.9M384.6 341.2h0.9M382.2 341.9h0.9M384.3 334.2h0.9M382.3 345.2h0.9M381.0 338.7h0.9M384.0 345.7h0.9M382.1 349.6h0.9M382.9 347.8h0.9M382.6 351.9h0.9M383.5 336.8h0.9M383.8 339.2h0.9M378.9 342.8h0.9M382.1 339.8h0.9M384.3 340.5h0.9M385.3 340.3h0.9M384.2 351.6h0.9M382.6 339.9h0.9M380.8 334.2h0.9M383.8 334.9h0.9M382.7 335.8h0.9M383.4 350.8h0.9M381.8 348.6h0.9M382.5 348.0h0.9M377.9 341.2h0.9M384.5 344.5h0.9M381.4 345.4h0.9M380.8 334.0h0.9M384.7 334.1h0.9M383.5 335.3h0.9M383.8 351.6h0.9M384.2 350.9h0.9M383.8 347.8h0.9M384.0 344.6h0.9M383.1 347.0h0.9M384.8 340.9h0.9M382.6 342.8h0.9M383.6 340.4h0.9M379.8 341.8h0.9M383.0 344.9h0.9M384.3 340.6h0.9M383.2 337.1h0.9"/><path d="M384.4 349.6h0.9M385.4 350.5h0.9M382.1 348.8h0.9M383.1 351.2h0.9M382.8 334.7h0.9M385.2 335.9h0.9M383.4 345.6h0.9M381.9 343.4h0.9M380.7 334.6h0.9M385.6 343.2h0.9M382.4 335.6h0.9M384.5 349.4h0.9M384.8 350.0h0.9M383.1 342.1h0.9M385.1 345.3h0.9M383.7 346.9h0.9M381.8 340.1h0.9M384.4 340.5h0.9M380.5 338.3h0.9M386.5 339.9h0.9M383.1 345.3h0.9M382.0 339.3h0.9M383.9 348.9h0.9M384.7 344.9h0.9M380.5 343.7h0.9M385.1 348.4h0.9M381.2 336.7h0.9M385.6 346.9h0.9M380.9 340.0h0.9M383.0 346.9h0.9M382.9 345.9h0.9M381.3 347.7h0.9M383.5 341.4h0.9M384.0 334.9h0.9M382.6 341.8h0.9M384.5 347.3h0.9M382.5 346.5h0.9M384.6 340.3h0.9M385.4 341.0h0.9M382.2 340.7h0.9M385.2 341.5h0.9M384.8 342.7h0.9M382.3 350.5h0.9M383.9 343.6h0.9M384.7 343.5h0.9M378.6 337.4h0.9M386.0 347.0h0.9M388.1 338.5h0.9M382.5 346.6h0.9M383.8 343.4h0.9M383.4 346.5h0.9M382.0 348.8h0.9M386.8 337.1h0.9M382.7 347.8h0.9M386.1 339.2h0.9M384.7 337.8h0.9M383.5 345.1h0.9M383.9 350.2h0.9M383.9 347.3h0.9M383.8 347.3h0.9M383.3 350.2h0.9M389.0 334.7h0.9M381.9 343.2h0.9M382.5 338.3h0.9M382.2 349.7h0.9M382.8 340.9h0.9M386.4 350.4h0.9M381.7 343.8h0.9M380.5 338.2h0.9M382.0 338.9h0.9"/></g>
<g stroke="#000" stroke-width="0.9" stroke-opacity="0.45"><path d="M393.0 320.8h0.9M395.9 320.8h0.9M395.8 313.3h0.9M399.3 311.2h0.9M394.6 313.3h0.9M402.4 321.2h0.9M405.3 315.7h0.9M397.8 313.2h0.9M401.3 315.1h0.9M393.7 318.9h0.9M397.2 316.2h0.9M396.8 309.0h0.9M395.0 308.6h0.9M397.4 313.0h0.9M394.8 318.9h0.9M392.9 314.5h0.9M389.7 321.3h0.9M403.3 311.7h0.9M400.2 315.3h0.9M400.5 316.7h0.9M407.8 315.4h0.9M405.4 313.2h0.9M402.2 319.9h0.9M396.8 320.1h0.9M391.5 325.2h0.9M396.3 316.0h0.9M400.8 317.3h0.9M410.3 317.2h0.9M400.2 310.5h0.9M390.3 314.3h0.9M399.4 317.4h0.9M389.0 322.7h0.9M392.2 323.7h0.9M410.3 312.1h0.9M396.9 315.2h0.9M401.8 318.4h0.9M401.7 307.7h0.9M413.8 308.1h0.9M399.7 323.9h0.9M400.9 318.6h0.9M405.1 315.0h0.9M400.8 316.6h0.9M411.7 312.4h0.9M399.5 310.9h0.9M400.4 314.3h0.9M397.4 306.8h0.9M396.7 325.5h0.9M402.2 313.6h0.9M394.6 316.2h0.9M391.7 316.5h0.9M404.8 305.5h0.9M393.8 312.7h0.9M387.9 310.2h0.9M394.0 309.3h0.9M400.1 309.5h0.9M400.5 313.8h0.9M400.0 312.4h0.9M400.8 316.3h0.9M404.0 311.0h0.9M394.8 320.9h0.9M400.6 323.8h0.9M394.8 305.3h0.9M403.1 317.6h0.9M395.3 319.3h0.9M408.5 303.4h0.9M401.4 317.6h0.9M405.0 312.8h0.9M397.1 331.9h0.9M396.0 323.9h0.9M400.9 318.5h0.9"/><path d="M398.9 318.2h0.9M401.2 316.9h0.9M397.1 314.7h0.9M400.1 313.2h0.9M394.5 320.2h0.9M396.4 313.1h0.9M395.3 319.7h0.9M400.6 318.6h0.9M400.9 305.2h0.9M400.4 319.4h0.9M398.0 312.7h0.9M396.4 322.6h0.9M395.7 314.2h0.9M394.5 316.3h0.9M408.2 306.6h0.9M394.2 310.9h0.9M404.9 321.1h0.9M395.9 322.6h0.9M402.7 306.5h0.9M399.4 309.2h0.9M401.9 320.3h0.9M397.3 319.6h0.9M385.2 319.2h0.9M402.4 320.1h0.9M392.9 320.9h0.9M394.5 317.4h0.9M402.9 316.6h0.9M399.2 310.6h0.9M399.8 316.8h0.9M397.8 313.9h0.9M390.4 319.5h0.9M411.1 311.6h0.9M400.5 309.9h0.9M410.5 306.4h0.9M395.2 316.6h0.9M400.1 314.0h0.9M394.5 311.8h0.9M398.3 314.7h0.9M401.7 304.6h0.9M402.4 318.3h0.9M399.6 301.9h0.9M400.6 314.6h0.9M403.3 315.2h0.9M398.7 321.0h0.9M394.1 314.4h0.9M398.8 318.4h0.9M383.0 331.5h0.9M399.9 311.2h0.9M404.0 311.3h0.9M403.0 318.4h0.9M413.9 312.4h0.9M405.5 304.9h0.9M394.9 324.0h0.9M399.2 313.4h0.9M402.5 314.2h0.9M400.0 317.5h0.9M393.7 316.9h0.9M404.5 314.9h0.9M406.0 308.0h0.9M401.9 306.6h0.9M411.0 305.8h0.9M390.4 315.5h0.9M402.2 318.1h0.9M410.0 313.0h0.9M397.3 324.8h0.9M393.1 325.8h0.9M391.2 325.4h0.9M394.5 314.1h0.9M406.4 311.8h0.9M400.8 318.4h0.9"/><path d="M396.9 313.8h0.9M392.3 324.2h0.9M401.4 309.3h0.9M392.7 315.8h0.9M405.7 304.2h0.9M400.8 307.8h0.9M399.1 313.5h0.9M398.0 308.1h0.9M406.0 307.9h0.9M394.2 315.6h0.9M398.3 315.8h0.9M390.1 318.6h0.9M398.5 314.5h0.9M406.8 302.0h0.9M402.1 314.7h0.9M403.9 306.1h0.9M405.5 319.6h0.9M398.7 323.0h0.9M393.0 317.2h0.9M401.2 309.4h0.9M390.7 314.8h0.9M404.1 306.3h0.9M398.8 306.8h0.9M404.8 309.1h0.9M402.9 313.9h0.9M399.5 310.0h0.9M403.0 316.1h0.9M399.9 310.7h0.9M393.0 325.1h0.9M405.0 299.9h0.9M390.9 319.6h0.9M399.5 317.1h0.9M401.5 307.0h0.9M403.9 323.4h0.9M404.9 303.6h0.9M403.5 310.0h0.9M401.2 311.8h0.9M398.8 316.2h0.9M394.9 319.1h0.9M401.2 317.4h0.9M398.5 316.5h0.9M395.7 314.3h0.9M399.9 318.6h0.9M394.9 306.1h0.9M402.0 323.1h0.9M391.2 321.1h0.9M392.9 315.4h0.9M399.3 308.4h0.9M402.2 318.7h0.9M408.5 314.2h0.9M406.0 305.3h0.9M397.1 322.6h0.9M401.4 312.8h0.9M399.7 313.0h0.9M402.3 308.7h0.9M401.2 314.2h0.9M405.8 306.2h0.9M404.3 318.2h0.9M394.7 314.9h0.9M397.7 319.0h0.9M399.9 315.7h0.9M403.1 303.7h0.9M399.8 308.8h0.9M400.4 318.2h0.9M402.3 305.0h0.9M401.7 319.6h0.9M403.6 314.7h0.9M398.4 320.9h0.9M401.3 309.5h0.9M402.9 308.2h0.9"/><path d="M407.8 304.7h0.9M405.5 303.2h0.9M407.7 313.8h0.9M399.6 315.5h0.9M400.3 313.5h0.9M403.2 310.1h0.9M398.2 324.3h0.9M395.9 327.5h0.9M396.5 315.5h0.9M397.3 314.5h0.9M400.0 304.7h0.9M386.8 331.1h0.9M390.6 319.2h0.9M390.1 321.4h0.9M397.5 315.8h0.9M406.5 311.4h0.9M400.6 321.2h0.9M398.8 322.9h0.9M405.3 316.2h0.9M404.9 320.2h0.9M398.5 313.6h0.9M410.4 300.6h0.9M404.9 305.4h0.9M396.2 321.9h0.9M402.6 311.9h0.9M405.8 316.6h0.9M397.9 315.7h0.9M398.8 315.1h0.9M392.5 321.5h0.9M397.5 317.4h0.9M404.5 314.2h0.9M400.5 311.4h0.9M407.6 311.3h0.9M398.1 309.6h0.9M412.8 304.3h0.9M398.9 319.2h0.9M392.1 322.8h0.9M405.9 294.5h0.9M409.2 309.2h0.9M393.5 323.1h0.9M404.7 312.1h0.9M399.4 309.1h0.9M390.3 319.6h0.9M397.8 311.0h0.9M395.4 316.7h0.9M399.3 319.0h0.9M407.4 302.8h0.9M398.0 308.9h0.9M400.3 321.6h0.9M406.1 312.1h0.9M403.8 309.5h0.9M406.4 321.2h0.9M393.2 320.5h0.9M396.3 318.6h0.9M409.8 317.7h0.9M395.7 307.7h0.9M403.8 312.2h0.9M398.7 312.5h0.9M400.6 316.5h0.9M400.7 313.2h0.9M387.9 325.7h0.9M401.6 321.6h0.9M399.4 312.4h0.9M395.8 312.9h0.9M392.3 318.0h0.9M409.3 298.8h0.9M393.3 315.6h0.9M401.2 317.1h0.9M401.2 302.8h0.9M406.3 320.0h0.9"/><path d="M410.2 311.4h0.9M413.9 307.8h0.9M401.9 313.0h0.9M401.6 310.1h0.9M406.7 317.7h0.9M403.5 312.2h0.9M409.4 305.1h0.9M396.0 315.4h0.9M399.7 312.1h0.9M406.8 311.8h0.9M401.3 314.7h0.9M405.8 313.7h0.9M400.2 319.3h0.9M404.0 316.1h0.9M397.1 318.7h0.9M387.0 330.6h0.9M398.7 312.1h0.9M404.7 315.1h0.9M406.4 312.5h0.9M396.4 307.4h0.9M396.9 319.0h0.9M399.4 309.9h0.9M387.5 311.6h0.9M403.9 302.3h0.9M399.6 310.0h0.9M396.6 305.2h0.9M398.6 311.3h0.9M396.2 315.3h0.9M395.9 316.4h0.9M395.1 317.7h0.9M402.6 302.3h0.9M392.2 318.3h0.9M393.0 312.5h0.9M408.4 312.2h0.9M397.4 316.5h0.9M405.5 318.8h0.9M397.9 312.6h0.9M393.4 308.5h0.9M408.7 315.1h0.9M405.7 318.0h0.9M400.6 315.3h0.9M396.0 318.5h0.9M394.1 317.0h0.9M405.0 317.0h0.9M402.3 316.0h0.9M410.6 311.2h0.9M399.8 315.9h0.9M402.8 308.1h0.9M415.1 301.9h0.9M396.1 315.4h0.9M403.1 311.8h0.9M405.8 314.2h0.9M394.2 321.7h0.9M396.8 318.1h0.9M399.4 319.3h0.9M402.1 304.7h0.9M403.1 304.7h0.9M393.9 322.9h0.9M398.4 318.2h0.9M402.7 310.7h0.9M404.4 315.5h0.9M396.3 317.7h0.9M394.6 314.3h0.9M400.3 317.1h0.9M394.0 316.5h0.9M398.8 318.3h0.9M392.5 316.9h0.9M403.7 318.6h0.9M391.4 313.7h0.9M412.6 309.6h0.9"/><path d="M393.0 317.4h0.9M404.3 307.4h0.9M409.8 301.8h0.9M401.4 323.1h0.9M406.0 308.1h0.9M403.9 317.7h0.9M404.4 311.7h0.9M394.1 323.5h0.9M394.4 308.3h0.9M406.4 311.1h0.9M396.9 322.5h0.9M405.2 309.2h0.9M400.8 312.2h0.9M399.3 311.1h0.9M389.5 310.6h0.9M402.6 308.6h0.9M394.7 324.7h0.9M397.1 313.4h0.9M399.4 323.6h0.9M398.7 315.4h0.9M384.4 314.7h0.9M392.5 317.6h0.9M400.7 315.9h0.9M401.4 313.3h0.9M388.9 322.1h0.9M402.9 309.2h0.9M398.3 322.8h0.9M393.1 315.4h0.9M408.3 311.7h0.9M397.7 321.5h0.9M402.5 317.0h0.9M398.7 315.8h0.9M395.1 316.7h0.9M399.6 323.9h0.9M400.0 312.3h0.9M402.6 314.7h0.9M396.2 316.8h0.9M395.5 315.6h0.9M395.1 316.4h0.9M404.1 316.6h0.9M398.6 315.2h0.9M391.9 321.6h0.9M398.1 319.4h0.9M398.6 319.0h0.9M402.1 308.5h0.9M396.7 320.6h0.9M392.4 322.5h0.9M399.5 310.7h0.9M387.2 321.7h0.9M402.8 298.7h0.9M400.9 314.3h0.9M402.1 304.0h0.9M397.3 308.3h0.9M397.3 312.8h0.9M396.1 308.4h0.9M407.1 308.7h0.9M401.4 320.0h0.9M397.4 320.4h0.9M398.9 312.9h0.9M401.8 321.1h0.9M393.8 316.0h0.9M399.3 312.7h0.9M402.6 313.3h0.9M401.4 312.7h0.9M399.5 315.1h0.9M396.2 309.3h0.9M399.3 319.2h0.9M395.0 318.1h0.9M405.7 304.6h0.9M397.3 305.2h0.9"/><path d="M405.4 307.1h0.9M392.0 317.8h0.9M397.6 309.9h0.9M407.2 306.0h0.9M401.6 316.4h0.9M397.9 305.9h0.9M401.1 319.8h0.9M397.6 329.4h0.9M406.9 304.3h0.9M396.6 323.0h0.9M398.5 322.5h0.9M395.8 314.0h0.9M399.7 326.3h0.9M404.2 318.2h0.9M400.3 316.4h0.9M400.7 317.2h0.9M410.3 311.6h0.9M400.1 323.3h0.9M401.8 310.1h0.9M403.2 311.4h0.9M405.8 313.6h0.9M388.2 321.3h0.9M395.6 318.9h0.9M398.4 321.9h0.9M407.4 302.7h0.9M400.5 317.9h0.9M394.8 313.3h0.9M394.7 315.6h0.9M393.4 321.0h0.9M400.6 320.0h0.9M405.6 310.3h0.9M399.6 314.3h0.9M395.9 320.1h0.9M398.0 315.0h0.9M394.1 314.0h0.9M398.0 310.5h0.9M402.2 319.9h0.9M403.3 310.0h0.9M401.7 312.9h0.9M394.7 323.1h0.9M402.2 311.7h0.9M405.3 314.4h0.9M405.9 318.1h0.9M396.1 318.6h0.9M394.7 305.2h0.9M407.8 310.2h0.9M403.2 310.2h0.9M397.0 322.4h0.9M410.5 310.1h0.9M402.8 307.8h0.9M400.9 311.2h0.9M396.7 311.2h0.9M397.6 317.2h0.9M398.4 323.4h0.9M390.6 321.8h0.9M394.7 323.0h0.9M400.5 313.7h0.9M405.4 306.7h0.9M399.1 312.8h0.9M407.5 310.7h0.9M402.8 308.7h0.9M401.0 317.4h0.9M405.6 319.2h0.9M401.3 314.2h0.9M401.9 312.3h0.9M407.9 306.5h0.9M397.8 322.9h0.9M399.5 315.5h0.9M407.3 314.3h0.9M410.3 306.9h0.9"/><path d="M391.3 320.7h0.9M402.2 311.6h0.9M405.8 306.0h0.9M399.5 303.6h0.9M399.9 304.9h0.9M402.9 311.6h0.9M402.7 309.3h0.9M396.3 317.7h0.9M390.9 316.1h0.9M396.3 315.9h0.9M402.3 314.6h0.9M404.7 317.6h0.9M406.1 305.2h0.9M385.8 321.5h0.9M405.1 312.9h0.9M396.9 316.3h0.9M395.8 314.5h0.9M399.3 307.6h0.9M399.2 309.2h0.9M394.9 317.6h0.9M404.3 319.8h0.9M405.0 310.8h0.9M402.4 311.9h0.9M397.5 313.5h0.9M402.3 315.7h0.9M393.4 308.9h0.9M402.9 318.2h0.9M401.4 317.9h0.9M406.8 307.0h0.9M405.0 313.7h0.9M394.3 308.2h0.9M393.1 322.5h0.9M406.1 309.2h0.9M396.2 322.3h0.9M397.9 304.7h0.9M400.9 309.3h0.9M400.1 321.4h0.9M394.1 317.2h0.9M399.6 321.3h0.9M407.5 309.8h0.9M402.9 316.5h0.9M394.2 316.3h0.9M394.2 314.7h0.9M396.0 302.6h0.9M398.8 320.8h0.9M401.4 315.4h0.9M393.6 319.0h0.9M400.6 319.3h0.9M398.8 320.1h0.9M399.1 317.5h0.9M399.9 319.5h0.9M406.6 319.8h0.9M401.4 313.3h0.9M391.8 307.7h0.9M400.2 313.7h0.9M391.8 310.5h0.9M399.1 321.3h0.9M403.2 307.7h0.9M398.0 321.4h0.9M398.5 323.7h0.9"/></g>
<g stroke="#000" stroke-width="0.9" stroke-opacity="0.4"><path d="M384.9 324.4h0.9M410.4 309.9h0.9M408.8 314.6h0.9M382.6 313.9h0.9M403.1 311.6h0.9M401.7 305.8h0.9M405.2 329.2h0.9M391.7 320.9h0.9M408.5 312.1h0.9M398.5 312.1h0.9M391.2 312.3h0.9M394.6 324.4h0.9M402.0 320.1h0.9M387.5 322.1h0.9M408.6 304.0h0.9M397.1 308.9h0.9M392.5 317.3h0.9M393.8 307.7h0.9M411.2 310.0h0.9M397.7 325.0h0.9M383.9 320.7h0.9M398.4 301.3h0.9M402.7 318.9h0.9M392.4 316.0h0.9M407.7 309.6h0.9M396.8 317.0h0.9M389.2 319.5h0.9M403.5 322.9h0.9M393.7 334.0h0.9M389.3 320.6h0.9M397.7 313.2h0.9M403.6 318.3h0.9M389.9 314.1h0.9M404.1 313.5h0.9M399.3 321.9h0.9M401.8 318.3h0.9M397.8 314.4h0.9M398.5 326.0h0.9M395.4 327.6h0.9M390.9 323.8h0.9M392.8 317.1h0.9M401.1 312.5h0.9M389.0 322.4h0.9M385.8 321.9h0.9M405.4 321.2h0.9M402.0 321.2h0.9M400.2 320.1h0.9M403.4 318.1h0.9M412.5 308.5h0.9M393.9 321.3h0.9M394.4 323.1h0.9M392.9 317.8h0.9M407.2 300.8h0.9M391.2 325.2h0.9M393.7 326.5h0.9M395.6 319.2h0.9M389.6 324.0h0.9M400.4 319.5h0.9M412.5 317.1h0.9M411.4 301.7h0.9M401.3 313.4h0.9M399.3 324.8h0.9M393.5 319.9h0.9M393.1 336.2h0.9M387.4 315.8h0.9M398.9 326.6h0.9M409.3 297.7h0.9M394.2 306.0h0.9M394.1 318.2h0.9M403.5 326.1h0.9"/><path d="M405.3 302.8h0.9M399.5 322.4h0.9M402.3 312.1h0.9M398.1 321.6h0.9M386.0 321.2h0.9M400.5 311.5h0.9M388.7 319.3h0.9M402.8 321.2h0.9M399.9 326.3h0.9M403.4 313.9h0.9M385.7 329.3h0.9M391.7 319.0h0.9M389.2 323.0h0.9M409.9 309.4h0.9M384.0 322.6h0.9M391.0 315.1h0.9M395.2 310.9h0.9M405.5 317.2h0.9M386.3 316.0h0.9M392.5 312.7h0.9M409.4 310.8h0.9M409.8 305.1h0.9M409.6 308.2h0.9M390.0 322.9h0.9M396.2 320.4h0.9M380.9 313.0h0.9M397.0 313.9h0.9M400.3 309.3h0.9M393.4 319.0h0.9M398.1 312.0h0.9M408.8 311.0h0.9M402.4 311.1h0.9M398.0 318.1h0.9M403.4 309.9h0.9M404.6 306.2h0.9M394.2 324.7h0.9M395.1 311.6h0.9M399.4 310.9h0.9M389.6 312.9h0.9M391.7 317.3h0.9M401.0 309.2h0.9M384.8 317.7h0.9M392.3 318.4h0.9M401.4 320.7h0.9M410.6 311.9h0.9M393.1 299.5h0.9M385.0 309.8h0.9M396.1 316.0h0.9M394.4 326.3h0.9M395.2 313.5h0.9M398.0 326.2h0.9M406.5 316.2h0.9M410.4 303.4h0.9M388.9 320.2h0.9M391.5 307.4h0.9M390.9 314.5h0.9M401.9 321.2h0.9M398.6 319.8h0.9M397.6 310.5h0.9M392.2 318.6h0.9M389.3 325.3h0.9M388.0 316.6h0.9M405.8 319.5h0.9M386.7 320.4h0.9M400.4 325.4h0.9M404.1 314.4h0.9M404.4 314.9h0.9M398.5 311.5h0.9M395.0 312.7h0.9M403.3 314.7h0.9"/><path d="M398.9 319.6h0.9M403.3 319.4h0.9M391.2 318.6h0.9M401.9 322.7h0.9M400.2 313.2h0.9M406.6 312.3h0.9M390.5 316.2h0.9M401.4 313.3h0.9M399.4 317.4h0.9M401.6 320.1h0.9"/></g>
<g stroke="#000" stroke-width="0.9" stroke-opacity="0.4"><path d="M426.3 326.8h0.9M388.0 326.7h0.9M404.3 344.9h0.9M413.5 342.2h0.9M415.8 354.6h0.9M395.9 306.3h0.9M428.3 343.9h0.9M430.5 300.1h0.9M404.8 343.9h0.9M393.7 304.8h0.9M404.8 296.9h0.9M407.0 297.5h0.9M378.2 348.5h0.9M418.1 345.0h0.9M431.5 322.4h0.9M390.9 311.9h0.9M422.0 302.8h0.9M418.3 315.6h0.9M394.9 300.9h0.9M424.0 348.3h0.9M391.9 344.6h0.9M370.7 341.1h0.9M401.8 323.4h0.9M380.2 297.0h0.9M374.0 358.8h0.9M370.8 349.3h0.9M411.7 351.4h0.9M413.1 343.4h0.9M384.2 331.0h0.9M379.9 346.8h0.9M379.4 360.7h0.9M383.4 314.0h0.9M380.4 297.5h0.9M426.7 353.9h0.9M371.2 315.2h0.9M423.5 345.4h0.9M382.8 349.8h0.9M376.4 342.8h0.9M412.6 348.7h0.9M376.0 324.9h0.9M374.9 309.1h0.9M412.5 355.2h0.9M411.7 317.8h0.9M386.7 313.7h0.9M371.2 298.9h0.9M405.1 357.7h0.9M370.9 320.3h0.9M389.2 336.6h0.9M388.1 325.9h0.9M371.4 333.8h0.9"/></g>
<line x1="377.40" y1="306.00" x2="377.40" y2="339.00" stroke="#777" stroke-width="1.0"/>
<path d="M391.6 292.8 V339.0 H433.8 V292.8" stroke="#777" stroke-width="1.0" fill="none"/>
<rect x="377.40" y="339.00" width="14.20" height="25.20" fill="none" stroke="#e02f2f" stroke-width="1.3"/>
<rect x="374.10" y="294.60" width="16.00" height="7.40" fill="#fff" stroke="none" stroke-width="1"/>
<text x="374.40" y="301.20" font-size="8.5" font-weight="bold" textLength="15.3" lengthAdjust="spacingAndGlyphs">80.1</text>
<rect x="414.90" y="294.60" width="16.00" height="7.40" fill="#fff" stroke="none" stroke-width="1"/>
<text x="415.20" y="301.20" font-size="8.5" font-weight="bold" textLength="15.3" lengthAdjust="spacingAndGlyphs">15.9</text>
<rect x="394.40" y="355.80" width="11.70" height="7.40" fill="#fff" stroke="none" stroke-width="1"/>
<text x="394.70" y="362.40" font-size="8.5" font-weight="bold" textLength="11.0" lengthAdjust="spacingAndGlyphs">3.7</text>
<line x1="489.05" y1="216.50" x2="489.05" y2="200.80" stroke="#000" stroke-width="1.0"/>
<line x1="486.45" y1="200.80" x2="491.65" y2="200.80" stroke="#000" stroke-width="1.0"/>
<rect x="484.10" y="216.50" width="9.90" height="51.10" fill="#000" stroke="none" stroke-width="1"/>
<line x1="508.10" y1="240.60" x2="508.10" y2="228.60" stroke="#a6a6a6" stroke-width="1.0"/>
<line x1="505.50" y1="228.60" x2="510.70" y2="228.60" stroke="#a6a6a6" stroke-width="1.0"/>
<rect x="503.20" y="240.60" width="9.80" height="27.00" fill="#a6a6a6" stroke="none" stroke-width="1"/>
<line x1="476.90" y1="195.40" x2="476.90" y2="268.10" stroke="#000" stroke-width="1.2"/>
<line x1="476.40" y1="267.60" x2="518.00" y2="267.60" stroke="#000" stroke-width="1.2"/>
<line x1="474.30" y1="267.60" x2="476.90" y2="267.60" stroke="#000" stroke-width="1.0"/>
<text x="473.70" y="270.90" font-size="8.2" font-weight="bold" text-anchor="end">0</text>
<line x1="474.30" y1="251.80" x2="476.90" y2="251.80" stroke="#000" stroke-width="1.0"/>
<text x="473.70" y="255.10" font-size="8.2" font-weight="bold" text-anchor="end">10</text>
<line x1="474.30" y1="236.00" x2="476.90" y2="236.00" stroke="#000" stroke-width="1.0"/>
<text x="473.70" y="239.30" font-size="8.2" font-weight="bold" text-anchor="end">20</text>
<line x1="474.30" y1="220.20" x2="476.90" y2="220.20" stroke="#000" stroke-width="1.0"/>
<text x="473.70" y="223.50" font-size="8.2" font-weight="bold" text-anchor="end">30</text>
<line x1="474.30" y1="204.40" x2="476.90" y2="204.40" stroke="#000" stroke-width="1.0"/>
<text x="473.70" y="207.70" font-size="8.2" font-weight="bold" text-anchor="end">40</text>
<line x1="475.30" y1="259.70" x2="476.90" y2="259.70" stroke="#000" stroke-width="0.9"/>
<line x1="475.30" y1="243.90" x2="476.90" y2="243.90" stroke="#000" stroke-width="0.9"/>
<line x1="475.30" y1="228.10" x2="476.90" y2="228.10" stroke="#000" stroke-width="0.9"/>
<line x1="475.30" y1="212.30" x2="476.90" y2="212.30" stroke="#000" stroke-width="0.9"/>
<text x="488.80" y="278.10" font-size="9.6" font-weight="bold" text-anchor="middle" textLength="14.8" lengthAdjust="spacingAndGlyphs">WT</text>
<text x="508.70" y="278.10" font-size="9.6" font-weight="bold" text-anchor="middle" textLength="14.8" lengthAdjust="spacingAndGlyphs">KO</text>
<line x1="489.55" y1="324.20" x2="489.55" y2="297.30" stroke="#000" stroke-width="1.0"/>
<line x1="486.95" y1="297.30" x2="492.15" y2="297.30" stroke="#000" stroke-width="1.0"/>
<rect x="484.30" y="324.20" width="10.50" height="40.30" fill="#000" stroke="none" stroke-width="1"/>
<line x1="508.25" y1="349.70" x2="508.25" y2="343.40" stroke="#a6a6a6" stroke-width="1.0"/>
<line x1="505.65" y1="343.40" x2="510.85" y2="343.40" stroke="#a6a6a6" stroke-width="1.0"/>
<rect x="503.20" y="349.70" width="10.10" height="14.80" fill="#a6a6a6" stroke="none" stroke-width="1"/>
<line x1="477.00" y1="290.70" x2="477.00" y2="365.00" stroke="#000" stroke-width="1.2"/>
<line x1="476.50" y1="364.50" x2="518.00" y2="364.50" stroke="#000" stroke-width="1.2"/>
<line x1="474.40" y1="364.60" x2="477.00" y2="364.60" stroke="#000" stroke-width="1.0"/>
<text x="473.80" y="367.90" font-size="7.5" font-weight="bold" text-anchor="end">0</text>
<line x1="474.40" y1="350.10" x2="477.00" y2="350.10" stroke="#000" stroke-width="1.0"/>
<text x="473.80" y="353.40" font-size="7.5" font-weight="bold" text-anchor="end">2.5</text>
<line x1="474.40" y1="335.50" x2="477.00" y2="335.50" stroke="#000" stroke-width="1.0"/>
<text x="473.80" y="338.80" font-size="7.5" font-weight="bold" text-anchor="end">5.0</text>
<line x1="474.40" y1="320.50" x2="477.00" y2="320.50" stroke="#000" stroke-width="1.0"/>
<text x="473.80" y="323.80" font-size="7.5" font-weight="bold" text-anchor="end">7.5</text>
<line x1="474.40" y1="305.60" x2="477.00" y2="305.60" stroke="#000" stroke-width="1.0"/>
<text x="473.80" y="308.90" font-size="7.5" font-weight="bold" text-anchor="end">10.0</text>
<line x1="474.40" y1="291.20" x2="477.00" y2="291.20" stroke="#000" stroke-width="1.0"/>
<text x="473.80" y="294.50" font-size="7.5" font-weight="bold" text-anchor="end">12.5</text>
<text x="488.80" y="375.20" font-size="9.6" font-weight="bold" text-anchor="middle" textLength="14.8" lengthAdjust="spacingAndGlyphs">WT</text>
<text x="508.70" y="375.20" font-size="9.6" font-weight="bold" text-anchor="middle" textLength="14.8" lengthAdjust="spacingAndGlyphs">KO</text>
<text x="461.50" y="232.20" font-size="7.6" font-weight="bold" text-anchor="middle" textLength="77" lengthAdjust="spacingAndGlyphs" transform="rotate(-90 461.50 232.20)">Percentage of cells</text>
<text x="456.80" y="327.20" font-size="7.6" font-weight="bold" text-anchor="middle" textLength="77" lengthAdjust="spacingAndGlyphs" transform="rotate(-90 456.80 327.20)">Percentage of cells</text>
<text x="486.80" y="178.90" font-size="9.2" font-weight="bold">G<tspan font-size="5.4" dy="2.6">0</tspan><tspan dy="-2.6">/G</tspan><tspan font-size="5.4" dy="2.6">1</tspan></text>
<text x="500.00" y="188.40" font-size="9.5" font-weight="bold" text-anchor="middle" textLength="27.6" lengthAdjust="spacingAndGlyphs">phase</text>
<polygon points="504.10,216.85 504.92,218.87 507.10,219.03 505.43,220.43 505.95,222.55 504.10,221.40 502.25,222.55 502.77,220.43 501.10,219.03 503.28,218.87" fill="#000"/>
<polygon points="512.00,216.85 512.82,218.87 515.00,219.03 513.33,220.43 513.85,222.55 512.00,221.40 510.15,222.55 510.67,220.43 509.00,219.03 511.18,218.87" fill="#000"/>
<polygon points="508.40,334.95 509.22,336.97 511.40,337.13 509.73,338.53 510.25,340.65 508.40,339.50 506.55,340.65 507.07,338.53 505.40,337.13 507.58,336.97" fill="#000"/>
</svg></body></html>
